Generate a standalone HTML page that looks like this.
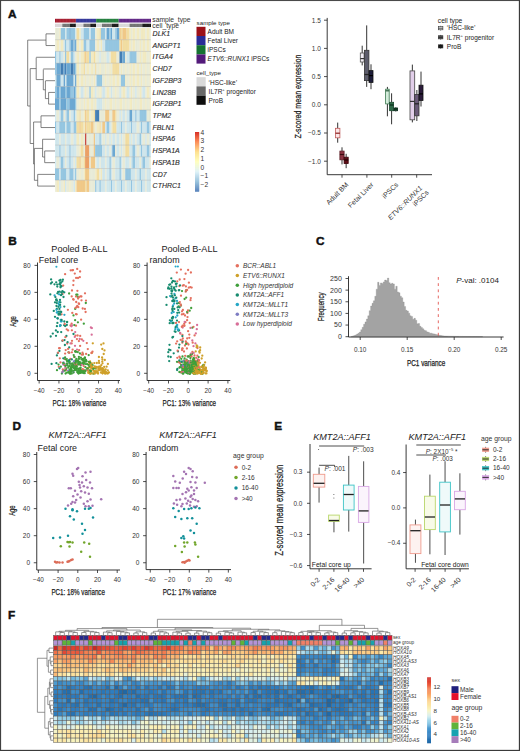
<!DOCTYPE html>
<html><head><meta charset="utf-8"><title>Figure</title>
<style>
html,body{margin:0;padding:0;background:#fff;}
body{width:520px;height:751px;overflow:hidden;}
svg{display:block;font-family:"Liberation Sans", sans-serif;}
</style></head>
<body>
<svg width="520" height="751" viewBox="0 0 520 751">
<rect x="0" y="0" width="520" height="751" fill="#fff"/>
<text x="7.90" y="17.90" font-size="11.8" fill="#111" stroke="#111" stroke-width="0.45" font-weight="bold">A</text>
<rect x="55.00" y="28.00" width="4.30" height="11.71" fill="#eef1dc"/>
<rect x="59.30" y="28.00" width="1.43" height="11.71" fill="#f8f0c4"/>
<rect x="60.73" y="28.00" width="4.30" height="11.71" fill="#94c9e6"/>
<rect x="65.03" y="28.00" width="1.43" height="11.71" fill="#d4ecf2"/>
<rect x="66.46" y="28.00" width="2.87" height="11.71" fill="#94c9e6"/>
<rect x="69.33" y="28.00" width="1.43" height="11.71" fill="#67a8d6"/>
<rect x="70.76" y="28.00" width="4.30" height="11.71" fill="#94c9e6"/>
<rect x="75.06" y="28.00" width="1.43" height="11.71" fill="#d4ecf2"/>
<rect x="76.49" y="28.00" width="2.87" height="11.71" fill="#f8e2a2"/>
<rect x="79.36" y="28.00" width="1.43" height="11.71" fill="#f8f0c4"/>
<rect x="80.79" y="28.00" width="2.87" height="11.71" fill="#d4ecf2"/>
<rect x="83.66" y="28.00" width="5.73" height="11.71" fill="#94c9e6"/>
<rect x="89.39" y="28.00" width="1.43" height="11.71" fill="#d4ecf2"/>
<rect x="90.82" y="28.00" width="4.30" height="11.71" fill="#94c9e6"/>
<rect x="95.12" y="28.00" width="1.43" height="11.71" fill="#eef1dc"/>
<rect x="96.55" y="28.00" width="2.87" height="11.71" fill="#f8f0c4"/>
<rect x="99.42" y="28.00" width="1.43" height="11.71" fill="#f8e2a2"/>
<rect x="100.85" y="28.00" width="4.30" height="11.71" fill="#94c9e6"/>
<rect x="105.15" y="28.00" width="1.43" height="11.71" fill="#d4ecf2"/>
<rect x="106.58" y="28.00" width="2.87" height="11.71" fill="#67a8d6"/>
<rect x="109.45" y="28.00" width="1.43" height="11.71" fill="#94c9e6"/>
<rect x="110.88" y="28.00" width="1.43" height="11.71" fill="#67a8d6"/>
<rect x="112.31" y="28.00" width="2.87" height="11.71" fill="#d4ecf2"/>
<rect x="115.18" y="28.00" width="1.43" height="11.71" fill="#94c9e6"/>
<rect x="116.61" y="28.00" width="2.87" height="11.71" fill="#67a8d6"/>
<rect x="119.48" y="28.00" width="1.43" height="11.71" fill="#f7cc86"/>
<rect x="120.91" y="28.00" width="1.43" height="11.71" fill="#f8e2a2"/>
<rect x="122.34" y="28.00" width="4.30" height="11.71" fill="#f7cc86"/>
<rect x="126.64" y="28.00" width="2.87" height="11.71" fill="#f8e2a2"/>
<rect x="129.51" y="28.00" width="1.43" height="11.71" fill="#f8f0c4"/>
<rect x="130.94" y="28.00" width="1.43" height="11.71" fill="#eef1dc"/>
<rect x="132.37" y="28.00" width="2.87" height="11.71" fill="#f8f0c4"/>
<rect x="135.24" y="28.00" width="1.43" height="11.71" fill="#eef1dc"/>
<rect x="136.67" y="28.00" width="2.87" height="11.71" fill="#f8f0c4"/>
<rect x="139.54" y="28.00" width="1.43" height="11.71" fill="#eef1dc"/>
<rect x="140.97" y="28.00" width="4.30" height="11.71" fill="#f8f0c4"/>
<rect x="145.27" y="28.00" width="1.43" height="11.71" fill="#eef1dc"/>
<rect x="146.70" y="28.00" width="2.87" height="11.71" fill="#f8f0c4"/>
<rect x="149.57" y="28.00" width="1.43" height="11.71" fill="#eef1dc"/>
<rect x="55.00" y="39.71" width="1.43" height="11.71" fill="#eef1dc"/>
<rect x="56.43" y="39.71" width="2.87" height="11.71" fill="#f8f0c4"/>
<rect x="59.30" y="39.71" width="1.43" height="11.71" fill="#eef1dc"/>
<rect x="60.73" y="39.71" width="2.87" height="11.71" fill="#f8f0c4"/>
<rect x="63.60" y="39.71" width="1.43" height="11.71" fill="#d4ecf2"/>
<rect x="65.03" y="39.71" width="1.43" height="11.71" fill="#94c9e6"/>
<rect x="66.46" y="39.71" width="2.87" height="11.71" fill="#d4ecf2"/>
<rect x="69.33" y="39.71" width="1.43" height="11.71" fill="#94c9e6"/>
<rect x="70.76" y="39.71" width="2.87" height="11.71" fill="#67a8d6"/>
<rect x="73.63" y="39.71" width="1.43" height="11.71" fill="#94c9e6"/>
<rect x="75.06" y="39.71" width="1.43" height="11.71" fill="#67a8d6"/>
<rect x="76.49" y="39.71" width="2.87" height="11.71" fill="#f8f0c4"/>
<rect x="79.36" y="39.71" width="1.43" height="11.71" fill="#eef1dc"/>
<rect x="80.79" y="39.71" width="2.87" height="11.71" fill="#f8f0c4"/>
<rect x="83.66" y="39.71" width="2.87" height="11.71" fill="#94c9e6"/>
<rect x="86.52" y="39.71" width="2.87" height="11.71" fill="#d4ecf2"/>
<rect x="89.39" y="39.71" width="5.73" height="11.71" fill="#94c9e6"/>
<rect x="95.12" y="39.71" width="1.43" height="11.71" fill="#eef1dc"/>
<rect x="96.55" y="39.71" width="2.87" height="11.71" fill="#f8f0c4"/>
<rect x="99.42" y="39.71" width="1.43" height="11.71" fill="#eef1dc"/>
<rect x="100.85" y="39.71" width="1.43" height="11.71" fill="#f8f0c4"/>
<rect x="102.28" y="39.71" width="2.87" height="11.71" fill="#d4ecf2"/>
<rect x="105.15" y="39.71" width="14.33" height="11.71" fill="#94c9e6"/>
<rect x="119.48" y="39.71" width="1.43" height="11.71" fill="#f8e2a2"/>
<rect x="120.91" y="39.71" width="1.43" height="11.71" fill="#f7cc86"/>
<rect x="122.34" y="39.71" width="7.16" height="11.71" fill="#f8e2a2"/>
<rect x="129.51" y="39.71" width="1.43" height="11.71" fill="#f8f0c4"/>
<rect x="130.94" y="39.71" width="1.43" height="11.71" fill="#eef1dc"/>
<rect x="132.37" y="39.71" width="2.87" height="11.71" fill="#f8f0c4"/>
<rect x="135.24" y="39.71" width="4.30" height="11.71" fill="#eef1dc"/>
<rect x="139.54" y="39.71" width="1.43" height="11.71" fill="#f8f0c4"/>
<rect x="140.97" y="39.71" width="1.43" height="11.71" fill="#eef1dc"/>
<rect x="142.40" y="39.71" width="2.87" height="11.71" fill="#f8f0c4"/>
<rect x="145.27" y="39.71" width="1.43" height="11.71" fill="#eef1dc"/>
<rect x="146.70" y="39.71" width="2.87" height="11.71" fill="#f8f0c4"/>
<rect x="149.57" y="39.71" width="1.43" height="11.71" fill="#eef1dc"/>
<rect x="55.00" y="51.42" width="1.43" height="11.71" fill="#94c9e6"/>
<rect x="56.43" y="51.42" width="2.87" height="11.71" fill="#d4ecf2"/>
<rect x="59.30" y="51.42" width="1.43" height="11.71" fill="#94c9e6"/>
<rect x="60.73" y="51.42" width="2.87" height="11.71" fill="#d4ecf2"/>
<rect x="63.60" y="51.42" width="1.43" height="11.71" fill="#eef1dc"/>
<rect x="65.03" y="51.42" width="1.43" height="11.71" fill="#94c9e6"/>
<rect x="66.46" y="51.42" width="2.87" height="11.71" fill="#f8e2a2"/>
<rect x="69.33" y="51.42" width="1.43" height="11.71" fill="#eef1dc"/>
<rect x="70.76" y="51.42" width="2.87" height="11.71" fill="#94c9e6"/>
<rect x="73.63" y="51.42" width="1.43" height="11.71" fill="#d4ecf2"/>
<rect x="75.06" y="51.42" width="1.43" height="11.71" fill="#eef1dc"/>
<rect x="76.49" y="51.42" width="2.87" height="11.71" fill="#f8f0c4"/>
<rect x="79.36" y="51.42" width="1.43" height="11.71" fill="#eef1dc"/>
<rect x="80.79" y="51.42" width="2.87" height="11.71" fill="#f8f0c4"/>
<rect x="83.66" y="51.42" width="1.43" height="11.71" fill="#f8e2a2"/>
<rect x="85.09" y="51.42" width="1.43" height="11.71" fill="#f7cc86"/>
<rect x="86.52" y="51.42" width="2.87" height="11.71" fill="#f8e2a2"/>
<rect x="89.39" y="51.42" width="1.43" height="11.71" fill="#94c9e6"/>
<rect x="90.82" y="51.42" width="2.87" height="11.71" fill="#f8f0c4"/>
<rect x="93.69" y="51.42" width="1.43" height="11.71" fill="#f8e2a2"/>
<rect x="95.12" y="51.42" width="1.43" height="11.71" fill="#f8f0c4"/>
<rect x="96.55" y="51.42" width="2.87" height="11.71" fill="#eef1dc"/>
<rect x="99.42" y="51.42" width="1.43" height="11.71" fill="#d4ecf2"/>
<rect x="100.85" y="51.42" width="5.73" height="11.71" fill="#eef1dc"/>
<rect x="106.58" y="51.42" width="2.87" height="11.71" fill="#d4ecf2"/>
<rect x="109.45" y="51.42" width="1.43" height="11.71" fill="#eef1dc"/>
<rect x="110.88" y="51.42" width="5.73" height="11.71" fill="#f8e2a2"/>
<rect x="116.61" y="51.42" width="2.87" height="11.71" fill="#eef1dc"/>
<rect x="119.48" y="51.42" width="2.87" height="11.71" fill="#3d7cb6"/>
<rect x="122.34" y="51.42" width="2.87" height="11.71" fill="#67a8d6"/>
<rect x="125.21" y="51.42" width="1.43" height="11.71" fill="#eef1dc"/>
<rect x="126.64" y="51.42" width="2.87" height="11.71" fill="#d4ecf2"/>
<rect x="129.51" y="51.42" width="7.16" height="11.71" fill="#94c9e6"/>
<rect x="136.67" y="51.42" width="2.87" height="11.71" fill="#eef1dc"/>
<rect x="139.54" y="51.42" width="1.43" height="11.71" fill="#f8f0c4"/>
<rect x="140.97" y="51.42" width="1.43" height="11.71" fill="#eef1dc"/>
<rect x="142.40" y="51.42" width="4.30" height="11.71" fill="#f8f0c4"/>
<rect x="146.70" y="51.42" width="2.87" height="11.71" fill="#eef1dc"/>
<rect x="149.57" y="51.42" width="1.43" height="11.71" fill="#f8f0c4"/>
<rect x="55.00" y="63.13" width="1.43" height="11.71" fill="#94c9e6"/>
<rect x="56.43" y="63.13" width="4.30" height="11.71" fill="#67a8d6"/>
<rect x="60.73" y="63.13" width="2.87" height="11.71" fill="#3d7cb6"/>
<rect x="63.60" y="63.13" width="1.43" height="11.71" fill="#67a8d6"/>
<rect x="65.03" y="63.13" width="1.43" height="11.71" fill="#3d7cb6"/>
<rect x="66.46" y="63.13" width="4.30" height="11.71" fill="#67a8d6"/>
<rect x="70.76" y="63.13" width="2.87" height="11.71" fill="#3d7cb6"/>
<rect x="73.63" y="63.13" width="1.43" height="11.71" fill="#67a8d6"/>
<rect x="75.06" y="63.13" width="1.43" height="11.71" fill="#94c9e6"/>
<rect x="76.49" y="63.13" width="2.87" height="11.71" fill="#f8f0c4"/>
<rect x="79.36" y="63.13" width="1.43" height="11.71" fill="#eef1dc"/>
<rect x="80.79" y="63.13" width="2.87" height="11.71" fill="#f8f0c4"/>
<rect x="83.66" y="63.13" width="1.43" height="11.71" fill="#f8e2a2"/>
<rect x="85.09" y="63.13" width="1.43" height="11.71" fill="#eef1dc"/>
<rect x="86.52" y="63.13" width="2.87" height="11.71" fill="#f8f0c4"/>
<rect x="89.39" y="63.13" width="1.43" height="11.71" fill="#eef1dc"/>
<rect x="90.82" y="63.13" width="2.87" height="11.71" fill="#f8f0c4"/>
<rect x="93.69" y="63.13" width="1.43" height="11.71" fill="#eef1dc"/>
<rect x="95.12" y="63.13" width="1.43" height="11.71" fill="#f8e2a2"/>
<rect x="96.55" y="63.13" width="2.87" height="11.71" fill="#eef1dc"/>
<rect x="99.42" y="63.13" width="1.43" height="11.71" fill="#f8f0c4"/>
<rect x="100.85" y="63.13" width="4.30" height="11.71" fill="#eef1dc"/>
<rect x="105.15" y="63.13" width="1.43" height="11.71" fill="#f8f0c4"/>
<rect x="106.58" y="63.13" width="2.87" height="11.71" fill="#eef1dc"/>
<rect x="109.45" y="63.13" width="1.43" height="11.71" fill="#f8f0c4"/>
<rect x="110.88" y="63.13" width="1.43" height="11.71" fill="#eef1dc"/>
<rect x="112.31" y="63.13" width="7.16" height="11.71" fill="#f8e2a2"/>
<rect x="119.48" y="63.13" width="1.43" height="11.71" fill="#eef1dc"/>
<rect x="120.91" y="63.13" width="1.43" height="11.71" fill="#f8f0c4"/>
<rect x="122.34" y="63.13" width="2.87" height="11.71" fill="#eef1dc"/>
<rect x="125.21" y="63.13" width="1.43" height="11.71" fill="#f8f0c4"/>
<rect x="126.64" y="63.13" width="2.87" height="11.71" fill="#eef1dc"/>
<rect x="129.51" y="63.13" width="1.43" height="11.71" fill="#f8f0c4"/>
<rect x="130.94" y="63.13" width="1.43" height="11.71" fill="#eef1dc"/>
<rect x="132.37" y="63.13" width="2.87" height="11.71" fill="#f8f0c4"/>
<rect x="135.24" y="63.13" width="1.43" height="11.71" fill="#eef1dc"/>
<rect x="136.67" y="63.13" width="2.87" height="11.71" fill="#f8f0c4"/>
<rect x="139.54" y="63.13" width="1.43" height="11.71" fill="#eef1dc"/>
<rect x="140.97" y="63.13" width="1.43" height="11.71" fill="#f8f0c4"/>
<rect x="142.40" y="63.13" width="2.87" height="11.71" fill="#eef1dc"/>
<rect x="145.27" y="63.13" width="1.43" height="11.71" fill="#f8f0c4"/>
<rect x="146.70" y="63.13" width="2.87" height="11.71" fill="#eef1dc"/>
<rect x="149.57" y="63.13" width="1.43" height="11.71" fill="#f8f0c4"/>
<rect x="55.00" y="74.84" width="1.43" height="11.71" fill="#d4ecf2"/>
<rect x="56.43" y="74.84" width="4.30" height="11.71" fill="#67a8d6"/>
<rect x="60.73" y="74.84" width="2.87" height="11.71" fill="#d4ecf2"/>
<rect x="63.60" y="74.84" width="1.43" height="11.71" fill="#67a8d6"/>
<rect x="65.03" y="74.84" width="1.43" height="11.71" fill="#d4ecf2"/>
<rect x="66.46" y="74.84" width="7.16" height="11.71" fill="#67a8d6"/>
<rect x="73.63" y="74.84" width="1.43" height="11.71" fill="#d4ecf2"/>
<rect x="75.06" y="74.84" width="1.43" height="11.71" fill="#67a8d6"/>
<rect x="76.49" y="74.84" width="2.87" height="11.71" fill="#f8f0c4"/>
<rect x="79.36" y="74.84" width="1.43" height="11.71" fill="#eef1dc"/>
<rect x="80.79" y="74.84" width="2.87" height="11.71" fill="#f8f0c4"/>
<rect x="83.66" y="74.84" width="1.43" height="11.71" fill="#eef1dc"/>
<rect x="85.09" y="74.84" width="1.43" height="11.71" fill="#f8f0c4"/>
<rect x="86.52" y="74.84" width="2.87" height="11.71" fill="#eef1dc"/>
<rect x="89.39" y="74.84" width="1.43" height="11.71" fill="#f8f0c4"/>
<rect x="90.82" y="74.84" width="2.87" height="11.71" fill="#eef1dc"/>
<rect x="93.69" y="74.84" width="1.43" height="11.71" fill="#f8f0c4"/>
<rect x="95.12" y="74.84" width="1.43" height="11.71" fill="#eef1dc"/>
<rect x="96.55" y="74.84" width="5.73" height="11.71" fill="#94c9e6"/>
<rect x="102.28" y="74.84" width="2.87" height="11.71" fill="#eef1dc"/>
<rect x="105.15" y="74.84" width="1.43" height="11.71" fill="#f8f0c4"/>
<rect x="106.58" y="74.84" width="2.87" height="11.71" fill="#eef1dc"/>
<rect x="109.45" y="74.84" width="1.43" height="11.71" fill="#f8f0c4"/>
<rect x="110.88" y="74.84" width="1.43" height="11.71" fill="#eef1dc"/>
<rect x="112.31" y="74.84" width="2.87" height="11.71" fill="#f8f0c4"/>
<rect x="115.18" y="74.84" width="1.43" height="11.71" fill="#eef1dc"/>
<rect x="116.61" y="74.84" width="2.87" height="11.71" fill="#f8f0c4"/>
<rect x="119.48" y="74.84" width="1.43" height="11.71" fill="#eef1dc"/>
<rect x="120.91" y="74.84" width="4.30" height="11.71" fill="#94c9e6"/>
<rect x="125.21" y="74.84" width="1.43" height="11.71" fill="#f8f0c4"/>
<rect x="126.64" y="74.84" width="2.87" height="11.71" fill="#eef1dc"/>
<rect x="129.51" y="74.84" width="1.43" height="11.71" fill="#f8f0c4"/>
<rect x="130.94" y="74.84" width="1.43" height="11.71" fill="#eef1dc"/>
<rect x="132.37" y="74.84" width="2.87" height="11.71" fill="#f8f0c4"/>
<rect x="135.24" y="74.84" width="1.43" height="11.71" fill="#eef1dc"/>
<rect x="136.67" y="74.84" width="2.87" height="11.71" fill="#f8f0c4"/>
<rect x="139.54" y="74.84" width="1.43" height="11.71" fill="#eef1dc"/>
<rect x="140.97" y="74.84" width="1.43" height="11.71" fill="#f8f0c4"/>
<rect x="142.40" y="74.84" width="2.87" height="11.71" fill="#eef1dc"/>
<rect x="145.27" y="74.84" width="1.43" height="11.71" fill="#f8f0c4"/>
<rect x="146.70" y="74.84" width="2.87" height="11.71" fill="#eef1dc"/>
<rect x="149.57" y="74.84" width="1.43" height="11.71" fill="#f8f0c4"/>
<rect x="55.00" y="86.55" width="1.43" height="11.71" fill="#94c9e6"/>
<rect x="56.43" y="86.55" width="2.87" height="11.71" fill="#67a8d6"/>
<rect x="59.30" y="86.55" width="1.43" height="11.71" fill="#94c9e6"/>
<rect x="60.73" y="86.55" width="4.30" height="11.71" fill="#67a8d6"/>
<rect x="65.03" y="86.55" width="1.43" height="11.71" fill="#94c9e6"/>
<rect x="66.46" y="86.55" width="4.30" height="11.71" fill="#67a8d6"/>
<rect x="70.76" y="86.55" width="2.87" height="11.71" fill="#94c9e6"/>
<rect x="73.63" y="86.55" width="1.43" height="11.71" fill="#67a8d6"/>
<rect x="75.06" y="86.55" width="1.43" height="11.71" fill="#94c9e6"/>
<rect x="76.49" y="86.55" width="2.87" height="11.71" fill="#f8f0c4"/>
<rect x="79.36" y="86.55" width="1.43" height="11.71" fill="#eef1dc"/>
<rect x="80.79" y="86.55" width="2.87" height="11.71" fill="#d4ecf2"/>
<rect x="83.66" y="86.55" width="1.43" height="11.71" fill="#eef1dc"/>
<rect x="85.09" y="86.55" width="1.43" height="11.71" fill="#f8f0c4"/>
<rect x="86.52" y="86.55" width="2.87" height="11.71" fill="#eef1dc"/>
<rect x="89.39" y="86.55" width="1.43" height="11.71" fill="#94c9e6"/>
<rect x="90.82" y="86.55" width="2.87" height="11.71" fill="#f8f0c4"/>
<rect x="93.69" y="86.55" width="1.43" height="11.71" fill="#eef1dc"/>
<rect x="95.12" y="86.55" width="1.43" height="11.71" fill="#d4ecf2"/>
<rect x="96.55" y="86.55" width="2.87" height="11.71" fill="#eef1dc"/>
<rect x="99.42" y="86.55" width="1.43" height="11.71" fill="#f8f0c4"/>
<rect x="100.85" y="86.55" width="1.43" height="11.71" fill="#eef1dc"/>
<rect x="102.28" y="86.55" width="2.87" height="11.71" fill="#d4ecf2"/>
<rect x="105.15" y="86.55" width="1.43" height="11.71" fill="#eef1dc"/>
<rect x="106.58" y="86.55" width="2.87" height="11.71" fill="#f8f0c4"/>
<rect x="109.45" y="86.55" width="1.43" height="11.71" fill="#eef1dc"/>
<rect x="110.88" y="86.55" width="1.43" height="11.71" fill="#d4ecf2"/>
<rect x="112.31" y="86.55" width="2.87" height="11.71" fill="#eef1dc"/>
<rect x="115.18" y="86.55" width="1.43" height="11.71" fill="#f8f0c4"/>
<rect x="116.61" y="86.55" width="2.87" height="11.71" fill="#eef1dc"/>
<rect x="119.48" y="86.55" width="1.43" height="11.71" fill="#d4ecf2"/>
<rect x="120.91" y="86.55" width="1.43" height="11.71" fill="#eef1dc"/>
<rect x="122.34" y="86.55" width="2.87" height="11.71" fill="#f8f0c4"/>
<rect x="125.21" y="86.55" width="1.43" height="11.71" fill="#eef1dc"/>
<rect x="126.64" y="86.55" width="2.87" height="11.71" fill="#d4ecf2"/>
<rect x="129.51" y="86.55" width="1.43" height="11.71" fill="#eef1dc"/>
<rect x="130.94" y="86.55" width="1.43" height="11.71" fill="#f8f0c4"/>
<rect x="132.37" y="86.55" width="2.87" height="11.71" fill="#eef1dc"/>
<rect x="135.24" y="86.55" width="1.43" height="11.71" fill="#d4ecf2"/>
<rect x="136.67" y="86.55" width="2.87" height="11.71" fill="#eef1dc"/>
<rect x="139.54" y="86.55" width="1.43" height="11.71" fill="#f8f0c4"/>
<rect x="140.97" y="86.55" width="1.43" height="11.71" fill="#eef1dc"/>
<rect x="142.40" y="86.55" width="2.87" height="11.71" fill="#d4ecf2"/>
<rect x="145.27" y="86.55" width="1.43" height="11.71" fill="#eef1dc"/>
<rect x="146.70" y="86.55" width="2.87" height="11.71" fill="#f8f0c4"/>
<rect x="149.57" y="86.55" width="1.43" height="11.71" fill="#eef1dc"/>
<rect x="55.00" y="98.26" width="4.30" height="11.71" fill="#67a8d6"/>
<rect x="59.30" y="98.26" width="1.43" height="11.71" fill="#94c9e6"/>
<rect x="60.73" y="98.26" width="5.73" height="11.71" fill="#67a8d6"/>
<rect x="66.46" y="98.26" width="2.87" height="11.71" fill="#94c9e6"/>
<rect x="69.33" y="98.26" width="5.73" height="11.71" fill="#67a8d6"/>
<rect x="75.06" y="98.26" width="1.43" height="11.71" fill="#94c9e6"/>
<rect x="76.49" y="98.26" width="2.87" height="11.71" fill="#eef1dc"/>
<rect x="79.36" y="98.26" width="1.43" height="11.71" fill="#f8f0c4"/>
<rect x="80.79" y="98.26" width="2.87" height="11.71" fill="#eef1dc"/>
<rect x="83.66" y="98.26" width="1.43" height="11.71" fill="#f8f0c4"/>
<rect x="85.09" y="98.26" width="1.43" height="11.71" fill="#eef1dc"/>
<rect x="86.52" y="98.26" width="2.87" height="11.71" fill="#f8f0c4"/>
<rect x="89.39" y="98.26" width="1.43" height="11.71" fill="#eef1dc"/>
<rect x="90.82" y="98.26" width="2.87" height="11.71" fill="#f8f0c4"/>
<rect x="93.69" y="98.26" width="1.43" height="11.71" fill="#eef1dc"/>
<rect x="95.12" y="98.26" width="1.43" height="11.71" fill="#f8f0c4"/>
<rect x="96.55" y="98.26" width="5.73" height="11.71" fill="#d4ecf2"/>
<rect x="102.28" y="98.26" width="2.87" height="11.71" fill="#eef1dc"/>
<rect x="105.15" y="98.26" width="1.43" height="11.71" fill="#f8f0c4"/>
<rect x="106.58" y="98.26" width="2.87" height="11.71" fill="#eef1dc"/>
<rect x="109.45" y="98.26" width="2.87" height="11.71" fill="#f8f0c4"/>
<rect x="112.31" y="98.26" width="2.87" height="11.71" fill="#eef1dc"/>
<rect x="115.18" y="98.26" width="1.43" height="11.71" fill="#f8f0c4"/>
<rect x="116.61" y="98.26" width="2.87" height="11.71" fill="#eef1dc"/>
<rect x="119.48" y="98.26" width="2.87" height="11.71" fill="#f8f0c4"/>
<rect x="122.34" y="98.26" width="2.87" height="11.71" fill="#eef1dc"/>
<rect x="125.21" y="98.26" width="1.43" height="11.71" fill="#f8f0c4"/>
<rect x="126.64" y="98.26" width="2.87" height="11.71" fill="#eef1dc"/>
<rect x="129.51" y="98.26" width="2.87" height="11.71" fill="#f8f0c4"/>
<rect x="132.37" y="98.26" width="2.87" height="11.71" fill="#eef1dc"/>
<rect x="135.24" y="98.26" width="1.43" height="11.71" fill="#f8f0c4"/>
<rect x="136.67" y="98.26" width="2.87" height="11.71" fill="#eef1dc"/>
<rect x="139.54" y="98.26" width="2.87" height="11.71" fill="#f8f0c4"/>
<rect x="142.40" y="98.26" width="2.87" height="11.71" fill="#eef1dc"/>
<rect x="145.27" y="98.26" width="1.43" height="11.71" fill="#f8f0c4"/>
<rect x="146.70" y="98.26" width="2.87" height="11.71" fill="#eef1dc"/>
<rect x="149.57" y="98.26" width="1.43" height="11.71" fill="#f8f0c4"/>
<rect x="55.00" y="109.97" width="1.43" height="11.71" fill="#d4ecf2"/>
<rect x="56.43" y="109.97" width="2.87" height="11.71" fill="#eef1dc"/>
<rect x="59.30" y="109.97" width="1.43" height="11.71" fill="#d4ecf2"/>
<rect x="60.73" y="109.97" width="2.87" height="11.71" fill="#94c9e6"/>
<rect x="63.60" y="109.97" width="1.43" height="11.71" fill="#eef1dc"/>
<rect x="65.03" y="109.97" width="1.43" height="11.71" fill="#d4ecf2"/>
<rect x="66.46" y="109.97" width="2.87" height="11.71" fill="#94c9e6"/>
<rect x="69.33" y="109.97" width="1.43" height="11.71" fill="#eef1dc"/>
<rect x="70.76" y="109.97" width="2.87" height="11.71" fill="#d4ecf2"/>
<rect x="73.63" y="109.97" width="1.43" height="11.71" fill="#94c9e6"/>
<rect x="75.06" y="109.97" width="1.43" height="11.71" fill="#d4ecf2"/>
<rect x="76.49" y="109.97" width="2.87" height="11.71" fill="#f8f0c4"/>
<rect x="79.36" y="109.97" width="1.43" height="11.71" fill="#f8e2a2"/>
<rect x="80.79" y="109.97" width="2.87" height="11.71" fill="#eef1dc"/>
<rect x="83.66" y="109.97" width="1.43" height="11.71" fill="#f8f0c4"/>
<rect x="85.09" y="109.97" width="1.43" height="11.71" fill="#f7cc86"/>
<rect x="86.52" y="109.97" width="2.87" height="11.71" fill="#f8e2a2"/>
<rect x="89.39" y="109.97" width="1.43" height="11.71" fill="#eef1dc"/>
<rect x="90.82" y="109.97" width="2.87" height="11.71" fill="#f8f0c4"/>
<rect x="93.69" y="109.97" width="1.43" height="11.71" fill="#f8e2a2"/>
<rect x="95.12" y="109.97" width="4.30" height="11.71" fill="#3d7cb6"/>
<rect x="99.42" y="109.97" width="5.73" height="11.71" fill="#eef1dc"/>
<rect x="105.15" y="109.97" width="4.30" height="11.71" fill="#f7cc86"/>
<rect x="109.45" y="109.97" width="2.87" height="11.71" fill="#eef1dc"/>
<rect x="112.31" y="109.97" width="2.87" height="11.71" fill="#f7cc86"/>
<rect x="115.18" y="109.97" width="1.43" height="11.71" fill="#f8e2a2"/>
<rect x="116.61" y="109.97" width="2.87" height="11.71" fill="#eef1dc"/>
<rect x="119.48" y="109.97" width="1.43" height="11.71" fill="#d4ecf2"/>
<rect x="120.91" y="109.97" width="1.43" height="11.71" fill="#eef1dc"/>
<rect x="122.34" y="109.97" width="2.87" height="11.71" fill="#d4ecf2"/>
<rect x="125.21" y="109.97" width="1.43" height="11.71" fill="#eef1dc"/>
<rect x="126.64" y="109.97" width="2.87" height="11.71" fill="#d4ecf2"/>
<rect x="129.51" y="109.97" width="2.87" height="11.71" fill="#67a8d6"/>
<rect x="132.37" y="109.97" width="2.87" height="11.71" fill="#d4ecf2"/>
<rect x="135.24" y="109.97" width="1.43" height="11.71" fill="#94c9e6"/>
<rect x="136.67" y="109.97" width="2.87" height="11.71" fill="#d4ecf2"/>
<rect x="139.54" y="109.97" width="7.16" height="11.71" fill="#94c9e6"/>
<rect x="146.70" y="109.97" width="4.30" height="11.71" fill="#eef1dc"/>
<rect x="55.00" y="121.68" width="1.43" height="11.71" fill="#94c9e6"/>
<rect x="56.43" y="121.68" width="2.87" height="11.71" fill="#d4ecf2"/>
<rect x="59.30" y="121.68" width="5.73" height="11.71" fill="#94c9e6"/>
<rect x="65.03" y="121.68" width="1.43" height="11.71" fill="#d4ecf2"/>
<rect x="66.46" y="121.68" width="4.30" height="11.71" fill="#94c9e6"/>
<rect x="70.76" y="121.68" width="2.87" height="11.71" fill="#d4ecf2"/>
<rect x="73.63" y="121.68" width="2.87" height="11.71" fill="#94c9e6"/>
<rect x="76.49" y="121.68" width="2.87" height="11.71" fill="#f8e2a2"/>
<rect x="79.36" y="121.68" width="1.43" height="11.71" fill="#f7cc86"/>
<rect x="80.79" y="121.68" width="2.87" height="11.71" fill="#f8e2a2"/>
<rect x="83.66" y="121.68" width="1.43" height="11.71" fill="#f8f0c4"/>
<rect x="85.09" y="121.68" width="1.43" height="11.71" fill="#f7cc86"/>
<rect x="86.52" y="121.68" width="4.30" height="11.71" fill="#f8e2a2"/>
<rect x="90.82" y="121.68" width="2.87" height="11.71" fill="#f7cc86"/>
<rect x="93.69" y="121.68" width="1.43" height="11.71" fill="#f8f0c4"/>
<rect x="95.12" y="121.68" width="1.43" height="11.71" fill="#eef1dc"/>
<rect x="96.55" y="121.68" width="2.87" height="11.71" fill="#f8f0c4"/>
<rect x="99.42" y="121.68" width="1.43" height="11.71" fill="#f8e2a2"/>
<rect x="100.85" y="121.68" width="1.43" height="11.71" fill="#eef1dc"/>
<rect x="102.28" y="121.68" width="2.87" height="11.71" fill="#f7cc86"/>
<rect x="105.15" y="121.68" width="1.43" height="11.71" fill="#d4ecf2"/>
<rect x="106.58" y="121.68" width="2.87" height="11.71" fill="#94c9e6"/>
<rect x="109.45" y="121.68" width="1.43" height="11.71" fill="#d4ecf2"/>
<rect x="110.88" y="121.68" width="1.43" height="11.71" fill="#eef1dc"/>
<rect x="112.31" y="121.68" width="4.30" height="11.71" fill="#f8e2a2"/>
<rect x="116.61" y="121.68" width="4.30" height="11.71" fill="#d4ecf2"/>
<rect x="120.91" y="121.68" width="1.43" height="11.71" fill="#94c9e6"/>
<rect x="122.34" y="121.68" width="2.87" height="11.71" fill="#d4ecf2"/>
<rect x="125.21" y="121.68" width="1.43" height="11.71" fill="#eef1dc"/>
<rect x="126.64" y="121.68" width="4.30" height="11.71" fill="#d4ecf2"/>
<rect x="130.94" y="121.68" width="1.43" height="11.71" fill="#94c9e6"/>
<rect x="132.37" y="121.68" width="4.30" height="11.71" fill="#d4ecf2"/>
<rect x="136.67" y="121.68" width="2.87" height="11.71" fill="#eef1dc"/>
<rect x="139.54" y="121.68" width="1.43" height="11.71" fill="#d4ecf2"/>
<rect x="140.97" y="121.68" width="1.43" height="11.71" fill="#94c9e6"/>
<rect x="142.40" y="121.68" width="4.30" height="11.71" fill="#d4ecf2"/>
<rect x="146.70" y="121.68" width="2.87" height="11.71" fill="#94c9e6"/>
<rect x="149.57" y="121.68" width="1.43" height="11.71" fill="#d4ecf2"/>
<rect x="55.00" y="133.39" width="4.30" height="11.71" fill="#d4ecf2"/>
<rect x="59.30" y="133.39" width="1.43" height="11.71" fill="#eef1dc"/>
<rect x="60.73" y="133.39" width="4.30" height="11.71" fill="#d4ecf2"/>
<rect x="65.03" y="133.39" width="1.43" height="11.71" fill="#eef1dc"/>
<rect x="66.46" y="133.39" width="4.30" height="11.71" fill="#d4ecf2"/>
<rect x="70.76" y="133.39" width="2.87" height="11.71" fill="#eef1dc"/>
<rect x="73.63" y="133.39" width="2.87" height="11.71" fill="#d4ecf2"/>
<rect x="76.49" y="133.39" width="2.87" height="11.71" fill="#f8f0c4"/>
<rect x="79.36" y="133.39" width="1.43" height="11.71" fill="#eef1dc"/>
<rect x="80.79" y="133.39" width="2.87" height="11.71" fill="#f8f0c4"/>
<rect x="83.66" y="133.39" width="1.43" height="11.71" fill="#eef1dc"/>
<rect x="85.09" y="133.39" width="1.43" height="11.71" fill="#c8342a"/>
<rect x="86.52" y="133.39" width="7.16" height="11.71" fill="#eef1dc"/>
<rect x="93.69" y="133.39" width="1.43" height="11.71" fill="#f7cc86"/>
<rect x="95.12" y="133.39" width="4.30" height="11.71" fill="#d4ecf2"/>
<rect x="99.42" y="133.39" width="1.43" height="11.71" fill="#94c9e6"/>
<rect x="100.85" y="133.39" width="1.43" height="11.71" fill="#d4ecf2"/>
<rect x="102.28" y="133.39" width="2.87" height="11.71" fill="#eef1dc"/>
<rect x="105.15" y="133.39" width="1.43" height="11.71" fill="#d4ecf2"/>
<rect x="106.58" y="133.39" width="2.87" height="11.71" fill="#eef1dc"/>
<rect x="109.45" y="133.39" width="1.43" height="11.71" fill="#d4ecf2"/>
<rect x="110.88" y="133.39" width="1.43" height="11.71" fill="#eef1dc"/>
<rect x="112.31" y="133.39" width="2.87" height="11.71" fill="#d4ecf2"/>
<rect x="115.18" y="133.39" width="1.43" height="11.71" fill="#eef1dc"/>
<rect x="116.61" y="133.39" width="2.87" height="11.71" fill="#d4ecf2"/>
<rect x="119.48" y="133.39" width="1.43" height="11.71" fill="#eef1dc"/>
<rect x="120.91" y="133.39" width="1.43" height="11.71" fill="#d4ecf2"/>
<rect x="122.34" y="133.39" width="2.87" height="11.71" fill="#eef1dc"/>
<rect x="125.21" y="133.39" width="4.30" height="11.71" fill="#f8e2a2"/>
<rect x="129.51" y="133.39" width="1.43" height="11.71" fill="#d4ecf2"/>
<rect x="130.94" y="133.39" width="1.43" height="11.71" fill="#eef1dc"/>
<rect x="132.37" y="133.39" width="2.87" height="11.71" fill="#d4ecf2"/>
<rect x="135.24" y="133.39" width="1.43" height="11.71" fill="#eef1dc"/>
<rect x="136.67" y="133.39" width="2.87" height="11.71" fill="#d4ecf2"/>
<rect x="139.54" y="133.39" width="1.43" height="11.71" fill="#94c9e6"/>
<rect x="140.97" y="133.39" width="1.43" height="11.71" fill="#d4ecf2"/>
<rect x="142.40" y="133.39" width="2.87" height="11.71" fill="#eef1dc"/>
<rect x="145.27" y="133.39" width="1.43" height="11.71" fill="#d4ecf2"/>
<rect x="146.70" y="133.39" width="2.87" height="11.71" fill="#eef1dc"/>
<rect x="149.57" y="133.39" width="1.43" height="11.71" fill="#d4ecf2"/>
<rect x="55.00" y="145.10" width="4.30" height="11.71" fill="#d4ecf2"/>
<rect x="59.30" y="145.10" width="1.43" height="11.71" fill="#94c9e6"/>
<rect x="60.73" y="145.10" width="4.30" height="11.71" fill="#d4ecf2"/>
<rect x="65.03" y="145.10" width="1.43" height="11.71" fill="#eef1dc"/>
<rect x="66.46" y="145.10" width="2.87" height="11.71" fill="#d4ecf2"/>
<rect x="69.33" y="145.10" width="1.43" height="11.71" fill="#94c9e6"/>
<rect x="70.76" y="145.10" width="5.73" height="11.71" fill="#d4ecf2"/>
<rect x="76.49" y="145.10" width="2.87" height="11.71" fill="#eef1dc"/>
<rect x="79.36" y="145.10" width="1.43" height="11.71" fill="#f8f0c4"/>
<rect x="80.79" y="145.10" width="2.87" height="11.71" fill="#f8e2a2"/>
<rect x="83.66" y="145.10" width="1.43" height="11.71" fill="#eef1dc"/>
<rect x="85.09" y="145.10" width="4.30" height="11.71" fill="#f2a060"/>
<rect x="89.39" y="145.10" width="4.30" height="11.71" fill="#eef1dc"/>
<rect x="93.69" y="145.10" width="1.43" height="11.71" fill="#f7cc86"/>
<rect x="95.12" y="145.10" width="7.16" height="11.71" fill="#94c9e6"/>
<rect x="102.28" y="145.10" width="2.87" height="11.71" fill="#d4ecf2"/>
<rect x="105.15" y="145.10" width="1.43" height="11.71" fill="#eef1dc"/>
<rect x="106.58" y="145.10" width="2.87" height="11.71" fill="#d4ecf2"/>
<rect x="109.45" y="145.10" width="1.43" height="11.71" fill="#eef1dc"/>
<rect x="110.88" y="145.10" width="1.43" height="11.71" fill="#d4ecf2"/>
<rect x="112.31" y="145.10" width="2.87" height="11.71" fill="#67a8d6"/>
<rect x="115.18" y="145.10" width="1.43" height="11.71" fill="#eef1dc"/>
<rect x="116.61" y="145.10" width="2.87" height="11.71" fill="#d4ecf2"/>
<rect x="119.48" y="145.10" width="1.43" height="11.71" fill="#eef1dc"/>
<rect x="120.91" y="145.10" width="1.43" height="11.71" fill="#d4ecf2"/>
<rect x="122.34" y="145.10" width="2.87" height="11.71" fill="#eef1dc"/>
<rect x="125.21" y="145.10" width="4.30" height="11.71" fill="#f8e2a2"/>
<rect x="129.51" y="145.10" width="2.87" height="11.71" fill="#d4ecf2"/>
<rect x="132.37" y="145.10" width="2.87" height="11.71" fill="#94c9e6"/>
<rect x="135.24" y="145.10" width="1.43" height="11.71" fill="#d4ecf2"/>
<rect x="136.67" y="145.10" width="2.87" height="11.71" fill="#eef1dc"/>
<rect x="139.54" y="145.10" width="1.43" height="11.71" fill="#d4ecf2"/>
<rect x="140.97" y="145.10" width="1.43" height="11.71" fill="#94c9e6"/>
<rect x="142.40" y="145.10" width="4.30" height="11.71" fill="#d4ecf2"/>
<rect x="146.70" y="145.10" width="2.87" height="11.71" fill="#94c9e6"/>
<rect x="149.57" y="145.10" width="1.43" height="11.71" fill="#d4ecf2"/>
<rect x="55.00" y="156.81" width="1.43" height="11.71" fill="#d4ecf2"/>
<rect x="56.43" y="156.81" width="2.87" height="11.71" fill="#eef1dc"/>
<rect x="59.30" y="156.81" width="1.43" height="11.71" fill="#d4ecf2"/>
<rect x="60.73" y="156.81" width="2.87" height="11.71" fill="#94c9e6"/>
<rect x="63.60" y="156.81" width="1.43" height="11.71" fill="#d4ecf2"/>
<rect x="65.03" y="156.81" width="1.43" height="11.71" fill="#eef1dc"/>
<rect x="66.46" y="156.81" width="2.87" height="11.71" fill="#d4ecf2"/>
<rect x="69.33" y="156.81" width="1.43" height="11.71" fill="#94c9e6"/>
<rect x="70.76" y="156.81" width="2.87" height="11.71" fill="#d4ecf2"/>
<rect x="73.63" y="156.81" width="1.43" height="11.71" fill="#eef1dc"/>
<rect x="75.06" y="156.81" width="1.43" height="11.71" fill="#d4ecf2"/>
<rect x="76.49" y="156.81" width="2.87" height="11.71" fill="#f8e2a2"/>
<rect x="79.36" y="156.81" width="1.43" height="11.71" fill="#f7cc86"/>
<rect x="80.79" y="156.81" width="2.87" height="11.71" fill="#f8f0c4"/>
<rect x="83.66" y="156.81" width="1.43" height="11.71" fill="#f8e2a2"/>
<rect x="85.09" y="156.81" width="4.30" height="11.71" fill="#f2a060"/>
<rect x="89.39" y="156.81" width="1.43" height="11.71" fill="#eef1dc"/>
<rect x="90.82" y="156.81" width="4.30" height="11.71" fill="#f7cc86"/>
<rect x="95.12" y="156.81" width="1.43" height="11.71" fill="#eef1dc"/>
<rect x="96.55" y="156.81" width="2.87" height="11.71" fill="#d4ecf2"/>
<rect x="99.42" y="156.81" width="1.43" height="11.71" fill="#eef1dc"/>
<rect x="100.85" y="156.81" width="4.30" height="11.71" fill="#d4ecf2"/>
<rect x="105.15" y="156.81" width="1.43" height="11.71" fill="#eef1dc"/>
<rect x="106.58" y="156.81" width="2.87" height="11.71" fill="#d4ecf2"/>
<rect x="109.45" y="156.81" width="1.43" height="11.71" fill="#94c9e6"/>
<rect x="110.88" y="156.81" width="1.43" height="11.71" fill="#d4ecf2"/>
<rect x="112.31" y="156.81" width="2.87" height="11.71" fill="#eef1dc"/>
<rect x="115.18" y="156.81" width="4.30" height="11.71" fill="#d4ecf2"/>
<rect x="119.48" y="156.81" width="1.43" height="11.71" fill="#94c9e6"/>
<rect x="120.91" y="156.81" width="1.43" height="11.71" fill="#d4ecf2"/>
<rect x="122.34" y="156.81" width="2.87" height="11.71" fill="#eef1dc"/>
<rect x="125.21" y="156.81" width="4.30" height="11.71" fill="#d4ecf2"/>
<rect x="129.51" y="156.81" width="1.43" height="11.71" fill="#eef1dc"/>
<rect x="130.94" y="156.81" width="1.43" height="11.71" fill="#d4ecf2"/>
<rect x="132.37" y="156.81" width="2.87" height="11.71" fill="#94c9e6"/>
<rect x="135.24" y="156.81" width="4.30" height="11.71" fill="#d4ecf2"/>
<rect x="139.54" y="156.81" width="1.43" height="11.71" fill="#eef1dc"/>
<rect x="140.97" y="156.81" width="1.43" height="11.71" fill="#d4ecf2"/>
<rect x="142.40" y="156.81" width="2.87" height="11.71" fill="#94c9e6"/>
<rect x="145.27" y="156.81" width="4.30" height="11.71" fill="#d4ecf2"/>
<rect x="149.57" y="156.81" width="1.43" height="11.71" fill="#eef1dc"/>
<rect x="55.00" y="168.52" width="4.30" height="11.71" fill="#94c9e6"/>
<rect x="59.30" y="168.52" width="1.43" height="11.71" fill="#d4ecf2"/>
<rect x="60.73" y="168.52" width="5.73" height="11.71" fill="#94c9e6"/>
<rect x="66.46" y="168.52" width="2.87" height="11.71" fill="#d4ecf2"/>
<rect x="69.33" y="168.52" width="4.30" height="11.71" fill="#94c9e6"/>
<rect x="73.63" y="168.52" width="1.43" height="11.71" fill="#d4ecf2"/>
<rect x="75.06" y="168.52" width="1.43" height="11.71" fill="#94c9e6"/>
<rect x="76.49" y="168.52" width="2.87" height="11.71" fill="#eef1dc"/>
<rect x="79.36" y="168.52" width="1.43" height="11.71" fill="#f8f0c4"/>
<rect x="80.79" y="168.52" width="2.87" height="11.71" fill="#eef1dc"/>
<rect x="83.66" y="168.52" width="1.43" height="11.71" fill="#f8f0c4"/>
<rect x="85.09" y="168.52" width="4.30" height="11.71" fill="#f7cc86"/>
<rect x="89.39" y="168.52" width="5.73" height="11.71" fill="#eef1dc"/>
<rect x="95.12" y="168.52" width="1.43" height="11.71" fill="#f8f0c4"/>
<rect x="96.55" y="168.52" width="2.87" height="11.71" fill="#f8e2a2"/>
<rect x="99.42" y="168.52" width="1.43" height="11.71" fill="#eef1dc"/>
<rect x="100.85" y="168.52" width="1.43" height="11.71" fill="#f8f0c4"/>
<rect x="102.28" y="168.52" width="2.87" height="11.71" fill="#d4ecf2"/>
<rect x="105.15" y="168.52" width="1.43" height="11.71" fill="#eef1dc"/>
<rect x="106.58" y="168.52" width="2.87" height="11.71" fill="#d4ecf2"/>
<rect x="109.45" y="168.52" width="1.43" height="11.71" fill="#94c9e6"/>
<rect x="110.88" y="168.52" width="1.43" height="11.71" fill="#d4ecf2"/>
<rect x="112.31" y="168.52" width="2.87" height="11.71" fill="#eef1dc"/>
<rect x="115.18" y="168.52" width="4.30" height="11.71" fill="#d4ecf2"/>
<rect x="119.48" y="168.52" width="1.43" height="11.71" fill="#94c9e6"/>
<rect x="120.91" y="168.52" width="1.43" height="11.71" fill="#d4ecf2"/>
<rect x="122.34" y="168.52" width="2.87" height="11.71" fill="#eef1dc"/>
<rect x="125.21" y="168.52" width="5.73" height="11.71" fill="#94c9e6"/>
<rect x="130.94" y="168.52" width="4.30" height="11.71" fill="#d4ecf2"/>
<rect x="135.24" y="168.52" width="1.43" height="11.71" fill="#eef1dc"/>
<rect x="136.67" y="168.52" width="2.87" height="11.71" fill="#d4ecf2"/>
<rect x="139.54" y="168.52" width="1.43" height="11.71" fill="#94c9e6"/>
<rect x="140.97" y="168.52" width="4.30" height="11.71" fill="#d4ecf2"/>
<rect x="145.27" y="168.52" width="1.43" height="11.71" fill="#eef1dc"/>
<rect x="146.70" y="168.52" width="4.30" height="11.71" fill="#d4ecf2"/>
<rect x="55.00" y="180.23" width="1.43" height="11.71" fill="#eef1dc"/>
<rect x="56.43" y="180.23" width="2.87" height="11.71" fill="#f8f0c4"/>
<rect x="59.30" y="180.23" width="1.43" height="11.71" fill="#d4ecf2"/>
<rect x="60.73" y="180.23" width="2.87" height="11.71" fill="#eef1dc"/>
<rect x="63.60" y="180.23" width="1.43" height="11.71" fill="#f8f0c4"/>
<rect x="65.03" y="180.23" width="1.43" height="11.71" fill="#d4ecf2"/>
<rect x="66.46" y="180.23" width="2.87" height="11.71" fill="#eef1dc"/>
<rect x="69.33" y="180.23" width="1.43" height="11.71" fill="#f8f0c4"/>
<rect x="70.76" y="180.23" width="2.87" height="11.71" fill="#eef1dc"/>
<rect x="73.63" y="180.23" width="1.43" height="11.71" fill="#d4ecf2"/>
<rect x="75.06" y="180.23" width="1.43" height="11.71" fill="#f8f0c4"/>
<rect x="76.49" y="180.23" width="8.60" height="11.71" fill="#f7cc86"/>
<rect x="85.09" y="180.23" width="1.43" height="11.71" fill="#f8e2a2"/>
<rect x="86.52" y="180.23" width="2.87" height="11.71" fill="#f7cc86"/>
<rect x="89.39" y="180.23" width="5.73" height="11.71" fill="#eef1dc"/>
<rect x="95.12" y="180.23" width="1.43" height="11.71" fill="#94c9e6"/>
<rect x="96.55" y="180.23" width="2.87" height="11.71" fill="#d4ecf2"/>
<rect x="99.42" y="180.23" width="1.43" height="11.71" fill="#94c9e6"/>
<rect x="100.85" y="180.23" width="4.30" height="11.71" fill="#d4ecf2"/>
<rect x="105.15" y="180.23" width="1.43" height="11.71" fill="#eef1dc"/>
<rect x="106.58" y="180.23" width="4.30" height="11.71" fill="#d4ecf2"/>
<rect x="110.88" y="180.23" width="1.43" height="11.71" fill="#94c9e6"/>
<rect x="112.31" y="180.23" width="2.87" height="11.71" fill="#d4ecf2"/>
<rect x="115.18" y="180.23" width="1.43" height="11.71" fill="#eef1dc"/>
<rect x="116.61" y="180.23" width="4.30" height="11.71" fill="#d4ecf2"/>
<rect x="120.91" y="180.23" width="1.43" height="11.71" fill="#94c9e6"/>
<rect x="122.34" y="180.23" width="2.87" height="11.71" fill="#d4ecf2"/>
<rect x="125.21" y="180.23" width="1.43" height="11.71" fill="#eef1dc"/>
<rect x="126.64" y="180.23" width="4.30" height="11.71" fill="#d4ecf2"/>
<rect x="130.94" y="180.23" width="1.43" height="11.71" fill="#94c9e6"/>
<rect x="132.37" y="180.23" width="2.87" height="11.71" fill="#d4ecf2"/>
<rect x="135.24" y="180.23" width="1.43" height="11.71" fill="#eef1dc"/>
<rect x="136.67" y="180.23" width="4.30" height="11.71" fill="#d4ecf2"/>
<rect x="140.97" y="180.23" width="1.43" height="11.71" fill="#94c9e6"/>
<rect x="142.40" y="180.23" width="2.87" height="11.71" fill="#d4ecf2"/>
<rect x="145.27" y="180.23" width="1.43" height="11.71" fill="#eef1dc"/>
<rect x="146.70" y="180.23" width="4.30" height="11.71" fill="#d4ecf2"/>
<path d="M56.43 28.0V191.9M57.87 28.0V191.9M59.30 28.0V191.9M60.73 28.0V191.9M62.16 28.0V191.9M63.60 28.0V191.9M65.03 28.0V191.9M66.46 28.0V191.9M67.90 28.0V191.9M69.33 28.0V191.9M70.76 28.0V191.9M72.19 28.0V191.9M73.63 28.0V191.9M75.06 28.0V191.9M76.49 28.0V191.9M77.93 28.0V191.9M79.36 28.0V191.9M80.79 28.0V191.9M82.22 28.0V191.9M83.66 28.0V191.9M85.09 28.0V191.9M86.52 28.0V191.9M87.96 28.0V191.9M89.39 28.0V191.9M90.82 28.0V191.9M92.25 28.0V191.9M93.69 28.0V191.9M95.12 28.0V191.9M96.55 28.0V191.9M97.99 28.0V191.9M99.42 28.0V191.9M100.85 28.0V191.9M102.28 28.0V191.9M103.72 28.0V191.9M105.15 28.0V191.9M106.58 28.0V191.9M108.01 28.0V191.9M109.45 28.0V191.9M110.88 28.0V191.9M112.31 28.0V191.9M113.75 28.0V191.9M115.18 28.0V191.9M116.61 28.0V191.9M118.04 28.0V191.9M119.48 28.0V191.9M120.91 28.0V191.9M122.34 28.0V191.9M123.78 28.0V191.9M125.21 28.0V191.9M126.64 28.0V191.9M128.07 28.0V191.9M129.51 28.0V191.9M130.94 28.0V191.9M132.37 28.0V191.9M133.81 28.0V191.9M135.24 28.0V191.9M136.67 28.0V191.9M138.10 28.0V191.9M139.54 28.0V191.9M140.97 28.0V191.9M142.40 28.0V191.9M143.84 28.0V191.9M145.27 28.0V191.9M146.70 28.0V191.9M148.13 28.0V191.9M149.57 28.0V191.9" stroke="#a8a8a8" stroke-width="0.22" stroke-opacity="0.55" fill="none"/>
<line x1="55.00" y1="39.71" x2="151.00" y2="39.71" stroke="#9a9a9a" stroke-width="0.4" stroke-opacity="0.75"/>
<line x1="55.00" y1="51.42" x2="151.00" y2="51.42" stroke="#9a9a9a" stroke-width="0.4" stroke-opacity="0.75"/>
<line x1="55.00" y1="63.13" x2="151.00" y2="63.13" stroke="#9a9a9a" stroke-width="0.4" stroke-opacity="0.75"/>
<line x1="55.00" y1="74.84" x2="151.00" y2="74.84" stroke="#9a9a9a" stroke-width="0.4" stroke-opacity="0.75"/>
<line x1="55.00" y1="86.55" x2="151.00" y2="86.55" stroke="#9a9a9a" stroke-width="0.4" stroke-opacity="0.75"/>
<line x1="55.00" y1="98.26" x2="151.00" y2="98.26" stroke="#9a9a9a" stroke-width="0.4" stroke-opacity="0.75"/>
<line x1="55.00" y1="109.97" x2="151.00" y2="109.97" stroke="#9a9a9a" stroke-width="0.4" stroke-opacity="0.75"/>
<line x1="55.00" y1="121.68" x2="151.00" y2="121.68" stroke="#9a9a9a" stroke-width="0.4" stroke-opacity="0.75"/>
<line x1="55.00" y1="133.39" x2="151.00" y2="133.39" stroke="#9a9a9a" stroke-width="0.4" stroke-opacity="0.75"/>
<line x1="55.00" y1="145.10" x2="151.00" y2="145.10" stroke="#9a9a9a" stroke-width="0.4" stroke-opacity="0.75"/>
<line x1="55.00" y1="156.81" x2="151.00" y2="156.81" stroke="#9a9a9a" stroke-width="0.4" stroke-opacity="0.75"/>
<line x1="55.00" y1="168.52" x2="151.00" y2="168.52" stroke="#9a9a9a" stroke-width="0.4" stroke-opacity="0.75"/>
<line x1="55.00" y1="180.23" x2="151.00" y2="180.23" stroke="#9a9a9a" stroke-width="0.4" stroke-opacity="0.75"/>
<rect x="55.00" y="18.80" width="20.90" height="3.70" fill="#a3162a"/>
<rect x="75.90" y="18.80" width="20.20" height="3.70" fill="#2c2f96"/>
<rect x="96.10" y="18.80" width="22.60" height="3.70" fill="#1b7a37"/>
<rect x="118.70" y="18.80" width="32.30" height="3.70" fill="#5c1f82"/>
<rect x="55.00" y="23.70" width="7.30" height="3.40" fill="#d9d4d6"/>
<rect x="62.30" y="23.70" width="7.30" height="3.40" fill="#6e6e6e"/>
<rect x="69.60" y="23.70" width="6.30" height="3.40" fill="#121212"/>
<rect x="75.90" y="23.70" width="7.50" height="3.40" fill="#d8d8d8"/>
<rect x="83.40" y="23.70" width="6.80" height="3.40" fill="#6e6e6e"/>
<rect x="90.20" y="23.70" width="5.90" height="3.40" fill="#121212"/>
<rect x="96.10" y="23.70" width="5.90" height="3.40" fill="#d8d8d8"/>
<rect x="102.00" y="23.70" width="9.80" height="3.40" fill="#6e6e6e"/>
<rect x="111.80" y="23.70" width="6.90" height="3.40" fill="#121212"/>
<rect x="118.70" y="23.70" width="10.80" height="3.40" fill="#d8d8d8"/>
<rect x="129.50" y="23.70" width="12.70" height="3.40" fill="#6e6e6e"/>
<rect x="142.20" y="23.70" width="8.80" height="3.40" fill="#121212"/>
<path d="M56.43 18.8V22.5M56.43 23.7V27.1M57.87 18.8V22.5M57.87 23.7V27.1M59.30 18.8V22.5M59.30 23.7V27.1M60.73 18.8V22.5M60.73 23.7V27.1M62.16 18.8V22.5M62.16 23.7V27.1M63.60 18.8V22.5M63.60 23.7V27.1M65.03 18.8V22.5M65.03 23.7V27.1M66.46 18.8V22.5M66.46 23.7V27.1M67.90 18.8V22.5M67.90 23.7V27.1M69.33 18.8V22.5M69.33 23.7V27.1M70.76 18.8V22.5M70.76 23.7V27.1M72.19 18.8V22.5M72.19 23.7V27.1M73.63 18.8V22.5M73.63 23.7V27.1M75.06 18.8V22.5M75.06 23.7V27.1M76.49 18.8V22.5M76.49 23.7V27.1M77.93 18.8V22.5M77.93 23.7V27.1M79.36 18.8V22.5M79.36 23.7V27.1M80.79 18.8V22.5M80.79 23.7V27.1M82.22 18.8V22.5M82.22 23.7V27.1M83.66 18.8V22.5M83.66 23.7V27.1M85.09 18.8V22.5M85.09 23.7V27.1M86.52 18.8V22.5M86.52 23.7V27.1M87.96 18.8V22.5M87.96 23.7V27.1M89.39 18.8V22.5M89.39 23.7V27.1M90.82 18.8V22.5M90.82 23.7V27.1M92.25 18.8V22.5M92.25 23.7V27.1M93.69 18.8V22.5M93.69 23.7V27.1M95.12 18.8V22.5M95.12 23.7V27.1M96.55 18.8V22.5M96.55 23.7V27.1M97.99 18.8V22.5M97.99 23.7V27.1M99.42 18.8V22.5M99.42 23.7V27.1M100.85 18.8V22.5M100.85 23.7V27.1M102.28 18.8V22.5M102.28 23.7V27.1M103.72 18.8V22.5M103.72 23.7V27.1M105.15 18.8V22.5M105.15 23.7V27.1M106.58 18.8V22.5M106.58 23.7V27.1M108.01 18.8V22.5M108.01 23.7V27.1M109.45 18.8V22.5M109.45 23.7V27.1M110.88 18.8V22.5M110.88 23.7V27.1M112.31 18.8V22.5M112.31 23.7V27.1M113.75 18.8V22.5M113.75 23.7V27.1M115.18 18.8V22.5M115.18 23.7V27.1M116.61 18.8V22.5M116.61 23.7V27.1M118.04 18.8V22.5M118.04 23.7V27.1M119.48 18.8V22.5M119.48 23.7V27.1M120.91 18.8V22.5M120.91 23.7V27.1M122.34 18.8V22.5M122.34 23.7V27.1M123.78 18.8V22.5M123.78 23.7V27.1M125.21 18.8V22.5M125.21 23.7V27.1M126.64 18.8V22.5M126.64 23.7V27.1M128.07 18.8V22.5M128.07 23.7V27.1M129.51 18.8V22.5M129.51 23.7V27.1M130.94 18.8V22.5M130.94 23.7V27.1M132.37 18.8V22.5M132.37 23.7V27.1M133.81 18.8V22.5M133.81 23.7V27.1M135.24 18.8V22.5M135.24 23.7V27.1M136.67 18.8V22.5M136.67 23.7V27.1M138.10 18.8V22.5M138.10 23.7V27.1M139.54 18.8V22.5M139.54 23.7V27.1M140.97 18.8V22.5M140.97 23.7V27.1M142.40 18.8V22.5M142.40 23.7V27.1M143.84 18.8V22.5M143.84 23.7V27.1M145.27 18.8V22.5M145.27 23.7V27.1M146.70 18.8V22.5M146.70 23.7V27.1M148.13 18.8V22.5M148.13 23.7V27.1M149.57 18.8V22.5M149.57 23.7V27.1" stroke="#ffffff" stroke-width="0.25" stroke-opacity="0.35" fill="none"/>
<text x="152.30" y="22.40" font-size="6.75" fill="#333">sample_type</text>
<text x="152.30" y="27.90" font-size="6.75" fill="#333">cell_type</text>
<text x="152.60" y="36.06" font-size="7.0" fill="#2a2a2a" stroke="#2a2a2a" stroke-width="0.12" font-style="italic">DLK1</text>
<text x="152.60" y="47.77" font-size="7.0" fill="#2a2a2a" stroke="#2a2a2a" stroke-width="0.12" font-style="italic">ANGPT1</text>
<text x="152.60" y="59.48" font-size="7.0" fill="#2a2a2a" stroke="#2a2a2a" stroke-width="0.12" font-style="italic">ITGA4</text>
<text x="152.60" y="71.19" font-size="7.0" fill="#2a2a2a" stroke="#2a2a2a" stroke-width="0.12" font-style="italic">CHD7</text>
<text x="152.60" y="82.90" font-size="7.0" fill="#2a2a2a" stroke="#2a2a2a" stroke-width="0.12" font-style="italic">IGF2BP3</text>
<text x="152.60" y="94.61" font-size="7.0" fill="#2a2a2a" stroke="#2a2a2a" stroke-width="0.12" font-style="italic">LIN28B</text>
<text x="152.60" y="106.32" font-size="7.0" fill="#2a2a2a" stroke="#2a2a2a" stroke-width="0.12" font-style="italic">IGF2BP1</text>
<text x="152.60" y="118.03" font-size="7.0" fill="#2a2a2a" stroke="#2a2a2a" stroke-width="0.12" font-style="italic">TPM2</text>
<text x="152.60" y="129.74" font-size="7.0" fill="#2a2a2a" stroke="#2a2a2a" stroke-width="0.12" font-style="italic">FBLN1</text>
<text x="152.60" y="141.44" font-size="7.0" fill="#2a2a2a" stroke="#2a2a2a" stroke-width="0.12" font-style="italic">HSPA6</text>
<text x="152.60" y="153.16" font-size="7.0" fill="#2a2a2a" stroke="#2a2a2a" stroke-width="0.12" font-style="italic">HSPA1A</text>
<text x="152.60" y="164.87" font-size="7.0" fill="#2a2a2a" stroke="#2a2a2a" stroke-width="0.12" font-style="italic">HSPA1B</text>
<text x="152.60" y="176.57" font-size="7.0" fill="#2a2a2a" stroke="#2a2a2a" stroke-width="0.12" font-style="italic">CD7</text>
<text x="152.60" y="188.28" font-size="7.0" fill="#2a2a2a" stroke="#2a2a2a" stroke-width="0.12" font-style="italic">CTHRC1</text>
<line x1="46.00" y1="33.86" x2="55.00" y2="33.86" stroke="#5a5a5a" stroke-width="0.75"/>
<line x1="46.00" y1="45.56" x2="55.00" y2="45.56" stroke="#5a5a5a" stroke-width="0.75"/>
<line x1="46.00" y1="33.86" x2="46.00" y2="45.56" stroke="#5a5a5a" stroke-width="0.75"/>
<line x1="27.70" y1="40.10" x2="46.00" y2="40.10" stroke="#5a5a5a" stroke-width="0.75"/>
<line x1="27.70" y1="40.10" x2="27.70" y2="106.00" stroke="#5a5a5a" stroke-width="0.75"/>
<line x1="27.70" y1="106.00" x2="30.20" y2="106.00" stroke="#5a5a5a" stroke-width="0.75"/>
<line x1="30.20" y1="68.60" x2="30.20" y2="143.50" stroke="#5a5a5a" stroke-width="0.75"/>
<line x1="30.20" y1="68.60" x2="36.20" y2="68.60" stroke="#5a5a5a" stroke-width="0.75"/>
<line x1="36.20" y1="57.60" x2="36.20" y2="79.60" stroke="#5a5a5a" stroke-width="0.75"/>
<line x1="36.20" y1="57.28" x2="55.00" y2="57.28" stroke="#5a5a5a" stroke-width="0.75"/>
<line x1="36.20" y1="79.60" x2="43.30" y2="79.60" stroke="#5a5a5a" stroke-width="0.75"/>
<line x1="43.30" y1="69.40" x2="43.30" y2="89.80" stroke="#5a5a5a" stroke-width="0.75"/>
<line x1="43.30" y1="68.98" x2="55.00" y2="68.98" stroke="#5a5a5a" stroke-width="0.75"/>
<line x1="43.30" y1="89.80" x2="45.40" y2="89.80" stroke="#5a5a5a" stroke-width="0.75"/>
<line x1="45.40" y1="81.00" x2="45.40" y2="98.60" stroke="#5a5a5a" stroke-width="0.75"/>
<line x1="45.40" y1="80.70" x2="55.00" y2="80.70" stroke="#5a5a5a" stroke-width="0.75"/>
<line x1="45.40" y1="98.60" x2="48.60" y2="98.60" stroke="#5a5a5a" stroke-width="0.75"/>
<line x1="48.60" y1="92.41" x2="48.60" y2="104.12" stroke="#5a5a5a" stroke-width="0.75"/>
<line x1="48.60" y1="92.41" x2="55.00" y2="92.41" stroke="#5a5a5a" stroke-width="0.75"/>
<line x1="48.60" y1="104.12" x2="55.00" y2="104.12" stroke="#5a5a5a" stroke-width="0.75"/>
<line x1="30.20" y1="143.50" x2="33.60" y2="143.50" stroke="#5a5a5a" stroke-width="0.75"/>
<line x1="33.60" y1="122.00" x2="33.60" y2="164.00" stroke="#5a5a5a" stroke-width="0.75"/>
<line x1="33.60" y1="122.00" x2="41.00" y2="122.00" stroke="#5a5a5a" stroke-width="0.75"/>
<line x1="41.00" y1="115.83" x2="41.00" y2="127.54" stroke="#5a5a5a" stroke-width="0.75"/>
<line x1="41.00" y1="115.83" x2="55.00" y2="115.83" stroke="#5a5a5a" stroke-width="0.75"/>
<line x1="41.00" y1="127.54" x2="55.00" y2="127.54" stroke="#5a5a5a" stroke-width="0.75"/>
<line x1="33.60" y1="164.00" x2="34.40" y2="164.00" stroke="#5a5a5a" stroke-width="0.75"/>
<line x1="34.40" y1="148.40" x2="34.40" y2="180.30" stroke="#5a5a5a" stroke-width="0.75"/>
<line x1="34.40" y1="148.40" x2="42.60" y2="148.40" stroke="#5a5a5a" stroke-width="0.75"/>
<line x1="42.60" y1="139.25" x2="42.60" y2="157.00" stroke="#5a5a5a" stroke-width="0.75"/>
<line x1="42.60" y1="139.25" x2="55.00" y2="139.25" stroke="#5a5a5a" stroke-width="0.75"/>
<line x1="42.60" y1="157.00" x2="44.70" y2="157.00" stroke="#5a5a5a" stroke-width="0.75"/>
<line x1="44.70" y1="150.96" x2="44.70" y2="162.67" stroke="#5a5a5a" stroke-width="0.75"/>
<line x1="44.70" y1="150.96" x2="55.00" y2="150.96" stroke="#5a5a5a" stroke-width="0.75"/>
<line x1="44.70" y1="162.67" x2="55.00" y2="162.67" stroke="#5a5a5a" stroke-width="0.75"/>
<line x1="34.40" y1="180.30" x2="37.70" y2="180.30" stroke="#5a5a5a" stroke-width="0.75"/>
<line x1="37.70" y1="174.38" x2="37.70" y2="186.09" stroke="#5a5a5a" stroke-width="0.75"/>
<line x1="37.70" y1="174.38" x2="55.00" y2="174.38" stroke="#5a5a5a" stroke-width="0.75"/>
<line x1="37.70" y1="186.09" x2="55.00" y2="186.09" stroke="#5a5a5a" stroke-width="0.75"/>
<text x="196.60" y="25.00" font-size="6.2" fill="#222">sample type</text>
<rect x="196.50" y="26.80" width="9.00" height="9.20" fill="#9c1118"/>
<text x="207.60" y="33.70" font-size="6.5" fill="#222">Adult BM</text>
<rect x="196.50" y="36.00" width="9.00" height="9.20" fill="#2a2c96"/>
<text x="207.60" y="42.90" font-size="6.5" fill="#222">Fetal Liver</text>
<rect x="196.50" y="45.20" width="9.00" height="9.20" fill="#167231"/>
<text x="207.60" y="52.10" font-size="6.5" fill="#222">iPSCs</text>
<rect x="196.50" y="54.40" width="9.00" height="9.20" fill="#531a7a"/>
<text x="207.6" y="61.30" font-size="6.5" fill="#222"><tspan font-style="italic">ETV6::RUNX1</tspan> iPSCs</text>
<text x="196.50" y="75.30" font-size="6.2" fill="#222">cell_type</text>
<rect x="196.50" y="77.20" width="9.20" height="9.20" fill="#d9d9d9"/>
<text x="208.6" y="84.60" font-size="6.5" fill="#222">‘HSC-like’</text>
<rect x="196.50" y="86.40" width="9.20" height="9.20" fill="#686868"/>
<text x="208.6" y="93.80" font-size="6.5" fill="#222">IL7R<tspan font-size="4.2" dy="-2.6">+</tspan><tspan dy="2.6"> progenitor</tspan></text>
<rect x="196.50" y="95.60" width="9.20" height="9.20" fill="#0e0e0e"/>
<text x="208.6" y="103.00" font-size="6.5" fill="#222">ProB</text>
<rect x="195.00" y="132.00" width="4.20" height="1.29" fill="#d93529"/>
<rect x="195.00" y="132.99" width="4.20" height="1.29" fill="#dd3e2f"/>
<rect x="195.00" y="133.98" width="4.20" height="1.29" fill="#e04734"/>
<rect x="195.00" y="134.97" width="4.20" height="1.29" fill="#e45138"/>
<rect x="195.00" y="135.96" width="4.20" height="1.29" fill="#e85a3d"/>
<rect x="195.00" y="136.95" width="4.20" height="1.29" fill="#eb6342"/>
<rect x="195.00" y="137.94" width="4.20" height="1.29" fill="#ef6c48"/>
<rect x="195.00" y="138.93" width="4.20" height="1.29" fill="#f3764c"/>
<rect x="195.00" y="139.92" width="4.20" height="1.29" fill="#f67f51"/>
<rect x="195.00" y="140.91" width="4.20" height="1.29" fill="#fa8857"/>
<rect x="195.00" y="141.90" width="4.20" height="1.29" fill="#fc915c"/>
<rect x="195.00" y="142.89" width="4.20" height="1.29" fill="#fc9961"/>
<rect x="195.00" y="143.88" width="4.20" height="1.29" fill="#fca267"/>
<rect x="195.00" y="144.87" width="4.20" height="1.29" fill="#fdaa6c"/>
<rect x="195.00" y="145.86" width="4.20" height="1.29" fill="#fdb272"/>
<rect x="195.00" y="146.85" width="4.20" height="1.29" fill="#fdbb77"/>
<rect x="195.00" y="147.84" width="4.20" height="1.29" fill="#fdc37d"/>
<rect x="195.00" y="148.83" width="4.20" height="1.29" fill="#fecb82"/>
<rect x="195.00" y="149.82" width="4.20" height="1.29" fill="#fed488"/>
<rect x="195.00" y="150.81" width="4.20" height="1.29" fill="#fedc8d"/>
<rect x="195.00" y="151.80" width="4.20" height="1.29" fill="#fee292"/>
<rect x="195.00" y="152.79" width="4.20" height="1.29" fill="#fee597"/>
<rect x="195.00" y="153.78" width="4.20" height="1.29" fill="#fee89c"/>
<rect x="195.00" y="154.77" width="4.20" height="1.29" fill="#feeba0"/>
<rect x="195.00" y="155.76" width="4.20" height="1.29" fill="#feeea5"/>
<rect x="195.00" y="156.75" width="4.20" height="1.29" fill="#fff1aa"/>
<rect x="195.00" y="157.74" width="4.20" height="1.29" fill="#fff4af"/>
<rect x="195.00" y="158.73" width="4.20" height="1.29" fill="#fff7b3"/>
<rect x="195.00" y="159.72" width="4.20" height="1.29" fill="#fffab8"/>
<rect x="195.00" y="160.71" width="4.20" height="1.29" fill="#fffdbd"/>
<rect x="195.00" y="161.70" width="4.20" height="1.29" fill="#fdfec2"/>
<rect x="195.00" y="162.69" width="4.20" height="1.29" fill="#fafdc8"/>
<rect x="195.00" y="163.68" width="4.20" height="1.29" fill="#f7fccd"/>
<rect x="195.00" y="164.67" width="4.20" height="1.29" fill="#f4fbd3"/>
<rect x="195.00" y="165.66" width="4.20" height="1.29" fill="#f1fad9"/>
<rect x="195.00" y="166.65" width="4.20" height="1.29" fill="#eef8de"/>
<rect x="195.00" y="167.64" width="4.20" height="1.29" fill="#ebf7e4"/>
<rect x="195.00" y="168.63" width="4.20" height="1.29" fill="#e8f6ea"/>
<rect x="195.00" y="169.62" width="4.20" height="1.29" fill="#e5f5ef"/>
<rect x="195.00" y="170.61" width="4.20" height="1.29" fill="#e2f4f5"/>
<rect x="195.00" y="171.60" width="4.20" height="1.29" fill="#dcf0f7"/>
<rect x="195.00" y="172.59" width="4.20" height="1.29" fill="#d4ebf4"/>
<rect x="195.00" y="173.58" width="4.20" height="1.29" fill="#cce6f1"/>
<rect x="195.00" y="174.57" width="4.20" height="1.29" fill="#c4e1ee"/>
<rect x="195.00" y="175.56" width="4.20" height="1.29" fill="#bcdceb"/>
<rect x="195.00" y="176.55" width="4.20" height="1.29" fill="#b5d6e8"/>
<rect x="195.00" y="177.54" width="4.20" height="1.29" fill="#add1e5"/>
<rect x="195.00" y="178.53" width="4.20" height="1.29" fill="#a5cce2"/>
<rect x="195.00" y="179.52" width="4.20" height="1.29" fill="#9dc7df"/>
<rect x="195.00" y="180.51" width="4.20" height="1.29" fill="#95c2dc"/>
<rect x="195.00" y="181.50" width="4.20" height="1.29" fill="#8dbbd9"/>
<rect x="195.00" y="182.49" width="4.20" height="1.29" fill="#86b4d5"/>
<rect x="195.00" y="183.48" width="4.20" height="1.29" fill="#7eacd1"/>
<rect x="195.00" y="184.47" width="4.20" height="1.29" fill="#76a5cd"/>
<rect x="195.00" y="185.46" width="4.20" height="1.29" fill="#6f9ec9"/>
<rect x="195.00" y="186.45" width="4.20" height="1.29" fill="#6796c6"/>
<rect x="195.00" y="187.44" width="4.20" height="1.29" fill="#608fc2"/>
<rect x="195.00" y="188.43" width="4.20" height="1.29" fill="#5887be"/>
<rect x="195.00" y="189.42" width="4.20" height="1.29" fill="#5080ba"/>
<rect x="195.00" y="190.41" width="4.20" height="1.29" fill="#4979b6"/>
<text x="200.60" y="134.50" font-size="6.6" fill="#333">4</text>
<text x="200.60" y="143.25" font-size="6.6" fill="#333">3</text>
<text x="200.60" y="152.00" font-size="6.6" fill="#333">2</text>
<text x="200.60" y="160.75" font-size="6.6" fill="#333">1</text>
<text x="200.60" y="169.50" font-size="6.6" fill="#333">0</text>
<text x="200.60" y="178.25" font-size="6.6" fill="#333">−1</text>
<text x="200.60" y="187.00" font-size="6.6" fill="#333">−2</text>
<line x1="327.20" y1="17.90" x2="327.20" y2="174.70" stroke="#222" stroke-width="0.9"/>
<line x1="327.20" y1="174.70" x2="432.00" y2="174.70" stroke="#222" stroke-width="0.9"/>
<line x1="324.00" y1="20.20" x2="327.20" y2="20.20" stroke="#222" stroke-width="0.8"/>
<text x="320.90" y="22.50" font-size="6.5" fill="#333" text-anchor="end">1.5</text>
<line x1="324.00" y1="48.40" x2="327.20" y2="48.40" stroke="#222" stroke-width="0.8"/>
<text x="320.90" y="50.70" font-size="6.5" fill="#333" text-anchor="end">1.0</text>
<line x1="324.00" y1="76.60" x2="327.20" y2="76.60" stroke="#222" stroke-width="0.8"/>
<text x="320.90" y="78.90" font-size="6.5" fill="#333" text-anchor="end">0.5</text>
<line x1="324.00" y1="104.80" x2="327.20" y2="104.80" stroke="#222" stroke-width="0.8"/>
<text x="320.90" y="107.10" font-size="6.5" fill="#333" text-anchor="end">0.0</text>
<line x1="324.00" y1="133.00" x2="327.20" y2="133.00" stroke="#222" stroke-width="0.8"/>
<text x="320.90" y="135.30" font-size="6.5" fill="#333" text-anchor="end">−0.5</text>
<line x1="324.00" y1="161.20" x2="327.20" y2="161.20" stroke="#222" stroke-width="0.8"/>
<text x="320.90" y="163.50" font-size="6.5" fill="#333" text-anchor="end">−1.0</text>
<text x="300.70" y="96.60" font-size="9.8" fill="#222" stroke="#222" stroke-width="0.25" text-anchor="middle" textLength="84.00" lengthAdjust="spacingAndGlyphs" transform="rotate(-90 300.70 96.60)">Z-scored mean expression</text>
<line x1="342.00" y1="174.70" x2="342.00" y2="177.70" stroke="#222" stroke-width="0.8"/>
<line x1="366.90" y1="174.70" x2="366.90" y2="177.70" stroke="#222" stroke-width="0.8"/>
<line x1="391.70" y1="174.70" x2="391.70" y2="177.70" stroke="#222" stroke-width="0.8"/>
<line x1="416.70" y1="174.70" x2="416.70" y2="177.70" stroke="#222" stroke-width="0.8"/>
<text x="349.00" y="185.20" font-size="7.0" fill="#333" text-anchor="end" transform="rotate(-45 349.00 185.20)">Adult BM</text>
<text x="373.90" y="185.20" font-size="7.0" fill="#333" text-anchor="end" transform="rotate(-45 373.90 185.20)">Fetal Liver</text>
<text x="398.70" y="185.20" font-size="7.0" fill="#333" text-anchor="end" transform="rotate(-45 398.70 185.20)">iPSCs</text>
<text x="422.70" y="188.6" font-size="7.0" fill="#333" text-anchor="end" transform="rotate(-45 422.70 188.6)"><tspan font-style="italic">ETV6::RUNX1</tspan></text>
<text x="429.30" y="193.00" font-size="7.0" fill="#333" text-anchor="end" transform="rotate(-45 429.30 193.00)">iPSCs</text>
<line x1="337.70" y1="122.60" x2="337.70" y2="128.30" stroke="#333" stroke-width="1.0"/>
<line x1="337.70" y1="137.80" x2="337.70" y2="142.70" stroke="#333" stroke-width="1.0"/>
<rect x="335.50" y="128.30" width="4.40" height="9.50" fill="#fbe6e6" stroke="#c05a5a" stroke-width="0.8"/>
<line x1="335.50" y1="133.20" x2="339.90" y2="133.20" stroke="#8a1d1d" stroke-width="1.2"/>
<line x1="342.00" y1="147.30" x2="342.00" y2="151.10" stroke="#333" stroke-width="1.0"/>
<line x1="342.00" y1="159.80" x2="342.00" y2="164.40" stroke="#333" stroke-width="1.0"/>
<rect x="339.90" y="151.10" width="4.20" height="8.70" fill="#8c3342" stroke="#5a1a22" stroke-width="0.8"/>
<line x1="339.90" y1="154.50" x2="344.10" y2="154.50" stroke="#3a0a10" stroke-width="1.2"/>
<line x1="346.15" y1="153.80" x2="346.15" y2="157.20" stroke="#333" stroke-width="1.0"/>
<line x1="346.15" y1="163.60" x2="346.15" y2="168.20" stroke="#333" stroke-width="1.0"/>
<rect x="344.10" y="157.20" width="4.10" height="6.40" fill="#5c0c16" stroke="#3a0008" stroke-width="0.8"/>
<line x1="344.10" y1="160.00" x2="348.20" y2="160.00" stroke="#200004" stroke-width="1.2"/>
<line x1="362.20" y1="45.70" x2="362.20" y2="53.00" stroke="#333" stroke-width="1.0"/>
<line x1="362.20" y1="62.00" x2="362.20" y2="65.40" stroke="#333" stroke-width="1.0"/>
<rect x="360.30" y="53.00" width="3.80" height="9.00" fill="#f2eef6" stroke="#555" stroke-width="0.8"/>
<line x1="360.30" y1="58.60" x2="364.10" y2="58.60" stroke="#333" stroke-width="1.2"/>
<line x1="366.70" y1="25.40" x2="366.70" y2="50.30" stroke="#333" stroke-width="1.0"/>
<line x1="366.70" y1="80.60" x2="366.70" y2="86.90" stroke="#333" stroke-width="1.0"/>
<rect x="364.50" y="50.30" width="4.40" height="30.30" fill="#5d5d6c" stroke="#333" stroke-width="0.8"/>
<line x1="364.50" y1="74.50" x2="368.90" y2="74.50" stroke="#222" stroke-width="1.2"/>
<line x1="371.00" y1="64.30" x2="371.00" y2="70.60" stroke="#333" stroke-width="1.0"/>
<line x1="371.00" y1="82.40" x2="371.00" y2="89.20" stroke="#333" stroke-width="1.0"/>
<rect x="369.00" y="70.60" width="4.00" height="11.80" fill="#1d1d3a" stroke="#111" stroke-width="0.8"/>
<line x1="369.00" y1="75.60" x2="373.00" y2="75.60" stroke="#000" stroke-width="1.2"/>
<line x1="387.40" y1="86.90" x2="387.40" y2="89.20" stroke="#333" stroke-width="1.0"/>
<line x1="387.40" y1="103.90" x2="387.40" y2="116.30" stroke="#333" stroke-width="1.0"/>
<rect x="385.60" y="89.20" width="3.60" height="14.70" fill="#d4ecdb" stroke="#3d7a52" stroke-width="0.8"/>
<line x1="385.60" y1="90.80" x2="389.20" y2="90.80" stroke="#2a5a3a" stroke-width="1.2"/>
<line x1="391.60" y1="93.30" x2="391.60" y2="102.30" stroke="#333" stroke-width="1.0"/>
<line x1="391.60" y1="110.70" x2="391.60" y2="124.30" stroke="#333" stroke-width="1.0"/>
<rect x="389.60" y="102.30" width="4.00" height="8.40" fill="#2f6b49" stroke="#1a4a30" stroke-width="0.8"/>
<line x1="389.60" y1="105.00" x2="393.60" y2="105.00" stroke="#0a2a1a" stroke-width="1.2"/>
<line x1="395.80" y1="107.30" x2="395.80" y2="108.00" stroke="#333" stroke-width="1.0"/>
<line x1="395.80" y1="110.70" x2="395.80" y2="111.50" stroke="#333" stroke-width="1.0"/>
<rect x="394.00" y="108.00" width="3.60" height="2.70" fill="#1c4d33" stroke="#103020" stroke-width="0.8"/>
<line x1="394.00" y1="109.00" x2="397.60" y2="109.00" stroke="#0a2a1a" stroke-width="1.2"/>
<line x1="412.35" y1="64.60" x2="412.35" y2="70.90" stroke="#333" stroke-width="1.0"/>
<line x1="412.35" y1="119.80" x2="412.35" y2="122.40" stroke="#333" stroke-width="1.0"/>
<rect x="410.00" y="70.90" width="4.70" height="48.90" fill="#e1cee9" stroke="#444" stroke-width="0.8"/>
<line x1="410.00" y1="101.40" x2="414.70" y2="101.40" stroke="#333" stroke-width="1.2"/>
<line x1="416.85" y1="90.00" x2="416.85" y2="94.50" stroke="#333" stroke-width="1.0"/>
<line x1="416.85" y1="115.80" x2="416.85" y2="121.00" stroke="#333" stroke-width="1.0"/>
<rect x="414.70" y="94.50" width="4.30" height="21.30" fill="#6b5b79" stroke="#333" stroke-width="0.8"/>
<line x1="414.70" y1="103.80" x2="419.00" y2="103.80" stroke="#222" stroke-width="1.2"/>
<line x1="421.00" y1="71.60" x2="421.00" y2="85.20" stroke="#333" stroke-width="1.0"/>
<line x1="421.00" y1="100.50" x2="421.00" y2="106.50" stroke="#333" stroke-width="1.0"/>
<rect x="419.00" y="85.20" width="4.00" height="15.30" fill="#2b1b3b" stroke="#111" stroke-width="0.8"/>
<line x1="419.00" y1="93.90" x2="423.00" y2="93.90" stroke="#000" stroke-width="1.2"/>
<text x="437.80" y="22.50" font-size="6.7" fill="#222">cell type</text>
<line x1="440.60" y1="25.80" x2="440.60" y2="30.60" stroke="#333" stroke-width="0.6"/>
<rect x="438.30" y="26.60" width="4.60" height="3.20" fill="#f0f0f0" stroke="#333" stroke-width="0.6"/>
<line x1="438.30" y1="28.20" x2="442.90" y2="28.20" stroke="#222" stroke-width="0.8"/>
<text x="446.8" y="30.40" font-size="6.5" fill="#222">‘HSC-like’</text>
<line x1="440.60" y1="34.90" x2="440.60" y2="39.70" stroke="#333" stroke-width="0.6"/>
<rect x="438.30" y="35.70" width="4.60" height="3.20" fill="#555" stroke="#333" stroke-width="0.6"/>
<line x1="438.30" y1="37.30" x2="442.90" y2="37.30" stroke="#222" stroke-width="0.8"/>
<text x="446.8" y="39.50" font-size="6.5" fill="#222">IL7R<tspan font-size="4.2" dy="-2.6">+</tspan><tspan dy="2.6"> progenitor</tspan></text>
<line x1="440.60" y1="44.00" x2="440.60" y2="48.80" stroke="#333" stroke-width="0.6"/>
<rect x="438.30" y="44.80" width="4.60" height="3.20" fill="#111" stroke="#333" stroke-width="0.6"/>
<line x1="438.30" y1="46.40" x2="442.90" y2="46.40" stroke="#222" stroke-width="0.8"/>
<text x="446.8" y="48.60" font-size="6.5" fill="#222">ProB</text>
<text x="8.20" y="245.00" font-size="11.8" fill="#111" stroke="#111" stroke-width="0.45" font-weight="bold">B</text>
<circle cx="96.3" cy="368.6" r="1.15" fill="#cfa02a"/>
<circle cx="78.2" cy="361.7" r="1.15" fill="#3f9f3a"/>
<circle cx="74.8" cy="365.3" r="1.15" fill="#3f9f3a"/>
<circle cx="85.6" cy="370.4" r="1.15" fill="#3f9f3a"/>
<circle cx="56.2" cy="282.3" r="1.15" fill="#178b6f"/>
<circle cx="56.8" cy="312.6" r="1.15" fill="#25a7c6"/>
<circle cx="98.9" cy="357.0" r="1.15" fill="#cfa02a"/>
<circle cx="77.9" cy="360.5" r="1.15" fill="#3f9f3a"/>
<circle cx="69.2" cy="347.4" r="1.15" fill="#178b6f"/>
<circle cx="75.8" cy="361.0" r="1.15" fill="#3f9f3a"/>
<circle cx="80.5" cy="364.7" r="1.15" fill="#e4705f"/>
<circle cx="52.8" cy="333.6" r="1.15" fill="#178b6f"/>
<circle cx="76.1" cy="296.5" r="1.15" fill="#e4705f"/>
<circle cx="57.8" cy="353.1" r="1.15" fill="#178b6f"/>
<circle cx="59.1" cy="294.3" r="1.15" fill="#25a7c6"/>
<circle cx="102.4" cy="373.3" r="1.15" fill="#cfa02a"/>
<circle cx="86.6" cy="361.3" r="1.15" fill="#3f9f3a"/>
<circle cx="93.5" cy="370.7" r="1.15" fill="#cfa02a"/>
<circle cx="84.5" cy="361.6" r="1.15" fill="#3f9f3a"/>
<circle cx="88.7" cy="355.1" r="1.15" fill="#3f9f3a"/>
<circle cx="80.2" cy="335.9" r="1.15" fill="#e4705f"/>
<circle cx="83.0" cy="359.0" r="1.15" fill="#e4705f"/>
<circle cx="97.5" cy="372.3" r="1.15" fill="#cfa02a"/>
<circle cx="64.3" cy="292.3" r="1.15" fill="#178b6f"/>
<circle cx="75.5" cy="368.7" r="1.15" fill="#3f9f3a"/>
<circle cx="100.9" cy="372.5" r="1.15" fill="#cfa02a"/>
<circle cx="64.2" cy="325.2" r="1.15" fill="#178b6f"/>
<circle cx="100.0" cy="369.3" r="1.15" fill="#cfa02a"/>
<circle cx="68.2" cy="367.7" r="1.15" fill="#3f9f3a"/>
<circle cx="81.6" cy="364.1" r="1.15" fill="#3f9f3a"/>
<circle cx="59.4" cy="350.9" r="1.15" fill="#178b6f"/>
<circle cx="70.5" cy="325.5" r="1.15" fill="#e4705f"/>
<circle cx="79.1" cy="303.9" r="1.15" fill="#e4705f"/>
<circle cx="75.2" cy="332.1" r="1.15" fill="#d86e98"/>
<circle cx="63.3" cy="364.6" r="1.15" fill="#7d7cc2"/>
<circle cx="93.4" cy="373.7" r="1.15" fill="#3f9f3a"/>
<circle cx="78.8" cy="373.2" r="1.15" fill="#3f9f3a"/>
<circle cx="63.5" cy="370.5" r="1.15" fill="#178b6f"/>
<circle cx="84.0" cy="362.5" r="1.15" fill="#e4705f"/>
<circle cx="74.4" cy="368.3" r="1.15" fill="#3f9f3a"/>
<circle cx="66.0" cy="368.4" r="1.15" fill="#3f9f3a"/>
<circle cx="90.3" cy="373.1" r="1.15" fill="#cfa02a"/>
<circle cx="57.3" cy="286.6" r="1.15" fill="#178b6f"/>
<circle cx="69.1" cy="293.5" r="1.15" fill="#3f9f3a"/>
<circle cx="79.6" cy="363.3" r="1.15" fill="#3f9f3a"/>
<circle cx="65.1" cy="274.2" r="1.15" fill="#e4705f"/>
<circle cx="78.7" cy="303.3" r="1.15" fill="#e4705f"/>
<circle cx="71.5" cy="369.4" r="1.15" fill="#3f9f3a"/>
<circle cx="76.9" cy="339.1" r="1.15" fill="#e4705f"/>
<circle cx="69.7" cy="365.9" r="1.15" fill="#3f9f3a"/>
<circle cx="104.2" cy="371.7" r="1.15" fill="#cfa02a"/>
<circle cx="81.5" cy="359.4" r="1.15" fill="#3f9f3a"/>
<circle cx="75.6" cy="360.8" r="1.15" fill="#3f9f3a"/>
<circle cx="90.1" cy="361.3" r="1.15" fill="#cfa02a"/>
<circle cx="70.4" cy="359.0" r="1.15" fill="#e4705f"/>
<circle cx="60.6" cy="325.5" r="1.15" fill="#178b6f"/>
<circle cx="69.9" cy="373.7" r="1.15" fill="#3f9f3a"/>
<circle cx="60.4" cy="307.1" r="1.15" fill="#25a7c6"/>
<circle cx="91.7" cy="368.0" r="1.15" fill="#e4705f"/>
<circle cx="64.3" cy="321.5" r="1.15" fill="#178b6f"/>
<circle cx="68.6" cy="360.9" r="1.15" fill="#3f9f3a"/>
<circle cx="70.9" cy="363.8" r="1.15" fill="#3f9f3a"/>
<circle cx="91.1" cy="365.2" r="1.15" fill="#cfa02a"/>
<circle cx="79.3" cy="363.7" r="1.15" fill="#3f9f3a"/>
<circle cx="83.3" cy="372.2" r="1.15" fill="#3f9f3a"/>
<circle cx="94.4" cy="371.3" r="1.15" fill="#cfa02a"/>
<circle cx="75.3" cy="351.4" r="1.15" fill="#d86e98"/>
<circle cx="78.9" cy="358.5" r="1.15" fill="#3f9f3a"/>
<circle cx="75.7" cy="360.3" r="1.15" fill="#3f9f3a"/>
<circle cx="90.6" cy="370.4" r="1.15" fill="#cfa02a"/>
<circle cx="104.9" cy="371.1" r="1.15" fill="#cfa02a"/>
<circle cx="64.5" cy="340.1" r="1.15" fill="#178b6f"/>
<circle cx="91.4" cy="367.1" r="1.15" fill="#cfa02a"/>
<circle cx="89.7" cy="367.2" r="1.15" fill="#cfa02a"/>
<circle cx="70.5" cy="373.5" r="1.15" fill="#3f9f3a"/>
<circle cx="84.9" cy="371.1" r="1.15" fill="#e4705f"/>
<circle cx="80.9" cy="372.4" r="1.15" fill="#3f9f3a"/>
<circle cx="93.6" cy="367.9" r="1.15" fill="#cfa02a"/>
<circle cx="107.9" cy="363.9" r="1.15" fill="#cfa02a"/>
<circle cx="75.6" cy="364.6" r="1.15" fill="#3f9f3a"/>
<circle cx="84.9" cy="357.6" r="1.15" fill="#3f9f3a"/>
<circle cx="68.1" cy="330.4" r="1.15" fill="#e4705f"/>
<circle cx="60.7" cy="319.8" r="1.15" fill="#25a7c6"/>
<circle cx="57.3" cy="318.2" r="1.15" fill="#25a7c6"/>
<circle cx="71.4" cy="326.3" r="1.15" fill="#d86e98"/>
<circle cx="79.1" cy="350.2" r="1.15" fill="#e4705f"/>
<circle cx="79.6" cy="372.7" r="1.15" fill="#3f9f3a"/>
<circle cx="76.1" cy="351.8" r="1.15" fill="#3f9f3a"/>
<circle cx="70.7" cy="270.3" r="1.15" fill="#e4705f"/>
<circle cx="67.9" cy="361.3" r="1.15" fill="#3f9f3a"/>
<circle cx="91.9" cy="328.1" r="1.15" fill="#d86e98"/>
<circle cx="68.9" cy="366.4" r="1.15" fill="#3f9f3a"/>
<circle cx="75.0" cy="345.8" r="1.15" fill="#d86e98"/>
<circle cx="62.6" cy="293.9" r="1.15" fill="#e4705f"/>
<circle cx="50.7" cy="336.5" r="1.15" fill="#178b6f"/>
<circle cx="69.5" cy="363.1" r="1.15" fill="#7d7cc2"/>
<circle cx="94.7" cy="368.0" r="1.15" fill="#cfa02a"/>
<circle cx="61.2" cy="312.0" r="1.15" fill="#178b6f"/>
<circle cx="76.7" cy="307.0" r="1.15" fill="#e4705f"/>
<circle cx="80.1" cy="362.9" r="1.15" fill="#3f9f3a"/>
<circle cx="66.8" cy="325.0" r="1.15" fill="#178b6f"/>
<circle cx="84.5" cy="358.4" r="1.15" fill="#3f9f3a"/>
<circle cx="98.7" cy="367.0" r="1.15" fill="#cfa02a"/>
<circle cx="66.1" cy="370.0" r="1.15" fill="#e4705f"/>
<circle cx="74.8" cy="273.6" r="1.15" fill="#e4705f"/>
<circle cx="77.7" cy="364.3" r="1.15" fill="#3f9f3a"/>
<circle cx="76.2" cy="365.1" r="1.15" fill="#3f9f3a"/>
<circle cx="106.6" cy="366.7" r="1.15" fill="#cfa02a"/>
<circle cx="96.1" cy="371.5" r="1.15" fill="#cfa02a"/>
<circle cx="50.9" cy="283.5" r="1.15" fill="#178b6f"/>
<circle cx="78.8" cy="370.9" r="1.15" fill="#3f9f3a"/>
<circle cx="71.6" cy="365.3" r="1.15" fill="#3f9f3a"/>
<circle cx="96.7" cy="366.9" r="1.15" fill="#cfa02a"/>
<circle cx="61.6" cy="286.2" r="1.15" fill="#178b6f"/>
<circle cx="60.7" cy="286.2" r="1.15" fill="#178b6f"/>
<circle cx="103.4" cy="369.5" r="1.15" fill="#cfa02a"/>
<circle cx="76.7" cy="314.3" r="1.15" fill="#e4705f"/>
<circle cx="89.5" cy="370.3" r="1.15" fill="#3f9f3a"/>
<circle cx="78.1" cy="297.0" r="1.15" fill="#3f9f3a"/>
<circle cx="91.4" cy="370.7" r="1.15" fill="#cfa02a"/>
<circle cx="101.3" cy="365.2" r="1.15" fill="#cfa02a"/>
<circle cx="105.7" cy="369.5" r="1.15" fill="#cfa02a"/>
<circle cx="58.1" cy="352.7" r="1.15" fill="#e4705f"/>
<circle cx="72.2" cy="367.2" r="1.15" fill="#3f9f3a"/>
<circle cx="80.4" cy="296.3" r="1.15" fill="#e4705f"/>
<circle cx="69.6" cy="372.5" r="1.15" fill="#3f9f3a"/>
<circle cx="81.1" cy="319.7" r="1.15" fill="#e4705f"/>
<circle cx="60.2" cy="325.1" r="1.15" fill="#25a7c6"/>
<circle cx="65.7" cy="350.1" r="1.15" fill="#e4705f"/>
<circle cx="95.3" cy="368.4" r="1.15" fill="#3f9f3a"/>
<circle cx="63.2" cy="370.9" r="1.15" fill="#7d7cc2"/>
<circle cx="64.4" cy="314.8" r="1.15" fill="#25a7c6"/>
<circle cx="64.4" cy="363.7" r="1.15" fill="#3f9f3a"/>
<circle cx="84.9" cy="357.7" r="1.15" fill="#3f9f3a"/>
<circle cx="66.7" cy="329.3" r="1.15" fill="#e4705f"/>
<circle cx="60.0" cy="299.9" r="1.15" fill="#178b6f"/>
<circle cx="84.9" cy="308.9" r="1.15" fill="#e4705f"/>
<circle cx="82.9" cy="370.3" r="1.15" fill="#3f9f3a"/>
<circle cx="105.5" cy="373.4" r="1.15" fill="#cfa02a"/>
<circle cx="82.7" cy="359.1" r="1.15" fill="#3f9f3a"/>
<circle cx="62.4" cy="340.8" r="1.15" fill="#178b6f"/>
<circle cx="79.9" cy="368.5" r="1.15" fill="#3f9f3a"/>
<circle cx="77.7" cy="372.5" r="1.15" fill="#3f9f3a"/>
<circle cx="78.9" cy="356.8" r="1.15" fill="#3f9f3a"/>
<circle cx="58.5" cy="303.6" r="1.15" fill="#25a7c6"/>
<circle cx="87.2" cy="368.3" r="1.15" fill="#3f9f3a"/>
<circle cx="72.7" cy="364.7" r="1.15" fill="#3f9f3a"/>
<circle cx="64.6" cy="359.1" r="1.15" fill="#e4705f"/>
<circle cx="84.7" cy="373.2" r="1.15" fill="#3f9f3a"/>
<circle cx="69.5" cy="363.7" r="1.15" fill="#3f9f3a"/>
<circle cx="89.1" cy="362.2" r="1.15" fill="#3f9f3a"/>
<circle cx="59.4" cy="308.9" r="1.15" fill="#178b6f"/>
<circle cx="76.7" cy="366.7" r="1.15" fill="#3f9f3a"/>
<circle cx="89.9" cy="373.7" r="1.15" fill="#cfa02a"/>
<circle cx="65.1" cy="357.4" r="1.15" fill="#3f9f3a"/>
<circle cx="88.1" cy="367.9" r="1.15" fill="#cfa02a"/>
<circle cx="87.8" cy="349.1" r="1.15" fill="#e4705f"/>
<circle cx="88.2" cy="372.8" r="1.15" fill="#cfa02a"/>
<circle cx="58.5" cy="313.8" r="1.15" fill="#178b6f"/>
<circle cx="75.2" cy="351.6" r="1.15" fill="#3f9f3a"/>
<circle cx="65.7" cy="369.3" r="1.15" fill="#e4705f"/>
<circle cx="69.3" cy="361.9" r="1.15" fill="#178b6f"/>
<circle cx="92.6" cy="368.4" r="1.15" fill="#cfa02a"/>
<circle cx="69.8" cy="369.3" r="1.15" fill="#3f9f3a"/>
<circle cx="83.8" cy="363.9" r="1.15" fill="#3f9f3a"/>
<circle cx="90.1" cy="364.7" r="1.15" fill="#cfa02a"/>
<circle cx="88.9" cy="362.0" r="1.15" fill="#3f9f3a"/>
<circle cx="102.4" cy="359.5" r="1.15" fill="#cfa02a"/>
<circle cx="75.8" cy="362.3" r="1.15" fill="#3f9f3a"/>
<circle cx="73.2" cy="299.2" r="1.15" fill="#e4705f"/>
<circle cx="59.0" cy="304.9" r="1.15" fill="#25a7c6"/>
<circle cx="71.2" cy="368.7" r="1.15" fill="#3f9f3a"/>
<circle cx="80.1" cy="271.5" r="1.15" fill="#e4705f"/>
<circle cx="57.2" cy="284.6" r="1.15" fill="#178b6f"/>
<circle cx="102.7" cy="373.3" r="1.15" fill="#cfa02a"/>
<circle cx="100.3" cy="368.8" r="1.15" fill="#cfa02a"/>
<circle cx="70.9" cy="368.8" r="1.15" fill="#3f9f3a"/>
<circle cx="76.0" cy="325.7" r="1.15" fill="#e4705f"/>
<circle cx="71.7" cy="296.4" r="1.15" fill="#e4705f"/>
<circle cx="59.9" cy="326.1" r="1.15" fill="#25a7c6"/>
<circle cx="61.7" cy="321.3" r="1.15" fill="#25a7c6"/>
<circle cx="60.5" cy="287.3" r="1.15" fill="#178b6f"/>
<circle cx="83.7" cy="366.1" r="1.15" fill="#e4705f"/>
<circle cx="86.8" cy="343.1" r="1.15" fill="#e4705f"/>
<circle cx="73.5" cy="280.7" r="1.15" fill="#e4705f"/>
<circle cx="74.5" cy="364.1" r="1.15" fill="#3f9f3a"/>
<circle cx="64.5" cy="365.0" r="1.15" fill="#e4705f"/>
<circle cx="68.1" cy="348.9" r="1.15" fill="#e4705f"/>
<circle cx="67.2" cy="343.5" r="1.15" fill="#e4705f"/>
<circle cx="102.1" cy="357.4" r="1.15" fill="#cfa02a"/>
<circle cx="75.2" cy="308.9" r="1.15" fill="#3f9f3a"/>
<circle cx="80.8" cy="369.6" r="1.15" fill="#3f9f3a"/>
<circle cx="83.7" cy="359.8" r="1.15" fill="#3f9f3a"/>
<circle cx="61.2" cy="332.1" r="1.15" fill="#178b6f"/>
<circle cx="71.8" cy="373.6" r="1.15" fill="#3f9f3a"/>
<circle cx="57.3" cy="312.2" r="1.15" fill="#25a7c6"/>
<circle cx="77.9" cy="322.3" r="1.15" fill="#3f9f3a"/>
<circle cx="74.8" cy="370.2" r="1.15" fill="#3f9f3a"/>
<circle cx="71.9" cy="330.3" r="1.15" fill="#e4705f"/>
<circle cx="62.9" cy="279.7" r="1.15" fill="#178b6f"/>
<circle cx="78.5" cy="373.6" r="1.15" fill="#3f9f3a"/>
<circle cx="91.9" cy="352.9" r="1.15" fill="#cfa02a"/>
<circle cx="67.1" cy="364.9" r="1.15" fill="#3f9f3a"/>
<circle cx="61.8" cy="294.3" r="1.15" fill="#178b6f"/>
<circle cx="69.5" cy="370.5" r="1.15" fill="#3f9f3a"/>
<circle cx="78.0" cy="278.0" r="1.15" fill="#e4705f"/>
<circle cx="85.6" cy="312.0" r="1.15" fill="#e4705f"/>
<circle cx="91.4" cy="353.0" r="1.15" fill="#e4705f"/>
<circle cx="92.8" cy="368.4" r="1.15" fill="#cfa02a"/>
<circle cx="67.0" cy="361.0" r="1.15" fill="#3f9f3a"/>
<circle cx="60.8" cy="366.7" r="1.15" fill="#3f9f3a"/>
<circle cx="74.1" cy="368.3" r="1.15" fill="#3f9f3a"/>
<circle cx="75.3" cy="369.0" r="1.15" fill="#3f9f3a"/>
<circle cx="78.5" cy="362.1" r="1.15" fill="#3f9f3a"/>
<circle cx="71.6" cy="323.7" r="1.15" fill="#e4705f"/>
<circle cx="98.2" cy="370.1" r="1.15" fill="#cfa02a"/>
<circle cx="74.2" cy="357.0" r="1.15" fill="#e4705f"/>
<circle cx="78.9" cy="364.5" r="1.15" fill="#3f9f3a"/>
<circle cx="100.2" cy="366.6" r="1.15" fill="#cfa02a"/>
<circle cx="75.1" cy="320.2" r="1.15" fill="#3f9f3a"/>
<circle cx="88.9" cy="372.8" r="1.15" fill="#cfa02a"/>
<circle cx="90.5" cy="371.4" r="1.15" fill="#3f9f3a"/>
<circle cx="65.1" cy="353.6" r="1.15" fill="#e4705f"/>
<circle cx="90.7" cy="371.0" r="1.15" fill="#3f9f3a"/>
<circle cx="97.6" cy="371.9" r="1.15" fill="#cfa02a"/>
<circle cx="51.1" cy="279.4" r="1.15" fill="#178b6f"/>
<circle cx="77.0" cy="349.6" r="1.15" fill="#d86e98"/>
<circle cx="65.6" cy="359.3" r="1.15" fill="#3f9f3a"/>
<circle cx="80.9" cy="357.7" r="1.15" fill="#3f9f3a"/>
<circle cx="85.0" cy="293.3" r="1.15" fill="#e4705f"/>
<circle cx="98.9" cy="368.6" r="1.15" fill="#cfa02a"/>
<circle cx="59.1" cy="348.2" r="1.15" fill="#e4705f"/>
<circle cx="76.4" cy="358.8" r="1.15" fill="#3f9f3a"/>
<circle cx="106.9" cy="373.3" r="1.15" fill="#cfa02a"/>
<circle cx="73.9" cy="361.5" r="1.15" fill="#7d7cc2"/>
<circle cx="59.8" cy="348.2" r="1.15" fill="#e4705f"/>
<circle cx="69.4" cy="352.8" r="1.15" fill="#e4705f"/>
<circle cx="59.3" cy="302.0" r="1.15" fill="#25a7c6"/>
<circle cx="94.9" cy="372.5" r="1.15" fill="#cfa02a"/>
<circle cx="61.6" cy="314.3" r="1.15" fill="#e4705f"/>
<circle cx="92.5" cy="351.7" r="1.15" fill="#e4705f"/>
<circle cx="91.8" cy="363.4" r="1.15" fill="#cfa02a"/>
<circle cx="60.3" cy="282.4" r="1.15" fill="#178b6f"/>
<circle cx="77.4" cy="290.8" r="1.15" fill="#e4705f"/>
<circle cx="74.8" cy="336.9" r="1.15" fill="#d86e98"/>
<circle cx="78.9" cy="341.1" r="1.15" fill="#e4705f"/>
<circle cx="86.1" cy="360.7" r="1.15" fill="#3f9f3a"/>
<circle cx="55.0" cy="302.3" r="1.15" fill="#178b6f"/>
<circle cx="81.8" cy="339.4" r="1.15" fill="#e4705f"/>
<circle cx="80.6" cy="367.7" r="1.15" fill="#3f9f3a"/>
<circle cx="71.2" cy="367.6" r="1.15" fill="#3f9f3a"/>
<circle cx="57.7" cy="332.0" r="1.15" fill="#178b6f"/>
<circle cx="66.6" cy="364.7" r="1.15" fill="#7d7cc2"/>
<circle cx="60.5" cy="279.9" r="1.15" fill="#178b6f"/>
<circle cx="94.8" cy="366.5" r="1.15" fill="#cfa02a"/>
<circle cx="60.9" cy="321.4" r="1.15" fill="#25a7c6"/>
<circle cx="75.6" cy="335.6" r="1.15" fill="#e4705f"/>
<circle cx="103.7" cy="354.0" r="1.15" fill="#cfa02a"/>
<circle cx="102.3" cy="368.2" r="1.15" fill="#cfa02a"/>
<circle cx="67.9" cy="309.8" r="1.15" fill="#e4705f"/>
<circle cx="67.0" cy="363.4" r="1.15" fill="#3f9f3a"/>
<circle cx="78.3" cy="363.0" r="1.15" fill="#3f9f3a"/>
<circle cx="58.8" cy="366.8" r="1.15" fill="#e4705f"/>
<circle cx="58.7" cy="314.7" r="1.15" fill="#178b6f"/>
<circle cx="63.0" cy="291.8" r="1.15" fill="#178b6f"/>
<circle cx="75.2" cy="367.0" r="1.15" fill="#3f9f3a"/>
<circle cx="71.7" cy="343.4" r="1.15" fill="#e4705f"/>
<circle cx="59.6" cy="313.5" r="1.15" fill="#178b6f"/>
<circle cx="86.1" cy="353.9" r="1.15" fill="#e4705f"/>
<circle cx="82.8" cy="359.9" r="1.15" fill="#3f9f3a"/>
<circle cx="91.7" cy="334.7" r="1.15" fill="#d86e98"/>
<circle cx="76.9" cy="368.4" r="1.15" fill="#3f9f3a"/>
<circle cx="88.6" cy="364.9" r="1.15" fill="#3f9f3a"/>
<circle cx="60.2" cy="314.5" r="1.15" fill="#178b6f"/>
<circle cx="60.9" cy="282.8" r="1.15" fill="#178b6f"/>
<circle cx="62.3" cy="281.4" r="1.15" fill="#178b6f"/>
<circle cx="78.9" cy="370.4" r="1.15" fill="#3f9f3a"/>
<circle cx="59.5" cy="368.3" r="1.15" fill="#178b6f"/>
<circle cx="83.0" cy="354.3" r="1.15" fill="#3f9f3a"/>
<circle cx="108.9" cy="372.5" r="1.15" fill="#cfa02a"/>
<circle cx="85.8" cy="364.1" r="1.15" fill="#3f9f3a"/>
<circle cx="94.7" cy="373.7" r="1.15" fill="#cfa02a"/>
<circle cx="81.0" cy="370.7" r="1.15" fill="#3f9f3a"/>
<circle cx="80.6" cy="370.5" r="1.15" fill="#3f9f3a"/>
<circle cx="71.9" cy="352.3" r="1.15" fill="#e4705f"/>
<circle cx="73.7" cy="355.1" r="1.15" fill="#3f9f3a"/>
<circle cx="85.8" cy="303.0" r="1.15" fill="#3f9f3a"/>
<circle cx="83.8" cy="323.7" r="1.15" fill="#3f9f3a"/>
<circle cx="71.0" cy="371.3" r="1.15" fill="#3f9f3a"/>
<circle cx="84.1" cy="361.2" r="1.15" fill="#3f9f3a"/>
<circle cx="104.0" cy="372.5" r="1.15" fill="#cfa02a"/>
<circle cx="60.2" cy="284.3" r="1.15" fill="#178b6f"/>
<circle cx="75.6" cy="369.2" r="1.15" fill="#3f9f3a"/>
<circle cx="69.6" cy="361.7" r="1.15" fill="#3f9f3a"/>
<circle cx="74.4" cy="363.1" r="1.15" fill="#3f9f3a"/>
<circle cx="66.1" cy="368.8" r="1.15" fill="#3f9f3a"/>
<circle cx="56.4" cy="363.2" r="1.15" fill="#178b6f"/>
<circle cx="79.0" cy="297.1" r="1.15" fill="#e4705f"/>
<circle cx="70.5" cy="343.4" r="1.15" fill="#d86e98"/>
<circle cx="82.5" cy="352.7" r="1.15" fill="#e4705f"/>
<circle cx="87.2" cy="364.2" r="1.15" fill="#3f9f3a"/>
<circle cx="98.3" cy="367.1" r="1.15" fill="#cfa02a"/>
<circle cx="103.3" cy="371.9" r="1.15" fill="#cfa02a"/>
<circle cx="52.0" cy="282.3" r="1.15" fill="#178b6f"/>
<circle cx="90.9" cy="373.3" r="1.15" fill="#3f9f3a"/>
<circle cx="58.1" cy="292.0" r="1.15" fill="#178b6f"/>
<circle cx="81.5" cy="300.3" r="1.15" fill="#e4705f"/>
<circle cx="67.1" cy="321.8" r="1.15" fill="#3f9f3a"/>
<circle cx="57.0" cy="370.2" r="1.15" fill="#3f9f3a"/>
<circle cx="82.8" cy="354.5" r="1.15" fill="#e4705f"/>
<circle cx="103.6" cy="370.9" r="1.15" fill="#cfa02a"/>
<circle cx="72.0" cy="340.8" r="1.15" fill="#e4705f"/>
<circle cx="76.7" cy="369.0" r="1.15" fill="#3f9f3a"/>
<circle cx="94.8" cy="372.9" r="1.15" fill="#cfa02a"/>
<circle cx="63.5" cy="362.4" r="1.15" fill="#7d7cc2"/>
<circle cx="81.6" cy="354.6" r="1.15" fill="#e4705f"/>
<circle cx="72.3" cy="363.3" r="1.15" fill="#3f9f3a"/>
<circle cx="99.1" cy="363.0" r="1.15" fill="#cfa02a"/>
<circle cx="63.5" cy="297.0" r="1.15" fill="#178b6f"/>
<circle cx="102.5" cy="370.1" r="1.15" fill="#cfa02a"/>
<circle cx="83.1" cy="363.4" r="1.15" fill="#3f9f3a"/>
<circle cx="63.3" cy="358.3" r="1.15" fill="#178b6f"/>
<circle cx="82.7" cy="308.5" r="1.15" fill="#e4705f"/>
<circle cx="54.6" cy="295.5" r="1.15" fill="#25a7c6"/>
<circle cx="92.6" cy="365.2" r="1.15" fill="#3f9f3a"/>
<circle cx="99.5" cy="370.0" r="1.15" fill="#cfa02a"/>
<circle cx="86.0" cy="300.6" r="1.15" fill="#e4705f"/>
<circle cx="65.6" cy="373.5" r="1.15" fill="#3f9f3a"/>
<circle cx="85.4" cy="367.2" r="1.15" fill="#3f9f3a"/>
<circle cx="56.8" cy="309.0" r="1.15" fill="#178b6f"/>
<circle cx="76.1" cy="277.9" r="1.15" fill="#e4705f"/>
<circle cx="94.9" cy="371.1" r="1.15" fill="#cfa02a"/>
<circle cx="73.1" cy="371.0" r="1.15" fill="#3f9f3a"/>
<circle cx="79.7" cy="339.0" r="1.15" fill="#d86e98"/>
<circle cx="56.5" cy="299.5" r="1.15" fill="#178b6f"/>
<circle cx="60.4" cy="311.6" r="1.15" fill="#178b6f"/>
<circle cx="72.3" cy="312.9" r="1.15" fill="#e4705f"/>
<circle cx="76.7" cy="361.1" r="1.15" fill="#3f9f3a"/>
<circle cx="84.0" cy="370.5" r="1.15" fill="#3f9f3a"/>
<circle cx="103.3" cy="371.2" r="1.15" fill="#cfa02a"/>
<circle cx="91.6" cy="366.3" r="1.15" fill="#cfa02a"/>
<circle cx="62.8" cy="369.4" r="1.15" fill="#e4705f"/>
<circle cx="61.9" cy="373.6" r="1.15" fill="#3f9f3a"/>
<circle cx="67.6" cy="342.2" r="1.15" fill="#178b6f"/>
<circle cx="58.8" cy="311.6" r="1.15" fill="#178b6f"/>
<circle cx="81.4" cy="296.5" r="1.15" fill="#e4705f"/>
<circle cx="85.3" cy="371.2" r="1.15" fill="#3f9f3a"/>
<circle cx="72.1" cy="325.3" r="1.15" fill="#d86e98"/>
<circle cx="83.3" cy="340.8" r="1.15" fill="#d86e98"/>
<circle cx="82.8" cy="372.5" r="1.15" fill="#3f9f3a"/>
<circle cx="70.7" cy="369.6" r="1.15" fill="#3f9f3a"/>
<circle cx="75.4" cy="351.2" r="1.15" fill="#3f9f3a"/>
<circle cx="53.8" cy="310.9" r="1.15" fill="#178b6f"/>
<circle cx="74.3" cy="325.1" r="1.15" fill="#3f9f3a"/>
<circle cx="83.6" cy="372.8" r="1.15" fill="#3f9f3a"/>
<circle cx="61.6" cy="320.0" r="1.15" fill="#178b6f"/>
<circle cx="102.5" cy="363.3" r="1.15" fill="#cfa02a"/>
<circle cx="90.3" cy="372.1" r="1.15" fill="#3f9f3a"/>
<circle cx="75.4" cy="363.4" r="1.15" fill="#e4705f"/>
<circle cx="71.0" cy="367.2" r="1.15" fill="#3f9f3a"/>
<circle cx="78.4" cy="368.7" r="1.15" fill="#3f9f3a"/>
<circle cx="61.0" cy="295.2" r="1.15" fill="#178b6f"/>
<circle cx="108.3" cy="372.6" r="1.15" fill="#cfa02a"/>
<circle cx="76.1" cy="370.0" r="1.15" fill="#3f9f3a"/>
<circle cx="92.8" cy="343.3" r="1.15" fill="#cfa02a"/>
<circle cx="62.4" cy="372.1" r="1.15" fill="#e4705f"/>
<circle cx="80.7" cy="372.9" r="1.15" fill="#3f9f3a"/>
<circle cx="51.6" cy="363.9" r="1.15" fill="#178b6f"/>
<circle cx="102.3" cy="349.0" r="1.15" fill="#cfa02a"/>
<circle cx="56.9" cy="355.4" r="1.15" fill="#178b6f"/>
<circle cx="65.2" cy="326.1" r="1.15" fill="#178b6f"/>
<circle cx="89.4" cy="366.7" r="1.15" fill="#3f9f3a"/>
<circle cx="73.5" cy="372.2" r="1.15" fill="#7d7cc2"/>
<circle cx="72.6" cy="349.7" r="1.15" fill="#e4705f"/>
<circle cx="103.5" cy="343.4" r="1.15" fill="#cfa02a"/>
<circle cx="67.3" cy="365.5" r="1.15" fill="#3f9f3a"/>
<circle cx="103.1" cy="370.0" r="1.15" fill="#cfa02a"/>
<circle cx="80.9" cy="365.2" r="1.15" fill="#3f9f3a"/>
<circle cx="102.5" cy="372.2" r="1.15" fill="#cfa02a"/>
<circle cx="85.4" cy="361.7" r="1.15" fill="#3f9f3a"/>
<circle cx="74.9" cy="365.0" r="1.15" fill="#3f9f3a"/>
<circle cx="60.5" cy="362.4" r="1.15" fill="#e4705f"/>
<circle cx="104.2" cy="366.9" r="1.15" fill="#cfa02a"/>
<circle cx="56.1" cy="299.9" r="1.15" fill="#178b6f"/>
<circle cx="96.5" cy="371.3" r="1.15" fill="#cfa02a"/>
<circle cx="87.6" cy="368.6" r="1.15" fill="#3f9f3a"/>
<circle cx="81.5" cy="370.7" r="1.15" fill="#3f9f3a"/>
<circle cx="59.4" cy="284.2" r="1.15" fill="#178b6f"/>
<circle cx="79.8" cy="277.2" r="1.15" fill="#e4705f"/>
<circle cx="83.4" cy="369.6" r="1.15" fill="#e4705f"/>
<circle cx="56.5" cy="306.0" r="1.15" fill="#178b6f"/>
<circle cx="102.3" cy="370.9" r="1.15" fill="#cfa02a"/>
<circle cx="79.9" cy="353.4" r="1.15" fill="#3f9f3a"/>
<circle cx="71.8" cy="359.4" r="1.15" fill="#178b6f"/>
<circle cx="77.2" cy="268.9" r="1.15" fill="#e4705f"/>
<circle cx="62.3" cy="372.3" r="1.15" fill="#7d7cc2"/>
<circle cx="80.4" cy="372.1" r="1.15" fill="#3f9f3a"/>
<circle cx="79.7" cy="361.9" r="1.15" fill="#3f9f3a"/>
<circle cx="87.4" cy="369.4" r="1.15" fill="#3f9f3a"/>
<circle cx="73.9" cy="364.8" r="1.15" fill="#d86e98"/>
<circle cx="96.5" cy="368.2" r="1.15" fill="#cfa02a"/>
<circle cx="57.4" cy="293.3" r="1.15" fill="#178b6f"/>
<circle cx="76.2" cy="302.0" r="1.15" fill="#e4705f"/>
<circle cx="56.8" cy="303.1" r="1.15" fill="#178b6f"/>
<circle cx="89.4" cy="363.0" r="1.15" fill="#cfa02a"/>
<circle cx="73.6" cy="299.7" r="1.15" fill="#e4705f"/>
<circle cx="104.5" cy="350.4" r="1.15" fill="#cfa02a"/>
<circle cx="93.2" cy="368.6" r="1.15" fill="#cfa02a"/>
<circle cx="63.1" cy="363.1" r="1.15" fill="#3f9f3a"/>
<circle cx="67.1" cy="322.2" r="1.15" fill="#178b6f"/>
<circle cx="65.3" cy="368.0" r="1.15" fill="#d86e98"/>
<circle cx="73.3" cy="367.1" r="1.15" fill="#3f9f3a"/>
<circle cx="66.4" cy="336.0" r="1.15" fill="#178b6f"/>
<circle cx="64.9" cy="345.0" r="1.15" fill="#178b6f"/>
<circle cx="106.2" cy="372.2" r="1.15" fill="#cfa02a"/>
<circle cx="56.5" cy="309.8" r="1.15" fill="#25a7c6"/>
<circle cx="101.3" cy="369.0" r="1.15" fill="#cfa02a"/>
<circle cx="77.3" cy="371.9" r="1.15" fill="#3f9f3a"/>
<circle cx="105.1" cy="371.9" r="1.15" fill="#cfa02a"/>
<circle cx="57.4" cy="322.9" r="1.15" fill="#178b6f"/>
<circle cx="57.8" cy="318.5" r="1.15" fill="#178b6f"/>
<circle cx="76.1" cy="369.5" r="1.15" fill="#3f9f3a"/>
<circle cx="77.8" cy="352.1" r="1.15" fill="#3f9f3a"/>
<circle cx="77.3" cy="306.0" r="1.15" fill="#e4705f"/>
<circle cx="78.7" cy="370.2" r="1.15" fill="#3f9f3a"/>
<circle cx="76.5" cy="365.1" r="1.15" fill="#e4705f"/>
<circle cx="59.4" cy="280.6" r="1.15" fill="#178b6f"/>
<circle cx="87.6" cy="370.3" r="1.15" fill="#e4705f"/>
<circle cx="73.5" cy="315.4" r="1.15" fill="#3f9f3a"/>
<circle cx="68.5" cy="352.3" r="1.15" fill="#3f9f3a"/>
<circle cx="105.0" cy="373.6" r="1.15" fill="#cfa02a"/>
<circle cx="81.8" cy="364.8" r="1.15" fill="#d86e98"/>
<circle cx="50.3" cy="294.4" r="1.15" fill="#178b6f"/>
<circle cx="55.9" cy="330.4" r="1.15" fill="#178b6f"/>
<circle cx="83.9" cy="363.0" r="1.15" fill="#3f9f3a"/>
<circle cx="93.3" cy="368.8" r="1.15" fill="#3f9f3a"/>
<circle cx="107.8" cy="370.3" r="1.15" fill="#cfa02a"/>
<circle cx="63.2" cy="285.6" r="1.15" fill="#e4705f"/>
<circle cx="59.8" cy="358.3" r="1.15" fill="#e4705f"/>
<circle cx="83.5" cy="373.0" r="1.15" fill="#3f9f3a"/>
<circle cx="96.6" cy="372.5" r="1.15" fill="#cfa02a"/>
<circle cx="90.7" cy="367.7" r="1.15" fill="#cfa02a"/>
<circle cx="65.3" cy="366.0" r="1.15" fill="#3f9f3a"/>
<circle cx="64.7" cy="324.0" r="1.15" fill="#e4705f"/>
<circle cx="85.9" cy="359.9" r="1.15" fill="#3f9f3a"/>
<circle cx="73.5" cy="365.7" r="1.15" fill="#3f9f3a"/>
<circle cx="56.9" cy="326.2" r="1.15" fill="#178b6f"/>
<circle cx="62.4" cy="291.2" r="1.15" fill="#178b6f"/>
<circle cx="75.5" cy="362.9" r="1.15" fill="#3f9f3a"/>
<circle cx="99.4" cy="366.7" r="1.15" fill="#cfa02a"/>
<circle cx="82.9" cy="370.9" r="1.15" fill="#3f9f3a"/>
<circle cx="102.3" cy="361.6" r="1.15" fill="#cfa02a"/>
<circle cx="60.4" cy="302.3" r="1.15" fill="#178b6f"/>
<circle cx="100.8" cy="369.6" r="1.15" fill="#cfa02a"/>
<circle cx="76.0" cy="314.2" r="1.15" fill="#e4705f"/>
<circle cx="70.1" cy="372.3" r="1.15" fill="#3f9f3a"/>
<circle cx="69.2" cy="360.2" r="1.15" fill="#178b6f"/>
<circle cx="74.5" cy="356.9" r="1.15" fill="#3f9f3a"/>
<circle cx="64.9" cy="370.7" r="1.15" fill="#3f9f3a"/>
<circle cx="58.5" cy="364.6" r="1.15" fill="#3f9f3a"/>
<circle cx="99.8" cy="369.4" r="1.15" fill="#cfa02a"/>
<circle cx="78.1" cy="298.5" r="1.15" fill="#e4705f"/>
<circle cx="55.4" cy="297.1" r="1.15" fill="#178b6f"/>
<circle cx="72.0" cy="290.5" r="1.15" fill="#e4705f"/>
<circle cx="94.9" cy="366.9" r="1.15" fill="#cfa02a"/>
<circle cx="92.5" cy="373.3" r="1.15" fill="#cfa02a"/>
<circle cx="98.0" cy="373.5" r="1.15" fill="#cfa02a"/>
<circle cx="73.0" cy="270.1" r="1.15" fill="#e4705f"/>
<circle cx="68.7" cy="352.4" r="1.15" fill="#e4705f"/>
<circle cx="66.8" cy="359.1" r="1.15" fill="#3f9f3a"/>
<circle cx="96.8" cy="363.0" r="1.15" fill="#cfa02a"/>
<circle cx="73.3" cy="285.1" r="1.15" fill="#e4705f"/>
<circle cx="68.2" cy="370.6" r="1.15" fill="#7d7cc2"/>
<circle cx="98.9" cy="360.9" r="1.15" fill="#cfa02a"/>
<circle cx="75.5" cy="307.9" r="1.15" fill="#e4705f"/>
<circle cx="73.5" cy="372.5" r="1.15" fill="#3f9f3a"/>
<circle cx="76.5" cy="366.2" r="1.15" fill="#3f9f3a"/>
<circle cx="107.8" cy="373.5" r="1.15" fill="#cfa02a"/>
<circle cx="68.8" cy="372.7" r="1.15" fill="#3f9f3a"/>
<circle cx="54.5" cy="284.3" r="1.15" fill="#178b6f"/>
<circle cx="62.6" cy="340.5" r="1.15" fill="#e4705f"/>
<circle cx="90.8" cy="373.5" r="1.15" fill="#cfa02a"/>
<circle cx="70.7" cy="372.3" r="1.15" fill="#3f9f3a"/>
<circle cx="90.9" cy="327.5" r="1.15" fill="#d86e98"/>
<circle cx="55.0" cy="316.8" r="1.15" fill="#178b6f"/>
<circle cx="73.5" cy="334.0" r="1.15" fill="#178b6f"/>
<circle cx="91.8" cy="366.5" r="1.15" fill="#cfa02a"/>
<circle cx="77.6" cy="335.5" r="1.15" fill="#e4705f"/>
<circle cx="77.4" cy="294.7" r="1.15" fill="#3f9f3a"/>
<circle cx="79.8" cy="371.1" r="1.15" fill="#3f9f3a"/>
<circle cx="57.0" cy="300.8" r="1.15" fill="#178b6f"/>
<circle cx="72.2" cy="270.3" r="1.15" fill="#e4705f"/>
<circle cx="73.2" cy="365.1" r="1.15" fill="#3f9f3a"/>
<circle cx="88.5" cy="371.6" r="1.15" fill="#cfa02a"/>
<circle cx="66.9" cy="372.7" r="1.15" fill="#3f9f3a"/>
<circle cx="90.1" cy="362.7" r="1.15" fill="#3f9f3a"/>
<circle cx="59.6" cy="291.6" r="1.15" fill="#178b6f"/>
<circle cx="94.3" cy="363.1" r="1.15" fill="#cfa02a"/>
<circle cx="56.0" cy="335.8" r="1.15" fill="#178b6f"/>
<circle cx="78.3" cy="307.2" r="1.15" fill="#e4705f"/>
<circle cx="82.4" cy="362.5" r="1.15" fill="#3f9f3a"/>
<circle cx="58.4" cy="306.8" r="1.15" fill="#178b6f"/>
<circle cx="101.2" cy="344.6" r="1.15" fill="#cfa02a"/>
<circle cx="68.4" cy="372.1" r="1.15" fill="#3f9f3a"/>
<circle cx="65.4" cy="337.2" r="1.15" fill="#e4705f"/>
<circle cx="104.8" cy="360.0" r="1.15" fill="#cfa02a"/>
<circle cx="61.3" cy="292.3" r="1.15" fill="#178b6f"/>
<circle cx="76.3" cy="294.6" r="1.15" fill="#3f9f3a"/>
<circle cx="60.1" cy="304.9" r="1.15" fill="#178b6f"/>
<circle cx="80.1" cy="345.9" r="1.15" fill="#e4705f"/>
<circle cx="100.5" cy="367.6" r="1.15" fill="#cfa02a"/>
<circle cx="71.5" cy="371.0" r="1.15" fill="#3f9f3a"/>
<circle cx="82.5" cy="369.1" r="1.15" fill="#e4705f"/>
<circle cx="78.0" cy="371.7" r="1.15" fill="#3f9f3a"/>
<circle cx="64.3" cy="306.6" r="1.15" fill="#178b6f"/>
<circle cx="78.2" cy="370.7" r="1.15" fill="#3f9f3a"/>
<circle cx="103.5" cy="369.5" r="1.15" fill="#cfa02a"/>
<circle cx="79.0" cy="358.8" r="1.15" fill="#3f9f3a"/>
<circle cx="83.3" cy="359.9" r="1.15" fill="#3f9f3a"/>
<circle cx="188.1" cy="270.0" r="1.15" fill="#e4705f"/>
<circle cx="192.0" cy="371.2" r="1.15" fill="#3f9f3a"/>
<circle cx="203.1" cy="372.5" r="1.15" fill="#cfa02a"/>
<circle cx="182.3" cy="342.7" r="1.15" fill="#e4705f"/>
<circle cx="171.9" cy="320.6" r="1.15" fill="#178b6f"/>
<circle cx="191.7" cy="287.6" r="1.15" fill="#e4705f"/>
<circle cx="192.6" cy="367.2" r="1.15" fill="#3f9f3a"/>
<circle cx="183.0" cy="367.0" r="1.15" fill="#3f9f3a"/>
<circle cx="172.6" cy="310.9" r="1.15" fill="#178b6f"/>
<circle cx="205.5" cy="369.7" r="1.15" fill="#cfa02a"/>
<circle cx="190.7" cy="360.6" r="1.15" fill="#3f9f3a"/>
<circle cx="199.5" cy="370.4" r="1.15" fill="#cfa02a"/>
<circle cx="189.7" cy="310.7" r="1.15" fill="#3f9f3a"/>
<circle cx="193.0" cy="371.7" r="1.15" fill="#3f9f3a"/>
<circle cx="186.1" cy="365.8" r="1.15" fill="#3f9f3a"/>
<circle cx="198.7" cy="370.4" r="1.15" fill="#cfa02a"/>
<circle cx="172.8" cy="306.5" r="1.15" fill="#178b6f"/>
<circle cx="184.4" cy="279.1" r="1.15" fill="#e4705f"/>
<circle cx="191.6" cy="371.1" r="1.15" fill="#3f9f3a"/>
<circle cx="179.3" cy="290.1" r="1.15" fill="#178b6f"/>
<circle cx="186.9" cy="372.8" r="1.15" fill="#3f9f3a"/>
<circle cx="184.2" cy="323.8" r="1.15" fill="#e4705f"/>
<circle cx="170.4" cy="350.2" r="1.15" fill="#178b6f"/>
<circle cx="183.2" cy="364.3" r="1.15" fill="#3f9f3a"/>
<circle cx="194.6" cy="370.2" r="1.15" fill="#3f9f3a"/>
<circle cx="189.4" cy="370.2" r="1.15" fill="#3f9f3a"/>
<circle cx="194.9" cy="370.7" r="1.15" fill="#3f9f3a"/>
<circle cx="179.1" cy="362.0" r="1.15" fill="#3f9f3a"/>
<circle cx="198.3" cy="360.0" r="1.15" fill="#e4705f"/>
<circle cx="186.2" cy="365.8" r="1.15" fill="#7d7cc2"/>
<circle cx="196.8" cy="372.8" r="1.15" fill="#cfa02a"/>
<circle cx="195.6" cy="369.0" r="1.15" fill="#3f9f3a"/>
<circle cx="182.7" cy="373.5" r="1.15" fill="#3f9f3a"/>
<circle cx="200.0" cy="370.0" r="1.15" fill="#cfa02a"/>
<circle cx="193.7" cy="368.2" r="1.15" fill="#3f9f3a"/>
<circle cx="194.7" cy="363.4" r="1.15" fill="#3f9f3a"/>
<circle cx="196.8" cy="363.3" r="1.15" fill="#e4705f"/>
<circle cx="182.6" cy="341.5" r="1.15" fill="#178b6f"/>
<circle cx="187.1" cy="320.2" r="1.15" fill="#e4705f"/>
<circle cx="195.8" cy="333.4" r="1.15" fill="#d86e98"/>
<circle cx="185.8" cy="369.6" r="1.15" fill="#3f9f3a"/>
<circle cx="194.9" cy="371.1" r="1.15" fill="#cfa02a"/>
<circle cx="173.5" cy="299.7" r="1.15" fill="#178b6f"/>
<circle cx="185.4" cy="322.2" r="1.15" fill="#e4705f"/>
<circle cx="187.5" cy="367.2" r="1.15" fill="#3f9f3a"/>
<circle cx="205.8" cy="368.0" r="1.15" fill="#cfa02a"/>
<circle cx="179.1" cy="330.3" r="1.15" fill="#178b6f"/>
<circle cx="175.3" cy="329.2" r="1.15" fill="#25a7c6"/>
<circle cx="186.3" cy="362.6" r="1.15" fill="#3f9f3a"/>
<circle cx="195.4" cy="373.0" r="1.15" fill="#cfa02a"/>
<circle cx="191.5" cy="362.6" r="1.15" fill="#3f9f3a"/>
<circle cx="197.5" cy="348.0" r="1.15" fill="#e4705f"/>
<circle cx="192.6" cy="363.4" r="1.15" fill="#3f9f3a"/>
<circle cx="183.5" cy="368.5" r="1.15" fill="#3f9f3a"/>
<circle cx="193.1" cy="365.5" r="1.15" fill="#3f9f3a"/>
<circle cx="184.0" cy="361.5" r="1.15" fill="#3f9f3a"/>
<circle cx="197.2" cy="368.0" r="1.15" fill="#3f9f3a"/>
<circle cx="196.5" cy="365.1" r="1.15" fill="#3f9f3a"/>
<circle cx="194.7" cy="371.9" r="1.15" fill="#e4705f"/>
<circle cx="196.9" cy="372.8" r="1.15" fill="#cfa02a"/>
<circle cx="201.2" cy="373.7" r="1.15" fill="#cfa02a"/>
<circle cx="194.1" cy="358.7" r="1.15" fill="#3f9f3a"/>
<circle cx="184.8" cy="366.6" r="1.15" fill="#3f9f3a"/>
<circle cx="198.4" cy="371.8" r="1.15" fill="#cfa02a"/>
<circle cx="197.4" cy="355.7" r="1.15" fill="#e4705f"/>
<circle cx="205.6" cy="367.6" r="1.15" fill="#cfa02a"/>
<circle cx="189.3" cy="334.6" r="1.15" fill="#e4705f"/>
<circle cx="194.3" cy="360.2" r="1.15" fill="#cfa02a"/>
<circle cx="184.3" cy="325.4" r="1.15" fill="#e4705f"/>
<circle cx="174.1" cy="288.3" r="1.15" fill="#178b6f"/>
<circle cx="178.4" cy="362.2" r="1.15" fill="#e4705f"/>
<circle cx="195.9" cy="361.4" r="1.15" fill="#e4705f"/>
<circle cx="179.5" cy="367.6" r="1.15" fill="#3f9f3a"/>
<circle cx="193.2" cy="365.9" r="1.15" fill="#3f9f3a"/>
<circle cx="173.0" cy="317.2" r="1.15" fill="#178b6f"/>
<circle cx="198.7" cy="357.1" r="1.15" fill="#3f9f3a"/>
<circle cx="181.0" cy="295.7" r="1.15" fill="#e4705f"/>
<circle cx="184.6" cy="358.5" r="1.15" fill="#3f9f3a"/>
<circle cx="193.7" cy="373.6" r="1.15" fill="#3f9f3a"/>
<circle cx="173.1" cy="336.8" r="1.15" fill="#178b6f"/>
<circle cx="182.1" cy="365.1" r="1.15" fill="#7d7cc2"/>
<circle cx="200.0" cy="362.8" r="1.15" fill="#cfa02a"/>
<circle cx="182.7" cy="327.5" r="1.15" fill="#d86e98"/>
<circle cx="168.3" cy="356.5" r="1.15" fill="#178b6f"/>
<circle cx="169.0" cy="349.7" r="1.15" fill="#178b6f"/>
<circle cx="179.4" cy="356.6" r="1.15" fill="#e4705f"/>
<circle cx="171.1" cy="321.4" r="1.15" fill="#25a7c6"/>
<circle cx="189.4" cy="373.8" r="1.15" fill="#3f9f3a"/>
<circle cx="190.8" cy="356.7" r="1.15" fill="#e4705f"/>
<circle cx="190.5" cy="367.8" r="1.15" fill="#3f9f3a"/>
<circle cx="189.5" cy="366.2" r="1.15" fill="#3f9f3a"/>
<circle cx="180.2" cy="363.2" r="1.15" fill="#e4705f"/>
<circle cx="202.6" cy="366.0" r="1.15" fill="#cfa02a"/>
<circle cx="172.6" cy="318.6" r="1.15" fill="#178b6f"/>
<circle cx="190.2" cy="370.3" r="1.15" fill="#3f9f3a"/>
<circle cx="194.0" cy="370.6" r="1.15" fill="#cfa02a"/>
<circle cx="198.3" cy="364.3" r="1.15" fill="#cfa02a"/>
<circle cx="191.2" cy="364.8" r="1.15" fill="#3f9f3a"/>
<circle cx="188.4" cy="371.3" r="1.15" fill="#3f9f3a"/>
<circle cx="194.0" cy="363.0" r="1.15" fill="#3f9f3a"/>
<circle cx="198.2" cy="360.8" r="1.15" fill="#3f9f3a"/>
<circle cx="202.1" cy="370.1" r="1.15" fill="#cfa02a"/>
<circle cx="180.6" cy="339.8" r="1.15" fill="#e4705f"/>
<circle cx="203.5" cy="364.9" r="1.15" fill="#3f9f3a"/>
<circle cx="184.6" cy="299.0" r="1.15" fill="#3f9f3a"/>
<circle cx="171.9" cy="318.1" r="1.15" fill="#178b6f"/>
<circle cx="191.4" cy="366.9" r="1.15" fill="#e4705f"/>
<circle cx="187.1" cy="290.0" r="1.15" fill="#e4705f"/>
<circle cx="194.8" cy="367.2" r="1.15" fill="#3f9f3a"/>
<circle cx="174.1" cy="287.4" r="1.15" fill="#178b6f"/>
<circle cx="169.2" cy="284.8" r="1.15" fill="#178b6f"/>
<circle cx="192.3" cy="340.5" r="1.15" fill="#d86e98"/>
<circle cx="194.4" cy="373.4" r="1.15" fill="#3f9f3a"/>
<circle cx="188.9" cy="363.7" r="1.15" fill="#3f9f3a"/>
<circle cx="187.5" cy="343.4" r="1.15" fill="#e4705f"/>
<circle cx="176.1" cy="343.6" r="1.15" fill="#e4705f"/>
<circle cx="182.4" cy="334.8" r="1.15" fill="#e4705f"/>
<circle cx="193.4" cy="363.5" r="1.15" fill="#cfa02a"/>
<circle cx="192.0" cy="370.6" r="1.15" fill="#3f9f3a"/>
<circle cx="194.2" cy="366.6" r="1.15" fill="#cfa02a"/>
<circle cx="198.4" cy="365.2" r="1.15" fill="#cfa02a"/>
<circle cx="185.7" cy="291.7" r="1.15" fill="#e4705f"/>
<circle cx="185.7" cy="363.3" r="1.15" fill="#7d7cc2"/>
<circle cx="195.5" cy="367.3" r="1.15" fill="#3f9f3a"/>
<circle cx="192.9" cy="366.8" r="1.15" fill="#3f9f3a"/>
<circle cx="176.3" cy="286.3" r="1.15" fill="#178b6f"/>
<circle cx="182.5" cy="348.7" r="1.15" fill="#e4705f"/>
<circle cx="177.3" cy="357.8" r="1.15" fill="#e4705f"/>
<circle cx="174.2" cy="303.5" r="1.15" fill="#25a7c6"/>
<circle cx="192.9" cy="373.0" r="1.15" fill="#cfa02a"/>
<circle cx="192.4" cy="372.2" r="1.15" fill="#cfa02a"/>
<circle cx="177.2" cy="341.3" r="1.15" fill="#e4705f"/>
<circle cx="194.2" cy="366.6" r="1.15" fill="#3f9f3a"/>
<circle cx="169.9" cy="320.3" r="1.15" fill="#178b6f"/>
<circle cx="187.9" cy="371.9" r="1.15" fill="#3f9f3a"/>
<circle cx="175.6" cy="331.8" r="1.15" fill="#178b6f"/>
<circle cx="192.7" cy="342.7" r="1.15" fill="#e4705f"/>
<circle cx="179.0" cy="303.0" r="1.15" fill="#3f9f3a"/>
<circle cx="194.0" cy="372.2" r="1.15" fill="#cfa02a"/>
<circle cx="196.0" cy="372.0" r="1.15" fill="#3f9f3a"/>
<circle cx="195.0" cy="366.4" r="1.15" fill="#cfa02a"/>
<circle cx="186.2" cy="342.3" r="1.15" fill="#e4705f"/>
<circle cx="188.3" cy="361.5" r="1.15" fill="#3f9f3a"/>
<circle cx="173.7" cy="312.1" r="1.15" fill="#25a7c6"/>
<circle cx="198.2" cy="365.4" r="1.15" fill="#cfa02a"/>
<circle cx="182.5" cy="356.5" r="1.15" fill="#3f9f3a"/>
<circle cx="188.5" cy="344.5" r="1.15" fill="#e4705f"/>
<circle cx="184.3" cy="364.9" r="1.15" fill="#3f9f3a"/>
<circle cx="203.3" cy="366.3" r="1.15" fill="#cfa02a"/>
<circle cx="174.9" cy="281.4" r="1.15" fill="#178b6f"/>
<circle cx="194.9" cy="370.6" r="1.15" fill="#cfa02a"/>
<circle cx="188.9" cy="356.3" r="1.15" fill="#e4705f"/>
<circle cx="179.3" cy="360.4" r="1.15" fill="#178b6f"/>
<circle cx="192.6" cy="369.1" r="1.15" fill="#3f9f3a"/>
<circle cx="192.3" cy="369.9" r="1.15" fill="#cfa02a"/>
<circle cx="174.7" cy="331.3" r="1.15" fill="#178b6f"/>
<circle cx="182.0" cy="311.3" r="1.15" fill="#e4705f"/>
<circle cx="193.8" cy="360.7" r="1.15" fill="#3f9f3a"/>
<circle cx="205.3" cy="369.9" r="1.15" fill="#cfa02a"/>
<circle cx="200.2" cy="347.5" r="1.15" fill="#cfa02a"/>
<circle cx="197.8" cy="359.3" r="1.15" fill="#d86e98"/>
<circle cx="188.1" cy="331.2" r="1.15" fill="#e4705f"/>
<circle cx="197.6" cy="373.5" r="1.15" fill="#cfa02a"/>
<circle cx="197.5" cy="361.0" r="1.15" fill="#3f9f3a"/>
<circle cx="186.9" cy="369.6" r="1.15" fill="#3f9f3a"/>
<circle cx="202.2" cy="366.9" r="1.15" fill="#cfa02a"/>
<circle cx="190.1" cy="368.3" r="1.15" fill="#3f9f3a"/>
<circle cx="195.2" cy="360.9" r="1.15" fill="#e4705f"/>
<circle cx="206.4" cy="373.4" r="1.15" fill="#cfa02a"/>
<circle cx="202.6" cy="373.8" r="1.15" fill="#3f9f3a"/>
<circle cx="186.9" cy="367.0" r="1.15" fill="#3f9f3a"/>
<circle cx="186.0" cy="290.5" r="1.15" fill="#3f9f3a"/>
<circle cx="201.6" cy="373.7" r="1.15" fill="#cfa02a"/>
<circle cx="166.5" cy="304.9" r="1.15" fill="#178b6f"/>
<circle cx="176.0" cy="323.0" r="1.15" fill="#e4705f"/>
<circle cx="188.1" cy="364.5" r="1.15" fill="#3f9f3a"/>
<circle cx="176.7" cy="283.6" r="1.15" fill="#178b6f"/>
<circle cx="179.1" cy="312.6" r="1.15" fill="#178b6f"/>
<circle cx="186.5" cy="367.0" r="1.15" fill="#3f9f3a"/>
<circle cx="202.6" cy="367.4" r="1.15" fill="#cfa02a"/>
<circle cx="204.0" cy="369.3" r="1.15" fill="#3f9f3a"/>
<circle cx="196.9" cy="370.0" r="1.15" fill="#cfa02a"/>
<circle cx="184.4" cy="368.2" r="1.15" fill="#3f9f3a"/>
<circle cx="192.4" cy="367.1" r="1.15" fill="#3f9f3a"/>
<circle cx="192.4" cy="351.9" r="1.15" fill="#e4705f"/>
<circle cx="195.0" cy="369.4" r="1.15" fill="#3f9f3a"/>
<circle cx="194.3" cy="371.0" r="1.15" fill="#3f9f3a"/>
<circle cx="183.6" cy="367.9" r="1.15" fill="#3f9f3a"/>
<circle cx="195.9" cy="366.7" r="1.15" fill="#cfa02a"/>
<circle cx="190.5" cy="361.9" r="1.15" fill="#e4705f"/>
<circle cx="185.0" cy="315.5" r="1.15" fill="#e4705f"/>
<circle cx="186.2" cy="371.2" r="1.15" fill="#3f9f3a"/>
<circle cx="177.4" cy="368.8" r="1.15" fill="#178b6f"/>
<circle cx="205.1" cy="368.6" r="1.15" fill="#cfa02a"/>
<circle cx="189.5" cy="362.9" r="1.15" fill="#7d7cc2"/>
<circle cx="182.2" cy="368.9" r="1.15" fill="#3f9f3a"/>
<circle cx="178.4" cy="330.7" r="1.15" fill="#178b6f"/>
<circle cx="178.0" cy="351.4" r="1.15" fill="#178b6f"/>
<circle cx="204.2" cy="364.8" r="1.15" fill="#cfa02a"/>
<circle cx="174.7" cy="289.7" r="1.15" fill="#178b6f"/>
<circle cx="171.5" cy="286.6" r="1.15" fill="#178b6f"/>
<circle cx="172.5" cy="308.4" r="1.15" fill="#178b6f"/>
<circle cx="188.4" cy="361.3" r="1.15" fill="#3f9f3a"/>
<circle cx="173.1" cy="305.3" r="1.15" fill="#25a7c6"/>
<circle cx="190.8" cy="372.7" r="1.15" fill="#3f9f3a"/>
<circle cx="195.9" cy="364.8" r="1.15" fill="#3f9f3a"/>
<circle cx="202.8" cy="369.5" r="1.15" fill="#cfa02a"/>
<circle cx="176.6" cy="326.0" r="1.15" fill="#178b6f"/>
<circle cx="188.8" cy="287.7" r="1.15" fill="#e4705f"/>
<circle cx="169.7" cy="323.2" r="1.15" fill="#178b6f"/>
<circle cx="183.8" cy="372.2" r="1.15" fill="#3f9f3a"/>
<circle cx="191.5" cy="365.9" r="1.15" fill="#3f9f3a"/>
<circle cx="194.6" cy="335.4" r="1.15" fill="#e4705f"/>
<circle cx="182.0" cy="350.1" r="1.15" fill="#e4705f"/>
<circle cx="184.3" cy="325.9" r="1.15" fill="#e4705f"/>
<circle cx="178.6" cy="306.5" r="1.15" fill="#3f9f3a"/>
<circle cx="196.6" cy="347.2" r="1.15" fill="#cfa02a"/>
<circle cx="198.7" cy="362.5" r="1.15" fill="#e4705f"/>
<circle cx="182.4" cy="336.1" r="1.15" fill="#178b6f"/>
<circle cx="179.7" cy="279.5" r="1.15" fill="#e4705f"/>
<circle cx="190.5" cy="300.2" r="1.15" fill="#e4705f"/>
<circle cx="189.9" cy="368.4" r="1.15" fill="#3f9f3a"/>
<circle cx="172.3" cy="309.3" r="1.15" fill="#178b6f"/>
<circle cx="185.1" cy="364.6" r="1.15" fill="#3f9f3a"/>
<circle cx="185.0" cy="345.5" r="1.15" fill="#e4705f"/>
<circle cx="186.6" cy="359.7" r="1.15" fill="#3f9f3a"/>
<circle cx="171.3" cy="278.3" r="1.15" fill="#178b6f"/>
<circle cx="195.4" cy="343.4" r="1.15" fill="#d86e98"/>
<circle cx="183.8" cy="285.2" r="1.15" fill="#e4705f"/>
<circle cx="182.3" cy="370.8" r="1.15" fill="#3f9f3a"/>
<circle cx="192.0" cy="354.0" r="1.15" fill="#3f9f3a"/>
<circle cx="182.1" cy="367.0" r="1.15" fill="#3f9f3a"/>
<circle cx="180.7" cy="367.0" r="1.15" fill="#3f9f3a"/>
<circle cx="193.6" cy="364.2" r="1.15" fill="#3f9f3a"/>
<circle cx="196.5" cy="372.9" r="1.15" fill="#cfa02a"/>
<circle cx="174.3" cy="308.9" r="1.15" fill="#178b6f"/>
<circle cx="180.3" cy="333.5" r="1.15" fill="#e4705f"/>
<circle cx="185.4" cy="368.7" r="1.15" fill="#3f9f3a"/>
<circle cx="172.9" cy="297.4" r="1.15" fill="#178b6f"/>
<circle cx="179.4" cy="286.1" r="1.15" fill="#e4705f"/>
<circle cx="181.0" cy="305.4" r="1.15" fill="#3f9f3a"/>
<circle cx="174.4" cy="293.9" r="1.15" fill="#25a7c6"/>
<circle cx="194.6" cy="373.7" r="1.15" fill="#cfa02a"/>
<circle cx="182.7" cy="285.7" r="1.15" fill="#e4705f"/>
<circle cx="196.8" cy="329.2" r="1.15" fill="#d86e98"/>
<circle cx="189.5" cy="369.4" r="1.15" fill="#e4705f"/>
<circle cx="187.6" cy="362.5" r="1.15" fill="#3f9f3a"/>
<circle cx="189.5" cy="372.0" r="1.15" fill="#3f9f3a"/>
<circle cx="194.5" cy="355.5" r="1.15" fill="#e4705f"/>
<circle cx="195.7" cy="373.6" r="1.15" fill="#3f9f3a"/>
<circle cx="195.7" cy="351.4" r="1.15" fill="#cfa02a"/>
<circle cx="196.9" cy="368.0" r="1.15" fill="#e4705f"/>
<circle cx="182.0" cy="361.9" r="1.15" fill="#3f9f3a"/>
<circle cx="175.4" cy="298.4" r="1.15" fill="#25a7c6"/>
<circle cx="200.3" cy="369.9" r="1.15" fill="#cfa02a"/>
<circle cx="203.2" cy="372.8" r="1.15" fill="#cfa02a"/>
<circle cx="204.2" cy="369.5" r="1.15" fill="#cfa02a"/>
<circle cx="169.5" cy="344.8" r="1.15" fill="#178b6f"/>
<circle cx="184.8" cy="362.0" r="1.15" fill="#3f9f3a"/>
<circle cx="200.8" cy="371.4" r="1.15" fill="#cfa02a"/>
<circle cx="196.7" cy="370.3" r="1.15" fill="#cfa02a"/>
<circle cx="177.1" cy="303.4" r="1.15" fill="#178b6f"/>
<circle cx="205.9" cy="367.9" r="1.15" fill="#cfa02a"/>
<circle cx="181.2" cy="372.4" r="1.15" fill="#3f9f3a"/>
<circle cx="190.6" cy="371.3" r="1.15" fill="#3f9f3a"/>
<circle cx="199.3" cy="371.3" r="1.15" fill="#cfa02a"/>
<circle cx="190.8" cy="370.3" r="1.15" fill="#3f9f3a"/>
<circle cx="193.2" cy="360.0" r="1.15" fill="#3f9f3a"/>
<circle cx="177.9" cy="329.9" r="1.15" fill="#25a7c6"/>
<circle cx="186.0" cy="372.6" r="1.15" fill="#3f9f3a"/>
<circle cx="173.1" cy="301.2" r="1.15" fill="#178b6f"/>
<circle cx="187.5" cy="368.5" r="1.15" fill="#3f9f3a"/>
<circle cx="197.4" cy="371.6" r="1.15" fill="#3f9f3a"/>
<circle cx="173.5" cy="323.0" r="1.15" fill="#178b6f"/>
<circle cx="187.5" cy="371.3" r="1.15" fill="#3f9f3a"/>
<circle cx="194.9" cy="369.4" r="1.15" fill="#cfa02a"/>
<circle cx="172.3" cy="290.3" r="1.15" fill="#178b6f"/>
<circle cx="192.4" cy="367.4" r="1.15" fill="#3f9f3a"/>
<circle cx="175.6" cy="327.2" r="1.15" fill="#178b6f"/>
<circle cx="197.1" cy="325.0" r="1.15" fill="#d86e98"/>
<circle cx="183.8" cy="370.5" r="1.15" fill="#3f9f3a"/>
<circle cx="194.2" cy="371.5" r="1.15" fill="#3f9f3a"/>
<circle cx="182.0" cy="291.1" r="1.15" fill="#3f9f3a"/>
<circle cx="189.6" cy="368.7" r="1.15" fill="#3f9f3a"/>
<circle cx="186.9" cy="366.6" r="1.15" fill="#7d7cc2"/>
<circle cx="189.7" cy="323.0" r="1.15" fill="#e4705f"/>
<circle cx="173.0" cy="281.1" r="1.15" fill="#178b6f"/>
<circle cx="194.4" cy="372.5" r="1.15" fill="#cfa02a"/>
<circle cx="193.2" cy="371.5" r="1.15" fill="#cfa02a"/>
<circle cx="188.2" cy="366.7" r="1.15" fill="#3f9f3a"/>
<circle cx="174.9" cy="295.3" r="1.15" fill="#178b6f"/>
<circle cx="178.2" cy="310.1" r="1.15" fill="#178b6f"/>
<circle cx="180.7" cy="305.7" r="1.15" fill="#e4705f"/>
<circle cx="203.0" cy="371.7" r="1.15" fill="#cfa02a"/>
<circle cx="191.3" cy="369.1" r="1.15" fill="#3f9f3a"/>
<circle cx="190.9" cy="272.5" r="1.15" fill="#e4705f"/>
<circle cx="182.3" cy="371.6" r="1.15" fill="#3f9f3a"/>
<circle cx="197.6" cy="366.6" r="1.15" fill="#3f9f3a"/>
<circle cx="190.0" cy="373.8" r="1.15" fill="#3f9f3a"/>
<circle cx="168.3" cy="352.2" r="1.15" fill="#178b6f"/>
<circle cx="193.1" cy="365.2" r="1.15" fill="#cfa02a"/>
<circle cx="203.5" cy="367.9" r="1.15" fill="#cfa02a"/>
<circle cx="194.2" cy="366.6" r="1.15" fill="#3f9f3a"/>
<circle cx="175.7" cy="317.3" r="1.15" fill="#25a7c6"/>
<circle cx="182.6" cy="325.7" r="1.15" fill="#e4705f"/>
<circle cx="179.0" cy="347.6" r="1.15" fill="#178b6f"/>
<circle cx="173.7" cy="353.3" r="1.15" fill="#178b6f"/>
<circle cx="197.4" cy="346.3" r="1.15" fill="#cfa02a"/>
<circle cx="177.6" cy="350.7" r="1.15" fill="#e4705f"/>
<circle cx="181.9" cy="314.4" r="1.15" fill="#e4705f"/>
<circle cx="202.3" cy="370.1" r="1.15" fill="#cfa02a"/>
<circle cx="186.1" cy="343.9" r="1.15" fill="#3f9f3a"/>
<circle cx="185.8" cy="362.5" r="1.15" fill="#3f9f3a"/>
<circle cx="175.9" cy="283.9" r="1.15" fill="#178b6f"/>
<circle cx="201.1" cy="372.8" r="1.15" fill="#cfa02a"/>
<circle cx="183.3" cy="367.4" r="1.15" fill="#3f9f3a"/>
<circle cx="181.4" cy="371.8" r="1.15" fill="#3f9f3a"/>
<circle cx="191.7" cy="366.7" r="1.15" fill="#3f9f3a"/>
<circle cx="189.1" cy="365.5" r="1.15" fill="#3f9f3a"/>
<circle cx="185.0" cy="364.2" r="1.15" fill="#3f9f3a"/>
<circle cx="172.9" cy="281.0" r="1.15" fill="#178b6f"/>
<circle cx="193.2" cy="359.5" r="1.15" fill="#3f9f3a"/>
<circle cx="186.8" cy="360.7" r="1.15" fill="#e4705f"/>
<circle cx="193.9" cy="373.3" r="1.15" fill="#3f9f3a"/>
<circle cx="197.9" cy="367.5" r="1.15" fill="#cfa02a"/>
<circle cx="193.2" cy="371.3" r="1.15" fill="#3f9f3a"/>
<circle cx="195.2" cy="362.2" r="1.15" fill="#cfa02a"/>
<circle cx="168.4" cy="287.4" r="1.15" fill="#178b6f"/>
<circle cx="188.7" cy="363.4" r="1.15" fill="#7d7cc2"/>
<circle cx="180.0" cy="285.3" r="1.15" fill="#178b6f"/>
<circle cx="181.1" cy="365.6" r="1.15" fill="#7d7cc2"/>
<circle cx="190.9" cy="353.7" r="1.15" fill="#d86e98"/>
<circle cx="185.8" cy="341.3" r="1.15" fill="#e4705f"/>
<circle cx="202.3" cy="355.7" r="1.15" fill="#cfa02a"/>
<circle cx="187.2" cy="338.4" r="1.15" fill="#e4705f"/>
<circle cx="181.1" cy="364.8" r="1.15" fill="#3f9f3a"/>
<circle cx="183.1" cy="371.8" r="1.15" fill="#d86e98"/>
<circle cx="181.1" cy="372.2" r="1.15" fill="#3f9f3a"/>
<circle cx="194.4" cy="361.5" r="1.15" fill="#3f9f3a"/>
<circle cx="191.6" cy="356.2" r="1.15" fill="#e4705f"/>
<circle cx="197.8" cy="362.7" r="1.15" fill="#cfa02a"/>
<circle cx="170.2" cy="284.3" r="1.15" fill="#178b6f"/>
<circle cx="199.3" cy="351.4" r="1.15" fill="#cfa02a"/>
<circle cx="186.2" cy="297.6" r="1.15" fill="#3f9f3a"/>
<circle cx="194.2" cy="372.5" r="1.15" fill="#3f9f3a"/>
<circle cx="171.0" cy="296.5" r="1.15" fill="#178b6f"/>
<circle cx="185.3" cy="362.3" r="1.15" fill="#e4705f"/>
<circle cx="194.2" cy="373.4" r="1.15" fill="#cfa02a"/>
<circle cx="190.4" cy="358.1" r="1.15" fill="#3f9f3a"/>
<circle cx="190.5" cy="355.0" r="1.15" fill="#3f9f3a"/>
<circle cx="200.1" cy="350.2" r="1.15" fill="#cfa02a"/>
<circle cx="190.1" cy="363.2" r="1.15" fill="#e4705f"/>
<circle cx="178.5" cy="329.3" r="1.15" fill="#25a7c6"/>
<circle cx="177.3" cy="281.3" r="1.15" fill="#e4705f"/>
<circle cx="172.8" cy="317.0" r="1.15" fill="#178b6f"/>
<circle cx="186.1" cy="290.5" r="1.15" fill="#e4705f"/>
<circle cx="192.0" cy="370.9" r="1.15" fill="#3f9f3a"/>
<circle cx="181.8" cy="326.8" r="1.15" fill="#e4705f"/>
<circle cx="200.5" cy="372.8" r="1.15" fill="#cfa02a"/>
<circle cx="188.9" cy="282.7" r="1.15" fill="#e4705f"/>
<circle cx="192.4" cy="327.7" r="1.15" fill="#3f9f3a"/>
<circle cx="183.0" cy="365.8" r="1.15" fill="#7d7cc2"/>
<circle cx="182.4" cy="348.5" r="1.15" fill="#e4705f"/>
<circle cx="188.3" cy="366.6" r="1.15" fill="#3f9f3a"/>
<circle cx="176.3" cy="297.7" r="1.15" fill="#178b6f"/>
<circle cx="193.3" cy="359.7" r="1.15" fill="#3f9f3a"/>
<circle cx="174.5" cy="301.0" r="1.15" fill="#178b6f"/>
<circle cx="184.8" cy="362.2" r="1.15" fill="#3f9f3a"/>
<circle cx="199.6" cy="368.5" r="1.15" fill="#cfa02a"/>
<circle cx="193.3" cy="369.5" r="1.15" fill="#cfa02a"/>
<circle cx="171.5" cy="293.6" r="1.15" fill="#178b6f"/>
<circle cx="193.7" cy="352.9" r="1.15" fill="#d86e98"/>
<circle cx="204.1" cy="370.2" r="1.15" fill="#cfa02a"/>
<circle cx="185.6" cy="273.7" r="1.15" fill="#e4705f"/>
<circle cx="185.9" cy="286.4" r="1.15" fill="#e4705f"/>
<circle cx="169.7" cy="288.8" r="1.15" fill="#178b6f"/>
<circle cx="190.4" cy="369.4" r="1.15" fill="#3f9f3a"/>
<circle cx="177.0" cy="320.6" r="1.15" fill="#178b6f"/>
<circle cx="193.8" cy="368.0" r="1.15" fill="#cfa02a"/>
<circle cx="191.2" cy="308.0" r="1.15" fill="#3f9f3a"/>
<circle cx="199.3" cy="371.6" r="1.15" fill="#cfa02a"/>
<circle cx="180.9" cy="269.6" r="1.15" fill="#e4705f"/>
<circle cx="171.4" cy="290.8" r="1.15" fill="#178b6f"/>
<circle cx="192.4" cy="367.9" r="1.15" fill="#3f9f3a"/>
<circle cx="180.7" cy="304.4" r="1.15" fill="#e4705f"/>
<circle cx="187.4" cy="313.0" r="1.15" fill="#e4705f"/>
<circle cx="201.0" cy="373.3" r="1.15" fill="#cfa02a"/>
<circle cx="171.7" cy="313.0" r="1.15" fill="#25a7c6"/>
<circle cx="192.4" cy="364.6" r="1.15" fill="#3f9f3a"/>
<circle cx="198.6" cy="370.0" r="1.15" fill="#3f9f3a"/>
<circle cx="190.5" cy="327.9" r="1.15" fill="#d86e98"/>
<circle cx="177.3" cy="315.5" r="1.15" fill="#25a7c6"/>
<circle cx="176.8" cy="272.6" r="1.15" fill="#e4705f"/>
<circle cx="197.2" cy="371.7" r="1.15" fill="#cfa02a"/>
<circle cx="177.0" cy="300.9" r="1.15" fill="#25a7c6"/>
<circle cx="175.7" cy="290.7" r="1.15" fill="#178b6f"/>
<circle cx="202.7" cy="366.5" r="1.15" fill="#cfa02a"/>
<circle cx="178.8" cy="290.3" r="1.15" fill="#178b6f"/>
<circle cx="184.7" cy="321.9" r="1.15" fill="#d86e98"/>
<circle cx="206.4" cy="370.6" r="1.15" fill="#cfa02a"/>
<circle cx="186.5" cy="368.4" r="1.15" fill="#3f9f3a"/>
<circle cx="181.1" cy="372.1" r="1.15" fill="#e4705f"/>
<circle cx="186.9" cy="348.5" r="1.15" fill="#e4705f"/>
<circle cx="194.6" cy="371.8" r="1.15" fill="#3f9f3a"/>
<circle cx="192.2" cy="369.4" r="1.15" fill="#cfa02a"/>
<circle cx="191.4" cy="370.3" r="1.15" fill="#3f9f3a"/>
<circle cx="201.9" cy="372.4" r="1.15" fill="#3f9f3a"/>
<circle cx="179.4" cy="372.0" r="1.15" fill="#3f9f3a"/>
<circle cx="179.8" cy="302.1" r="1.15" fill="#e4705f"/>
<circle cx="199.1" cy="360.3" r="1.15" fill="#e4705f"/>
<circle cx="177.3" cy="312.8" r="1.15" fill="#178b6f"/>
<circle cx="189.3" cy="337.8" r="1.15" fill="#e4705f"/>
<circle cx="179.9" cy="367.3" r="1.15" fill="#3f9f3a"/>
<circle cx="193.5" cy="326.8" r="1.15" fill="#e4705f"/>
<circle cx="183.7" cy="360.7" r="1.15" fill="#3f9f3a"/>
<circle cx="177.1" cy="370.0" r="1.15" fill="#178b6f"/>
<circle cx="187.2" cy="312.0" r="1.15" fill="#3f9f3a"/>
<circle cx="188.1" cy="364.8" r="1.15" fill="#3f9f3a"/>
<circle cx="195.3" cy="371.6" r="1.15" fill="#cfa02a"/>
<circle cx="188.6" cy="367.8" r="1.15" fill="#3f9f3a"/>
<circle cx="198.7" cy="360.5" r="1.15" fill="#e4705f"/>
<circle cx="183.3" cy="367.3" r="1.15" fill="#e4705f"/>
<circle cx="187.4" cy="373.2" r="1.15" fill="#3f9f3a"/>
<circle cx="196.7" cy="345.3" r="1.15" fill="#cfa02a"/>
<circle cx="190.8" cy="298.1" r="1.15" fill="#e4705f"/>
<circle cx="172.0" cy="282.5" r="1.15" fill="#178b6f"/>
<circle cx="198.8" cy="373.1" r="1.15" fill="#cfa02a"/>
<circle cx="196.7" cy="373.4" r="1.15" fill="#cfa02a"/>
<circle cx="199.0" cy="367.2" r="1.15" fill="#e4705f"/>
<circle cx="179.6" cy="307.3" r="1.15" fill="#178b6f"/>
<circle cx="203.1" cy="372.6" r="1.15" fill="#cfa02a"/>
<circle cx="188.0" cy="366.6" r="1.15" fill="#e4705f"/>
<circle cx="201.2" cy="367.0" r="1.15" fill="#cfa02a"/>
<circle cx="190.8" cy="362.3" r="1.15" fill="#3f9f3a"/>
<circle cx="201.7" cy="358.5" r="1.15" fill="#cfa02a"/>
<circle cx="193.0" cy="372.3" r="1.15" fill="#3f9f3a"/>
<circle cx="185.2" cy="355.8" r="1.15" fill="#e4705f"/>
<circle cx="172.3" cy="301.0" r="1.15" fill="#178b6f"/>
<circle cx="179.0" cy="322.1" r="1.15" fill="#e4705f"/>
<circle cx="203.5" cy="372.2" r="1.15" fill="#cfa02a"/>
<circle cx="185.3" cy="371.4" r="1.15" fill="#3f9f3a"/>
<circle cx="181.3" cy="361.7" r="1.15" fill="#178b6f"/>
<circle cx="183.6" cy="361.1" r="1.15" fill="#7d7cc2"/>
<circle cx="192.8" cy="361.9" r="1.15" fill="#3f9f3a"/>
<circle cx="170.1" cy="296.1" r="1.15" fill="#25a7c6"/>
<circle cx="184.6" cy="370.0" r="1.15" fill="#3f9f3a"/>
<circle cx="195.6" cy="362.4" r="1.15" fill="#3f9f3a"/>
<circle cx="190.3" cy="287.2" r="1.15" fill="#e4705f"/>
<circle cx="183.5" cy="314.0" r="1.15" fill="#e4705f"/>
<circle cx="177.6" cy="307.4" r="1.15" fill="#178b6f"/>
<circle cx="180.1" cy="333.0" r="1.15" fill="#d86e98"/>
<circle cx="188.8" cy="356.5" r="1.15" fill="#3f9f3a"/>
<circle cx="205.4" cy="373.3" r="1.15" fill="#cfa02a"/>
<circle cx="185.0" cy="361.8" r="1.15" fill="#3f9f3a"/>
<circle cx="187.6" cy="366.2" r="1.15" fill="#3f9f3a"/>
<circle cx="184.8" cy="368.4" r="1.15" fill="#3f9f3a"/>
<circle cx="184.9" cy="368.9" r="1.15" fill="#3f9f3a"/>
<circle cx="182.3" cy="340.3" r="1.15" fill="#e4705f"/>
<circle cx="172.4" cy="337.5" r="1.15" fill="#178b6f"/>
<circle cx="185.3" cy="366.6" r="1.15" fill="#3f9f3a"/>
<circle cx="189.7" cy="368.0" r="1.15" fill="#3f9f3a"/>
<circle cx="186.4" cy="371.2" r="1.15" fill="#3f9f3a"/>
<circle cx="206.5" cy="371.4" r="1.15" fill="#cfa02a"/>
<circle cx="196.2" cy="373.0" r="1.15" fill="#cfa02a"/>
<circle cx="196.2" cy="357.8" r="1.15" fill="#e4705f"/>
<circle cx="168.1" cy="288.6" r="1.15" fill="#178b6f"/>
<circle cx="171.9" cy="291.4" r="1.15" fill="#178b6f"/>
<circle cx="193.5" cy="346.2" r="1.15" fill="#d86e98"/>
<circle cx="193.6" cy="358.0" r="1.15" fill="#3f9f3a"/>
<circle cx="192.6" cy="369.4" r="1.15" fill="#3f9f3a"/>
<circle cx="186.9" cy="371.8" r="1.15" fill="#3f9f3a"/>
<circle cx="170.7" cy="357.0" r="1.15" fill="#178b6f"/>
<circle cx="186.8" cy="372.2" r="1.15" fill="#3f9f3a"/>
<circle cx="182.8" cy="338.4" r="1.15" fill="#e4705f"/>
<circle cx="169.2" cy="361.1" r="1.15" fill="#178b6f"/>
<circle cx="185.5" cy="371.8" r="1.15" fill="#3f9f3a"/>
<circle cx="184.0" cy="351.5" r="1.15" fill="#e4705f"/>
<circle cx="172.3" cy="295.7" r="1.15" fill="#178b6f"/>
<circle cx="187.5" cy="317.1" r="1.15" fill="#e4705f"/>
<circle cx="177.2" cy="324.9" r="1.15" fill="#25a7c6"/>
<circle cx="193.7" cy="363.9" r="1.15" fill="#3f9f3a"/>
<circle cx="189.9" cy="368.3" r="1.15" fill="#3f9f3a"/>
<circle cx="186.5" cy="363.8" r="1.15" fill="#3f9f3a"/>
<circle cx="202.9" cy="365.8" r="1.15" fill="#cfa02a"/>
<circle cx="188.3" cy="373.0" r="1.15" fill="#d86e98"/>
<circle cx="202.3" cy="373.4" r="1.15" fill="#cfa02a"/>
<circle cx="203.4" cy="365.6" r="1.15" fill="#3f9f3a"/>
<circle cx="182.9" cy="309.9" r="1.15" fill="#e4705f"/>
<circle cx="186.0" cy="360.6" r="1.15" fill="#e4705f"/>
<circle cx="179.4" cy="344.6" r="1.15" fill="#178b6f"/>
<circle cx="189.4" cy="361.3" r="1.15" fill="#d86e98"/>
<circle cx="200.5" cy="373.5" r="1.15" fill="#cfa02a"/>
<circle cx="172.4" cy="323.2" r="1.15" fill="#178b6f"/>
<circle cx="194.9" cy="361.9" r="1.15" fill="#3f9f3a"/>
<circle cx="205.1" cy="362.4" r="1.15" fill="#cfa02a"/>
<circle cx="166.5" cy="297.2" r="1.15" fill="#178b6f"/>
<circle cx="196.1" cy="371.0" r="1.15" fill="#cfa02a"/>
<circle cx="188.7" cy="364.6" r="1.15" fill="#3f9f3a"/>
<circle cx="171.5" cy="288.5" r="1.15" fill="#178b6f"/>
<circle cx="177.0" cy="361.8" r="1.15" fill="#3f9f3a"/>
<circle cx="187.7" cy="356.5" r="1.15" fill="#3f9f3a"/>
<circle cx="197.9" cy="370.9" r="1.15" fill="#cfa02a"/>
<circle cx="200.2" cy="373.0" r="1.15" fill="#cfa02a"/>
<circle cx="203.9" cy="365.9" r="1.15" fill="#cfa02a"/>
<circle cx="199.6" cy="352.7" r="1.15" fill="#cfa02a"/>
<circle cx="195.7" cy="363.9" r="1.15" fill="#3f9f3a"/>
<circle cx="183.4" cy="373.6" r="1.15" fill="#3f9f3a"/>
<circle cx="177.2" cy="327.5" r="1.15" fill="#25a7c6"/>
<circle cx="172.9" cy="323.0" r="1.15" fill="#178b6f"/>
<circle cx="187.8" cy="373.4" r="1.15" fill="#3f9f3a"/>
<circle cx="206.5" cy="370.8" r="1.15" fill="#cfa02a"/>
<circle cx="189.5" cy="370.3" r="1.15" fill="#3f9f3a"/>
<circle cx="193.4" cy="372.9" r="1.15" fill="#cfa02a"/>
<circle cx="188.0" cy="310.5" r="1.15" fill="#e4705f"/>
<circle cx="179.9" cy="357.7" r="1.15" fill="#e4705f"/>
<circle cx="181.3" cy="358.8" r="1.15" fill="#3f9f3a"/>
<circle cx="192.4" cy="368.5" r="1.15" fill="#3f9f3a"/>
<circle cx="56.4" cy="266.8" r="1.05" fill="#25a7c6"/>
<circle cx="175.6" cy="266.5" r="1.05" fill="#25a7c6"/>
<circle cx="177.9" cy="266.5" r="1.05" fill="#25a7c6"/>
<line x1="37.50" y1="262.50" x2="37.50" y2="380.50" stroke="#222" stroke-width="0.9"/>
<line x1="37.50" y1="380.50" x2="120.00" y2="380.50" stroke="#222" stroke-width="0.9"/>
<line x1="34.50" y1="373.30" x2="37.50" y2="373.30" stroke="#222" stroke-width="0.8"/>
<text x="30.60" y="375.60" font-size="6.5" fill="#333" text-anchor="end">0</text>
<line x1="34.50" y1="346.32" x2="37.50" y2="346.32" stroke="#222" stroke-width="0.8"/>
<text x="30.60" y="348.62" font-size="6.5" fill="#333" text-anchor="end">20</text>
<line x1="34.50" y1="319.34" x2="37.50" y2="319.34" stroke="#222" stroke-width="0.8"/>
<text x="30.60" y="321.64" font-size="6.5" fill="#333" text-anchor="end">40</text>
<line x1="34.50" y1="292.36" x2="37.50" y2="292.36" stroke="#222" stroke-width="0.8"/>
<text x="30.60" y="294.66" font-size="6.5" fill="#333" text-anchor="end">60</text>
<line x1="34.50" y1="265.38" x2="37.50" y2="265.38" stroke="#222" stroke-width="0.8"/>
<text x="30.60" y="267.68" font-size="6.5" fill="#333" text-anchor="end">80</text>
<line x1="39.15" y1="380.50" x2="39.15" y2="383.50" stroke="#222" stroke-width="0.8"/>
<text x="39.15" y="392.50" font-size="6.4" fill="#333" text-anchor="middle">−40</text>
<line x1="58.95" y1="380.50" x2="58.95" y2="383.50" stroke="#222" stroke-width="0.8"/>
<text x="58.95" y="392.50" font-size="6.4" fill="#333" text-anchor="middle">−20</text>
<line x1="78.75" y1="380.50" x2="78.75" y2="383.50" stroke="#222" stroke-width="0.8"/>
<text x="78.75" y="392.50" font-size="6.4" fill="#333" text-anchor="middle">0</text>
<line x1="98.55" y1="380.50" x2="98.55" y2="383.50" stroke="#222" stroke-width="0.8"/>
<text x="98.55" y="392.50" font-size="6.4" fill="#333" text-anchor="middle">20</text>
<line x1="118.35" y1="380.50" x2="118.35" y2="383.50" stroke="#222" stroke-width="0.8"/>
<text x="118.35" y="392.50" font-size="6.4" fill="#333" text-anchor="middle">40</text>
<line x1="147.10" y1="262.50" x2="147.10" y2="380.50" stroke="#222" stroke-width="0.9"/>
<line x1="147.10" y1="380.50" x2="230.30" y2="380.50" stroke="#222" stroke-width="0.9"/>
<line x1="144.10" y1="373.30" x2="147.10" y2="373.30" stroke="#222" stroke-width="0.8"/>
<text x="140.20" y="375.60" font-size="6.5" fill="#333" text-anchor="end">0</text>
<line x1="144.10" y1="346.32" x2="147.10" y2="346.32" stroke="#222" stroke-width="0.8"/>
<text x="140.20" y="348.62" font-size="6.5" fill="#333" text-anchor="end">20</text>
<line x1="144.10" y1="319.34" x2="147.10" y2="319.34" stroke="#222" stroke-width="0.8"/>
<text x="140.20" y="321.64" font-size="6.5" fill="#333" text-anchor="end">40</text>
<line x1="144.10" y1="292.36" x2="147.10" y2="292.36" stroke="#222" stroke-width="0.8"/>
<text x="140.20" y="294.66" font-size="6.5" fill="#333" text-anchor="end">60</text>
<line x1="144.10" y1="265.38" x2="147.10" y2="265.38" stroke="#222" stroke-width="0.8"/>
<text x="140.20" y="267.68" font-size="6.5" fill="#333" text-anchor="end">80</text>
<line x1="148.70" y1="380.50" x2="148.70" y2="383.50" stroke="#222" stroke-width="0.8"/>
<text x="148.70" y="392.50" font-size="6.4" fill="#333" text-anchor="middle">−40</text>
<line x1="168.50" y1="380.50" x2="168.50" y2="383.50" stroke="#222" stroke-width="0.8"/>
<text x="168.50" y="392.50" font-size="6.4" fill="#333" text-anchor="middle">−20</text>
<line x1="188.30" y1="380.50" x2="188.30" y2="383.50" stroke="#222" stroke-width="0.8"/>
<text x="188.30" y="392.50" font-size="6.4" fill="#333" text-anchor="middle">0</text>
<line x1="208.10" y1="380.50" x2="208.10" y2="383.50" stroke="#222" stroke-width="0.8"/>
<text x="208.10" y="392.50" font-size="6.4" fill="#333" text-anchor="middle">20</text>
<line x1="227.90" y1="380.50" x2="227.90" y2="383.50" stroke="#222" stroke-width="0.8"/>
<text x="227.90" y="392.50" font-size="6.4" fill="#333" text-anchor="middle">40</text>
<text x="79.40" y="252.00" font-size="9.1" fill="#222" text-anchor="middle">Pooled B-ALL</text>
<text x="189.50" y="252.00" font-size="9.1" fill="#222" text-anchor="middle">Pooled B-ALL</text>
<text x="38.80" y="262.70" font-size="8.9" fill="#222">Fetal core</text>
<text x="149.50" y="262.70" font-size="8.9" fill="#222">random</text>
<text x="79.40" y="406.30" font-size="9.4" fill="#222" stroke="#222" stroke-width="0.25" text-anchor="middle" textLength="53.60" lengthAdjust="spacingAndGlyphs">PC1: 18% variance</text>
<text x="189.30" y="406.30" font-size="9.4" fill="#222" stroke="#222" stroke-width="0.25" text-anchor="middle" textLength="53.60" lengthAdjust="spacingAndGlyphs">PC1: 13% variance</text>
<text x="15.90" y="321.40" font-size="9.2" fill="#222" stroke="#222" stroke-width="0.25" text-anchor="middle" textLength="10.50" lengthAdjust="spacingAndGlyphs" transform="rotate(-90 15.90 321.40)">Age</text>
<circle cx="237.3" cy="265.8" r="1.75" fill="#e4705f"/>
<text x="243.00" y="268.10" font-size="6.5" fill="#333" font-style="italic">BCR::ABL1</text>
<circle cx="237.3" cy="275.5" r="1.75" fill="#cfa02a"/>
<text x="243.00" y="277.80" font-size="6.5" fill="#333" font-style="italic">ETV6::RUNX1</text>
<circle cx="237.3" cy="285.2" r="1.75" fill="#3f9f3a"/>
<text x="243.00" y="287.50" font-size="6.5" fill="#333" font-style="italic">High hyperdiploid</text>
<circle cx="237.3" cy="294.9" r="1.75" fill="#178b6f"/>
<text x="243.00" y="297.20" font-size="6.5" fill="#333" font-style="italic">KMT2A::AFF1</text>
<circle cx="237.3" cy="304.6" r="1.75" fill="#25a7c6"/>
<text x="243.00" y="306.90" font-size="6.5" fill="#333" font-style="italic">KMT2A::MLLT1</text>
<circle cx="237.3" cy="314.3" r="1.75" fill="#7d7cc2"/>
<text x="243.00" y="316.60" font-size="6.5" fill="#333" font-style="italic">KMT2A::MLLT3</text>
<circle cx="237.3" cy="324.0" r="1.75" fill="#d86e98"/>
<text x="243.00" y="326.30" font-size="6.5" fill="#333" font-style="italic">Low hyperdiploid</text>
<text x="315.90" y="245.10" font-size="11.8" fill="#111" stroke="#111" stroke-width="0.45" font-weight="bold">C</text>
<path d="M 351.00 336.80 L 351.00 336.43 L 352.40 336.43 L 352.40 335.98 L 353.80 335.98 L 353.80 335.49 L 355.20 335.49 L 355.20 334.94 L 356.60 334.94 L 356.60 334.03 L 358.00 334.03 L 358.00 333.28 L 359.40 333.28 L 359.40 332.10 L 360.80 332.10 L 360.80 329.73 L 362.20 329.73 L 362.20 327.32 L 363.60 327.32 L 363.60 324.24 L 365.00 324.24 L 365.00 321.89 L 366.40 321.89 L 366.40 319.04 L 367.80 319.04 L 367.80 315.84 L 369.20 315.84 L 369.20 310.66 L 370.60 310.66 L 370.60 306.07 L 372.00 306.07 L 372.00 303.37 L 373.40 303.37 L 373.40 300.83 L 374.80 300.83 L 374.80 296.32 L 376.20 296.32 L 376.20 289.15 L 377.60 289.15 L 377.60 282.28 L 379.00 282.28 L 379.00 285.41 L 380.40 285.41 L 380.40 282.95 L 381.80 282.95 L 381.80 283.43 L 383.20 283.43 L 383.20 281.92 L 384.60 281.92 L 384.60 280.08 L 386.00 280.08 L 386.00 280.57 L 387.40 280.57 L 387.40 278.11 L 388.80 278.11 L 388.80 282.72 L 390.20 282.72 L 390.20 284.00 L 391.60 284.00 L 391.60 283.29 L 393.00 283.29 L 393.00 283.92 L 394.40 283.92 L 394.40 289.16 L 395.80 289.16 L 395.80 286.26 L 397.20 286.26 L 397.20 291.96 L 398.60 291.96 L 398.60 292.72 L 400.00 292.72 L 400.00 296.13 L 401.40 296.13 L 401.40 297.74 L 402.80 297.74 L 402.80 302.00 L 404.20 302.00 L 404.20 306.50 L 405.60 306.50 L 405.60 310.30 L 407.00 310.30 L 407.00 310.98 L 408.40 310.98 L 408.40 313.15 L 409.80 313.15 L 409.80 315.80 L 411.20 315.80 L 411.20 316.42 L 412.60 316.42 L 412.60 319.21 L 414.00 319.21 L 414.00 318.35 L 415.40 318.35 L 415.40 320.24 L 416.80 320.24 L 416.80 323.87 L 418.20 323.87 L 418.20 323.47 L 419.60 323.47 L 419.60 326.32 L 421.00 326.32 L 421.00 327.41 L 422.40 327.41 L 422.40 328.76 L 423.80 328.76 L 423.80 330.28 L 425.20 330.28 L 425.20 330.75 L 426.60 330.75 L 426.60 331.91 L 428.00 331.91 L 428.00 332.32 L 429.40 332.32 L 429.40 333.22 L 430.80 333.22 L 430.80 333.17 L 432.20 333.17 L 432.20 333.80 L 433.60 333.80 L 433.60 333.96 L 435.00 333.96 L 435.00 334.31 L 436.40 334.31 L 436.40 334.66 L 437.80 334.66 L 437.80 335.01 L 439.20 335.01 L 439.20 335.36 L 440.60 335.36 L 440.60 335.61 L 442.00 335.61 L 442.00 335.82 L 443.40 335.82 L 443.40 336.03 L 444.80 336.03 L 444.80 336.07 L 446.20 336.07 L 446.20 336.11 L 447.60 336.11 L 447.60 336.14 L 449.00 336.14 L 449.00 336.18 L 450.40 336.18 L 450.40 336.21 L 451.80 336.21 L 451.80 336.25 L 453.20 336.25 L 453.20 336.28 L 454.60 336.28 L 454.60 336.32 L 456.00 336.32 L 456.00 336.34 L 457.40 336.34 L 457.40 336.36 L 458.80 336.36 L 458.80 336.38 L 460.20 336.38 L 460.20 336.40 L 461.60 336.40 L 461.60 336.42 L 463.00 336.42 L 463.00 336.43 L 464.40 336.43 L 464.40 336.45 L 465.80 336.45 L 465.80 336.47 L 467.20 336.47 L 467.20 336.48 L 468.60 336.48 L 468.60 336.49 L 470.00 336.49 L 470.00 336.50 L 471.40 336.50 L 471.40 336.51 L 472.80 336.51 L 472.80 336.52 L 474.20 336.52 L 474.20 336.53 L 475.60 336.53 L 475.60 336.54 L 477.00 336.54 L 477.00 336.55 L 478.40 336.55 L 478.40 336.55 L 479.80 336.55 L 479.80 336.56 L 481.20 336.56 L 481.20 336.57 L 482.60 336.57 L 482.60 336.80 Z" fill="#a3a3a3" stroke="#8c8c8c" stroke-width="0.3"/>
<line x1="348.50" y1="276.20" x2="348.50" y2="337.00" stroke="#222" stroke-width="0.9"/>
<line x1="348.50" y1="337.00" x2="503.60" y2="337.00" stroke="#222" stroke-width="0.9"/>
<line x1="345.50" y1="336.70" x2="348.50" y2="336.70" stroke="#222" stroke-width="0.8"/>
<text x="341.80" y="339.10" font-size="7.0" fill="#333" text-anchor="end">0</text>
<line x1="345.50" y1="325.06" x2="348.50" y2="325.06" stroke="#222" stroke-width="0.8"/>
<text x="341.80" y="327.46" font-size="7.0" fill="#333" text-anchor="end">50</text>
<line x1="345.50" y1="313.42" x2="348.50" y2="313.42" stroke="#222" stroke-width="0.8"/>
<text x="341.80" y="315.82" font-size="7.0" fill="#333" text-anchor="end">100</text>
<line x1="345.50" y1="301.78" x2="348.50" y2="301.78" stroke="#222" stroke-width="0.8"/>
<text x="341.80" y="304.18" font-size="7.0" fill="#333" text-anchor="end">150</text>
<line x1="345.50" y1="290.14" x2="348.50" y2="290.14" stroke="#222" stroke-width="0.8"/>
<text x="341.80" y="292.54" font-size="7.0" fill="#333" text-anchor="end">200</text>
<line x1="345.50" y1="278.50" x2="348.50" y2="278.50" stroke="#222" stroke-width="0.8"/>
<text x="341.80" y="280.90" font-size="7.0" fill="#333" text-anchor="end">250</text>
<line x1="360.20" y1="337.00" x2="360.20" y2="340.00" stroke="#222" stroke-width="0.8"/>
<text x="360.20" y="352.00" font-size="6.4" fill="#333" text-anchor="middle">0.10</text>
<line x1="407.20" y1="337.00" x2="407.20" y2="340.00" stroke="#222" stroke-width="0.8"/>
<text x="407.20" y="352.00" font-size="6.4" fill="#333" text-anchor="middle">0.15</text>
<line x1="454.20" y1="337.00" x2="454.20" y2="340.00" stroke="#222" stroke-width="0.8"/>
<text x="454.20" y="352.00" font-size="6.4" fill="#333" text-anchor="middle">0.20</text>
<line x1="501.20" y1="337.00" x2="501.20" y2="340.00" stroke="#222" stroke-width="0.8"/>
<text x="501.20" y="352.00" font-size="6.4" fill="#333" text-anchor="middle">0.25</text>
<line x1="438.30" y1="277.00" x2="438.30" y2="336.50" stroke="#e0403a" stroke-width="0.8" stroke-dasharray="2.8,3.4"/>
<text x="456.2" y="283.1" font-size="8.0" fill="#222"><tspan font-style="italic">P</tspan>-val: .0104</text>
<text x="323.60" y="306.80" font-size="8.8" fill="#222" stroke="#222" stroke-width="0.25" text-anchor="middle" textLength="28.80" lengthAdjust="spacingAndGlyphs" transform="rotate(-90 323.60 306.80)">Frequency</text>
<text x="426.10" y="366.20" font-size="8.6" fill="#222" stroke="#222" stroke-width="0.25" text-anchor="middle" textLength="38.20" lengthAdjust="spacingAndGlyphs">PC1 variance</text>
<text x="12.50" y="429.60" font-size="11.8" fill="#111" stroke="#111" stroke-width="0.45" font-weight="bold">D</text>
<line x1="36.75" y1="452.00" x2="36.75" y2="570.00" stroke="#222" stroke-width="0.9"/>
<line x1="36.75" y1="570.00" x2="120.00" y2="570.00" stroke="#222" stroke-width="0.9"/>
<line x1="33.75" y1="562.75" x2="36.75" y2="562.75" stroke="#222" stroke-width="0.8"/>
<text x="30.05" y="565.05" font-size="6.5" fill="#333" text-anchor="end">0</text>
<line x1="33.75" y1="535.69" x2="36.75" y2="535.69" stroke="#222" stroke-width="0.8"/>
<text x="30.05" y="537.99" font-size="6.5" fill="#333" text-anchor="end">20</text>
<line x1="33.75" y1="508.63" x2="36.75" y2="508.63" stroke="#222" stroke-width="0.8"/>
<text x="30.05" y="510.93" font-size="6.5" fill="#333" text-anchor="end">40</text>
<line x1="33.75" y1="481.57" x2="36.75" y2="481.57" stroke="#222" stroke-width="0.8"/>
<text x="30.05" y="483.87" font-size="6.5" fill="#333" text-anchor="end">60</text>
<line x1="33.75" y1="454.51" x2="36.75" y2="454.51" stroke="#222" stroke-width="0.8"/>
<text x="30.05" y="456.81" font-size="6.5" fill="#333" text-anchor="end">80</text>
<line x1="38.40" y1="570.00" x2="38.40" y2="573.00" stroke="#222" stroke-width="0.8"/>
<text x="38.40" y="582.00" font-size="6.4" fill="#333" text-anchor="middle">−40</text>
<line x1="58.10" y1="570.00" x2="58.10" y2="573.00" stroke="#222" stroke-width="0.8"/>
<text x="58.10" y="582.00" font-size="6.4" fill="#333" text-anchor="middle">−20</text>
<line x1="77.80" y1="570.00" x2="77.80" y2="573.00" stroke="#222" stroke-width="0.8"/>
<text x="77.80" y="582.00" font-size="6.4" fill="#333" text-anchor="middle">0</text>
<line x1="97.50" y1="570.00" x2="97.50" y2="573.00" stroke="#222" stroke-width="0.8"/>
<text x="97.50" y="582.00" font-size="6.4" fill="#333" text-anchor="middle">20</text>
<line x1="117.20" y1="570.00" x2="117.20" y2="573.00" stroke="#222" stroke-width="0.8"/>
<text x="117.20" y="582.00" font-size="6.4" fill="#333" text-anchor="middle">40</text>
<line x1="146.10" y1="452.00" x2="146.10" y2="569.60" stroke="#222" stroke-width="0.9"/>
<line x1="146.10" y1="569.60" x2="231.00" y2="569.60" stroke="#222" stroke-width="0.9"/>
<line x1="143.10" y1="562.75" x2="146.10" y2="562.75" stroke="#222" stroke-width="0.8"/>
<text x="139.40" y="565.05" font-size="6.5" fill="#333" text-anchor="end">0</text>
<line x1="143.10" y1="535.69" x2="146.10" y2="535.69" stroke="#222" stroke-width="0.8"/>
<text x="139.40" y="537.99" font-size="6.5" fill="#333" text-anchor="end">20</text>
<line x1="143.10" y1="508.63" x2="146.10" y2="508.63" stroke="#222" stroke-width="0.8"/>
<text x="139.40" y="510.93" font-size="6.5" fill="#333" text-anchor="end">40</text>
<line x1="143.10" y1="481.57" x2="146.10" y2="481.57" stroke="#222" stroke-width="0.8"/>
<text x="139.40" y="483.87" font-size="6.5" fill="#333" text-anchor="end">60</text>
<line x1="143.10" y1="454.51" x2="146.10" y2="454.51" stroke="#222" stroke-width="0.8"/>
<text x="139.40" y="456.81" font-size="6.5" fill="#333" text-anchor="end">80</text>
<line x1="150.26" y1="569.60" x2="150.26" y2="572.60" stroke="#222" stroke-width="0.8"/>
<text x="150.26" y="581.60" font-size="6.4" fill="#333" text-anchor="middle">−40</text>
<line x1="169.78" y1="569.60" x2="169.78" y2="572.60" stroke="#222" stroke-width="0.8"/>
<text x="169.78" y="581.60" font-size="6.4" fill="#333" text-anchor="middle">−20</text>
<line x1="189.30" y1="569.60" x2="189.30" y2="572.60" stroke="#222" stroke-width="0.8"/>
<text x="189.30" y="581.60" font-size="6.4" fill="#333" text-anchor="middle">0</text>
<line x1="208.82" y1="569.60" x2="208.82" y2="572.60" stroke="#222" stroke-width="0.8"/>
<text x="208.82" y="581.60" font-size="6.4" fill="#333" text-anchor="middle">20</text>
<line x1="228.34" y1="569.60" x2="228.34" y2="572.60" stroke="#222" stroke-width="0.8"/>
<text x="228.34" y="581.60" font-size="6.4" fill="#333" text-anchor="middle">40</text>
<circle cx="78.2" cy="468.0" r="1.25" fill="#a474b2"/>
<circle cx="77.0" cy="469.0" r="1.25" fill="#a474b2"/>
<circle cx="72.5" cy="473.8" r="1.25" fill="#a474b2"/>
<circle cx="73.2" cy="475.8" r="1.25" fill="#a474b2"/>
<circle cx="85.5" cy="472.5" r="1.25" fill="#a474b2"/>
<circle cx="90.5" cy="471.8" r="1.25" fill="#a474b2"/>
<circle cx="82.5" cy="476.2" r="1.25" fill="#a474b2"/>
<circle cx="78.8" cy="481.8" r="1.25" fill="#a474b2"/>
<circle cx="86.2" cy="480.0" r="1.25" fill="#a474b2"/>
<circle cx="90.0" cy="482.5" r="1.25" fill="#a474b2"/>
<circle cx="68.8" cy="488.2" r="1.25" fill="#a474b2"/>
<circle cx="70.8" cy="488.2" r="1.25" fill="#a474b2"/>
<circle cx="80.0" cy="487.5" r="1.25" fill="#a474b2"/>
<circle cx="83.8" cy="486.2" r="1.25" fill="#a474b2"/>
<circle cx="87.5" cy="487.5" r="1.25" fill="#a474b2"/>
<circle cx="92.0" cy="488.2" r="1.25" fill="#a474b2"/>
<circle cx="75.0" cy="490.8" r="1.25" fill="#a474b2"/>
<circle cx="81.2" cy="491.2" r="1.25" fill="#a474b2"/>
<circle cx="85.0" cy="492.5" r="1.25" fill="#a474b2"/>
<circle cx="88.8" cy="493.8" r="1.25" fill="#a474b2"/>
<circle cx="77.5" cy="494.5" r="1.25" fill="#a474b2"/>
<circle cx="73.2" cy="496.2" r="1.25" fill="#a474b2"/>
<circle cx="80.5" cy="497.5" r="1.25" fill="#a474b2"/>
<circle cx="76.2" cy="500.0" r="1.25" fill="#a474b2"/>
<circle cx="72.5" cy="502.0" r="1.25" fill="#a474b2"/>
<circle cx="87.5" cy="501.2" r="1.25" fill="#a474b2"/>
<circle cx="90.5" cy="499.5" r="1.25" fill="#a474b2"/>
<circle cx="71.2" cy="503.8" r="1.25" fill="#a474b2"/>
<circle cx="75.0" cy="502.5" r="1.25" fill="#a474b2"/>
<circle cx="83.8" cy="503.8" r="1.25" fill="#a474b2"/>
<circle cx="85.5" cy="506.2" r="1.25" fill="#a474b2"/>
<circle cx="88.8" cy="506.2" r="1.25" fill="#a474b2"/>
<circle cx="92.5" cy="505.8" r="1.25" fill="#a474b2"/>
<circle cx="68.0" cy="505.5" r="1.25" fill="#a474b2"/>
<circle cx="101.2" cy="499.2" r="1.25" fill="#a474b2"/>
<circle cx="79.5" cy="485.0" r="1.25" fill="#a474b2"/>
<circle cx="82.0" cy="482.5" r="1.25" fill="#a474b2"/>
<circle cx="65.5" cy="508.8" r="1.25" fill="#12909a"/>
<circle cx="72.5" cy="509.2" r="1.25" fill="#12909a"/>
<circle cx="72.5" cy="510.2" r="1.25" fill="#12909a"/>
<circle cx="77.0" cy="511.2" r="1.25" fill="#12909a"/>
<circle cx="85.0" cy="508.8" r="1.25" fill="#12909a"/>
<circle cx="88.8" cy="508.8" r="1.25" fill="#12909a"/>
<circle cx="90.5" cy="508.0" r="1.25" fill="#12909a"/>
<circle cx="70.0" cy="516.2" r="1.25" fill="#12909a"/>
<circle cx="73.8" cy="519.5" r="1.25" fill="#12909a"/>
<circle cx="82.0" cy="523.8" r="1.25" fill="#12909a"/>
<circle cx="93.0" cy="517.5" r="1.25" fill="#12909a"/>
<circle cx="85.0" cy="530.0" r="1.25" fill="#12909a"/>
<circle cx="82.5" cy="533.8" r="1.25" fill="#12909a"/>
<circle cx="68.0" cy="535.8" r="1.25" fill="#12909a"/>
<circle cx="60.0" cy="537.5" r="1.25" fill="#12909a"/>
<circle cx="53.2" cy="538.0" r="1.25" fill="#12909a"/>
<circle cx="67.5" cy="542.0" r="1.25" fill="#72a62c"/>
<circle cx="70.0" cy="542.0" r="1.25" fill="#72a62c"/>
<circle cx="72.5" cy="542.5" r="1.25" fill="#72a62c"/>
<circle cx="60.8" cy="546.2" r="1.25" fill="#72a62c"/>
<circle cx="69.5" cy="546.5" r="1.25" fill="#72a62c"/>
<circle cx="84.2" cy="542.5" r="1.25" fill="#72a62c"/>
<circle cx="89.2" cy="543.8" r="1.25" fill="#72a62c"/>
<circle cx="81.2" cy="551.8" r="1.25" fill="#72a62c"/>
<circle cx="90.0" cy="556.8" r="1.25" fill="#72a62c"/>
<circle cx="68.8" cy="542.2" r="1.25" fill="#72a62c"/>
<circle cx="55.0" cy="561.8" r="1.25" fill="#dc6c58"/>
<circle cx="57.5" cy="562.2" r="1.25" fill="#dc6c58"/>
<circle cx="59.5" cy="562.5" r="1.25" fill="#dc6c58"/>
<circle cx="62.5" cy="562.5" r="1.25" fill="#dc6c58"/>
<circle cx="67.5" cy="561.8" r="1.25" fill="#dc6c58"/>
<circle cx="69.5" cy="561.0" r="1.25" fill="#dc6c58"/>
<circle cx="71.2" cy="560.0" r="1.25" fill="#dc6c58"/>
<circle cx="72.5" cy="559.5" r="1.25" fill="#dc6c58"/>
<circle cx="56.2" cy="562.5" r="1.25" fill="#dc6c58"/>
<circle cx="68.5" cy="561.5" r="1.25" fill="#dc6c58"/>
<circle cx="188.7" cy="467.9" r="1.25" fill="#a474b2"/>
<circle cx="190.5" cy="469.0" r="1.25" fill="#a474b2"/>
<circle cx="184.1" cy="471.7" r="1.25" fill="#a474b2"/>
<circle cx="192.7" cy="471.2" r="1.25" fill="#a474b2"/>
<circle cx="173.3" cy="476.0" r="1.25" fill="#a474b2"/>
<circle cx="186.0" cy="473.9" r="1.25" fill="#a474b2"/>
<circle cx="196.7" cy="477.4" r="1.25" fill="#a474b2"/>
<circle cx="182.7" cy="478.4" r="1.25" fill="#a474b2"/>
<circle cx="192.2" cy="477.1" r="1.25" fill="#a474b2"/>
<circle cx="175.2" cy="481.4" r="1.25" fill="#a474b2"/>
<circle cx="179.8" cy="482.7" r="1.25" fill="#a474b2"/>
<circle cx="190.5" cy="481.9" r="1.25" fill="#a474b2"/>
<circle cx="195.4" cy="482.5" r="1.25" fill="#a474b2"/>
<circle cx="173.3" cy="488.1" r="1.25" fill="#a474b2"/>
<circle cx="176.5" cy="488.1" r="1.25" fill="#a474b2"/>
<circle cx="178.7" cy="488.1" r="1.25" fill="#a474b2"/>
<circle cx="187.3" cy="488.7" r="1.25" fill="#a474b2"/>
<circle cx="191.4" cy="487.3" r="1.25" fill="#a474b2"/>
<circle cx="196.7" cy="488.1" r="1.25" fill="#a474b2"/>
<circle cx="186.0" cy="492.2" r="1.25" fill="#a474b2"/>
<circle cx="188.7" cy="490.5" r="1.25" fill="#a474b2"/>
<circle cx="194.0" cy="490.5" r="1.25" fill="#a474b2"/>
<circle cx="204.8" cy="482.7" r="1.25" fill="#a474b2"/>
<circle cx="182.5" cy="494.0" r="1.25" fill="#a474b2"/>
<circle cx="191.4" cy="495.4" r="1.25" fill="#a474b2"/>
<circle cx="194.0" cy="494.0" r="1.25" fill="#a474b2"/>
<circle cx="176.5" cy="500.0" r="1.25" fill="#a474b2"/>
<circle cx="180.0" cy="499.4" r="1.25" fill="#a474b2"/>
<circle cx="185.4" cy="498.6" r="1.25" fill="#a474b2"/>
<circle cx="188.1" cy="500.8" r="1.25" fill="#a474b2"/>
<circle cx="190.5" cy="502.1" r="1.25" fill="#a474b2"/>
<circle cx="192.7" cy="498.9" r="1.25" fill="#a474b2"/>
<circle cx="195.4" cy="500.0" r="1.25" fill="#a474b2"/>
<circle cx="198.1" cy="501.3" r="1.25" fill="#a474b2"/>
<circle cx="173.9" cy="503.5" r="1.25" fill="#a474b2"/>
<circle cx="177.1" cy="504.8" r="1.25" fill="#a474b2"/>
<circle cx="182.5" cy="504.0" r="1.25" fill="#a474b2"/>
<circle cx="186.8" cy="503.5" r="1.25" fill="#a474b2"/>
<circle cx="190.0" cy="505.6" r="1.25" fill="#a474b2"/>
<circle cx="194.0" cy="506.7" r="1.25" fill="#a474b2"/>
<circle cx="196.7" cy="506.2" r="1.25" fill="#a474b2"/>
<circle cx="181.4" cy="506.2" r="1.25" fill="#a474b2"/>
<circle cx="190.5" cy="496.7" r="1.25" fill="#a474b2"/>
<circle cx="173.3" cy="508.3" r="1.25" fill="#12909a"/>
<circle cx="178.7" cy="511.0" r="1.25" fill="#12909a"/>
<circle cx="175.2" cy="516.9" r="1.25" fill="#12909a"/>
<circle cx="181.4" cy="519.1" r="1.25" fill="#12909a"/>
<circle cx="184.1" cy="508.9" r="1.25" fill="#12909a"/>
<circle cx="188.7" cy="508.9" r="1.25" fill="#12909a"/>
<circle cx="191.4" cy="508.3" r="1.25" fill="#12909a"/>
<circle cx="195.4" cy="507.5" r="1.25" fill="#12909a"/>
<circle cx="199.4" cy="508.3" r="1.25" fill="#12909a"/>
<circle cx="187.3" cy="518.3" r="1.25" fill="#12909a"/>
<circle cx="192.2" cy="518.3" r="1.25" fill="#12909a"/>
<circle cx="196.7" cy="523.7" r="1.25" fill="#12909a"/>
<circle cx="190.5" cy="530.4" r="1.25" fill="#12909a"/>
<circle cx="194.0" cy="533.1" r="1.25" fill="#12909a"/>
<circle cx="183.3" cy="536.3" r="1.25" fill="#12909a"/>
<circle cx="184.1" cy="538.5" r="1.25" fill="#12909a"/>
<circle cx="181.4" cy="537.9" r="1.25" fill="#12909a"/>
<circle cx="175.2" cy="546.0" r="1.25" fill="#72a62c"/>
<circle cx="184.6" cy="546.5" r="1.25" fill="#72a62c"/>
<circle cx="184.1" cy="542.5" r="1.25" fill="#72a62c"/>
<circle cx="187.3" cy="542.5" r="1.25" fill="#72a62c"/>
<circle cx="194.9" cy="542.5" r="1.25" fill="#72a62c"/>
<circle cx="195.4" cy="544.4" r="1.25" fill="#72a62c"/>
<circle cx="181.9" cy="551.9" r="1.25" fill="#72a62c"/>
<circle cx="198.1" cy="556.8" r="1.25" fill="#72a62c"/>
<circle cx="182.5" cy="562.2" r="1.25" fill="#dc6c58"/>
<circle cx="184.6" cy="562.7" r="1.25" fill="#dc6c58"/>
<circle cx="186.0" cy="561.4" r="1.25" fill="#dc6c58"/>
<circle cx="187.3" cy="560.8" r="1.25" fill="#dc6c58"/>
<circle cx="188.7" cy="560.0" r="1.25" fill="#dc6c58"/>
<circle cx="189.5" cy="560.5" r="1.25" fill="#dc6c58"/>
<circle cx="184.1" cy="561.9" r="1.25" fill="#dc6c58"/>
<text x="77.6" y="437.6" font-size="9.2" fill="#222" text-anchor="middle" font-style="italic">KMT2A::AFF1</text>
<text x="188.0" y="437.5" font-size="9.1" fill="#222" text-anchor="middle" font-style="italic">KMT2A::AFF1</text>
<text x="37.60" y="451.00" font-size="8.9" fill="#222">Fetal core</text>
<text x="148.40" y="451.40" font-size="8.9" fill="#222">random</text>
<text x="78.20" y="595.20" font-size="9.4" fill="#222" stroke="#222" stroke-width="0.25" text-anchor="middle" textLength="53.60" lengthAdjust="spacingAndGlyphs">PC1: 18% variance</text>
<text x="189.50" y="595.00" font-size="9.4" fill="#222" stroke="#222" stroke-width="0.25" text-anchor="middle" textLength="53.60" lengthAdjust="spacingAndGlyphs">PC1: 17% variance</text>
<text x="15.20" y="510.60" font-size="9.2" fill="#222" stroke="#222" stroke-width="0.25" text-anchor="middle" textLength="10.50" lengthAdjust="spacingAndGlyphs" transform="rotate(-90 15.20 510.60)">Age</text>
<text x="233.10" y="457.60" font-size="6.8" fill="#333">age group</text>
<circle cx="236.0" cy="467.2" r="1.75" fill="#dc6c58"/>
<text x="241.70" y="469.50" font-size="6.5" fill="#333">0-2</text>
<circle cx="236.0" cy="477.6" r="1.75" fill="#72a62c"/>
<text x="241.70" y="479.95" font-size="6.5" fill="#333">2-16</text>
<circle cx="236.0" cy="488.1" r="1.75" fill="#12909a"/>
<text x="241.70" y="490.40" font-size="6.5" fill="#333">16-40</text>
<circle cx="236.0" cy="498.6" r="1.75" fill="#a474b2"/>
<text x="241.70" y="500.85" font-size="6.5" fill="#333">&gt;40</text>
<text x="274.20" y="429.60" font-size="11.8" fill="#111" stroke="#111" stroke-width="0.45" font-weight="bold">E</text>
<line x1="310.00" y1="444.00" x2="310.00" y2="568.80" stroke="#222" stroke-width="0.9"/>
<line x1="310.00" y1="568.80" x2="371.60" y2="568.80" stroke="#222" stroke-width="0.9"/>
<line x1="307.00" y1="472.16" x2="310.00" y2="472.16" stroke="#222" stroke-width="0.8"/>
<text x="302.40" y="474.36" font-size="6.4" fill="#333" text-anchor="end">0.3</text>
<line x1="307.00" y1="503.30" x2="310.00" y2="503.30" stroke="#222" stroke-width="0.8"/>
<text x="302.40" y="505.50" font-size="6.4" fill="#333" text-anchor="end">0.0</text>
<line x1="307.00" y1="534.44" x2="310.00" y2="534.44" stroke="#222" stroke-width="0.8"/>
<text x="302.40" y="536.64" font-size="6.4" fill="#333" text-anchor="end">−0.3</text>
<line x1="307.00" y1="565.58" x2="310.00" y2="565.58" stroke="#222" stroke-width="0.8"/>
<text x="302.40" y="567.78" font-size="6.4" fill="#333" text-anchor="end">−0.6</text>
<line x1="319.05" y1="467.60" x2="319.05" y2="474.30" stroke="#3a3a3a" stroke-width="0.9"/>
<line x1="319.05" y1="487.10" x2="319.05" y2="502.60" stroke="#3a3a3a" stroke-width="0.9"/>
<rect x="313.30" y="474.30" width="11.50" height="12.80" fill="#fdf2f0" stroke="#ef9a8c" stroke-width="0.9"/>
<line x1="313.60" y1="483.30" x2="324.50" y2="483.30" stroke="#222" stroke-width="1.3"/>
<line x1="333.95" y1="515.10" x2="333.95" y2="515.10" stroke="#3a3a3a" stroke-width="0.9"/>
<line x1="333.95" y1="521.40" x2="333.95" y2="532.30" stroke="#3a3a3a" stroke-width="0.9"/>
<rect x="328.60" y="515.10" width="10.70" height="6.30" fill="#f8fbe8" stroke="#b8d66a" stroke-width="0.9"/>
<line x1="328.90" y1="520.50" x2="339.00" y2="520.50" stroke="#222" stroke-width="1.3"/>
<line x1="348.75" y1="455.90" x2="348.75" y2="485.10" stroke="#3a3a3a" stroke-width="0.9"/>
<line x1="348.75" y1="510.00" x2="348.75" y2="531.60" stroke="#3a3a3a" stroke-width="0.9"/>
<rect x="343.40" y="485.10" width="10.70" height="24.90" fill="#effafa" stroke="#3cc3c6" stroke-width="0.9"/>
<line x1="343.70" y1="494.50" x2="353.80" y2="494.50" stroke="#222" stroke-width="1.3"/>
<line x1="363.65" y1="461.30" x2="363.65" y2="486.40" stroke="#3a3a3a" stroke-width="0.9"/>
<line x1="363.65" y1="522.40" x2="363.65" y2="563.50" stroke="#3a3a3a" stroke-width="0.9"/>
<rect x="358.40" y="486.40" width="10.50" height="36.00" fill="#fbf4fc" stroke="#d8a6e4" stroke-width="0.9"/>
<line x1="358.70" y1="510.90" x2="368.60" y2="510.90" stroke="#222" stroke-width="1.3"/>
<circle cx="318.6" cy="449.6" r="0.5" fill="#444"/>
<circle cx="333.9" cy="494.5" r="0.5" fill="#444"/>
<circle cx="333.9" cy="497.9" r="0.5" fill="#444"/>
<line x1="319.10" y1="446.00" x2="364.20" y2="446.00" stroke="#222" stroke-width="0.8"/>
<line x1="319.10" y1="465.30" x2="334.60" y2="465.30" stroke="#222" stroke-width="0.8"/>
<line x1="334.60" y1="465.30" x2="334.60" y2="467.00" stroke="#222" stroke-width="0.8"/>
<text x="352.8" y="452.4" font-size="6.6" fill="#333"><tspan font-style="italic">P</tspan>: .003</text>
<text x="324.6" y="470.8" font-size="6.6" fill="#333"><tspan font-style="italic">P</tspan>: .001</text>
<text x="311.80" y="567.00" font-size="6.7" fill="#222">Fetal core up</text>
<text x="342.0" y="440.0" font-size="9.1" fill="#222" text-anchor="middle" font-style="italic">KMT2A::AFF1</text>
<line x1="319.10" y1="568.80" x2="319.10" y2="571.80" stroke="#222" stroke-width="0.8"/>
<text x="320.30" y="580.20" font-size="7.0" fill="#333" text-anchor="end" transform="rotate(-45 320.30 580.20)">0-2</text>
<line x1="333.90" y1="568.80" x2="333.90" y2="571.80" stroke="#222" stroke-width="0.8"/>
<text x="335.10" y="580.20" font-size="7.0" fill="#333" text-anchor="end" transform="rotate(-45 335.10 580.20)">2-16</text>
<line x1="348.70" y1="568.80" x2="348.70" y2="571.80" stroke="#222" stroke-width="0.8"/>
<text x="349.90" y="580.20" font-size="7.0" fill="#333" text-anchor="end" transform="rotate(-45 349.90 580.20)">16-40</text>
<line x1="363.50" y1="568.80" x2="363.50" y2="571.80" stroke="#222" stroke-width="0.8"/>
<text x="364.70" y="580.20" font-size="7.0" fill="#333" text-anchor="end" transform="rotate(-45 364.70 580.20)">&gt;40</text>
<text x="283.00" y="510.20" font-size="10.6" fill="#222" stroke="#222" stroke-width="0.25" text-anchor="middle" textLength="91.00" lengthAdjust="spacingAndGlyphs" transform="rotate(-90 283.00 510.20)">Z-scored mean expression</text>
<line x1="406.10" y1="444.50" x2="406.10" y2="568.80" stroke="#222" stroke-width="0.9"/>
<line x1="406.10" y1="568.80" x2="468.90" y2="568.80" stroke="#222" stroke-width="0.9"/>
<line x1="403.10" y1="472.54" x2="406.10" y2="472.54" stroke="#222" stroke-width="0.8"/>
<text x="400.40" y="474.74" font-size="6.4" fill="#333" text-anchor="end">0.4</text>
<line x1="403.10" y1="507.90" x2="406.10" y2="507.90" stroke="#222" stroke-width="0.8"/>
<text x="400.40" y="510.10" font-size="6.4" fill="#333" text-anchor="end">0.0</text>
<line x1="403.10" y1="543.26" x2="406.10" y2="543.26" stroke="#222" stroke-width="0.8"/>
<text x="400.40" y="545.46" font-size="6.4" fill="#333" text-anchor="end">−0.4</text>
<line x1="415.45" y1="519.60" x2="415.45" y2="524.90" stroke="#3a3a3a" stroke-width="0.9"/>
<line x1="415.45" y1="553.60" x2="415.45" y2="562.80" stroke="#3a3a3a" stroke-width="0.9"/>
<rect x="410.00" y="524.90" width="10.90" height="28.70" fill="#fdf2f0" stroke="#ef9a8c" stroke-width="0.9"/>
<line x1="410.30" y1="530.70" x2="420.60" y2="530.70" stroke="#222" stroke-width="1.3"/>
<line x1="429.90" y1="474.60" x2="429.90" y2="496.20" stroke="#3a3a3a" stroke-width="0.9"/>
<line x1="429.90" y1="529.60" x2="429.90" y2="554.30" stroke="#3a3a3a" stroke-width="0.9"/>
<rect x="424.50" y="496.20" width="10.80" height="33.40" fill="#f8fbe8" stroke="#b8d66a" stroke-width="0.9"/>
<line x1="424.80" y1="517.00" x2="435.00" y2="517.00" stroke="#222" stroke-width="1.3"/>
<line x1="445.05" y1="461.20" x2="445.05" y2="482.20" stroke="#3a3a3a" stroke-width="0.9"/>
<line x1="445.05" y1="531.90" x2="445.05" y2="555.00" stroke="#3a3a3a" stroke-width="0.9"/>
<rect x="439.70" y="482.20" width="10.70" height="49.70" fill="#effafa" stroke="#3cc3c6" stroke-width="0.9"/>
<line x1="440.00" y1="505.00" x2="450.10" y2="505.00" stroke="#222" stroke-width="1.3"/>
<line x1="459.90" y1="473.30" x2="459.90" y2="491.30" stroke="#3a3a3a" stroke-width="0.9"/>
<line x1="459.90" y1="509.70" x2="459.90" y2="534.60" stroke="#3a3a3a" stroke-width="0.9"/>
<rect x="454.50" y="491.30" width="10.80" height="18.40" fill="#fbf4fc" stroke="#d8a6e4" stroke-width="0.9"/>
<line x1="454.80" y1="498.90" x2="465.00" y2="498.90" stroke="#222" stroke-width="1.3"/>
<line x1="416.30" y1="445.00" x2="460.80" y2="445.00" stroke="#222" stroke-width="0.8"/>
<line x1="416.30" y1="455.00" x2="446.00" y2="455.00" stroke="#222" stroke-width="0.8"/>
<text x="425.8" y="453.6" font-size="6.4" fill="#333"><tspan font-style="italic">P</tspan>: 2X10<tspan font-size="4.2" dy="-2.6">−5</tspan><tspan dy="2.6"> *</tspan></text>
<text x="432.6" y="461.3" font-size="6.4" fill="#333"><tspan font-style="italic">P</tspan>: .003</text>
<text x="421.20" y="567.30" font-size="6.7" fill="#222">Fetal core down</text>
<text x="437.3" y="440.4" font-size="9.1" fill="#222" text-anchor="middle" font-style="italic">KMT2A::AFF1</text>
<line x1="415.10" y1="568.80" x2="415.10" y2="571.80" stroke="#222" stroke-width="0.8"/>
<text x="416.30" y="580.20" font-size="7.0" fill="#333" text-anchor="end" transform="rotate(-45 416.30 580.20)">0-2</text>
<line x1="430.10" y1="568.80" x2="430.10" y2="571.80" stroke="#222" stroke-width="0.8"/>
<text x="431.30" y="580.20" font-size="7.0" fill="#333" text-anchor="end" transform="rotate(-45 431.30 580.20)">2-16</text>
<line x1="445.10" y1="568.80" x2="445.10" y2="571.80" stroke="#222" stroke-width="0.8"/>
<text x="446.30" y="580.20" font-size="7.0" fill="#333" text-anchor="end" transform="rotate(-45 446.30 580.20)">16-40</text>
<line x1="460.10" y1="568.80" x2="460.10" y2="571.80" stroke="#222" stroke-width="0.8"/>
<text x="461.30" y="580.20" font-size="7.0" fill="#333" text-anchor="end" transform="rotate(-45 461.30 580.20)">&gt;40</text>
<text x="481.00" y="441.00" font-size="6.8" fill="#333">age group</text>
<line x1="485.60" y1="446.80" x2="485.60" y2="452.80" stroke="#333" stroke-width="0.6"/>
<rect x="482.40" y="448.00" width="6.40" height="3.60" fill="#ef9a8c" stroke="#ef9a8c" stroke-width="0.6"/>
<line x1="482.40" y1="449.80" x2="488.80" y2="449.80" stroke="#222" stroke-width="0.9"/>
<text x="493.00" y="452.00" font-size="6.5" fill="#333">0-2</text>
<line x1="485.60" y1="456.00" x2="485.60" y2="462.00" stroke="#333" stroke-width="0.6"/>
<rect x="482.40" y="457.20" width="6.40" height="3.60" fill="#b8d66a" stroke="#b8d66a" stroke-width="0.6"/>
<line x1="482.40" y1="459.00" x2="488.80" y2="459.00" stroke="#222" stroke-width="0.9"/>
<text x="493.00" y="461.20" font-size="6.5" fill="#333">2-16</text>
<line x1="485.60" y1="465.20" x2="485.60" y2="471.20" stroke="#333" stroke-width="0.6"/>
<rect x="482.40" y="466.40" width="6.40" height="3.60" fill="#3cc3c6" stroke="#3cc3c6" stroke-width="0.6"/>
<line x1="482.40" y1="468.20" x2="488.80" y2="468.20" stroke="#222" stroke-width="0.9"/>
<text x="493.00" y="470.40" font-size="6.5" fill="#333">16-40</text>
<line x1="485.60" y1="474.40" x2="485.60" y2="480.40" stroke="#333" stroke-width="0.6"/>
<rect x="482.40" y="475.60" width="6.40" height="3.60" fill="#d8a6e4" stroke="#d8a6e4" stroke-width="0.6"/>
<line x1="482.40" y1="477.40" x2="488.80" y2="477.40" stroke="#222" stroke-width="0.9"/>
<text x="493.00" y="479.60" font-size="6.5" fill="#333">&gt;40</text>
<text x="8.00" y="619.40" font-size="11.8" fill="#111" stroke="#111" stroke-width="0.45" font-weight="bold">F</text>
<g stroke="#5a5a5a" stroke-width="0.5">
<rect x="53.5" y="645.9" width="4.34" height="4.39" fill="#c82a26"/>
<rect x="57.8" y="645.9" width="4.34" height="4.39" fill="#ee6743"/>
<rect x="62.2" y="645.9" width="4.34" height="4.39" fill="#d23229"/>
<rect x="66.5" y="645.9" width="4.34" height="4.39" fill="#e14030"/>
<rect x="70.9" y="645.9" width="4.34" height="4.39" fill="#e14030"/>
<rect x="75.2" y="645.9" width="4.34" height="4.39" fill="#e03d2e"/>
<rect x="79.5" y="645.9" width="4.34" height="4.39" fill="#ee6642"/>
<rect x="83.9" y="645.9" width="4.34" height="4.39" fill="#e24130"/>
<rect x="88.2" y="645.9" width="4.34" height="4.39" fill="#e75138"/>
<rect x="92.6" y="645.9" width="4.34" height="4.39" fill="#c82a26"/>
<rect x="96.9" y="645.9" width="4.34" height="4.39" fill="#e03d2f"/>
<rect x="101.2" y="645.9" width="4.34" height="4.39" fill="#e54c36"/>
<rect x="105.6" y="645.9" width="4.34" height="4.39" fill="#e54c36"/>
<rect x="109.9" y="645.9" width="4.34" height="4.39" fill="#e9573b"/>
<rect x="114.3" y="645.9" width="4.34" height="4.39" fill="#ec6140"/>
<rect x="118.6" y="645.9" width="4.34" height="4.39" fill="#e8553a"/>
<rect x="122.9" y="645.9" width="4.34" height="4.39" fill="#e34432"/>
<rect x="127.3" y="645.9" width="4.34" height="4.39" fill="#e9563a"/>
<rect x="131.6" y="645.9" width="4.34" height="4.39" fill="#e13e2f"/>
<rect x="136.0" y="645.9" width="4.34" height="4.39" fill="#ea593c"/>
<rect x="140.3" y="645.9" width="4.34" height="4.39" fill="#e9563b"/>
<rect x="144.6" y="645.9" width="4.34" height="4.39" fill="#dd3a2d"/>
<rect x="149.0" y="645.9" width="4.34" height="4.39" fill="#e64f37"/>
<rect x="153.3" y="645.9" width="4.34" height="4.39" fill="#ef6843"/>
<rect x="157.7" y="645.9" width="4.34" height="4.39" fill="#ed6341"/>
<rect x="162.0" y="645.9" width="4.34" height="4.39" fill="#e8553a"/>
<rect x="166.3" y="645.9" width="4.34" height="4.39" fill="#de3b2d"/>
<rect x="170.7" y="645.9" width="4.34" height="4.39" fill="#f06b45"/>
<rect x="175.0" y="645.9" width="4.34" height="4.39" fill="#f06c45"/>
<rect x="179.4" y="645.9" width="4.34" height="4.39" fill="#f2774c"/>
<rect x="183.7" y="645.9" width="4.34" height="4.39" fill="#f89f63"/>
<rect x="188.0" y="645.9" width="4.34" height="4.39" fill="#f7945c"/>
<rect x="192.4" y="645.9" width="4.34" height="4.39" fill="#f37d4f"/>
<rect x="196.7" y="645.9" width="4.34" height="4.39" fill="#f48453"/>
<rect x="201.1" y="645.9" width="4.34" height="4.39" fill="#f68f59"/>
<rect x="205.4" y="645.9" width="4.34" height="4.39" fill="#f48453"/>
<rect x="209.7" y="645.9" width="4.34" height="4.39" fill="#fcc780"/>
<rect x="214.1" y="645.9" width="4.34" height="4.39" fill="#f37e50"/>
<rect x="218.4" y="645.9" width="4.34" height="4.39" fill="#f9a769"/>
<rect x="222.8" y="645.9" width="4.34" height="4.39" fill="#fbb572"/>
<rect x="227.1" y="645.9" width="4.34" height="4.39" fill="#f6905a"/>
<rect x="231.4" y="645.9" width="4.34" height="4.39" fill="#f58856"/>
<rect x="235.8" y="645.9" width="4.34" height="4.39" fill="#f9a064"/>
<rect x="240.1" y="645.9" width="4.34" height="4.39" fill="#faad6d"/>
<rect x="244.5" y="645.9" width="4.34" height="4.39" fill="#f8995f"/>
<rect x="248.8" y="645.9" width="4.34" height="4.39" fill="#f89b61"/>
<rect x="253.1" y="645.9" width="4.34" height="4.39" fill="#f37e50"/>
<rect x="257.5" y="645.9" width="4.34" height="4.39" fill="#f68d58"/>
<rect x="261.8" y="645.9" width="4.34" height="4.39" fill="#f8995f"/>
<rect x="266.2" y="645.9" width="4.34" height="4.39" fill="#f58755"/>
<rect x="270.5" y="645.9" width="4.34" height="4.39" fill="#f9a265"/>
<rect x="274.8" y="645.9" width="4.34" height="4.39" fill="#fab16f"/>
<rect x="279.2" y="645.9" width="4.34" height="4.39" fill="#f7945d"/>
<rect x="283.5" y="645.9" width="4.34" height="4.39" fill="#f7955d"/>
<rect x="287.9" y="645.9" width="4.34" height="4.39" fill="#f9a668"/>
<rect x="292.2" y="645.9" width="4.34" height="4.39" fill="#fab16f"/>
<rect x="296.5" y="645.9" width="4.34" height="4.39" fill="#96d0e8"/>
<rect x="300.9" y="645.9" width="4.34" height="4.39" fill="#3f8ec9"/>
<rect x="305.2" y="645.9" width="4.34" height="4.39" fill="#aad9eb"/>
<rect x="309.6" y="645.9" width="4.34" height="4.39" fill="#a2d5ea"/>
<rect x="313.9" y="645.9" width="4.34" height="4.39" fill="#4d9bd0"/>
<rect x="318.2" y="645.9" width="4.34" height="4.39" fill="#8fcce6"/>
<rect x="322.6" y="645.9" width="4.34" height="4.39" fill="#67afd9"/>
<rect x="326.9" y="645.9" width="4.34" height="4.39" fill="#addbeb"/>
<rect x="331.3" y="645.9" width="4.34" height="4.39" fill="#4694cd"/>
<rect x="335.6" y="645.9" width="4.34" height="4.39" fill="#69b0da"/>
<rect x="339.9" y="645.9" width="4.34" height="4.39" fill="#fbb673"/>
<rect x="344.3" y="645.9" width="4.34" height="4.39" fill="#faab6b"/>
<rect x="348.6" y="645.9" width="4.34" height="4.39" fill="#fbeaad"/>
<rect x="353.0" y="645.9" width="4.34" height="4.39" fill="#fcd18a"/>
<rect x="357.3" y="645.9" width="4.34" height="4.39" fill="#fcc079"/>
<rect x="361.6" y="645.9" width="4.34" height="4.39" fill="#fcd38d"/>
<rect x="366.0" y="645.9" width="4.34" height="4.39" fill="#f9a064"/>
<rect x="370.3" y="645.9" width="4.34" height="4.39" fill="#fdde99"/>
<rect x="374.7" y="645.9" width="4.34" height="4.39" fill="#fcbf79"/>
<rect x="379.0" y="645.9" width="4.34" height="4.39" fill="#fddb96"/>
<rect x="383.3" y="645.9" width="4.34" height="4.39" fill="#f9a567"/>
<rect x="387.7" y="645.9" width="4.34" height="4.39" fill="#fcc880"/>
<rect x="53.5" y="650.3" width="4.34" height="4.39" fill="#f16f47"/>
<rect x="57.8" y="650.3" width="4.34" height="4.39" fill="#f68c58"/>
<rect x="62.2" y="650.3" width="4.34" height="4.39" fill="#e34633"/>
<rect x="66.5" y="650.3" width="4.34" height="4.39" fill="#eb5c3d"/>
<rect x="70.9" y="650.3" width="4.34" height="4.39" fill="#eb5d3e"/>
<rect x="75.2" y="650.3" width="4.34" height="4.39" fill="#e9563b"/>
<rect x="79.5" y="650.3" width="4.34" height="4.39" fill="#ef6944"/>
<rect x="83.9" y="650.3" width="4.34" height="4.39" fill="#f37f50"/>
<rect x="88.2" y="650.3" width="4.34" height="4.39" fill="#f48453"/>
<rect x="92.6" y="650.3" width="4.34" height="4.39" fill="#f48554"/>
<rect x="96.9" y="650.3" width="4.34" height="4.39" fill="#ea593c"/>
<rect x="101.2" y="650.3" width="4.34" height="4.39" fill="#f7965e"/>
<rect x="105.6" y="650.3" width="4.34" height="4.39" fill="#f48554"/>
<rect x="109.9" y="650.3" width="4.34" height="4.39" fill="#f48151"/>
<rect x="114.3" y="650.3" width="4.34" height="4.39" fill="#f2774c"/>
<rect x="118.6" y="650.3" width="4.34" height="4.39" fill="#f17248"/>
<rect x="122.9" y="650.3" width="4.34" height="4.39" fill="#f8995f"/>
<rect x="127.3" y="650.3" width="4.34" height="4.39" fill="#f9a366"/>
<rect x="131.6" y="650.3" width="4.34" height="4.39" fill="#f48252"/>
<rect x="136.0" y="650.3" width="4.34" height="4.39" fill="#ef6a44"/>
<rect x="140.3" y="650.3" width="4.34" height="4.39" fill="#f2754a"/>
<rect x="144.6" y="650.3" width="4.34" height="4.39" fill="#f48252"/>
<rect x="149.0" y="650.3" width="4.34" height="4.39" fill="#f68e59"/>
<rect x="153.3" y="650.3" width="4.34" height="4.39" fill="#f48353"/>
<rect x="157.7" y="650.3" width="4.34" height="4.39" fill="#f6905a"/>
<rect x="162.0" y="650.3" width="4.34" height="4.39" fill="#f37b4e"/>
<rect x="166.3" y="650.3" width="4.34" height="4.39" fill="#f89e63"/>
<rect x="170.7" y="650.3" width="4.34" height="4.39" fill="#f68d58"/>
<rect x="175.0" y="650.3" width="4.34" height="4.39" fill="#f7935c"/>
<rect x="179.4" y="650.3" width="4.34" height="4.39" fill="#f9a567"/>
<rect x="183.7" y="650.3" width="4.34" height="4.39" fill="#faac6c"/>
<rect x="188.0" y="650.3" width="4.34" height="4.39" fill="#f37e50"/>
<rect x="192.4" y="650.3" width="4.34" height="4.39" fill="#f7955d"/>
<rect x="196.7" y="650.3" width="4.34" height="4.39" fill="#f7965d"/>
<rect x="201.1" y="650.3" width="4.34" height="4.39" fill="#fdd48f"/>
<rect x="205.4" y="650.3" width="4.34" height="4.39" fill="#fbba76"/>
<rect x="209.7" y="650.3" width="4.34" height="4.39" fill="#fcc079"/>
<rect x="214.1" y="650.3" width="4.34" height="4.39" fill="#faab6c"/>
<rect x="218.4" y="650.3" width="4.34" height="4.39" fill="#fdda95"/>
<rect x="222.8" y="650.3" width="4.34" height="4.39" fill="#f9a165"/>
<rect x="227.1" y="650.3" width="4.34" height="4.39" fill="#f9a466"/>
<rect x="231.4" y="650.3" width="4.34" height="4.39" fill="#fcce87"/>
<rect x="235.8" y="650.3" width="4.34" height="4.39" fill="#fcca83"/>
<rect x="240.1" y="650.3" width="4.34" height="4.39" fill="#fcc881"/>
<rect x="244.5" y="650.3" width="4.34" height="4.39" fill="#fbba76"/>
<rect x="248.8" y="650.3" width="4.34" height="4.39" fill="#fab06f"/>
<rect x="253.1" y="650.3" width="4.34" height="4.39" fill="#f7965d"/>
<rect x="257.5" y="650.3" width="4.34" height="4.39" fill="#fcc17a"/>
<rect x="261.8" y="650.3" width="4.34" height="4.39" fill="#fab06f"/>
<rect x="266.2" y="650.3" width="4.34" height="4.39" fill="#fbbc77"/>
<rect x="270.5" y="650.3" width="4.34" height="4.39" fill="#f89f63"/>
<rect x="274.8" y="650.3" width="4.34" height="4.39" fill="#fab370"/>
<rect x="279.2" y="650.3" width="4.34" height="4.39" fill="#f9a869"/>
<rect x="283.5" y="650.3" width="4.34" height="4.39" fill="#fcd28c"/>
<rect x="287.9" y="650.3" width="4.34" height="4.39" fill="#fcc67e"/>
<rect x="292.2" y="650.3" width="4.34" height="4.39" fill="#fcd089"/>
<rect x="296.5" y="650.3" width="4.34" height="4.39" fill="#d5eef2"/>
<rect x="300.9" y="650.3" width="4.34" height="4.39" fill="#b0dcec"/>
<rect x="305.2" y="650.3" width="4.34" height="4.39" fill="#87c7e4"/>
<rect x="309.6" y="650.3" width="4.34" height="4.39" fill="#81c3e2"/>
<rect x="313.9" y="650.3" width="4.34" height="4.39" fill="#a9d9eb"/>
<rect x="318.2" y="650.3" width="4.34" height="4.39" fill="#77bbdf"/>
<rect x="322.6" y="650.3" width="4.34" height="4.39" fill="#6fb5dc"/>
<rect x="326.9" y="650.3" width="4.34" height="4.39" fill="#a8d9eb"/>
<rect x="331.3" y="650.3" width="4.34" height="4.39" fill="#e9f1d5"/>
<rect x="335.6" y="650.3" width="4.34" height="4.39" fill="#89c9e5"/>
<rect x="339.9" y="650.3" width="4.34" height="4.39" fill="#fddb96"/>
<rect x="344.3" y="650.3" width="4.34" height="4.39" fill="#fce6a3"/>
<rect x="348.6" y="650.3" width="4.34" height="4.39" fill="#fce7a6"/>
<rect x="353.0" y="650.3" width="4.34" height="4.39" fill="#fcc77f"/>
<rect x="357.3" y="650.3" width="4.34" height="4.39" fill="#fcbf79"/>
<rect x="361.6" y="650.3" width="4.34" height="4.39" fill="#fcd18a"/>
<rect x="366.0" y="650.3" width="4.34" height="4.39" fill="#fcca83"/>
<rect x="370.3" y="650.3" width="4.34" height="4.39" fill="#fccf88"/>
<rect x="374.7" y="650.3" width="4.34" height="4.39" fill="#fcce87"/>
<rect x="379.0" y="650.3" width="4.34" height="4.39" fill="#fbe9aa"/>
<rect x="383.3" y="650.3" width="4.34" height="4.39" fill="#fdda94"/>
<rect x="387.7" y="650.3" width="4.34" height="4.39" fill="#fccf88"/>
<rect x="53.5" y="654.7" width="4.34" height="4.39" fill="#f89c61"/>
<rect x="57.8" y="654.7" width="4.34" height="4.39" fill="#f8985f"/>
<rect x="62.2" y="654.7" width="4.34" height="4.39" fill="#f9a064"/>
<rect x="66.5" y="654.7" width="4.34" height="4.39" fill="#f8985f"/>
<rect x="70.9" y="654.7" width="4.34" height="4.39" fill="#f48051"/>
<rect x="75.2" y="654.7" width="4.34" height="4.39" fill="#f89c61"/>
<rect x="79.5" y="654.7" width="4.34" height="4.39" fill="#f8985f"/>
<rect x="83.9" y="654.7" width="4.34" height="4.39" fill="#f48654"/>
<rect x="88.2" y="654.7" width="4.34" height="4.39" fill="#f58b57"/>
<rect x="92.6" y="654.7" width="4.34" height="4.39" fill="#f2764b"/>
<rect x="96.9" y="654.7" width="4.34" height="4.39" fill="#fcc27b"/>
<rect x="101.2" y="654.7" width="4.34" height="4.39" fill="#f58b57"/>
<rect x="105.6" y="654.7" width="4.34" height="4.39" fill="#f9a768"/>
<rect x="109.9" y="654.7" width="4.34" height="4.39" fill="#f89c62"/>
<rect x="114.3" y="654.7" width="4.34" height="4.39" fill="#f6905a"/>
<rect x="118.6" y="654.7" width="4.34" height="4.39" fill="#f68c58"/>
<rect x="122.9" y="654.7" width="4.34" height="4.39" fill="#f68e59"/>
<rect x="127.3" y="654.7" width="4.34" height="4.39" fill="#f9a165"/>
<rect x="131.6" y="654.7" width="4.34" height="4.39" fill="#f48554"/>
<rect x="136.0" y="654.7" width="4.34" height="4.39" fill="#faac6c"/>
<rect x="140.3" y="654.7" width="4.34" height="4.39" fill="#faab6b"/>
<rect x="144.6" y="654.7" width="4.34" height="4.39" fill="#f89b60"/>
<rect x="149.0" y="654.7" width="4.34" height="4.39" fill="#fbb672"/>
<rect x="153.3" y="654.7" width="4.34" height="4.39" fill="#f48152"/>
<rect x="157.7" y="654.7" width="4.34" height="4.39" fill="#f89b60"/>
<rect x="162.0" y="654.7" width="4.34" height="4.39" fill="#f48453"/>
<rect x="166.3" y="654.7" width="4.34" height="4.39" fill="#fab16f"/>
<rect x="170.7" y="654.7" width="4.34" height="4.39" fill="#fbb975"/>
<rect x="175.0" y="654.7" width="4.34" height="4.39" fill="#fab06f"/>
<rect x="179.4" y="654.7" width="4.34" height="4.39" fill="#fcd38d"/>
<rect x="183.7" y="654.7" width="4.34" height="4.39" fill="#fde5a2"/>
<rect x="188.0" y="654.7" width="4.34" height="4.39" fill="#fdd993"/>
<rect x="192.4" y="654.7" width="4.34" height="4.39" fill="#fddf9a"/>
<rect x="196.7" y="654.7" width="4.34" height="4.39" fill="#fcc880"/>
<rect x="201.1" y="654.7" width="4.34" height="4.39" fill="#fce6a5"/>
<rect x="205.4" y="654.7" width="4.34" height="4.39" fill="#fcd18a"/>
<rect x="209.7" y="654.7" width="4.34" height="4.39" fill="#fce7a5"/>
<rect x="214.1" y="654.7" width="4.34" height="4.39" fill="#fbe9aa"/>
<rect x="218.4" y="654.7" width="4.34" height="4.39" fill="#fce8a7"/>
<rect x="222.8" y="654.7" width="4.34" height="4.39" fill="#fbebae"/>
<rect x="227.1" y="654.7" width="4.34" height="4.39" fill="#fde09b"/>
<rect x="231.4" y="654.7" width="4.34" height="4.39" fill="#fcd38d"/>
<rect x="235.8" y="654.7" width="4.34" height="4.39" fill="#fde09c"/>
<rect x="240.1" y="654.7" width="4.34" height="4.39" fill="#fdda95"/>
<rect x="244.5" y="654.7" width="4.34" height="4.39" fill="#fccc85"/>
<rect x="248.8" y="654.7" width="4.34" height="4.39" fill="#fde09b"/>
<rect x="253.1" y="654.7" width="4.34" height="4.39" fill="#fde19d"/>
<rect x="257.5" y="654.7" width="4.34" height="4.39" fill="#fce6a4"/>
<rect x="261.8" y="654.7" width="4.34" height="4.39" fill="#f9f0b8"/>
<rect x="266.2" y="654.7" width="4.34" height="4.39" fill="#fdda95"/>
<rect x="270.5" y="654.7" width="4.34" height="4.39" fill="#f9f1bb"/>
<rect x="274.8" y="654.7" width="4.34" height="4.39" fill="#fddc97"/>
<rect x="279.2" y="654.7" width="4.34" height="4.39" fill="#fde5a2"/>
<rect x="283.5" y="654.7" width="4.34" height="4.39" fill="#fdd691"/>
<rect x="287.9" y="654.7" width="4.34" height="4.39" fill="#fce6a4"/>
<rect x="292.2" y="654.7" width="4.34" height="4.39" fill="#fbecaf"/>
<rect x="296.5" y="654.7" width="4.34" height="4.39" fill="#3f8eca"/>
<rect x="300.9" y="654.7" width="4.34" height="4.39" fill="#3080c2"/>
<rect x="305.2" y="654.7" width="4.34" height="4.39" fill="#3686c5"/>
<rect x="309.6" y="654.7" width="4.34" height="4.39" fill="#3a89c7"/>
<rect x="313.9" y="654.7" width="4.34" height="4.39" fill="#3786c6"/>
<rect x="318.2" y="654.7" width="4.34" height="4.39" fill="#3686c5"/>
<rect x="322.6" y="654.7" width="4.34" height="4.39" fill="#2c7cc0"/>
<rect x="326.9" y="654.7" width="4.34" height="4.39" fill="#3686c5"/>
<rect x="331.3" y="654.7" width="4.34" height="4.39" fill="#2470b0"/>
<rect x="335.6" y="654.7" width="4.34" height="4.39" fill="#3786c5"/>
<rect x="339.9" y="654.7" width="4.34" height="4.39" fill="#cceaf1"/>
<rect x="344.3" y="654.7" width="4.34" height="4.39" fill="#70b5dc"/>
<rect x="348.6" y="654.7" width="4.34" height="4.39" fill="#f6f4c2"/>
<rect x="353.0" y="654.7" width="4.34" height="4.39" fill="#3787c6"/>
<rect x="357.3" y="654.7" width="4.34" height="4.39" fill="#6bb2db"/>
<rect x="361.6" y="654.7" width="4.34" height="4.39" fill="#61aad7"/>
<rect x="366.0" y="654.7" width="4.34" height="4.39" fill="#4694cd"/>
<rect x="370.3" y="654.7" width="4.34" height="4.39" fill="#7abde0"/>
<rect x="374.7" y="654.7" width="4.34" height="4.39" fill="#54a0d3"/>
<rect x="379.0" y="654.7" width="4.34" height="4.39" fill="#3a89c7"/>
<rect x="383.3" y="654.7" width="4.34" height="4.39" fill="#5ba6d5"/>
<rect x="387.7" y="654.7" width="4.34" height="4.39" fill="#60a9d7"/>
<rect x="53.5" y="659.1" width="4.34" height="4.39" fill="#f9a567"/>
<rect x="57.8" y="659.1" width="4.34" height="4.39" fill="#fcbf79"/>
<rect x="62.2" y="659.1" width="4.34" height="4.39" fill="#f89e62"/>
<rect x="66.5" y="659.1" width="4.34" height="4.39" fill="#f89d62"/>
<rect x="70.9" y="659.1" width="4.34" height="4.39" fill="#fcc27a"/>
<rect x="75.2" y="659.1" width="4.34" height="4.39" fill="#fbba75"/>
<rect x="79.5" y="659.1" width="4.34" height="4.39" fill="#fab06f"/>
<rect x="83.9" y="659.1" width="4.34" height="4.39" fill="#fbbb76"/>
<rect x="88.2" y="659.1" width="4.34" height="4.39" fill="#f6905a"/>
<rect x="92.6" y="659.1" width="4.34" height="4.39" fill="#faaf6e"/>
<rect x="96.9" y="659.1" width="4.34" height="4.39" fill="#fcc67f"/>
<rect x="101.2" y="659.1" width="4.34" height="4.39" fill="#fcc47c"/>
<rect x="105.6" y="659.1" width="4.34" height="4.39" fill="#fbb874"/>
<rect x="109.9" y="659.1" width="4.34" height="4.39" fill="#f58b57"/>
<rect x="114.3" y="659.1" width="4.34" height="4.39" fill="#fbbd77"/>
<rect x="118.6" y="659.1" width="4.34" height="4.39" fill="#fbb874"/>
<rect x="122.9" y="659.1" width="4.34" height="4.39" fill="#fab270"/>
<rect x="127.3" y="659.1" width="4.34" height="4.39" fill="#fbbe78"/>
<rect x="131.6" y="659.1" width="4.34" height="4.39" fill="#f7935c"/>
<rect x="136.0" y="659.1" width="4.34" height="4.39" fill="#fcc981"/>
<rect x="140.3" y="659.1" width="4.34" height="4.39" fill="#fab471"/>
<rect x="144.6" y="659.1" width="4.34" height="4.39" fill="#fcc079"/>
<rect x="149.0" y="659.1" width="4.34" height="4.39" fill="#fbb974"/>
<rect x="153.3" y="659.1" width="4.34" height="4.39" fill="#fdd690"/>
<rect x="157.7" y="659.1" width="4.34" height="4.39" fill="#f9a668"/>
<rect x="162.0" y="659.1" width="4.34" height="4.39" fill="#fcc982"/>
<rect x="166.3" y="659.1" width="4.34" height="4.39" fill="#fcc880"/>
<rect x="170.7" y="659.1" width="4.34" height="4.39" fill="#fdd791"/>
<rect x="175.0" y="659.1" width="4.34" height="4.39" fill="#fce6a4"/>
<rect x="179.4" y="659.1" width="4.34" height="4.39" fill="#fde29e"/>
<rect x="183.7" y="659.1" width="4.34" height="4.39" fill="#fddc97"/>
<rect x="188.0" y="659.1" width="4.34" height="4.39" fill="#fde09c"/>
<rect x="192.4" y="659.1" width="4.34" height="4.39" fill="#fdda94"/>
<rect x="196.7" y="659.1" width="4.34" height="4.39" fill="#fde19d"/>
<rect x="201.1" y="659.1" width="4.34" height="4.39" fill="#fce8a7"/>
<rect x="205.4" y="659.1" width="4.34" height="4.39" fill="#fde09b"/>
<rect x="209.7" y="659.1" width="4.34" height="4.39" fill="#fde4a0"/>
<rect x="214.1" y="659.1" width="4.34" height="4.39" fill="#fbe9aa"/>
<rect x="218.4" y="659.1" width="4.34" height="4.39" fill="#fde29e"/>
<rect x="222.8" y="659.1" width="4.34" height="4.39" fill="#fdda95"/>
<rect x="227.1" y="659.1" width="4.34" height="4.39" fill="#fce7a6"/>
<rect x="231.4" y="659.1" width="4.34" height="4.39" fill="#fbebae"/>
<rect x="235.8" y="659.1" width="4.34" height="4.39" fill="#fde39f"/>
<rect x="240.1" y="659.1" width="4.34" height="4.39" fill="#fcd28c"/>
<rect x="244.5" y="659.1" width="4.34" height="4.39" fill="#fbebad"/>
<rect x="248.8" y="659.1" width="4.34" height="4.39" fill="#fbeaac"/>
<rect x="253.1" y="659.1" width="4.34" height="4.39" fill="#fbeaad"/>
<rect x="257.5" y="659.1" width="4.34" height="4.39" fill="#fddd98"/>
<rect x="261.8" y="659.1" width="4.34" height="4.39" fill="#f2f3c9"/>
<rect x="266.2" y="659.1" width="4.34" height="4.39" fill="#fce7a6"/>
<rect x="270.5" y="659.1" width="4.34" height="4.39" fill="#fdde9a"/>
<rect x="274.8" y="659.1" width="4.34" height="4.39" fill="#f9f0b8"/>
<rect x="279.2" y="659.1" width="4.34" height="4.39" fill="#fddb95"/>
<rect x="283.5" y="659.1" width="4.34" height="4.39" fill="#fce6a5"/>
<rect x="287.9" y="659.1" width="4.34" height="4.39" fill="#faeeb4"/>
<rect x="292.2" y="659.1" width="4.34" height="4.39" fill="#fbe9aa"/>
<rect x="296.5" y="659.1" width="4.34" height="4.39" fill="#2774b6"/>
<rect x="300.9" y="659.1" width="4.34" height="4.39" fill="#2e7ec1"/>
<rect x="305.2" y="659.1" width="4.34" height="4.39" fill="#5fa9d7"/>
<rect x="309.6" y="659.1" width="4.34" height="4.39" fill="#2b7abd"/>
<rect x="313.9" y="659.1" width="4.34" height="4.39" fill="#60a9d7"/>
<rect x="318.2" y="659.1" width="4.34" height="4.39" fill="#3585c5"/>
<rect x="322.6" y="659.1" width="4.34" height="4.39" fill="#4795cd"/>
<rect x="326.9" y="659.1" width="4.34" height="4.39" fill="#3787c6"/>
<rect x="331.3" y="659.1" width="4.34" height="4.39" fill="#236dad"/>
<rect x="335.6" y="659.1" width="4.34" height="4.39" fill="#2e7dc1"/>
<rect x="339.9" y="659.1" width="4.34" height="4.39" fill="#c9e8f0"/>
<rect x="344.3" y="659.1" width="4.34" height="4.39" fill="#a5d7ea"/>
<rect x="348.6" y="659.1" width="4.34" height="4.39" fill="#bae1ed"/>
<rect x="353.0" y="659.1" width="4.34" height="4.39" fill="#67afd9"/>
<rect x="357.3" y="659.1" width="4.34" height="4.39" fill="#4795cd"/>
<rect x="361.6" y="659.1" width="4.34" height="4.39" fill="#3686c5"/>
<rect x="366.0" y="659.1" width="4.34" height="4.39" fill="#4695cd"/>
<rect x="370.3" y="659.1" width="4.34" height="4.39" fill="#7abde0"/>
<rect x="374.7" y="659.1" width="4.34" height="4.39" fill="#4a98cf"/>
<rect x="379.0" y="659.1" width="4.34" height="4.39" fill="#7dbfe1"/>
<rect x="383.3" y="659.1" width="4.34" height="4.39" fill="#94cfe7"/>
<rect x="387.7" y="659.1" width="4.34" height="4.39" fill="#5aa5d5"/>
<rect x="53.5" y="663.5" width="4.34" height="4.39" fill="#fdd48e"/>
<rect x="57.8" y="663.5" width="4.34" height="4.39" fill="#fdd892"/>
<rect x="62.2" y="663.5" width="4.34" height="4.39" fill="#fcc67e"/>
<rect x="66.5" y="663.5" width="4.34" height="4.39" fill="#fbb673"/>
<rect x="70.9" y="663.5" width="4.34" height="4.39" fill="#fcc37b"/>
<rect x="75.2" y="663.5" width="4.34" height="4.39" fill="#fcbf79"/>
<rect x="79.5" y="663.5" width="4.34" height="4.39" fill="#fccf89"/>
<rect x="83.9" y="663.5" width="4.34" height="4.39" fill="#fcc57d"/>
<rect x="88.2" y="663.5" width="4.34" height="4.39" fill="#fcd18b"/>
<rect x="92.6" y="663.5" width="4.34" height="4.39" fill="#fcd089"/>
<rect x="96.9" y="663.5" width="4.34" height="4.39" fill="#fddf9a"/>
<rect x="101.2" y="663.5" width="4.34" height="4.39" fill="#fde39f"/>
<rect x="105.6" y="663.5" width="4.34" height="4.39" fill="#fdd58f"/>
<rect x="109.9" y="663.5" width="4.34" height="4.39" fill="#fdde9a"/>
<rect x="114.3" y="663.5" width="4.34" height="4.39" fill="#fddd98"/>
<rect x="118.6" y="663.5" width="4.34" height="4.39" fill="#fcc67f"/>
<rect x="122.9" y="663.5" width="4.34" height="4.39" fill="#fcd28c"/>
<rect x="127.3" y="663.5" width="4.34" height="4.39" fill="#f89f63"/>
<rect x="131.6" y="663.5" width="4.34" height="4.39" fill="#fcc57d"/>
<rect x="136.0" y="663.5" width="4.34" height="4.39" fill="#fddc97"/>
<rect x="140.3" y="663.5" width="4.34" height="4.39" fill="#fcc981"/>
<rect x="144.6" y="663.5" width="4.34" height="4.39" fill="#fcd089"/>
<rect x="149.0" y="663.5" width="4.34" height="4.39" fill="#fddf9b"/>
<rect x="153.3" y="663.5" width="4.34" height="4.39" fill="#fcc77f"/>
<rect x="157.7" y="663.5" width="4.34" height="4.39" fill="#fde29e"/>
<rect x="162.0" y="663.5" width="4.34" height="4.39" fill="#f8f4c0"/>
<rect x="166.3" y="663.5" width="4.34" height="4.39" fill="#fccd87"/>
<rect x="170.7" y="663.5" width="4.34" height="4.39" fill="#fde29e"/>
<rect x="175.0" y="663.5" width="4.34" height="4.39" fill="#fdd893"/>
<rect x="179.4" y="663.5" width="4.34" height="4.39" fill="#f9f1b9"/>
<rect x="183.7" y="663.5" width="4.34" height="4.39" fill="#f7f4c2"/>
<rect x="188.0" y="663.5" width="4.34" height="4.39" fill="#fdde99"/>
<rect x="192.4" y="663.5" width="4.34" height="4.39" fill="#f8f4c0"/>
<rect x="196.7" y="663.5" width="4.34" height="4.39" fill="#fbebae"/>
<rect x="201.1" y="663.5" width="4.34" height="4.39" fill="#fde09b"/>
<rect x="205.4" y="663.5" width="4.34" height="4.39" fill="#fbecaf"/>
<rect x="209.7" y="663.5" width="4.34" height="4.39" fill="#faedb2"/>
<rect x="214.1" y="663.5" width="4.34" height="4.39" fill="#fbecb0"/>
<rect x="218.4" y="663.5" width="4.34" height="4.39" fill="#fce7a5"/>
<rect x="222.8" y="663.5" width="4.34" height="4.39" fill="#f8f2bd"/>
<rect x="227.1" y="663.5" width="4.34" height="4.39" fill="#fce8a9"/>
<rect x="231.4" y="663.5" width="4.34" height="4.39" fill="#fce9a9"/>
<rect x="235.8" y="663.5" width="4.34" height="4.39" fill="#fdd48e"/>
<rect x="240.1" y="663.5" width="4.34" height="4.39" fill="#f9efb7"/>
<rect x="244.5" y="663.5" width="4.34" height="4.39" fill="#f8f4bf"/>
<rect x="248.8" y="663.5" width="4.34" height="4.39" fill="#fce8a7"/>
<rect x="253.1" y="663.5" width="4.34" height="4.39" fill="#f9f0b8"/>
<rect x="257.5" y="663.5" width="4.34" height="4.39" fill="#fbebae"/>
<rect x="261.8" y="663.5" width="4.34" height="4.39" fill="#faecb0"/>
<rect x="266.2" y="663.5" width="4.34" height="4.39" fill="#fde5a2"/>
<rect x="270.5" y="663.5" width="4.34" height="4.39" fill="#f9f2bc"/>
<rect x="274.8" y="663.5" width="4.34" height="4.39" fill="#faeeb4"/>
<rect x="279.2" y="663.5" width="4.34" height="4.39" fill="#def0e5"/>
<rect x="283.5" y="663.5" width="4.34" height="4.39" fill="#f8f4c0"/>
<rect x="287.9" y="663.5" width="4.34" height="4.39" fill="#fde19d"/>
<rect x="292.2" y="663.5" width="4.34" height="4.39" fill="#f8f3bd"/>
<rect x="296.5" y="663.5" width="4.34" height="4.39" fill="#2c7cc0"/>
<rect x="300.9" y="663.5" width="4.34" height="4.39" fill="#2977b9"/>
<rect x="305.2" y="663.5" width="4.34" height="4.39" fill="#408fca"/>
<rect x="309.6" y="663.5" width="4.34" height="4.39" fill="#3a89c7"/>
<rect x="313.9" y="663.5" width="4.34" height="4.39" fill="#2977ba"/>
<rect x="318.2" y="663.5" width="4.34" height="4.39" fill="#4190cb"/>
<rect x="322.6" y="663.5" width="4.34" height="4.39" fill="#3b8ac7"/>
<rect x="326.9" y="663.5" width="4.34" height="4.39" fill="#4391cb"/>
<rect x="331.3" y="663.5" width="4.34" height="4.39" fill="#2c7cc0"/>
<rect x="335.6" y="663.5" width="4.34" height="4.39" fill="#5ca6d5"/>
<rect x="339.9" y="663.5" width="4.34" height="4.39" fill="#dcefe9"/>
<rect x="344.3" y="663.5" width="4.34" height="4.39" fill="#a9d9eb"/>
<rect x="348.6" y="663.5" width="4.34" height="4.39" fill="#c3e5ef"/>
<rect x="353.0" y="663.5" width="4.34" height="4.39" fill="#56a2d3"/>
<rect x="357.3" y="663.5" width="4.34" height="4.39" fill="#80c2e2"/>
<rect x="361.6" y="663.5" width="4.34" height="4.39" fill="#55a1d3"/>
<rect x="366.0" y="663.5" width="4.34" height="4.39" fill="#89c8e5"/>
<rect x="370.3" y="663.5" width="4.34" height="4.39" fill="#75bade"/>
<rect x="374.7" y="663.5" width="4.34" height="4.39" fill="#94cfe7"/>
<rect x="379.0" y="663.5" width="4.34" height="4.39" fill="#7ec1e1"/>
<rect x="383.3" y="663.5" width="4.34" height="4.39" fill="#5da7d6"/>
<rect x="387.7" y="663.5" width="4.34" height="4.39" fill="#3585c5"/>
<rect x="53.5" y="667.9" width="4.34" height="4.39" fill="#fcc67e"/>
<rect x="57.8" y="667.9" width="4.34" height="4.39" fill="#fbbf78"/>
<rect x="62.2" y="667.9" width="4.34" height="4.39" fill="#fcca83"/>
<rect x="66.5" y="667.9" width="4.34" height="4.39" fill="#fcc57d"/>
<rect x="70.9" y="667.9" width="4.34" height="4.39" fill="#fdd58f"/>
<rect x="75.2" y="667.9" width="4.34" height="4.39" fill="#fdd48f"/>
<rect x="79.5" y="667.9" width="4.34" height="4.39" fill="#fddd99"/>
<rect x="83.9" y="667.9" width="4.34" height="4.39" fill="#fbbb76"/>
<rect x="88.2" y="667.9" width="4.34" height="4.39" fill="#fccf89"/>
<rect x="92.6" y="667.9" width="4.34" height="4.39" fill="#fdda94"/>
<rect x="96.9" y="667.9" width="4.34" height="4.39" fill="#fde5a3"/>
<rect x="101.2" y="667.9" width="4.34" height="4.39" fill="#fdd791"/>
<rect x="105.6" y="667.9" width="4.34" height="4.39" fill="#fcc079"/>
<rect x="109.9" y="667.9" width="4.34" height="4.39" fill="#fcd089"/>
<rect x="114.3" y="667.9" width="4.34" height="4.39" fill="#fde29d"/>
<rect x="118.6" y="667.9" width="4.34" height="4.39" fill="#fcc37c"/>
<rect x="122.9" y="667.9" width="4.34" height="4.39" fill="#fcc47d"/>
<rect x="127.3" y="667.9" width="4.34" height="4.39" fill="#fccc85"/>
<rect x="131.6" y="667.9" width="4.34" height="4.39" fill="#fccf89"/>
<rect x="136.0" y="667.9" width="4.34" height="4.39" fill="#fccb84"/>
<rect x="140.3" y="667.9" width="4.34" height="4.39" fill="#fdd58f"/>
<rect x="144.6" y="667.9" width="4.34" height="4.39" fill="#fcd28c"/>
<rect x="149.0" y="667.9" width="4.34" height="4.39" fill="#fce7a6"/>
<rect x="153.3" y="667.9" width="4.34" height="4.39" fill="#fcca83"/>
<rect x="157.7" y="667.9" width="4.34" height="4.39" fill="#fddd98"/>
<rect x="162.0" y="667.9" width="4.34" height="4.39" fill="#fcc47c"/>
<rect x="166.3" y="667.9" width="4.34" height="4.39" fill="#f9f2bc"/>
<rect x="170.7" y="667.9" width="4.34" height="4.39" fill="#fdd994"/>
<rect x="175.0" y="667.9" width="4.34" height="4.39" fill="#fce7a5"/>
<rect x="179.4" y="667.9" width="4.34" height="4.39" fill="#f9f2bb"/>
<rect x="183.7" y="667.9" width="4.34" height="4.39" fill="#fbecb0"/>
<rect x="188.0" y="667.9" width="4.34" height="4.39" fill="#fbeaac"/>
<rect x="192.4" y="667.9" width="4.34" height="4.39" fill="#fbebae"/>
<rect x="196.7" y="667.9" width="4.34" height="4.39" fill="#f8f3be"/>
<rect x="201.1" y="667.9" width="4.34" height="4.39" fill="#f9f0b8"/>
<rect x="205.4" y="667.9" width="4.34" height="4.39" fill="#fce8a8"/>
<rect x="209.7" y="667.9" width="4.34" height="4.39" fill="#fce6a4"/>
<rect x="214.1" y="667.9" width="4.34" height="4.39" fill="#faeeb5"/>
<rect x="218.4" y="667.9" width="4.34" height="4.39" fill="#faefb5"/>
<rect x="222.8" y="667.9" width="4.34" height="4.39" fill="#faeeb4"/>
<rect x="227.1" y="667.9" width="4.34" height="4.39" fill="#fce8a7"/>
<rect x="231.4" y="667.9" width="4.34" height="4.39" fill="#f2f3c9"/>
<rect x="235.8" y="667.9" width="4.34" height="4.39" fill="#eef2cf"/>
<rect x="240.1" y="667.9" width="4.34" height="4.39" fill="#faeeb5"/>
<rect x="244.5" y="667.9" width="4.34" height="4.39" fill="#f1f3ca"/>
<rect x="248.8" y="667.9" width="4.34" height="4.39" fill="#f8f3bf"/>
<rect x="253.1" y="667.9" width="4.34" height="4.39" fill="#faefb5"/>
<rect x="257.5" y="667.9" width="4.34" height="4.39" fill="#fbecaf"/>
<rect x="261.8" y="667.9" width="4.34" height="4.39" fill="#f2f3c9"/>
<rect x="266.2" y="667.9" width="4.34" height="4.39" fill="#fbe9ab"/>
<rect x="270.5" y="667.9" width="4.34" height="4.39" fill="#e7f1d9"/>
<rect x="274.8" y="667.9" width="4.34" height="4.39" fill="#fbebaf"/>
<rect x="279.2" y="667.9" width="4.34" height="4.39" fill="#eaf2d4"/>
<rect x="283.5" y="667.9" width="4.34" height="4.39" fill="#eef2ce"/>
<rect x="287.9" y="667.9" width="4.34" height="4.39" fill="#fbebad"/>
<rect x="292.2" y="667.9" width="4.34" height="4.39" fill="#f9f2bc"/>
<rect x="296.5" y="667.9" width="4.34" height="4.39" fill="#2d7dc0"/>
<rect x="300.9" y="667.9" width="4.34" height="4.39" fill="#3282c3"/>
<rect x="305.2" y="667.9" width="4.34" height="4.39" fill="#418fca"/>
<rect x="309.6" y="667.9" width="4.34" height="4.39" fill="#3888c6"/>
<rect x="313.9" y="667.9" width="4.34" height="4.39" fill="#3988c6"/>
<rect x="318.2" y="667.9" width="4.34" height="4.39" fill="#4a98cf"/>
<rect x="322.6" y="667.9" width="4.34" height="4.39" fill="#2e7ec1"/>
<rect x="326.9" y="667.9" width="4.34" height="4.39" fill="#3281c3"/>
<rect x="331.3" y="667.9" width="4.34" height="4.39" fill="#3181c2"/>
<rect x="335.6" y="667.9" width="4.34" height="4.39" fill="#4c9ad0"/>
<rect x="339.9" y="667.9" width="4.34" height="4.39" fill="#c0e4ef"/>
<rect x="344.3" y="667.9" width="4.34" height="4.39" fill="#e0f0e2"/>
<rect x="348.6" y="667.9" width="4.34" height="4.39" fill="#b4deed"/>
<rect x="353.0" y="667.9" width="4.34" height="4.39" fill="#60a9d7"/>
<rect x="357.3" y="667.9" width="4.34" height="4.39" fill="#86c7e4"/>
<rect x="361.6" y="667.9" width="4.34" height="4.39" fill="#56a2d4"/>
<rect x="366.0" y="667.9" width="4.34" height="4.39" fill="#85c6e4"/>
<rect x="370.3" y="667.9" width="4.34" height="4.39" fill="#81c3e2"/>
<rect x="374.7" y="667.9" width="4.34" height="4.39" fill="#4b9ad0"/>
<rect x="379.0" y="667.9" width="4.34" height="4.39" fill="#62abd8"/>
<rect x="383.3" y="667.9" width="4.34" height="4.39" fill="#61aad7"/>
<rect x="387.7" y="667.9" width="4.34" height="4.39" fill="#acdaeb"/>
<rect x="53.5" y="672.2" width="4.34" height="4.39" fill="#fbb975"/>
<rect x="57.8" y="672.2" width="4.34" height="4.39" fill="#fde39f"/>
<rect x="62.2" y="672.2" width="4.34" height="4.39" fill="#fde29e"/>
<rect x="66.5" y="672.2" width="4.34" height="4.39" fill="#f8f4c0"/>
<rect x="70.9" y="672.2" width="4.34" height="4.39" fill="#fde09c"/>
<rect x="75.2" y="672.2" width="4.34" height="4.39" fill="#fde4a0"/>
<rect x="79.5" y="672.2" width="4.34" height="4.39" fill="#faecb0"/>
<rect x="83.9" y="672.2" width="4.34" height="4.39" fill="#fdda95"/>
<rect x="88.2" y="672.2" width="4.34" height="4.39" fill="#f9f0b9"/>
<rect x="92.6" y="672.2" width="4.34" height="4.39" fill="#fce7a6"/>
<rect x="96.9" y="672.2" width="4.34" height="4.39" fill="#fde5a2"/>
<rect x="101.2" y="672.2" width="4.34" height="4.39" fill="#faefb6"/>
<rect x="105.6" y="672.2" width="4.34" height="4.39" fill="#fddd98"/>
<rect x="109.9" y="672.2" width="4.34" height="4.39" fill="#fddb95"/>
<rect x="114.3" y="672.2" width="4.34" height="4.39" fill="#f9f1ba"/>
<rect x="118.6" y="672.2" width="4.34" height="4.39" fill="#f9f2bb"/>
<rect x="122.9" y="672.2" width="4.34" height="4.39" fill="#fde39f"/>
<rect x="127.3" y="672.2" width="4.34" height="4.39" fill="#fce8a9"/>
<rect x="131.6" y="672.2" width="4.34" height="4.39" fill="#f9f1bb"/>
<rect x="136.0" y="672.2" width="4.34" height="4.39" fill="#fbebae"/>
<rect x="140.3" y="672.2" width="4.34" height="4.39" fill="#fbeaac"/>
<rect x="144.6" y="672.2" width="4.34" height="4.39" fill="#fbebad"/>
<rect x="149.0" y="672.2" width="4.34" height="4.39" fill="#fde4a0"/>
<rect x="153.3" y="672.2" width="4.34" height="4.39" fill="#fce8a7"/>
<rect x="157.7" y="672.2" width="4.34" height="4.39" fill="#fdd892"/>
<rect x="162.0" y="672.2" width="4.34" height="4.39" fill="#fdde99"/>
<rect x="166.3" y="672.2" width="4.34" height="4.39" fill="#fce6a5"/>
<rect x="170.7" y="672.2" width="4.34" height="4.39" fill="#fde4a0"/>
<rect x="175.0" y="672.2" width="4.34" height="4.39" fill="#faecb0"/>
<rect x="179.4" y="672.2" width="4.34" height="4.39" fill="#faedb3"/>
<rect x="183.7" y="672.2" width="4.34" height="4.39" fill="#e8f1d7"/>
<rect x="188.0" y="672.2" width="4.34" height="4.39" fill="#faecb0"/>
<rect x="192.4" y="672.2" width="4.34" height="4.39" fill="#f9f2bc"/>
<rect x="196.7" y="672.2" width="4.34" height="4.39" fill="#fce7a5"/>
<rect x="201.1" y="672.2" width="4.34" height="4.39" fill="#f9f2bb"/>
<rect x="205.4" y="672.2" width="4.34" height="4.39" fill="#faefb5"/>
<rect x="209.7" y="672.2" width="4.34" height="4.39" fill="#f9f0b8"/>
<rect x="214.1" y="672.2" width="4.34" height="4.39" fill="#fce6a5"/>
<rect x="218.4" y="672.2" width="4.34" height="4.39" fill="#f9f1ba"/>
<rect x="222.8" y="672.2" width="4.34" height="4.39" fill="#f7f4c1"/>
<rect x="227.1" y="672.2" width="4.34" height="4.39" fill="#f9f0b8"/>
<rect x="231.4" y="672.2" width="4.34" height="4.39" fill="#f5f3c5"/>
<rect x="235.8" y="672.2" width="4.34" height="4.39" fill="#f9f1ba"/>
<rect x="240.1" y="672.2" width="4.34" height="4.39" fill="#f8f2bd"/>
<rect x="244.5" y="672.2" width="4.34" height="4.39" fill="#f9f0b9"/>
<rect x="248.8" y="672.2" width="4.34" height="4.39" fill="#fde5a1"/>
<rect x="253.1" y="672.2" width="4.34" height="4.39" fill="#f5f4c4"/>
<rect x="257.5" y="672.2" width="4.34" height="4.39" fill="#f9f2bc"/>
<rect x="261.8" y="672.2" width="4.34" height="4.39" fill="#f8f4c0"/>
<rect x="266.2" y="672.2" width="4.34" height="4.39" fill="#faeeb3"/>
<rect x="270.5" y="672.2" width="4.34" height="4.39" fill="#e9f1d6"/>
<rect x="274.8" y="672.2" width="4.34" height="4.39" fill="#f1f3cb"/>
<rect x="279.2" y="672.2" width="4.34" height="4.39" fill="#f8f3bd"/>
<rect x="283.5" y="672.2" width="4.34" height="4.39" fill="#faeeb5"/>
<rect x="287.9" y="672.2" width="4.34" height="4.39" fill="#f8f3bd"/>
<rect x="292.2" y="672.2" width="4.34" height="4.39" fill="#f4f3c6"/>
<rect x="296.5" y="672.2" width="4.34" height="4.39" fill="#3180c2"/>
<rect x="300.9" y="672.2" width="4.34" height="4.39" fill="#4795cd"/>
<rect x="305.2" y="672.2" width="4.34" height="4.39" fill="#63acd8"/>
<rect x="309.6" y="672.2" width="4.34" height="4.39" fill="#4492cc"/>
<rect x="313.9" y="672.2" width="4.34" height="4.39" fill="#4290cb"/>
<rect x="318.2" y="672.2" width="4.34" height="4.39" fill="#4694cd"/>
<rect x="322.6" y="672.2" width="4.34" height="4.39" fill="#307fc2"/>
<rect x="326.9" y="672.2" width="4.34" height="4.39" fill="#3a89c7"/>
<rect x="331.3" y="672.2" width="4.34" height="4.39" fill="#3a89c7"/>
<rect x="335.6" y="672.2" width="4.34" height="4.39" fill="#4392cc"/>
<rect x="339.9" y="672.2" width="4.34" height="4.39" fill="#dff0e4"/>
<rect x="344.3" y="672.2" width="4.34" height="4.39" fill="#dcefe8"/>
<rect x="348.6" y="672.2" width="4.34" height="4.39" fill="#ceebf1"/>
<rect x="353.0" y="672.2" width="4.34" height="4.39" fill="#9cd3e9"/>
<rect x="357.3" y="672.2" width="4.34" height="4.39" fill="#4f9cd1"/>
<rect x="361.6" y="672.2" width="4.34" height="4.39" fill="#68b0da"/>
<rect x="366.0" y="672.2" width="4.34" height="4.39" fill="#63acd8"/>
<rect x="370.3" y="672.2" width="4.34" height="4.39" fill="#77bbdf"/>
<rect x="374.7" y="672.2" width="4.34" height="4.39" fill="#3a89c7"/>
<rect x="379.0" y="672.2" width="4.34" height="4.39" fill="#98d1e8"/>
<rect x="383.3" y="672.2" width="4.34" height="4.39" fill="#4a98cf"/>
<rect x="387.7" y="672.2" width="4.34" height="4.39" fill="#89c9e5"/>
<rect x="53.5" y="676.6" width="4.34" height="4.39" fill="#8fcde7"/>
<rect x="57.8" y="676.6" width="4.34" height="4.39" fill="#7fc1e2"/>
<rect x="62.2" y="676.6" width="4.34" height="4.39" fill="#89c9e5"/>
<rect x="66.5" y="676.6" width="4.34" height="4.39" fill="#b4deed"/>
<rect x="70.9" y="676.6" width="4.34" height="4.39" fill="#72b7dd"/>
<rect x="75.2" y="676.6" width="4.34" height="4.39" fill="#85c5e3"/>
<rect x="79.5" y="676.6" width="4.34" height="4.39" fill="#82c3e3"/>
<rect x="83.9" y="676.6" width="4.34" height="4.39" fill="#58a3d4"/>
<rect x="88.2" y="676.6" width="4.34" height="4.39" fill="#cbe9f0"/>
<rect x="92.6" y="676.6" width="4.34" height="4.39" fill="#afdcec"/>
<rect x="96.9" y="676.6" width="4.34" height="4.39" fill="#98d1e8"/>
<rect x="101.2" y="676.6" width="4.34" height="4.39" fill="#c9e8f0"/>
<rect x="105.6" y="676.6" width="4.34" height="4.39" fill="#78bcdf"/>
<rect x="109.9" y="676.6" width="4.34" height="4.39" fill="#9ad2e8"/>
<rect x="114.3" y="676.6" width="4.34" height="4.39" fill="#dcefe8"/>
<rect x="118.6" y="676.6" width="4.34" height="4.39" fill="#c7e7f0"/>
<rect x="122.9" y="676.6" width="4.34" height="4.39" fill="#509dd1"/>
<rect x="127.3" y="676.6" width="4.34" height="4.39" fill="#3e8dc9"/>
<rect x="131.6" y="676.6" width="4.34" height="4.39" fill="#7cbfe1"/>
<rect x="136.0" y="676.6" width="4.34" height="4.39" fill="#d0ecf1"/>
<rect x="140.3" y="676.6" width="4.34" height="4.39" fill="#94cfe7"/>
<rect x="144.6" y="676.6" width="4.34" height="4.39" fill="#9fd4e9"/>
<rect x="149.0" y="676.6" width="4.34" height="4.39" fill="#c2e5ef"/>
<rect x="153.3" y="676.6" width="4.34" height="4.39" fill="#88c8e4"/>
<rect x="157.7" y="676.6" width="4.34" height="4.39" fill="#b4deed"/>
<rect x="162.0" y="676.6" width="4.34" height="4.39" fill="#cdeaf1"/>
<rect x="166.3" y="676.6" width="4.34" height="4.39" fill="#c1e5ef"/>
<rect x="170.7" y="676.6" width="4.34" height="4.39" fill="#c0e4ef"/>
<rect x="175.0" y="676.6" width="4.34" height="4.39" fill="#e2f0df"/>
<rect x="179.4" y="676.6" width="4.34" height="4.39" fill="#c7e7f0"/>
<rect x="183.7" y="676.6" width="4.34" height="4.39" fill="#a3d6ea"/>
<rect x="188.0" y="676.6" width="4.34" height="4.39" fill="#dff0e4"/>
<rect x="192.4" y="676.6" width="4.34" height="4.39" fill="#f8f4c0"/>
<rect x="196.7" y="676.6" width="4.34" height="4.39" fill="#9ad2e8"/>
<rect x="201.1" y="676.6" width="4.34" height="4.39" fill="#67afd9"/>
<rect x="205.4" y="676.6" width="4.34" height="4.39" fill="#a9d9eb"/>
<rect x="209.7" y="676.6" width="4.34" height="4.39" fill="#cbe9f0"/>
<rect x="214.1" y="676.6" width="4.34" height="4.39" fill="#def0e5"/>
<rect x="218.4" y="676.6" width="4.34" height="4.39" fill="#dff0e4"/>
<rect x="222.8" y="676.6" width="4.34" height="4.39" fill="#a0d5e9"/>
<rect x="227.1" y="676.6" width="4.34" height="4.39" fill="#a1d5e9"/>
<rect x="231.4" y="676.6" width="4.34" height="4.39" fill="#e4f1dc"/>
<rect x="235.8" y="676.6" width="4.34" height="4.39" fill="#98d1e8"/>
<rect x="240.1" y="676.6" width="4.34" height="4.39" fill="#e2f0df"/>
<rect x="244.5" y="676.6" width="4.34" height="4.39" fill="#bde3ee"/>
<rect x="248.8" y="676.6" width="4.34" height="4.39" fill="#ddefe6"/>
<rect x="253.1" y="676.6" width="4.34" height="4.39" fill="#ddefe7"/>
<rect x="257.5" y="676.6" width="4.34" height="4.39" fill="#dff0e4"/>
<rect x="261.8" y="676.6" width="4.34" height="4.39" fill="#e0f0e2"/>
<rect x="266.2" y="676.6" width="4.34" height="4.39" fill="#a5d7ea"/>
<rect x="270.5" y="676.6" width="4.34" height="4.39" fill="#d8eeee"/>
<rect x="274.8" y="676.6" width="4.34" height="4.39" fill="#d0ecf1"/>
<rect x="279.2" y="676.6" width="4.34" height="4.39" fill="#d9efec"/>
<rect x="283.5" y="676.6" width="4.34" height="4.39" fill="#ebf2d2"/>
<rect x="287.9" y="676.6" width="4.34" height="4.39" fill="#c9e8f0"/>
<rect x="292.2" y="676.6" width="4.34" height="4.39" fill="#b8e0ed"/>
<rect x="296.5" y="676.6" width="4.34" height="4.39" fill="#ecf2d1"/>
<rect x="300.9" y="676.6" width="4.34" height="4.39" fill="#f5f3c4"/>
<rect x="305.2" y="676.6" width="4.34" height="4.39" fill="#fbebae"/>
<rect x="309.6" y="676.6" width="4.34" height="4.39" fill="#eaf2d3"/>
<rect x="313.9" y="676.6" width="4.34" height="4.39" fill="#fce7a7"/>
<rect x="318.2" y="676.6" width="4.34" height="4.39" fill="#f9f0b7"/>
<rect x="322.6" y="676.6" width="4.34" height="4.39" fill="#f7f4c2"/>
<rect x="326.9" y="676.6" width="4.34" height="4.39" fill="#e0f0e3"/>
<rect x="331.3" y="676.6" width="4.34" height="4.39" fill="#f9f0b8"/>
<rect x="335.6" y="676.6" width="4.34" height="4.39" fill="#fbecb0"/>
<rect x="339.9" y="676.6" width="4.34" height="4.39" fill="#2978bb"/>
<rect x="344.3" y="676.6" width="4.34" height="4.39" fill="#60a9d7"/>
<rect x="348.6" y="676.6" width="4.34" height="4.39" fill="#72b7dd"/>
<rect x="353.0" y="676.6" width="4.34" height="4.39" fill="#4795cd"/>
<rect x="357.3" y="676.6" width="4.34" height="4.39" fill="#4997cf"/>
<rect x="361.6" y="676.6" width="4.34" height="4.39" fill="#90cde7"/>
<rect x="366.0" y="676.6" width="4.34" height="4.39" fill="#62abd7"/>
<rect x="370.3" y="676.6" width="4.34" height="4.39" fill="#3383c3"/>
<rect x="374.7" y="676.6" width="4.34" height="4.39" fill="#4190cb"/>
<rect x="379.0" y="676.6" width="4.34" height="4.39" fill="#3f8ec9"/>
<rect x="383.3" y="676.6" width="4.34" height="4.39" fill="#3f8ec9"/>
<rect x="387.7" y="676.6" width="4.34" height="4.39" fill="#2672b4"/>
<rect x="53.5" y="681.0" width="4.34" height="4.39" fill="#4d9bd0"/>
<rect x="57.8" y="681.0" width="4.34" height="4.39" fill="#3888c6"/>
<rect x="62.2" y="681.0" width="4.34" height="4.39" fill="#4493cc"/>
<rect x="66.5" y="681.0" width="4.34" height="4.39" fill="#408fca"/>
<rect x="70.9" y="681.0" width="4.34" height="4.39" fill="#54a0d3"/>
<rect x="75.2" y="681.0" width="4.34" height="4.39" fill="#3e8dc9"/>
<rect x="79.5" y="681.0" width="4.34" height="4.39" fill="#3787c6"/>
<rect x="83.9" y="681.0" width="4.34" height="4.39" fill="#4b99d0"/>
<rect x="88.2" y="681.0" width="4.34" height="4.39" fill="#69b1da"/>
<rect x="92.6" y="681.0" width="4.34" height="4.39" fill="#3f8eca"/>
<rect x="96.9" y="681.0" width="4.34" height="4.39" fill="#6ab1da"/>
<rect x="101.2" y="681.0" width="4.34" height="4.39" fill="#4897ce"/>
<rect x="105.6" y="681.0" width="4.34" height="4.39" fill="#3d8cc9"/>
<rect x="109.9" y="681.0" width="4.34" height="4.39" fill="#71b6dd"/>
<rect x="114.3" y="681.0" width="4.34" height="4.39" fill="#3989c7"/>
<rect x="118.6" y="681.0" width="4.34" height="4.39" fill="#61aad7"/>
<rect x="122.9" y="681.0" width="4.34" height="4.39" fill="#3f8ec9"/>
<rect x="127.3" y="681.0" width="4.34" height="4.39" fill="#4e9cd1"/>
<rect x="131.6" y="681.0" width="4.34" height="4.39" fill="#3484c4"/>
<rect x="136.0" y="681.0" width="4.34" height="4.39" fill="#3b8ac7"/>
<rect x="140.3" y="681.0" width="4.34" height="4.39" fill="#66aed9"/>
<rect x="144.6" y="681.0" width="4.34" height="4.39" fill="#4a98cf"/>
<rect x="149.0" y="681.0" width="4.34" height="4.39" fill="#4897ce"/>
<rect x="153.3" y="681.0" width="4.34" height="4.39" fill="#4290cb"/>
<rect x="157.7" y="681.0" width="4.34" height="4.39" fill="#539fd2"/>
<rect x="162.0" y="681.0" width="4.34" height="4.39" fill="#3484c4"/>
<rect x="166.3" y="681.0" width="4.34" height="4.39" fill="#3888c6"/>
<rect x="170.7" y="681.0" width="4.34" height="4.39" fill="#4795cd"/>
<rect x="175.0" y="681.0" width="4.34" height="4.39" fill="#75bade"/>
<rect x="179.4" y="681.0" width="4.34" height="4.39" fill="#3f8eca"/>
<rect x="183.7" y="681.0" width="4.34" height="4.39" fill="#4997cf"/>
<rect x="188.0" y="681.0" width="4.34" height="4.39" fill="#4897ce"/>
<rect x="192.4" y="681.0" width="4.34" height="4.39" fill="#4796ce"/>
<rect x="196.7" y="681.0" width="4.34" height="4.39" fill="#84c5e3"/>
<rect x="201.1" y="681.0" width="4.34" height="4.39" fill="#6eb4dc"/>
<rect x="205.4" y="681.0" width="4.34" height="4.39" fill="#76bade"/>
<rect x="209.7" y="681.0" width="4.34" height="4.39" fill="#4b99d0"/>
<rect x="214.1" y="681.0" width="4.34" height="4.39" fill="#4593cc"/>
<rect x="218.4" y="681.0" width="4.34" height="4.39" fill="#3786c6"/>
<rect x="222.8" y="681.0" width="4.34" height="4.39" fill="#4896ce"/>
<rect x="227.1" y="681.0" width="4.34" height="4.39" fill="#2e7ec1"/>
<rect x="231.4" y="681.0" width="4.34" height="4.39" fill="#4593cc"/>
<rect x="235.8" y="681.0" width="4.34" height="4.39" fill="#6bb1db"/>
<rect x="240.1" y="681.0" width="4.34" height="4.39" fill="#89c9e5"/>
<rect x="244.5" y="681.0" width="4.34" height="4.39" fill="#73b8dd"/>
<rect x="248.8" y="681.0" width="4.34" height="4.39" fill="#4290cb"/>
<rect x="253.1" y="681.0" width="4.34" height="4.39" fill="#64acd8"/>
<rect x="257.5" y="681.0" width="4.34" height="4.39" fill="#4392cc"/>
<rect x="261.8" y="681.0" width="4.34" height="4.39" fill="#71b6dd"/>
<rect x="266.2" y="681.0" width="4.34" height="4.39" fill="#519ed2"/>
<rect x="270.5" y="681.0" width="4.34" height="4.39" fill="#74b8de"/>
<rect x="274.8" y="681.0" width="4.34" height="4.39" fill="#b6dfed"/>
<rect x="279.2" y="681.0" width="4.34" height="4.39" fill="#77bbdf"/>
<rect x="283.5" y="681.0" width="4.34" height="4.39" fill="#aedbec"/>
<rect x="287.9" y="681.0" width="4.34" height="4.39" fill="#5ea8d6"/>
<rect x="292.2" y="681.0" width="4.34" height="4.39" fill="#4d9bd0"/>
<rect x="296.5" y="681.0" width="4.34" height="4.39" fill="#fce9aa"/>
<rect x="300.9" y="681.0" width="4.34" height="4.39" fill="#fde5a2"/>
<rect x="305.2" y="681.0" width="4.34" height="4.39" fill="#e9f1d6"/>
<rect x="309.6" y="681.0" width="4.34" height="4.39" fill="#f6f4c3"/>
<rect x="313.9" y="681.0" width="4.34" height="4.39" fill="#d6eef0"/>
<rect x="318.2" y="681.0" width="4.34" height="4.39" fill="#f0f3cb"/>
<rect x="322.6" y="681.0" width="4.34" height="4.39" fill="#faedb2"/>
<rect x="326.9" y="681.0" width="4.34" height="4.39" fill="#f3f3c8"/>
<rect x="331.3" y="681.0" width="4.34" height="4.39" fill="#e9f1d6"/>
<rect x="335.6" y="681.0" width="4.34" height="4.39" fill="#d7eeef"/>
<rect x="339.9" y="681.0" width="4.34" height="4.39" fill="#3f8eca"/>
<rect x="344.3" y="681.0" width="4.34" height="4.39" fill="#4694cd"/>
<rect x="348.6" y="681.0" width="4.34" height="4.39" fill="#4391cb"/>
<rect x="353.0" y="681.0" width="4.34" height="4.39" fill="#3d8cc9"/>
<rect x="357.3" y="681.0" width="4.34" height="4.39" fill="#2978bb"/>
<rect x="361.6" y="681.0" width="4.34" height="4.39" fill="#63abd8"/>
<rect x="366.0" y="681.0" width="4.34" height="4.39" fill="#3888c6"/>
<rect x="370.3" y="681.0" width="4.34" height="4.39" fill="#3786c6"/>
<rect x="374.7" y="681.0" width="4.34" height="4.39" fill="#4593cd"/>
<rect x="379.0" y="681.0" width="4.34" height="4.39" fill="#2470b0"/>
<rect x="383.3" y="681.0" width="4.34" height="4.39" fill="#3888c6"/>
<rect x="387.7" y="681.0" width="4.34" height="4.39" fill="#3786c6"/>
<rect x="53.5" y="685.4" width="4.34" height="4.39" fill="#3786c5"/>
<rect x="57.8" y="685.4" width="4.34" height="4.39" fill="#4594cd"/>
<rect x="62.2" y="685.4" width="4.34" height="4.39" fill="#3888c6"/>
<rect x="66.5" y="685.4" width="4.34" height="4.39" fill="#2470b0"/>
<rect x="70.9" y="685.4" width="4.34" height="4.39" fill="#2d7dc0"/>
<rect x="75.2" y="685.4" width="4.34" height="4.39" fill="#3584c4"/>
<rect x="79.5" y="685.4" width="4.34" height="4.39" fill="#3483c4"/>
<rect x="83.9" y="685.4" width="4.34" height="4.39" fill="#2774b6"/>
<rect x="88.2" y="685.4" width="4.34" height="4.39" fill="#2571b2"/>
<rect x="92.6" y="685.4" width="4.34" height="4.39" fill="#3a89c7"/>
<rect x="96.9" y="685.4" width="4.34" height="4.39" fill="#3786c5"/>
<rect x="101.2" y="685.4" width="4.34" height="4.39" fill="#3281c3"/>
<rect x="105.6" y="685.4" width="4.34" height="4.39" fill="#2571b1"/>
<rect x="109.9" y="685.4" width="4.34" height="4.39" fill="#4c9ad0"/>
<rect x="114.3" y="685.4" width="4.34" height="4.39" fill="#1f68a6"/>
<rect x="118.6" y="685.4" width="4.34" height="4.39" fill="#2d7dc0"/>
<rect x="122.9" y="685.4" width="4.34" height="4.39" fill="#57a3d4"/>
<rect x="127.3" y="685.4" width="4.34" height="4.39" fill="#3080c2"/>
<rect x="131.6" y="685.4" width="4.34" height="4.39" fill="#3685c5"/>
<rect x="136.0" y="685.4" width="4.34" height="4.39" fill="#2876b8"/>
<rect x="140.3" y="685.4" width="4.34" height="4.39" fill="#4695cd"/>
<rect x="144.6" y="685.4" width="4.34" height="4.39" fill="#2775b7"/>
<rect x="149.0" y="685.4" width="4.34" height="4.39" fill="#3685c5"/>
<rect x="153.3" y="685.4" width="4.34" height="4.39" fill="#3484c4"/>
<rect x="157.7" y="685.4" width="4.34" height="4.39" fill="#2977b9"/>
<rect x="162.0" y="685.4" width="4.34" height="4.39" fill="#408eca"/>
<rect x="166.3" y="685.4" width="4.34" height="4.39" fill="#2774b5"/>
<rect x="170.7" y="685.4" width="4.34" height="4.39" fill="#2b7abd"/>
<rect x="175.0" y="685.4" width="4.34" height="4.39" fill="#5ba6d5"/>
<rect x="179.4" y="685.4" width="4.34" height="4.39" fill="#2d7dc0"/>
<rect x="183.7" y="685.4" width="4.34" height="4.39" fill="#3a89c7"/>
<rect x="188.0" y="685.4" width="4.34" height="4.39" fill="#408fca"/>
<rect x="192.4" y="685.4" width="4.34" height="4.39" fill="#2f7ec1"/>
<rect x="196.7" y="685.4" width="4.34" height="4.39" fill="#2c7bbf"/>
<rect x="201.1" y="685.4" width="4.34" height="4.39" fill="#2c7cc0"/>
<rect x="205.4" y="685.4" width="4.34" height="4.39" fill="#2e7ec1"/>
<rect x="209.7" y="685.4" width="4.34" height="4.39" fill="#3f8ec9"/>
<rect x="214.1" y="685.4" width="4.34" height="4.39" fill="#3080c2"/>
<rect x="218.4" y="685.4" width="4.34" height="4.39" fill="#3988c7"/>
<rect x="222.8" y="685.4" width="4.34" height="4.39" fill="#3282c3"/>
<rect x="227.1" y="685.4" width="4.34" height="4.39" fill="#2a79bc"/>
<rect x="231.4" y="685.4" width="4.34" height="4.39" fill="#408fca"/>
<rect x="235.8" y="685.4" width="4.34" height="4.39" fill="#2977ba"/>
<rect x="240.1" y="685.4" width="4.34" height="4.39" fill="#3483c4"/>
<rect x="244.5" y="685.4" width="4.34" height="4.39" fill="#4997cf"/>
<rect x="248.8" y="685.4" width="4.34" height="4.39" fill="#2977ba"/>
<rect x="253.1" y="685.4" width="4.34" height="4.39" fill="#3382c3"/>
<rect x="257.5" y="685.4" width="4.34" height="4.39" fill="#2673b4"/>
<rect x="261.8" y="685.4" width="4.34" height="4.39" fill="#2c7cc0"/>
<rect x="266.2" y="685.4" width="4.34" height="4.39" fill="#2774b5"/>
<rect x="270.5" y="685.4" width="4.34" height="4.39" fill="#2e7ec1"/>
<rect x="274.8" y="685.4" width="4.34" height="4.39" fill="#2c7cc0"/>
<rect x="279.2" y="685.4" width="4.34" height="4.39" fill="#3685c5"/>
<rect x="283.5" y="685.4" width="4.34" height="4.39" fill="#4b99d0"/>
<rect x="287.9" y="685.4" width="4.34" height="4.39" fill="#3887c6"/>
<rect x="292.2" y="685.4" width="4.34" height="4.39" fill="#3e8dc9"/>
<rect x="296.5" y="685.4" width="4.34" height="4.39" fill="#3180c2"/>
<rect x="300.9" y="685.4" width="4.34" height="4.39" fill="#2d7dc1"/>
<rect x="305.2" y="685.4" width="4.34" height="4.39" fill="#2977ba"/>
<rect x="309.6" y="685.4" width="4.34" height="4.39" fill="#236eae"/>
<rect x="313.9" y="685.4" width="4.34" height="4.39" fill="#3282c3"/>
<rect x="318.2" y="685.4" width="4.34" height="4.39" fill="#4b99d0"/>
<rect x="322.6" y="685.4" width="4.34" height="4.39" fill="#3988c6"/>
<rect x="326.9" y="685.4" width="4.34" height="4.39" fill="#2b7abe"/>
<rect x="331.3" y="685.4" width="4.34" height="4.39" fill="#4c9ad0"/>
<rect x="335.6" y="685.4" width="4.34" height="4.39" fill="#2b7bbf"/>
<rect x="339.9" y="685.4" width="4.34" height="4.39" fill="#2d7dc0"/>
<rect x="344.3" y="685.4" width="4.34" height="4.39" fill="#2977b9"/>
<rect x="348.6" y="685.4" width="4.34" height="4.39" fill="#2a79bc"/>
<rect x="353.0" y="685.4" width="4.34" height="4.39" fill="#3382c3"/>
<rect x="357.3" y="685.4" width="4.34" height="4.39" fill="#66aed9"/>
<rect x="361.6" y="685.4" width="4.34" height="4.39" fill="#3383c4"/>
<rect x="366.0" y="685.4" width="4.34" height="4.39" fill="#2a79bc"/>
<rect x="370.3" y="685.4" width="4.34" height="4.39" fill="#2d7dc0"/>
<rect x="374.7" y="685.4" width="4.34" height="4.39" fill="#3383c4"/>
<rect x="379.0" y="685.4" width="4.34" height="4.39" fill="#deefe6"/>
<rect x="383.3" y="685.4" width="4.34" height="4.39" fill="#3988c6"/>
<rect x="387.7" y="685.4" width="4.34" height="4.39" fill="#4291cb"/>
<rect x="53.5" y="689.8" width="4.34" height="4.39" fill="#3180c2"/>
<rect x="57.8" y="689.8" width="4.34" height="4.39" fill="#3584c4"/>
<rect x="62.2" y="689.8" width="4.34" height="4.39" fill="#2571b2"/>
<rect x="66.5" y="689.8" width="4.34" height="4.39" fill="#236ead"/>
<rect x="70.9" y="689.8" width="4.34" height="4.39" fill="#3f8ec9"/>
<rect x="75.2" y="689.8" width="4.34" height="4.39" fill="#3c8bc8"/>
<rect x="79.5" y="689.8" width="4.34" height="4.39" fill="#246faf"/>
<rect x="83.9" y="689.8" width="4.34" height="4.39" fill="#2f7fc2"/>
<rect x="88.2" y="689.8" width="4.34" height="4.39" fill="#2c7cc0"/>
<rect x="92.6" y="689.8" width="4.34" height="4.39" fill="#3483c4"/>
<rect x="96.9" y="689.8" width="4.34" height="4.39" fill="#2f7fc2"/>
<rect x="101.2" y="689.8" width="4.34" height="4.39" fill="#2978ba"/>
<rect x="105.6" y="689.8" width="4.34" height="4.39" fill="#2f7fc1"/>
<rect x="109.9" y="689.8" width="4.34" height="4.39" fill="#2e7ec1"/>
<rect x="114.3" y="689.8" width="4.34" height="4.39" fill="#2c7cbf"/>
<rect x="118.6" y="689.8" width="4.34" height="4.39" fill="#226cac"/>
<rect x="122.9" y="689.8" width="4.34" height="4.39" fill="#1f68a6"/>
<rect x="127.3" y="689.8" width="4.34" height="4.39" fill="#2875b7"/>
<rect x="131.6" y="689.8" width="4.34" height="4.39" fill="#236eae"/>
<rect x="136.0" y="689.8" width="4.34" height="4.39" fill="#307fc2"/>
<rect x="140.3" y="689.8" width="4.34" height="4.39" fill="#3786c5"/>
<rect x="144.6" y="689.8" width="4.34" height="4.39" fill="#3080c2"/>
<rect x="149.0" y="689.8" width="4.34" height="4.39" fill="#2a79bc"/>
<rect x="153.3" y="689.8" width="4.34" height="4.39" fill="#2d7dc1"/>
<rect x="157.7" y="689.8" width="4.34" height="4.39" fill="#3d8cc9"/>
<rect x="162.0" y="689.8" width="4.34" height="4.39" fill="#2876b8"/>
<rect x="166.3" y="689.8" width="4.34" height="4.39" fill="#3a89c7"/>
<rect x="170.7" y="689.8" width="4.34" height="4.39" fill="#3686c5"/>
<rect x="175.0" y="689.8" width="4.34" height="4.39" fill="#55a1d3"/>
<rect x="179.4" y="689.8" width="4.34" height="4.39" fill="#4190cb"/>
<rect x="183.7" y="689.8" width="4.34" height="4.39" fill="#2876b8"/>
<rect x="188.0" y="689.8" width="4.34" height="4.39" fill="#3a89c7"/>
<rect x="192.4" y="689.8" width="4.34" height="4.39" fill="#2774b6"/>
<rect x="196.7" y="689.8" width="4.34" height="4.39" fill="#2876b8"/>
<rect x="201.1" y="689.8" width="4.34" height="4.39" fill="#2673b4"/>
<rect x="205.4" y="689.8" width="4.34" height="4.39" fill="#3382c3"/>
<rect x="209.7" y="689.8" width="4.34" height="4.39" fill="#2774b6"/>
<rect x="214.1" y="689.8" width="4.34" height="4.39" fill="#2d7dc0"/>
<rect x="218.4" y="689.8" width="4.34" height="4.39" fill="#2672b3"/>
<rect x="222.8" y="689.8" width="4.34" height="4.39" fill="#3c8bc8"/>
<rect x="227.1" y="689.8" width="4.34" height="4.39" fill="#4795cd"/>
<rect x="231.4" y="689.8" width="4.34" height="4.39" fill="#2f7fc2"/>
<rect x="235.8" y="689.8" width="4.34" height="4.39" fill="#4493cc"/>
<rect x="240.1" y="689.8" width="4.34" height="4.39" fill="#3484c4"/>
<rect x="244.5" y="689.8" width="4.34" height="4.39" fill="#4c9ad0"/>
<rect x="248.8" y="689.8" width="4.34" height="4.39" fill="#2d7dc1"/>
<rect x="253.1" y="689.8" width="4.34" height="4.39" fill="#236faf"/>
<rect x="257.5" y="689.8" width="4.34" height="4.39" fill="#4290cb"/>
<rect x="261.8" y="689.8" width="4.34" height="4.39" fill="#2b7bbf"/>
<rect x="266.2" y="689.8" width="4.34" height="4.39" fill="#2673b5"/>
<rect x="270.5" y="689.8" width="4.34" height="4.39" fill="#2876b9"/>
<rect x="274.8" y="689.8" width="4.34" height="4.39" fill="#236eae"/>
<rect x="279.2" y="689.8" width="4.34" height="4.39" fill="#2b7bbe"/>
<rect x="283.5" y="689.8" width="4.34" height="4.39" fill="#2673b4"/>
<rect x="287.9" y="689.8" width="4.34" height="4.39" fill="#4290cb"/>
<rect x="292.2" y="689.8" width="4.34" height="4.39" fill="#3685c5"/>
<rect x="296.5" y="689.8" width="4.34" height="4.39" fill="#226dac"/>
<rect x="300.9" y="689.8" width="4.34" height="4.39" fill="#236eae"/>
<rect x="305.2" y="689.8" width="4.34" height="4.39" fill="#2977b9"/>
<rect x="309.6" y="689.8" width="4.34" height="4.39" fill="#206aa9"/>
<rect x="313.9" y="689.8" width="4.34" height="4.39" fill="#2b7bbf"/>
<rect x="318.2" y="689.8" width="4.34" height="4.39" fill="#2c7cbf"/>
<rect x="322.6" y="689.8" width="4.34" height="4.39" fill="#2775b7"/>
<rect x="326.9" y="689.8" width="4.34" height="4.39" fill="#2977b9"/>
<rect x="331.3" y="689.8" width="4.34" height="4.39" fill="#3483c4"/>
<rect x="335.6" y="689.8" width="4.34" height="4.39" fill="#4391cb"/>
<rect x="339.9" y="689.8" width="4.34" height="4.39" fill="#4997cf"/>
<rect x="344.3" y="689.8" width="4.34" height="4.39" fill="#3282c3"/>
<rect x="348.6" y="689.8" width="4.34" height="4.39" fill="#3f8eca"/>
<rect x="353.0" y="689.8" width="4.34" height="4.39" fill="#2a78bb"/>
<rect x="357.3" y="689.8" width="4.34" height="4.39" fill="#3887c6"/>
<rect x="361.6" y="689.8" width="4.34" height="4.39" fill="#2876b8"/>
<rect x="366.0" y="689.8" width="4.34" height="4.39" fill="#3d8cc9"/>
<rect x="370.3" y="689.8" width="4.34" height="4.39" fill="#2774b5"/>
<rect x="374.7" y="689.8" width="4.34" height="4.39" fill="#2876b8"/>
<rect x="379.0" y="689.8" width="4.34" height="4.39" fill="#b1ddec"/>
<rect x="383.3" y="689.8" width="4.34" height="4.39" fill="#3a89c7"/>
<rect x="387.7" y="689.8" width="4.34" height="4.39" fill="#2572b3"/>
<rect x="53.5" y="694.2" width="4.34" height="4.39" fill="#2876b8"/>
<rect x="57.8" y="694.2" width="4.34" height="4.39" fill="#2c7cbf"/>
<rect x="62.2" y="694.2" width="4.34" height="4.39" fill="#2d7dc0"/>
<rect x="66.5" y="694.2" width="4.34" height="4.39" fill="#2673b5"/>
<rect x="70.9" y="694.2" width="4.34" height="4.39" fill="#2c7bbf"/>
<rect x="75.2" y="694.2" width="4.34" height="4.39" fill="#2a78bb"/>
<rect x="79.5" y="694.2" width="4.34" height="4.39" fill="#3e8dc9"/>
<rect x="83.9" y="694.2" width="4.34" height="4.39" fill="#3281c3"/>
<rect x="88.2" y="694.2" width="4.34" height="4.39" fill="#246faf"/>
<rect x="92.6" y="694.2" width="4.34" height="4.39" fill="#1f68a6"/>
<rect x="96.9" y="694.2" width="4.34" height="4.39" fill="#2c7bbf"/>
<rect x="101.2" y="694.2" width="4.34" height="4.39" fill="#3b8ac7"/>
<rect x="105.6" y="694.2" width="4.34" height="4.39" fill="#2c7cc0"/>
<rect x="109.9" y="694.2" width="4.34" height="4.39" fill="#3686c5"/>
<rect x="114.3" y="694.2" width="4.34" height="4.39" fill="#2876b9"/>
<rect x="118.6" y="694.2" width="4.34" height="4.39" fill="#236faf"/>
<rect x="122.9" y="694.2" width="4.34" height="4.39" fill="#3484c4"/>
<rect x="127.3" y="694.2" width="4.34" height="4.39" fill="#2c7bbf"/>
<rect x="131.6" y="694.2" width="4.34" height="4.39" fill="#3383c4"/>
<rect x="136.0" y="694.2" width="4.34" height="4.39" fill="#236faf"/>
<rect x="140.3" y="694.2" width="4.34" height="4.39" fill="#2c7cc0"/>
<rect x="144.6" y="694.2" width="4.34" height="4.39" fill="#2875b7"/>
<rect x="149.0" y="694.2" width="4.34" height="4.39" fill="#3585c5"/>
<rect x="153.3" y="694.2" width="4.34" height="4.39" fill="#2876b8"/>
<rect x="157.7" y="694.2" width="4.34" height="4.39" fill="#2875b7"/>
<rect x="162.0" y="694.2" width="4.34" height="4.39" fill="#2876b8"/>
<rect x="166.3" y="694.2" width="4.34" height="4.39" fill="#3c8bc8"/>
<rect x="170.7" y="694.2" width="4.34" height="4.39" fill="#2b7bbe"/>
<rect x="175.0" y="694.2" width="4.34" height="4.39" fill="#2774b6"/>
<rect x="179.4" y="694.2" width="4.34" height="4.39" fill="#2572b3"/>
<rect x="183.7" y="694.2" width="4.34" height="4.39" fill="#2572b3"/>
<rect x="188.0" y="694.2" width="4.34" height="4.39" fill="#3f8ec9"/>
<rect x="192.4" y="694.2" width="4.34" height="4.39" fill="#216baa"/>
<rect x="196.7" y="694.2" width="4.34" height="4.39" fill="#2673b5"/>
<rect x="201.1" y="694.2" width="4.34" height="4.39" fill="#3382c3"/>
<rect x="205.4" y="694.2" width="4.34" height="4.39" fill="#3b8ac7"/>
<rect x="209.7" y="694.2" width="4.34" height="4.39" fill="#2a79bc"/>
<rect x="214.1" y="694.2" width="4.34" height="4.39" fill="#3584c4"/>
<rect x="218.4" y="694.2" width="4.34" height="4.39" fill="#3484c4"/>
<rect x="222.8" y="694.2" width="4.34" height="4.39" fill="#3887c6"/>
<rect x="227.1" y="694.2" width="4.34" height="4.39" fill="#2b7bbf"/>
<rect x="231.4" y="694.2" width="4.34" height="4.39" fill="#4290cb"/>
<rect x="235.8" y="694.2" width="4.34" height="4.39" fill="#2d7cc0"/>
<rect x="240.1" y="694.2" width="4.34" height="4.39" fill="#408fca"/>
<rect x="244.5" y="694.2" width="4.34" height="4.39" fill="#2571b2"/>
<rect x="248.8" y="694.2" width="4.34" height="4.39" fill="#3787c6"/>
<rect x="253.1" y="694.2" width="4.34" height="4.39" fill="#2470b0"/>
<rect x="257.5" y="694.2" width="4.34" height="4.39" fill="#236eae"/>
<rect x="261.8" y="694.2" width="4.34" height="4.39" fill="#3181c3"/>
<rect x="266.2" y="694.2" width="4.34" height="4.39" fill="#2774b5"/>
<rect x="270.5" y="694.2" width="4.34" height="4.39" fill="#3080c2"/>
<rect x="274.8" y="694.2" width="4.34" height="4.39" fill="#2572b3"/>
<rect x="279.2" y="694.2" width="4.34" height="4.39" fill="#4190cb"/>
<rect x="283.5" y="694.2" width="4.34" height="4.39" fill="#2b7bbe"/>
<rect x="287.9" y="694.2" width="4.34" height="4.39" fill="#2571b2"/>
<rect x="292.2" y="694.2" width="4.34" height="4.39" fill="#2c7cc0"/>
<rect x="296.5" y="694.2" width="4.34" height="4.39" fill="#3887c6"/>
<rect x="300.9" y="694.2" width="4.34" height="4.39" fill="#2774b5"/>
<rect x="305.2" y="694.2" width="4.34" height="4.39" fill="#3282c3"/>
<rect x="309.6" y="694.2" width="4.34" height="4.39" fill="#4b99cf"/>
<rect x="313.9" y="694.2" width="4.34" height="4.39" fill="#3887c6"/>
<rect x="318.2" y="694.2" width="4.34" height="4.39" fill="#2b7bbe"/>
<rect x="322.6" y="694.2" width="4.34" height="4.39" fill="#2876b8"/>
<rect x="326.9" y="694.2" width="4.34" height="4.39" fill="#3383c4"/>
<rect x="331.3" y="694.2" width="4.34" height="4.39" fill="#226dac"/>
<rect x="335.6" y="694.2" width="4.34" height="4.39" fill="#1f68a6"/>
<rect x="339.9" y="694.2" width="4.34" height="4.39" fill="#2978bb"/>
<rect x="344.3" y="694.2" width="4.34" height="4.39" fill="#2774b6"/>
<rect x="348.6" y="694.2" width="4.34" height="4.39" fill="#4b99d0"/>
<rect x="353.0" y="694.2" width="4.34" height="4.39" fill="#3281c3"/>
<rect x="357.3" y="694.2" width="4.34" height="4.39" fill="#2775b7"/>
<rect x="361.6" y="694.2" width="4.34" height="4.39" fill="#2673b5"/>
<rect x="366.0" y="694.2" width="4.34" height="4.39" fill="#3887c6"/>
<rect x="370.3" y="694.2" width="4.34" height="4.39" fill="#2876b9"/>
<rect x="374.7" y="694.2" width="4.34" height="4.39" fill="#2a79bc"/>
<rect x="379.0" y="694.2" width="4.34" height="4.39" fill="#7fc1e1"/>
<rect x="383.3" y="694.2" width="4.34" height="4.39" fill="#3181c3"/>
<rect x="387.7" y="694.2" width="4.34" height="4.39" fill="#3181c3"/>
<rect x="53.5" y="698.6" width="4.34" height="4.39" fill="#2c7cc0"/>
<rect x="57.8" y="698.6" width="4.34" height="4.39" fill="#3d8cc9"/>
<rect x="62.2" y="698.6" width="4.34" height="4.39" fill="#4392cc"/>
<rect x="66.5" y="698.6" width="4.34" height="4.39" fill="#226dad"/>
<rect x="70.9" y="698.6" width="4.34" height="4.39" fill="#56a2d4"/>
<rect x="75.2" y="698.6" width="4.34" height="4.39" fill="#2c7cc0"/>
<rect x="79.5" y="698.6" width="4.34" height="4.39" fill="#3d8cc8"/>
<rect x="83.9" y="698.6" width="4.34" height="4.39" fill="#2775b7"/>
<rect x="88.2" y="698.6" width="4.34" height="4.39" fill="#307fc2"/>
<rect x="92.6" y="698.6" width="4.34" height="4.39" fill="#2e7ec1"/>
<rect x="96.9" y="698.6" width="4.34" height="4.39" fill="#2d7dc0"/>
<rect x="101.2" y="698.6" width="4.34" height="4.39" fill="#3787c6"/>
<rect x="105.6" y="698.6" width="4.34" height="4.39" fill="#3484c4"/>
<rect x="109.9" y="698.6" width="4.34" height="4.39" fill="#2673b4"/>
<rect x="114.3" y="698.6" width="4.34" height="4.39" fill="#2b7abe"/>
<rect x="118.6" y="698.6" width="4.34" height="4.39" fill="#3685c5"/>
<rect x="122.9" y="698.6" width="4.34" height="4.39" fill="#3585c5"/>
<rect x="127.3" y="698.6" width="4.34" height="4.39" fill="#2a79bc"/>
<rect x="131.6" y="698.6" width="4.34" height="4.39" fill="#2a79bc"/>
<rect x="136.0" y="698.6" width="4.34" height="4.39" fill="#2b7abe"/>
<rect x="140.3" y="698.6" width="4.34" height="4.39" fill="#2672b3"/>
<rect x="144.6" y="698.6" width="4.34" height="4.39" fill="#2571b1"/>
<rect x="149.0" y="698.6" width="4.34" height="4.39" fill="#4391cb"/>
<rect x="153.3" y="698.6" width="4.34" height="4.39" fill="#2a78bb"/>
<rect x="157.7" y="698.6" width="4.34" height="4.39" fill="#2d7dc1"/>
<rect x="162.0" y="698.6" width="4.34" height="4.39" fill="#2875b8"/>
<rect x="166.3" y="698.6" width="4.34" height="4.39" fill="#3f8ec9"/>
<rect x="170.7" y="698.6" width="4.34" height="4.39" fill="#4594cd"/>
<rect x="175.0" y="698.6" width="4.34" height="4.39" fill="#2b7abd"/>
<rect x="179.4" y="698.6" width="4.34" height="4.39" fill="#3383c4"/>
<rect x="183.7" y="698.6" width="4.34" height="4.39" fill="#2876b8"/>
<rect x="188.0" y="698.6" width="4.34" height="4.39" fill="#4694cd"/>
<rect x="192.4" y="698.6" width="4.34" height="4.39" fill="#3a89c7"/>
<rect x="196.7" y="698.6" width="4.34" height="4.39" fill="#2775b7"/>
<rect x="201.1" y="698.6" width="4.34" height="4.39" fill="#3e8dc9"/>
<rect x="205.4" y="698.6" width="4.34" height="4.39" fill="#3181c3"/>
<rect x="209.7" y="698.6" width="4.34" height="4.39" fill="#3282c3"/>
<rect x="214.1" y="698.6" width="4.34" height="4.39" fill="#3181c3"/>
<rect x="218.4" y="698.6" width="4.34" height="4.39" fill="#2876b9"/>
<rect x="222.8" y="698.6" width="4.34" height="4.39" fill="#2978ba"/>
<rect x="227.1" y="698.6" width="4.34" height="4.39" fill="#3585c5"/>
<rect x="231.4" y="698.6" width="4.34" height="4.39" fill="#2c7cc0"/>
<rect x="235.8" y="698.6" width="4.34" height="4.39" fill="#2774b6"/>
<rect x="240.1" y="698.6" width="4.34" height="4.39" fill="#4a98cf"/>
<rect x="244.5" y="698.6" width="4.34" height="4.39" fill="#2b7bbe"/>
<rect x="248.8" y="698.6" width="4.34" height="4.39" fill="#2978ba"/>
<rect x="253.1" y="698.6" width="4.34" height="4.39" fill="#2876b9"/>
<rect x="257.5" y="698.6" width="4.34" height="4.39" fill="#3786c5"/>
<rect x="261.8" y="698.6" width="4.34" height="4.39" fill="#3b8ac7"/>
<rect x="266.2" y="698.6" width="4.34" height="4.39" fill="#3080c2"/>
<rect x="270.5" y="698.6" width="4.34" height="4.39" fill="#3a89c7"/>
<rect x="274.8" y="698.6" width="4.34" height="4.39" fill="#2470b0"/>
<rect x="279.2" y="698.6" width="4.34" height="4.39" fill="#2a79bd"/>
<rect x="283.5" y="698.6" width="4.34" height="4.39" fill="#2a79bc"/>
<rect x="287.9" y="698.6" width="4.34" height="4.39" fill="#2d7dc1"/>
<rect x="292.2" y="698.6" width="4.34" height="4.39" fill="#3484c4"/>
<rect x="296.5" y="698.6" width="4.34" height="4.39" fill="#1f68a6"/>
<rect x="300.9" y="698.6" width="4.34" height="4.39" fill="#73b8de"/>
<rect x="305.2" y="698.6" width="4.34" height="4.39" fill="#2673b4"/>
<rect x="309.6" y="698.6" width="4.34" height="4.39" fill="#3080c2"/>
<rect x="313.9" y="698.6" width="4.34" height="4.39" fill="#3887c6"/>
<rect x="318.2" y="698.6" width="4.34" height="4.39" fill="#3887c6"/>
<rect x="322.6" y="698.6" width="4.34" height="4.39" fill="#2e7ec1"/>
<rect x="326.9" y="698.6" width="4.34" height="4.39" fill="#1f68a6"/>
<rect x="331.3" y="698.6" width="4.34" height="4.39" fill="#2571b2"/>
<rect x="335.6" y="698.6" width="4.34" height="4.39" fill="#3686c5"/>
<rect x="339.9" y="698.6" width="4.34" height="4.39" fill="#2876b8"/>
<rect x="344.3" y="698.6" width="4.34" height="4.39" fill="#2774b6"/>
<rect x="348.6" y="698.6" width="4.34" height="4.39" fill="#1f68a6"/>
<rect x="353.0" y="698.6" width="4.34" height="4.39" fill="#4391cb"/>
<rect x="357.3" y="698.6" width="4.34" height="4.39" fill="#3887c6"/>
<rect x="361.6" y="698.6" width="4.34" height="4.39" fill="#2876b8"/>
<rect x="366.0" y="698.6" width="4.34" height="4.39" fill="#2d7dc1"/>
<rect x="370.3" y="698.6" width="4.34" height="4.39" fill="#2e7ec1"/>
<rect x="374.7" y="698.6" width="4.34" height="4.39" fill="#2774b5"/>
<rect x="379.0" y="698.6" width="4.34" height="4.39" fill="#bee3ee"/>
<rect x="383.3" y="698.6" width="4.34" height="4.39" fill="#3383c4"/>
<rect x="387.7" y="698.6" width="4.34" height="4.39" fill="#3887c6"/>
<rect x="53.5" y="703.0" width="4.34" height="4.39" fill="#3f8eca"/>
<rect x="57.8" y="703.0" width="4.34" height="4.39" fill="#2d7dc0"/>
<rect x="62.2" y="703.0" width="4.34" height="4.39" fill="#2a78bb"/>
<rect x="66.5" y="703.0" width="4.34" height="4.39" fill="#3282c3"/>
<rect x="70.9" y="703.0" width="4.34" height="4.39" fill="#2977b9"/>
<rect x="75.2" y="703.0" width="4.34" height="4.39" fill="#2572b2"/>
<rect x="79.5" y="703.0" width="4.34" height="4.39" fill="#3d8cc9"/>
<rect x="83.9" y="703.0" width="4.34" height="4.39" fill="#2a79bc"/>
<rect x="88.2" y="703.0" width="4.34" height="4.39" fill="#2e7ec1"/>
<rect x="92.6" y="703.0" width="4.34" height="4.39" fill="#3685c5"/>
<rect x="96.9" y="703.0" width="4.34" height="4.39" fill="#2673b4"/>
<rect x="101.2" y="703.0" width="4.34" height="4.39" fill="#3685c5"/>
<rect x="105.6" y="703.0" width="4.34" height="4.39" fill="#3382c3"/>
<rect x="109.9" y="703.0" width="4.34" height="4.39" fill="#2c7bbf"/>
<rect x="114.3" y="703.0" width="4.34" height="4.39" fill="#3282c3"/>
<rect x="118.6" y="703.0" width="4.34" height="4.39" fill="#2876b8"/>
<rect x="122.9" y="703.0" width="4.34" height="4.39" fill="#2069a8"/>
<rect x="127.3" y="703.0" width="4.34" height="4.39" fill="#2b7abd"/>
<rect x="131.6" y="703.0" width="4.34" height="4.39" fill="#2774b6"/>
<rect x="136.0" y="703.0" width="4.34" height="4.39" fill="#3988c7"/>
<rect x="140.3" y="703.0" width="4.34" height="4.39" fill="#3080c2"/>
<rect x="144.6" y="703.0" width="4.34" height="4.39" fill="#2978ba"/>
<rect x="149.0" y="703.0" width="4.34" height="4.39" fill="#2d7dc0"/>
<rect x="153.3" y="703.0" width="4.34" height="4.39" fill="#408fca"/>
<rect x="157.7" y="703.0" width="4.34" height="4.39" fill="#3d8cc8"/>
<rect x="162.0" y="703.0" width="4.34" height="4.39" fill="#3281c3"/>
<rect x="166.3" y="703.0" width="4.34" height="4.39" fill="#3382c3"/>
<rect x="170.7" y="703.0" width="4.34" height="4.39" fill="#2b7abd"/>
<rect x="175.0" y="703.0" width="4.34" height="4.39" fill="#2b7bbf"/>
<rect x="179.4" y="703.0" width="4.34" height="4.39" fill="#3584c4"/>
<rect x="183.7" y="703.0" width="4.34" height="4.39" fill="#2b7bbf"/>
<rect x="188.0" y="703.0" width="4.34" height="4.39" fill="#3180c2"/>
<rect x="192.4" y="703.0" width="4.34" height="4.39" fill="#2673b4"/>
<rect x="196.7" y="703.0" width="4.34" height="4.39" fill="#236eae"/>
<rect x="201.1" y="703.0" width="4.34" height="4.39" fill="#236ead"/>
<rect x="205.4" y="703.0" width="4.34" height="4.39" fill="#2a78bb"/>
<rect x="209.7" y="703.0" width="4.34" height="4.39" fill="#408eca"/>
<rect x="214.1" y="703.0" width="4.34" height="4.39" fill="#3e8cc9"/>
<rect x="218.4" y="703.0" width="4.34" height="4.39" fill="#2774b5"/>
<rect x="222.8" y="703.0" width="4.34" height="4.39" fill="#246faf"/>
<rect x="227.1" y="703.0" width="4.34" height="4.39" fill="#3887c6"/>
<rect x="231.4" y="703.0" width="4.34" height="4.39" fill="#3383c4"/>
<rect x="235.8" y="703.0" width="4.34" height="4.39" fill="#2571b1"/>
<rect x="240.1" y="703.0" width="4.34" height="4.39" fill="#3c8bc8"/>
<rect x="244.5" y="703.0" width="4.34" height="4.39" fill="#2f7fc1"/>
<rect x="248.8" y="703.0" width="4.34" height="4.39" fill="#408eca"/>
<rect x="253.1" y="703.0" width="4.34" height="4.39" fill="#3181c3"/>
<rect x="257.5" y="703.0" width="4.34" height="4.39" fill="#3988c7"/>
<rect x="261.8" y="703.0" width="4.34" height="4.39" fill="#3181c2"/>
<rect x="266.2" y="703.0" width="4.34" height="4.39" fill="#2774b6"/>
<rect x="270.5" y="703.0" width="4.34" height="4.39" fill="#2b7abe"/>
<rect x="274.8" y="703.0" width="4.34" height="4.39" fill="#2876b9"/>
<rect x="279.2" y="703.0" width="4.34" height="4.39" fill="#3888c6"/>
<rect x="283.5" y="703.0" width="4.34" height="4.39" fill="#2774b5"/>
<rect x="287.9" y="703.0" width="4.34" height="4.39" fill="#246faf"/>
<rect x="292.2" y="703.0" width="4.34" height="4.39" fill="#3686c5"/>
<rect x="296.5" y="703.0" width="4.34" height="4.39" fill="#3f8dc9"/>
<rect x="300.9" y="703.0" width="4.34" height="4.39" fill="#4392cc"/>
<rect x="305.2" y="703.0" width="4.34" height="4.39" fill="#3e8dc9"/>
<rect x="309.6" y="703.0" width="4.34" height="4.39" fill="#236eae"/>
<rect x="313.9" y="703.0" width="4.34" height="4.39" fill="#2876b8"/>
<rect x="318.2" y="703.0" width="4.34" height="4.39" fill="#2977ba"/>
<rect x="322.6" y="703.0" width="4.34" height="4.39" fill="#2c7cc0"/>
<rect x="326.9" y="703.0" width="4.34" height="4.39" fill="#1f68a6"/>
<rect x="331.3" y="703.0" width="4.34" height="4.39" fill="#2c7cc0"/>
<rect x="335.6" y="703.0" width="4.34" height="4.39" fill="#3180c2"/>
<rect x="339.9" y="703.0" width="4.34" height="4.39" fill="#2775b7"/>
<rect x="344.3" y="703.0" width="4.34" height="4.39" fill="#3180c2"/>
<rect x="348.6" y="703.0" width="4.34" height="4.39" fill="#4291cb"/>
<rect x="353.0" y="703.0" width="4.34" height="4.39" fill="#307fc2"/>
<rect x="357.3" y="703.0" width="4.34" height="4.39" fill="#408fca"/>
<rect x="361.6" y="703.0" width="4.34" height="4.39" fill="#3f8eca"/>
<rect x="366.0" y="703.0" width="4.34" height="4.39" fill="#3585c5"/>
<rect x="370.3" y="703.0" width="4.34" height="4.39" fill="#3584c4"/>
<rect x="374.7" y="703.0" width="4.34" height="4.39" fill="#2b7abe"/>
<rect x="379.0" y="703.0" width="4.34" height="4.39" fill="#b6dfed"/>
<rect x="383.3" y="703.0" width="4.34" height="4.39" fill="#2a79bc"/>
<rect x="387.7" y="703.0" width="4.34" height="4.39" fill="#2977ba"/>
<rect x="53.5" y="707.4" width="4.34" height="4.39" fill="#3786c5"/>
<rect x="57.8" y="707.4" width="4.34" height="4.39" fill="#2876b8"/>
<rect x="62.2" y="707.4" width="4.34" height="4.39" fill="#3282c3"/>
<rect x="66.5" y="707.4" width="4.34" height="4.39" fill="#3c8bc8"/>
<rect x="70.9" y="707.4" width="4.34" height="4.39" fill="#2d7dc1"/>
<rect x="75.2" y="707.4" width="4.34" height="4.39" fill="#2e7ec1"/>
<rect x="79.5" y="707.4" width="4.34" height="4.39" fill="#3a89c7"/>
<rect x="83.9" y="707.4" width="4.34" height="4.39" fill="#3787c6"/>
<rect x="88.2" y="707.4" width="4.34" height="4.39" fill="#246faf"/>
<rect x="92.6" y="707.4" width="4.34" height="4.39" fill="#2571b2"/>
<rect x="96.9" y="707.4" width="4.34" height="4.39" fill="#408eca"/>
<rect x="101.2" y="707.4" width="4.34" height="4.39" fill="#3282c3"/>
<rect x="105.6" y="707.4" width="4.34" height="4.39" fill="#216ba9"/>
<rect x="109.9" y="707.4" width="4.34" height="4.39" fill="#2571b1"/>
<rect x="114.3" y="707.4" width="4.34" height="4.39" fill="#2d7dc0"/>
<rect x="118.6" y="707.4" width="4.34" height="4.39" fill="#2774b5"/>
<rect x="122.9" y="707.4" width="4.34" height="4.39" fill="#3383c4"/>
<rect x="127.3" y="707.4" width="4.34" height="4.39" fill="#2d7dc1"/>
<rect x="131.6" y="707.4" width="4.34" height="4.39" fill="#3383c4"/>
<rect x="136.0" y="707.4" width="4.34" height="4.39" fill="#2672b3"/>
<rect x="140.3" y="707.4" width="4.34" height="4.39" fill="#3585c5"/>
<rect x="144.6" y="707.4" width="4.34" height="4.39" fill="#4997cf"/>
<rect x="149.0" y="707.4" width="4.34" height="4.39" fill="#2875b7"/>
<rect x="153.3" y="707.4" width="4.34" height="4.39" fill="#408eca"/>
<rect x="157.7" y="707.4" width="4.34" height="4.39" fill="#3b8ac7"/>
<rect x="162.0" y="707.4" width="4.34" height="4.39" fill="#3685c5"/>
<rect x="166.3" y="707.4" width="4.34" height="4.39" fill="#2c7cc0"/>
<rect x="170.7" y="707.4" width="4.34" height="4.39" fill="#2672b3"/>
<rect x="175.0" y="707.4" width="4.34" height="4.39" fill="#2775b7"/>
<rect x="179.4" y="707.4" width="4.34" height="4.39" fill="#3887c6"/>
<rect x="183.7" y="707.4" width="4.34" height="4.39" fill="#3b8ac7"/>
<rect x="188.0" y="707.4" width="4.34" height="4.39" fill="#3e8dc9"/>
<rect x="192.4" y="707.4" width="4.34" height="4.39" fill="#3a8ac7"/>
<rect x="196.7" y="707.4" width="4.34" height="4.39" fill="#3a89c7"/>
<rect x="201.1" y="707.4" width="4.34" height="4.39" fill="#2a79bb"/>
<rect x="205.4" y="707.4" width="4.34" height="4.39" fill="#2572b3"/>
<rect x="209.7" y="707.4" width="4.34" height="4.39" fill="#2f7fc2"/>
<rect x="214.1" y="707.4" width="4.34" height="4.39" fill="#3483c4"/>
<rect x="218.4" y="707.4" width="4.34" height="4.39" fill="#2e7ec1"/>
<rect x="222.8" y="707.4" width="4.34" height="4.39" fill="#246fb0"/>
<rect x="227.1" y="707.4" width="4.34" height="4.39" fill="#2978bb"/>
<rect x="231.4" y="707.4" width="4.34" height="4.39" fill="#2470b0"/>
<rect x="235.8" y="707.4" width="4.34" height="4.39" fill="#2e7ec1"/>
<rect x="240.1" y="707.4" width="4.34" height="4.39" fill="#2673b5"/>
<rect x="244.5" y="707.4" width="4.34" height="4.39" fill="#2b7bbe"/>
<rect x="248.8" y="707.4" width="4.34" height="4.39" fill="#3181c3"/>
<rect x="253.1" y="707.4" width="4.34" height="4.39" fill="#2e7ec1"/>
<rect x="257.5" y="707.4" width="4.34" height="4.39" fill="#408fca"/>
<rect x="261.8" y="707.4" width="4.34" height="4.39" fill="#2673b4"/>
<rect x="266.2" y="707.4" width="4.34" height="4.39" fill="#206aa8"/>
<rect x="270.5" y="707.4" width="4.34" height="4.39" fill="#3a89c7"/>
<rect x="274.8" y="707.4" width="4.34" height="4.39" fill="#4190ca"/>
<rect x="279.2" y="707.4" width="4.34" height="4.39" fill="#4190cb"/>
<rect x="283.5" y="707.4" width="4.34" height="4.39" fill="#3180c2"/>
<rect x="287.9" y="707.4" width="4.34" height="4.39" fill="#3484c4"/>
<rect x="292.2" y="707.4" width="4.34" height="4.39" fill="#2e7ec1"/>
<rect x="296.5" y="707.4" width="4.34" height="4.39" fill="#2470b1"/>
<rect x="300.9" y="707.4" width="4.34" height="4.39" fill="#2977b9"/>
<rect x="305.2" y="707.4" width="4.34" height="4.39" fill="#3484c4"/>
<rect x="309.6" y="707.4" width="4.34" height="4.39" fill="#2977b9"/>
<rect x="313.9" y="707.4" width="4.34" height="4.39" fill="#4b99cf"/>
<rect x="318.2" y="707.4" width="4.34" height="4.39" fill="#236eae"/>
<rect x="322.6" y="707.4" width="4.34" height="4.39" fill="#2a78bb"/>
<rect x="326.9" y="707.4" width="4.34" height="4.39" fill="#3e8dc9"/>
<rect x="331.3" y="707.4" width="4.34" height="4.39" fill="#2977b9"/>
<rect x="335.6" y="707.4" width="4.34" height="4.39" fill="#2572b3"/>
<rect x="339.9" y="707.4" width="4.34" height="4.39" fill="#2673b4"/>
<rect x="344.3" y="707.4" width="4.34" height="4.39" fill="#2a79bc"/>
<rect x="348.6" y="707.4" width="4.34" height="4.39" fill="#4a98cf"/>
<rect x="353.0" y="707.4" width="4.34" height="4.39" fill="#3888c6"/>
<rect x="357.3" y="707.4" width="4.34" height="4.39" fill="#3a89c7"/>
<rect x="361.6" y="707.4" width="4.34" height="4.39" fill="#2b7bbe"/>
<rect x="366.0" y="707.4" width="4.34" height="4.39" fill="#3f8eca"/>
<rect x="370.3" y="707.4" width="4.34" height="4.39" fill="#3483c4"/>
<rect x="374.7" y="707.4" width="4.34" height="4.39" fill="#2977b9"/>
<rect x="379.0" y="707.4" width="4.34" height="4.39" fill="#afdcec"/>
<rect x="383.3" y="707.4" width="4.34" height="4.39" fill="#3585c5"/>
<rect x="387.7" y="707.4" width="4.34" height="4.39" fill="#4593cc"/>
<rect x="53.5" y="711.8" width="4.34" height="4.39" fill="#2e7ec1"/>
<rect x="57.8" y="711.8" width="4.34" height="4.39" fill="#3786c5"/>
<rect x="62.2" y="711.8" width="4.34" height="4.39" fill="#4e9cd1"/>
<rect x="66.5" y="711.8" width="4.34" height="4.39" fill="#2977ba"/>
<rect x="70.9" y="711.8" width="4.34" height="4.39" fill="#2673b5"/>
<rect x="75.2" y="711.8" width="4.34" height="4.39" fill="#3e8dc9"/>
<rect x="79.5" y="711.8" width="4.34" height="4.39" fill="#3685c5"/>
<rect x="83.9" y="711.8" width="4.34" height="4.39" fill="#2e7ec1"/>
<rect x="88.2" y="711.8" width="4.34" height="4.39" fill="#3383c4"/>
<rect x="92.6" y="711.8" width="4.34" height="4.39" fill="#2c7bbf"/>
<rect x="96.9" y="711.8" width="4.34" height="4.39" fill="#3787c6"/>
<rect x="101.2" y="711.8" width="4.34" height="4.39" fill="#2c7bbf"/>
<rect x="105.6" y="711.8" width="4.34" height="4.39" fill="#3b8bc8"/>
<rect x="109.9" y="711.8" width="4.34" height="4.39" fill="#2774b6"/>
<rect x="114.3" y="711.8" width="4.34" height="4.39" fill="#2977ba"/>
<rect x="118.6" y="711.8" width="4.34" height="4.39" fill="#3281c3"/>
<rect x="122.9" y="711.8" width="4.34" height="4.39" fill="#2b7abe"/>
<rect x="127.3" y="711.8" width="4.34" height="4.39" fill="#3a89c7"/>
<rect x="131.6" y="711.8" width="4.34" height="4.39" fill="#2f7fc2"/>
<rect x="136.0" y="711.8" width="4.34" height="4.39" fill="#2b7abd"/>
<rect x="140.3" y="711.8" width="4.34" height="4.39" fill="#3383c4"/>
<rect x="144.6" y="711.8" width="4.34" height="4.39" fill="#2b7abd"/>
<rect x="149.0" y="711.8" width="4.34" height="4.39" fill="#2571b2"/>
<rect x="153.3" y="711.8" width="4.34" height="4.39" fill="#2775b7"/>
<rect x="157.7" y="711.8" width="4.34" height="4.39" fill="#2978ba"/>
<rect x="162.0" y="711.8" width="4.34" height="4.39" fill="#2b7bbe"/>
<rect x="166.3" y="711.8" width="4.34" height="4.39" fill="#3282c3"/>
<rect x="170.7" y="711.8" width="4.34" height="4.39" fill="#3e8dc9"/>
<rect x="175.0" y="711.8" width="4.34" height="4.39" fill="#3988c6"/>
<rect x="179.4" y="711.8" width="4.34" height="4.39" fill="#4b99cf"/>
<rect x="183.7" y="711.8" width="4.34" height="4.39" fill="#4392cc"/>
<rect x="188.0" y="711.8" width="4.34" height="4.39" fill="#2e7ec1"/>
<rect x="192.4" y="711.8" width="4.34" height="4.39" fill="#4997cf"/>
<rect x="196.7" y="711.8" width="4.34" height="4.39" fill="#4291cb"/>
<rect x="201.1" y="711.8" width="4.34" height="4.39" fill="#2b7bbf"/>
<rect x="205.4" y="711.8" width="4.34" height="4.39" fill="#3685c5"/>
<rect x="209.7" y="711.8" width="4.34" height="4.39" fill="#4190cb"/>
<rect x="214.1" y="711.8" width="4.34" height="4.39" fill="#3584c4"/>
<rect x="218.4" y="711.8" width="4.34" height="4.39" fill="#408fca"/>
<rect x="222.8" y="711.8" width="4.34" height="4.39" fill="#3786c6"/>
<rect x="227.1" y="711.8" width="4.34" height="4.39" fill="#3c8bc8"/>
<rect x="231.4" y="711.8" width="4.34" height="4.39" fill="#2d7dc0"/>
<rect x="235.8" y="711.8" width="4.34" height="4.39" fill="#3786c5"/>
<rect x="240.1" y="711.8" width="4.34" height="4.39" fill="#2c7cc0"/>
<rect x="244.5" y="711.8" width="4.34" height="4.39" fill="#3b8ac8"/>
<rect x="248.8" y="711.8" width="4.34" height="4.39" fill="#2571b2"/>
<rect x="253.1" y="711.8" width="4.34" height="4.39" fill="#3686c5"/>
<rect x="257.5" y="711.8" width="4.34" height="4.39" fill="#4492cc"/>
<rect x="261.8" y="711.8" width="4.34" height="4.39" fill="#3a89c7"/>
<rect x="266.2" y="711.8" width="4.34" height="4.39" fill="#3181c3"/>
<rect x="270.5" y="711.8" width="4.34" height="4.39" fill="#3a89c7"/>
<rect x="274.8" y="711.8" width="4.34" height="4.39" fill="#2a78bb"/>
<rect x="279.2" y="711.8" width="4.34" height="4.39" fill="#2a78bb"/>
<rect x="283.5" y="711.8" width="4.34" height="4.39" fill="#2d7dc0"/>
<rect x="287.9" y="711.8" width="4.34" height="4.39" fill="#3080c2"/>
<rect x="292.2" y="711.8" width="4.34" height="4.39" fill="#408fca"/>
<rect x="296.5" y="711.8" width="4.34" height="4.39" fill="#2876b8"/>
<rect x="300.9" y="711.8" width="4.34" height="4.39" fill="#3f8eca"/>
<rect x="305.2" y="711.8" width="4.34" height="4.39" fill="#246fb0"/>
<rect x="309.6" y="711.8" width="4.34" height="4.39" fill="#2977b9"/>
<rect x="313.9" y="711.8" width="4.34" height="4.39" fill="#2f7fc1"/>
<rect x="318.2" y="711.8" width="4.34" height="4.39" fill="#4291cb"/>
<rect x="322.6" y="711.8" width="4.34" height="4.39" fill="#2a78bb"/>
<rect x="326.9" y="711.8" width="4.34" height="4.39" fill="#206aa9"/>
<rect x="331.3" y="711.8" width="4.34" height="4.39" fill="#3685c5"/>
<rect x="335.6" y="711.8" width="4.34" height="4.39" fill="#2f7fc1"/>
<rect x="339.9" y="711.8" width="4.34" height="4.39" fill="#2977ba"/>
<rect x="344.3" y="711.8" width="4.34" height="4.39" fill="#2977ba"/>
<rect x="348.6" y="711.8" width="4.34" height="4.39" fill="#2b7bbe"/>
<rect x="353.0" y="711.8" width="4.34" height="4.39" fill="#3686c5"/>
<rect x="357.3" y="711.8" width="4.34" height="4.39" fill="#3f8eca"/>
<rect x="361.6" y="711.8" width="4.34" height="4.39" fill="#2673b5"/>
<rect x="366.0" y="711.8" width="4.34" height="4.39" fill="#6cb3db"/>
<rect x="370.3" y="711.8" width="4.34" height="4.39" fill="#3484c4"/>
<rect x="374.7" y="711.8" width="4.34" height="4.39" fill="#2f7fc1"/>
<rect x="379.0" y="711.8" width="4.34" height="4.39" fill="#bbe1ee"/>
<rect x="383.3" y="711.8" width="4.34" height="4.39" fill="#3686c5"/>
<rect x="387.7" y="711.8" width="4.34" height="4.39" fill="#6eb4dc"/>
<rect x="53.5" y="716.1" width="4.34" height="4.39" fill="#d0ebf1"/>
<rect x="57.8" y="716.1" width="4.34" height="4.39" fill="#94cfe7"/>
<rect x="62.2" y="716.1" width="4.34" height="4.39" fill="#92cee7"/>
<rect x="66.5" y="716.1" width="4.34" height="4.39" fill="#8dcbe6"/>
<rect x="70.9" y="716.1" width="4.34" height="4.39" fill="#92cee7"/>
<rect x="75.2" y="716.1" width="4.34" height="4.39" fill="#b9e1ed"/>
<rect x="79.5" y="716.1" width="4.34" height="4.39" fill="#85c5e3"/>
<rect x="83.9" y="716.1" width="4.34" height="4.39" fill="#d9efec"/>
<rect x="88.2" y="716.1" width="4.34" height="4.39" fill="#98d1e8"/>
<rect x="92.6" y="716.1" width="4.34" height="4.39" fill="#94cfe7"/>
<rect x="96.9" y="716.1" width="4.34" height="4.39" fill="#bfe4ee"/>
<rect x="101.2" y="716.1" width="4.34" height="4.39" fill="#519ed2"/>
<rect x="105.6" y="716.1" width="4.34" height="4.39" fill="#75b9de"/>
<rect x="109.9" y="716.1" width="4.34" height="4.39" fill="#aedbec"/>
<rect x="114.3" y="716.1" width="4.34" height="4.39" fill="#95d0e8"/>
<rect x="118.6" y="716.1" width="4.34" height="4.39" fill="#93cfe7"/>
<rect x="122.9" y="716.1" width="4.34" height="4.39" fill="#a3d6ea"/>
<rect x="127.3" y="716.1" width="4.34" height="4.39" fill="#7cbfe1"/>
<rect x="131.6" y="716.1" width="4.34" height="4.39" fill="#8acae5"/>
<rect x="136.0" y="716.1" width="4.34" height="4.39" fill="#5fa9d7"/>
<rect x="140.3" y="716.1" width="4.34" height="4.39" fill="#80c1e2"/>
<rect x="144.6" y="716.1" width="4.34" height="4.39" fill="#e7f1d8"/>
<rect x="149.0" y="716.1" width="4.34" height="4.39" fill="#a2d5ea"/>
<rect x="153.3" y="716.1" width="4.34" height="4.39" fill="#a9d9eb"/>
<rect x="157.7" y="716.1" width="4.34" height="4.39" fill="#e8f1d7"/>
<rect x="162.0" y="716.1" width="4.34" height="4.39" fill="#e1f0e1"/>
<rect x="166.3" y="716.1" width="4.34" height="4.39" fill="#aedbec"/>
<rect x="170.7" y="716.1" width="4.34" height="4.39" fill="#acdbeb"/>
<rect x="175.0" y="716.1" width="4.34" height="4.39" fill="#bde3ee"/>
<rect x="179.4" y="716.1" width="4.34" height="4.39" fill="#a2d5ea"/>
<rect x="183.7" y="716.1" width="4.34" height="4.39" fill="#d9efec"/>
<rect x="188.0" y="716.1" width="4.34" height="4.39" fill="#ceebf1"/>
<rect x="192.4" y="716.1" width="4.34" height="4.39" fill="#ceebf1"/>
<rect x="196.7" y="716.1" width="4.34" height="4.39" fill="#def0e5"/>
<rect x="201.1" y="716.1" width="4.34" height="4.39" fill="#ddefe6"/>
<rect x="205.4" y="716.1" width="4.34" height="4.39" fill="#f3f3c7"/>
<rect x="209.7" y="716.1" width="4.34" height="4.39" fill="#edf2d0"/>
<rect x="214.1" y="716.1" width="4.34" height="4.39" fill="#86c7e4"/>
<rect x="218.4" y="716.1" width="4.34" height="4.39" fill="#e1f0e1"/>
<rect x="222.8" y="716.1" width="4.34" height="4.39" fill="#9ed4e9"/>
<rect x="227.1" y="716.1" width="4.34" height="4.39" fill="#92cee7"/>
<rect x="231.4" y="716.1" width="4.34" height="4.39" fill="#def0e5"/>
<rect x="235.8" y="716.1" width="4.34" height="4.39" fill="#78bcdf"/>
<rect x="240.1" y="716.1" width="4.34" height="4.39" fill="#86c6e4"/>
<rect x="244.5" y="716.1" width="4.34" height="4.39" fill="#bde2ee"/>
<rect x="248.8" y="716.1" width="4.34" height="4.39" fill="#7abde0"/>
<rect x="253.1" y="716.1" width="4.34" height="4.39" fill="#72b7dd"/>
<rect x="257.5" y="716.1" width="4.34" height="4.39" fill="#a0d4e9"/>
<rect x="261.8" y="716.1" width="4.34" height="4.39" fill="#c4e6ef"/>
<rect x="266.2" y="716.1" width="4.34" height="4.39" fill="#a8d9eb"/>
<rect x="270.5" y="716.1" width="4.34" height="4.39" fill="#5ca6d5"/>
<rect x="274.8" y="716.1" width="4.34" height="4.39" fill="#7cbfe0"/>
<rect x="279.2" y="716.1" width="4.34" height="4.39" fill="#8ecce6"/>
<rect x="283.5" y="716.1" width="4.34" height="4.39" fill="#dbefe9"/>
<rect x="287.9" y="716.1" width="4.34" height="4.39" fill="#b8e0ed"/>
<rect x="292.2" y="716.1" width="4.34" height="4.39" fill="#b7e0ed"/>
<rect x="296.5" y="716.1" width="4.34" height="4.39" fill="#55a1d3"/>
<rect x="300.9" y="716.1" width="4.34" height="4.39" fill="#3887c6"/>
<rect x="305.2" y="716.1" width="4.34" height="4.39" fill="#4493cc"/>
<rect x="309.6" y="716.1" width="4.34" height="4.39" fill="#4493cc"/>
<rect x="313.9" y="716.1" width="4.34" height="4.39" fill="#2d7dc0"/>
<rect x="318.2" y="716.1" width="4.34" height="4.39" fill="#3c8bc8"/>
<rect x="322.6" y="716.1" width="4.34" height="4.39" fill="#4694cd"/>
<rect x="326.9" y="716.1" width="4.34" height="4.39" fill="#2c7cc0"/>
<rect x="331.3" y="716.1" width="4.34" height="4.39" fill="#4a98cf"/>
<rect x="335.6" y="716.1" width="4.34" height="4.39" fill="#4997ce"/>
<rect x="339.9" y="716.1" width="4.34" height="4.39" fill="#68b0da"/>
<rect x="344.3" y="716.1" width="4.34" height="4.39" fill="#3b8ac7"/>
<rect x="348.6" y="716.1" width="4.34" height="4.39" fill="#4997ce"/>
<rect x="353.0" y="716.1" width="4.34" height="4.39" fill="#78bcdf"/>
<rect x="357.3" y="716.1" width="4.34" height="4.39" fill="#5fa9d7"/>
<rect x="361.6" y="716.1" width="4.34" height="4.39" fill="#3b8ac7"/>
<rect x="366.0" y="716.1" width="4.34" height="4.39" fill="#4b99cf"/>
<rect x="370.3" y="716.1" width="4.34" height="4.39" fill="#77bbdf"/>
<rect x="374.7" y="716.1" width="4.34" height="4.39" fill="#4694cd"/>
<rect x="379.0" y="716.1" width="4.34" height="4.39" fill="#f5f3c5"/>
<rect x="383.3" y="716.1" width="4.34" height="4.39" fill="#a7d8ea"/>
<rect x="387.7" y="716.1" width="4.34" height="4.39" fill="#4795cd"/>
<rect x="53.5" y="720.5" width="4.34" height="4.39" fill="#c4e6ef"/>
<rect x="57.8" y="720.5" width="4.34" height="4.39" fill="#9ed4e9"/>
<rect x="62.2" y="720.5" width="4.34" height="4.39" fill="#abdaeb"/>
<rect x="66.5" y="720.5" width="4.34" height="4.39" fill="#eaf2d4"/>
<rect x="70.9" y="720.5" width="4.34" height="4.39" fill="#bee3ee"/>
<rect x="75.2" y="720.5" width="4.34" height="4.39" fill="#93cee7"/>
<rect x="79.5" y="720.5" width="4.34" height="4.39" fill="#9cd3e9"/>
<rect x="83.9" y="720.5" width="4.34" height="4.39" fill="#c1e4ef"/>
<rect x="88.2" y="720.5" width="4.34" height="4.39" fill="#d9efec"/>
<rect x="92.6" y="720.5" width="4.34" height="4.39" fill="#a0d5e9"/>
<rect x="96.9" y="720.5" width="4.34" height="4.39" fill="#d7eeef"/>
<rect x="101.2" y="720.5" width="4.34" height="4.39" fill="#a9d9eb"/>
<rect x="105.6" y="720.5" width="4.34" height="4.39" fill="#c9e8f0"/>
<rect x="109.9" y="720.5" width="4.34" height="4.39" fill="#cfebf1"/>
<rect x="114.3" y="720.5" width="4.34" height="4.39" fill="#d1ecf1"/>
<rect x="118.6" y="720.5" width="4.34" height="4.39" fill="#a6d8ea"/>
<rect x="122.9" y="720.5" width="4.34" height="4.39" fill="#b0dcec"/>
<rect x="127.3" y="720.5" width="4.34" height="4.39" fill="#cae9f0"/>
<rect x="131.6" y="720.5" width="4.34" height="4.39" fill="#82c3e3"/>
<rect x="136.0" y="720.5" width="4.34" height="4.39" fill="#bae1ee"/>
<rect x="140.3" y="720.5" width="4.34" height="4.39" fill="#eaf2d4"/>
<rect x="144.6" y="720.5" width="4.34" height="4.39" fill="#f4f3c6"/>
<rect x="149.0" y="720.5" width="4.34" height="4.39" fill="#dff0e4"/>
<rect x="153.3" y="720.5" width="4.34" height="4.39" fill="#dbefe9"/>
<rect x="157.7" y="720.5" width="4.34" height="4.39" fill="#e1f0e1"/>
<rect x="162.0" y="720.5" width="4.34" height="4.39" fill="#cae9f0"/>
<rect x="166.3" y="720.5" width="4.34" height="4.39" fill="#d9efec"/>
<rect x="170.7" y="720.5" width="4.34" height="4.39" fill="#e5f1dc"/>
<rect x="175.0" y="720.5" width="4.34" height="4.39" fill="#e2f0e0"/>
<rect x="179.4" y="720.5" width="4.34" height="4.39" fill="#bae1ee"/>
<rect x="183.7" y="720.5" width="4.34" height="4.39" fill="#d6eef1"/>
<rect x="188.0" y="720.5" width="4.34" height="4.39" fill="#8fcde7"/>
<rect x="192.4" y="720.5" width="4.34" height="4.39" fill="#ecf2d1"/>
<rect x="196.7" y="720.5" width="4.34" height="4.39" fill="#cfebf1"/>
<rect x="201.1" y="720.5" width="4.34" height="4.39" fill="#e1f0e1"/>
<rect x="205.4" y="720.5" width="4.34" height="4.39" fill="#b9e1ed"/>
<rect x="209.7" y="720.5" width="4.34" height="4.39" fill="#dbefe9"/>
<rect x="214.1" y="720.5" width="4.34" height="4.39" fill="#e6f1da"/>
<rect x="218.4" y="720.5" width="4.34" height="4.39" fill="#f0f3cb"/>
<rect x="222.8" y="720.5" width="4.34" height="4.39" fill="#afdcec"/>
<rect x="227.1" y="720.5" width="4.34" height="4.39" fill="#eef2cf"/>
<rect x="231.4" y="720.5" width="4.34" height="4.39" fill="#daefeb"/>
<rect x="235.8" y="720.5" width="4.34" height="4.39" fill="#8dcce6"/>
<rect x="240.1" y="720.5" width="4.34" height="4.39" fill="#c0e4ef"/>
<rect x="244.5" y="720.5" width="4.34" height="4.39" fill="#a1d5e9"/>
<rect x="248.8" y="720.5" width="4.34" height="4.39" fill="#a1d5e9"/>
<rect x="253.1" y="720.5" width="4.34" height="4.39" fill="#91cde7"/>
<rect x="257.5" y="720.5" width="4.34" height="4.39" fill="#b7dfed"/>
<rect x="261.8" y="720.5" width="4.34" height="4.39" fill="#afdcec"/>
<rect x="266.2" y="720.5" width="4.34" height="4.39" fill="#a7d8ea"/>
<rect x="270.5" y="720.5" width="4.34" height="4.39" fill="#89c8e5"/>
<rect x="274.8" y="720.5" width="4.34" height="4.39" fill="#9ad2e8"/>
<rect x="279.2" y="720.5" width="4.34" height="4.39" fill="#bfe3ee"/>
<rect x="283.5" y="720.5" width="4.34" height="4.39" fill="#dbefe9"/>
<rect x="287.9" y="720.5" width="4.34" height="4.39" fill="#aedbec"/>
<rect x="292.2" y="720.5" width="4.34" height="4.39" fill="#def0e5"/>
<rect x="296.5" y="720.5" width="4.34" height="4.39" fill="#3c8bc8"/>
<rect x="300.9" y="720.5" width="4.34" height="4.39" fill="#2b7bbf"/>
<rect x="305.2" y="720.5" width="4.34" height="4.39" fill="#4694cd"/>
<rect x="309.6" y="720.5" width="4.34" height="4.39" fill="#2c7cc0"/>
<rect x="313.9" y="720.5" width="4.34" height="4.39" fill="#4291cb"/>
<rect x="318.2" y="720.5" width="4.34" height="4.39" fill="#4e9bd1"/>
<rect x="322.6" y="720.5" width="4.34" height="4.39" fill="#3786c5"/>
<rect x="326.9" y="720.5" width="4.34" height="4.39" fill="#3a89c7"/>
<rect x="331.3" y="720.5" width="4.34" height="4.39" fill="#84c5e3"/>
<rect x="335.6" y="720.5" width="4.34" height="4.39" fill="#408eca"/>
<rect x="339.9" y="720.5" width="4.34" height="4.39" fill="#4b99cf"/>
<rect x="344.3" y="720.5" width="4.34" height="4.39" fill="#5ca7d6"/>
<rect x="348.6" y="720.5" width="4.34" height="4.39" fill="#4593cc"/>
<rect x="353.0" y="720.5" width="4.34" height="4.39" fill="#4593cc"/>
<rect x="357.3" y="720.5" width="4.34" height="4.39" fill="#4d9bd0"/>
<rect x="361.6" y="720.5" width="4.34" height="4.39" fill="#2875b7"/>
<rect x="366.0" y="720.5" width="4.34" height="4.39" fill="#75b9de"/>
<rect x="370.3" y="720.5" width="4.34" height="4.39" fill="#3585c5"/>
<rect x="374.7" y="720.5" width="4.34" height="4.39" fill="#3585c5"/>
<rect x="379.0" y="720.5" width="4.34" height="4.39" fill="#bbe1ee"/>
<rect x="383.3" y="720.5" width="4.34" height="4.39" fill="#4795cd"/>
<rect x="387.7" y="720.5" width="4.34" height="4.39" fill="#3282c3"/>
<rect x="53.5" y="724.9" width="4.34" height="4.39" fill="#f8f4c0"/>
<rect x="57.8" y="724.9" width="4.34" height="4.39" fill="#ddefe6"/>
<rect x="62.2" y="724.9" width="4.34" height="4.39" fill="#e5f1dc"/>
<rect x="66.5" y="724.9" width="4.34" height="4.39" fill="#d3edf2"/>
<rect x="70.9" y="724.9" width="4.34" height="4.39" fill="#e0f0e3"/>
<rect x="75.2" y="724.9" width="4.34" height="4.39" fill="#f6f4c3"/>
<rect x="79.5" y="724.9" width="4.34" height="4.39" fill="#f0f3cc"/>
<rect x="83.9" y="724.9" width="4.34" height="4.39" fill="#f2f3c8"/>
<rect x="88.2" y="724.9" width="4.34" height="4.39" fill="#f9f2bc"/>
<rect x="92.6" y="724.9" width="4.34" height="4.39" fill="#e9f1d5"/>
<rect x="96.9" y="724.9" width="4.34" height="4.39" fill="#dcefe8"/>
<rect x="101.2" y="724.9" width="4.34" height="4.39" fill="#e2f0df"/>
<rect x="105.6" y="724.9" width="4.34" height="4.39" fill="#faedb3"/>
<rect x="109.9" y="724.9" width="4.34" height="4.39" fill="#e6f1d9"/>
<rect x="114.3" y="724.9" width="4.34" height="4.39" fill="#ebf2d3"/>
<rect x="118.6" y="724.9" width="4.34" height="4.39" fill="#e1f0e0"/>
<rect x="122.9" y="724.9" width="4.34" height="4.39" fill="#e7f1d8"/>
<rect x="127.3" y="724.9" width="4.34" height="4.39" fill="#e9f1d5"/>
<rect x="131.6" y="724.9" width="4.34" height="4.39" fill="#e0f0e3"/>
<rect x="136.0" y="724.9" width="4.34" height="4.39" fill="#dcefe8"/>
<rect x="140.3" y="724.9" width="4.34" height="4.39" fill="#ebf2d3"/>
<rect x="144.6" y="724.9" width="4.34" height="4.39" fill="#e8f1d6"/>
<rect x="149.0" y="724.9" width="4.34" height="4.39" fill="#f9f1b9"/>
<rect x="153.3" y="724.9" width="4.34" height="4.39" fill="#faeeb4"/>
<rect x="157.7" y="724.9" width="4.34" height="4.39" fill="#faedb2"/>
<rect x="162.0" y="724.9" width="4.34" height="4.39" fill="#f5f3c4"/>
<rect x="166.3" y="724.9" width="4.34" height="4.39" fill="#e3f0de"/>
<rect x="170.7" y="724.9" width="4.34" height="4.39" fill="#f9f1bb"/>
<rect x="175.0" y="724.9" width="4.34" height="4.39" fill="#f9f2bc"/>
<rect x="179.4" y="724.9" width="4.34" height="4.39" fill="#bde2ee"/>
<rect x="183.7" y="724.9" width="4.34" height="4.39" fill="#f6f4c3"/>
<rect x="188.0" y="724.9" width="4.34" height="4.39" fill="#f2f3c9"/>
<rect x="192.4" y="724.9" width="4.34" height="4.39" fill="#faedb3"/>
<rect x="196.7" y="724.9" width="4.34" height="4.39" fill="#cdeaf1"/>
<rect x="201.1" y="724.9" width="4.34" height="4.39" fill="#c7e7f0"/>
<rect x="205.4" y="724.9" width="4.34" height="4.39" fill="#f6f4c3"/>
<rect x="209.7" y="724.9" width="4.34" height="4.39" fill="#b3deec"/>
<rect x="214.1" y="724.9" width="4.34" height="4.39" fill="#d9efec"/>
<rect x="218.4" y="724.9" width="4.34" height="4.39" fill="#d0ebf1"/>
<rect x="222.8" y="724.9" width="4.34" height="4.39" fill="#d3edf2"/>
<rect x="227.1" y="724.9" width="4.34" height="4.39" fill="#b0dcec"/>
<rect x="231.4" y="724.9" width="4.34" height="4.39" fill="#e3f0de"/>
<rect x="235.8" y="724.9" width="4.34" height="4.39" fill="#dff0e4"/>
<rect x="240.1" y="724.9" width="4.34" height="4.39" fill="#d4eef2"/>
<rect x="244.5" y="724.9" width="4.34" height="4.39" fill="#d5eef2"/>
<rect x="248.8" y="724.9" width="4.34" height="4.39" fill="#b5dfed"/>
<rect x="253.1" y="724.9" width="4.34" height="4.39" fill="#e8f1d6"/>
<rect x="257.5" y="724.9" width="4.34" height="4.39" fill="#d7eeef"/>
<rect x="261.8" y="724.9" width="4.34" height="4.39" fill="#e1f0e1"/>
<rect x="266.2" y="724.9" width="4.34" height="4.39" fill="#87c7e4"/>
<rect x="270.5" y="724.9" width="4.34" height="4.39" fill="#d2edf2"/>
<rect x="274.8" y="724.9" width="4.34" height="4.39" fill="#97d0e8"/>
<rect x="279.2" y="724.9" width="4.34" height="4.39" fill="#d3edf2"/>
<rect x="283.5" y="724.9" width="4.34" height="4.39" fill="#cdeaf1"/>
<rect x="287.9" y="724.9" width="4.34" height="4.39" fill="#99d1e8"/>
<rect x="292.2" y="724.9" width="4.34" height="4.39" fill="#cdeaf1"/>
<rect x="296.5" y="724.9" width="4.34" height="4.39" fill="#6bb2db"/>
<rect x="300.9" y="724.9" width="4.34" height="4.39" fill="#529fd2"/>
<rect x="305.2" y="724.9" width="4.34" height="4.39" fill="#56a1d3"/>
<rect x="309.6" y="724.9" width="4.34" height="4.39" fill="#3988c6"/>
<rect x="313.9" y="724.9" width="4.34" height="4.39" fill="#3c8bc8"/>
<rect x="318.2" y="724.9" width="4.34" height="4.39" fill="#3584c4"/>
<rect x="322.6" y="724.9" width="4.34" height="4.39" fill="#4997ce"/>
<rect x="326.9" y="724.9" width="4.34" height="4.39" fill="#6db3db"/>
<rect x="331.3" y="724.9" width="4.34" height="4.39" fill="#509dd1"/>
<rect x="335.6" y="724.9" width="4.34" height="4.39" fill="#4795cd"/>
<rect x="339.9" y="724.9" width="4.34" height="4.39" fill="#3a89c7"/>
<rect x="344.3" y="724.9" width="4.34" height="4.39" fill="#5da7d6"/>
<rect x="348.6" y="724.9" width="4.34" height="4.39" fill="#4896ce"/>
<rect x="353.0" y="724.9" width="4.34" height="4.39" fill="#2e7ec1"/>
<rect x="357.3" y="724.9" width="4.34" height="4.39" fill="#3080c2"/>
<rect x="361.6" y="724.9" width="4.34" height="4.39" fill="#4795cd"/>
<rect x="366.0" y="724.9" width="4.34" height="4.39" fill="#3e8dc9"/>
<rect x="370.3" y="724.9" width="4.34" height="4.39" fill="#8bcae6"/>
<rect x="374.7" y="724.9" width="4.34" height="4.39" fill="#4d9bd0"/>
<rect x="379.0" y="724.9" width="4.34" height="4.39" fill="#c5e6ef"/>
<rect x="383.3" y="724.9" width="4.34" height="4.39" fill="#4493cc"/>
<rect x="387.7" y="724.9" width="4.34" height="4.39" fill="#89c9e5"/>
<rect x="53.5" y="729.3" width="4.34" height="4.39" fill="#f4f3c6"/>
<rect x="57.8" y="729.3" width="4.34" height="4.39" fill="#fce7a6"/>
<rect x="62.2" y="729.3" width="4.34" height="4.39" fill="#fbeaad"/>
<rect x="66.5" y="729.3" width="4.34" height="4.39" fill="#fddf9b"/>
<rect x="70.9" y="729.3" width="4.34" height="4.39" fill="#fbeaac"/>
<rect x="75.2" y="729.3" width="4.34" height="4.39" fill="#f8f3bd"/>
<rect x="79.5" y="729.3" width="4.34" height="4.39" fill="#fbebad"/>
<rect x="83.9" y="729.3" width="4.34" height="4.39" fill="#faefb6"/>
<rect x="88.2" y="729.3" width="4.34" height="4.39" fill="#fce7a7"/>
<rect x="92.6" y="729.3" width="4.34" height="4.39" fill="#f9f1b9"/>
<rect x="96.9" y="729.3" width="4.34" height="4.39" fill="#fdda95"/>
<rect x="101.2" y="729.3" width="4.34" height="4.39" fill="#f9f2bb"/>
<rect x="105.6" y="729.3" width="4.34" height="4.39" fill="#faedb2"/>
<rect x="109.9" y="729.3" width="4.34" height="4.39" fill="#f1f3c9"/>
<rect x="114.3" y="729.3" width="4.34" height="4.39" fill="#f9f0b9"/>
<rect x="118.6" y="729.3" width="4.34" height="4.39" fill="#f9f2bb"/>
<rect x="122.9" y="729.3" width="4.34" height="4.39" fill="#f9f1b9"/>
<rect x="127.3" y="729.3" width="4.34" height="4.39" fill="#fbeaad"/>
<rect x="131.6" y="729.3" width="4.34" height="4.39" fill="#f1f3ca"/>
<rect x="136.0" y="729.3" width="4.34" height="4.39" fill="#eaf2d4"/>
<rect x="140.3" y="729.3" width="4.34" height="4.39" fill="#fbeaab"/>
<rect x="144.6" y="729.3" width="4.34" height="4.39" fill="#f4f3c6"/>
<rect x="149.0" y="729.3" width="4.34" height="4.39" fill="#ecf2d2"/>
<rect x="153.3" y="729.3" width="4.34" height="4.39" fill="#fbeaac"/>
<rect x="157.7" y="729.3" width="4.34" height="4.39" fill="#faeeb3"/>
<rect x="162.0" y="729.3" width="4.34" height="4.39" fill="#b1ddec"/>
<rect x="166.3" y="729.3" width="4.34" height="4.39" fill="#eff2cd"/>
<rect x="170.7" y="729.3" width="4.34" height="4.39" fill="#faeeb5"/>
<rect x="175.0" y="729.3" width="4.34" height="4.39" fill="#faeeb4"/>
<rect x="179.4" y="729.3" width="4.34" height="4.39" fill="#d0ebf1"/>
<rect x="183.7" y="729.3" width="4.34" height="4.39" fill="#f8f3be"/>
<rect x="188.0" y="729.3" width="4.34" height="4.39" fill="#c5e6ef"/>
<rect x="192.4" y="729.3" width="4.34" height="4.39" fill="#d8efee"/>
<rect x="196.7" y="729.3" width="4.34" height="4.39" fill="#dff0e4"/>
<rect x="201.1" y="729.3" width="4.34" height="4.39" fill="#dcefe8"/>
<rect x="205.4" y="729.3" width="4.34" height="4.39" fill="#ecf2d1"/>
<rect x="209.7" y="729.3" width="4.34" height="4.39" fill="#f0f3cc"/>
<rect x="214.1" y="729.3" width="4.34" height="4.39" fill="#dcefe9"/>
<rect x="218.4" y="729.3" width="4.34" height="4.39" fill="#f7f4c1"/>
<rect x="222.8" y="729.3" width="4.34" height="4.39" fill="#c9e8f0"/>
<rect x="227.1" y="729.3" width="4.34" height="4.39" fill="#d8efed"/>
<rect x="231.4" y="729.3" width="4.34" height="4.39" fill="#f9f2bb"/>
<rect x="235.8" y="729.3" width="4.34" height="4.39" fill="#def0e5"/>
<rect x="240.1" y="729.3" width="4.34" height="4.39" fill="#f1f3ca"/>
<rect x="244.5" y="729.3" width="4.34" height="4.39" fill="#d3edf2"/>
<rect x="248.8" y="729.3" width="4.34" height="4.39" fill="#d7eeef"/>
<rect x="253.1" y="729.3" width="4.34" height="4.39" fill="#daefea"/>
<rect x="257.5" y="729.3" width="4.34" height="4.39" fill="#e0f0e3"/>
<rect x="261.8" y="729.3" width="4.34" height="4.39" fill="#d6eef0"/>
<rect x="266.2" y="729.3" width="4.34" height="4.39" fill="#ddefe7"/>
<rect x="270.5" y="729.3" width="4.34" height="4.39" fill="#e9f1d5"/>
<rect x="274.8" y="729.3" width="4.34" height="4.39" fill="#f4f3c6"/>
<rect x="279.2" y="729.3" width="4.34" height="4.39" fill="#dff0e4"/>
<rect x="283.5" y="729.3" width="4.34" height="4.39" fill="#e9f1d5"/>
<rect x="287.9" y="729.3" width="4.34" height="4.39" fill="#eef2ce"/>
<rect x="292.2" y="729.3" width="4.34" height="4.39" fill="#bae1ee"/>
<rect x="296.5" y="729.3" width="4.34" height="4.39" fill="#2e7ec1"/>
<rect x="300.9" y="729.3" width="4.34" height="4.39" fill="#7ec0e1"/>
<rect x="305.2" y="729.3" width="4.34" height="4.39" fill="#73b8dd"/>
<rect x="309.6" y="729.3" width="4.34" height="4.39" fill="#4896ce"/>
<rect x="313.9" y="729.3" width="4.34" height="4.39" fill="#4e9bd1"/>
<rect x="318.2" y="729.3" width="4.34" height="4.39" fill="#3887c6"/>
<rect x="322.6" y="729.3" width="4.34" height="4.39" fill="#3181c3"/>
<rect x="326.9" y="729.3" width="4.34" height="4.39" fill="#4d9ad0"/>
<rect x="331.3" y="729.3" width="4.34" height="4.39" fill="#307fc2"/>
<rect x="335.6" y="729.3" width="4.34" height="4.39" fill="#63acd8"/>
<rect x="339.9" y="729.3" width="4.34" height="4.39" fill="#4493cc"/>
<rect x="344.3" y="729.3" width="4.34" height="4.39" fill="#5fa8d6"/>
<rect x="348.6" y="729.3" width="4.34" height="4.39" fill="#a0d5e9"/>
<rect x="353.0" y="729.3" width="4.34" height="4.39" fill="#9ed4e9"/>
<rect x="357.3" y="729.3" width="4.34" height="4.39" fill="#4b99cf"/>
<rect x="361.6" y="729.3" width="4.34" height="4.39" fill="#7cbfe1"/>
<rect x="366.0" y="729.3" width="4.34" height="4.39" fill="#3f8ec9"/>
<rect x="370.3" y="729.3" width="4.34" height="4.39" fill="#4694cd"/>
<rect x="374.7" y="729.3" width="4.34" height="4.39" fill="#62abd7"/>
<rect x="379.0" y="729.3" width="4.34" height="4.39" fill="#a6d7ea"/>
<rect x="383.3" y="729.3" width="4.34" height="4.39" fill="#4694cd"/>
<rect x="387.7" y="729.3" width="4.34" height="4.39" fill="#68b0da"/>
<rect x="53.5" y="733.7" width="4.34" height="4.39" fill="#fbebae"/>
<rect x="57.8" y="733.7" width="4.34" height="4.39" fill="#f1f3c9"/>
<rect x="62.2" y="733.7" width="4.34" height="4.39" fill="#faedb3"/>
<rect x="66.5" y="733.7" width="4.34" height="4.39" fill="#fdda95"/>
<rect x="70.9" y="733.7" width="4.34" height="4.39" fill="#faedb2"/>
<rect x="75.2" y="733.7" width="4.34" height="4.39" fill="#fce8a8"/>
<rect x="79.5" y="733.7" width="4.34" height="4.39" fill="#fde6a3"/>
<rect x="83.9" y="733.7" width="4.34" height="4.39" fill="#f8f3bf"/>
<rect x="88.2" y="733.7" width="4.34" height="4.39" fill="#fde19c"/>
<rect x="92.6" y="733.7" width="4.34" height="4.39" fill="#fddc97"/>
<rect x="96.9" y="733.7" width="4.34" height="4.39" fill="#fddb96"/>
<rect x="101.2" y="733.7" width="4.34" height="4.39" fill="#fde09c"/>
<rect x="105.6" y="733.7" width="4.34" height="4.39" fill="#f9f2bc"/>
<rect x="109.9" y="733.7" width="4.34" height="4.39" fill="#f8f3be"/>
<rect x="114.3" y="733.7" width="4.34" height="4.39" fill="#f6f4c3"/>
<rect x="118.6" y="733.7" width="4.34" height="4.39" fill="#f3f3c7"/>
<rect x="122.9" y="733.7" width="4.34" height="4.39" fill="#f5f3c5"/>
<rect x="127.3" y="733.7" width="4.34" height="4.39" fill="#fce6a4"/>
<rect x="131.6" y="733.7" width="4.34" height="4.39" fill="#fde09c"/>
<rect x="136.0" y="733.7" width="4.34" height="4.39" fill="#f7f4c2"/>
<rect x="140.3" y="733.7" width="4.34" height="4.39" fill="#fce8a8"/>
<rect x="144.6" y="733.7" width="4.34" height="4.39" fill="#eaf2d4"/>
<rect x="149.0" y="733.7" width="4.34" height="4.39" fill="#f8f2bd"/>
<rect x="153.3" y="733.7" width="4.34" height="4.39" fill="#eef2ce"/>
<rect x="157.7" y="733.7" width="4.34" height="4.39" fill="#e2f0e0"/>
<rect x="162.0" y="733.7" width="4.34" height="4.39" fill="#f9f0b7"/>
<rect x="166.3" y="733.7" width="4.34" height="4.39" fill="#f9f0b7"/>
<rect x="170.7" y="733.7" width="4.34" height="4.39" fill="#f8f4c0"/>
<rect x="175.0" y="733.7" width="4.34" height="4.39" fill="#f5f4c4"/>
<rect x="179.4" y="733.7" width="4.34" height="4.39" fill="#d7eeef"/>
<rect x="183.7" y="733.7" width="4.34" height="4.39" fill="#e8f1d7"/>
<rect x="188.0" y="733.7" width="4.34" height="4.39" fill="#def0e4"/>
<rect x="192.4" y="733.7" width="4.34" height="4.39" fill="#eef2ce"/>
<rect x="196.7" y="733.7" width="4.34" height="4.39" fill="#d0ecf1"/>
<rect x="201.1" y="733.7" width="4.34" height="4.39" fill="#eef2ce"/>
<rect x="205.4" y="733.7" width="4.34" height="4.39" fill="#f3f3c7"/>
<rect x="209.7" y="733.7" width="4.34" height="4.39" fill="#f9f0b8"/>
<rect x="214.1" y="733.7" width="4.34" height="4.39" fill="#f9f2bb"/>
<rect x="218.4" y="733.7" width="4.34" height="4.39" fill="#edf2d0"/>
<rect x="222.8" y="733.7" width="4.34" height="4.39" fill="#dcefe8"/>
<rect x="227.1" y="733.7" width="4.34" height="4.39" fill="#b5dfed"/>
<rect x="231.4" y="733.7" width="4.34" height="4.39" fill="#e8f1d6"/>
<rect x="235.8" y="733.7" width="4.34" height="4.39" fill="#faefb5"/>
<rect x="240.1" y="733.7" width="4.34" height="4.39" fill="#faedb1"/>
<rect x="244.5" y="733.7" width="4.34" height="4.39" fill="#97d0e8"/>
<rect x="248.8" y="733.7" width="4.34" height="4.39" fill="#d9efec"/>
<rect x="253.1" y="733.7" width="4.34" height="4.39" fill="#e1f0e1"/>
<rect x="257.5" y="733.7" width="4.34" height="4.39" fill="#d2edf2"/>
<rect x="261.8" y="733.7" width="4.34" height="4.39" fill="#ebf2d2"/>
<rect x="266.2" y="733.7" width="4.34" height="4.39" fill="#e8f1d7"/>
<rect x="270.5" y="733.7" width="4.34" height="4.39" fill="#ddefe6"/>
<rect x="274.8" y="733.7" width="4.34" height="4.39" fill="#e6f1d9"/>
<rect x="279.2" y="733.7" width="4.34" height="4.39" fill="#bbe1ee"/>
<rect x="283.5" y="733.7" width="4.34" height="4.39" fill="#d3edf2"/>
<rect x="287.9" y="733.7" width="4.34" height="4.39" fill="#d6eef1"/>
<rect x="292.2" y="733.7" width="4.34" height="4.39" fill="#f8f4c0"/>
<rect x="296.5" y="733.7" width="4.34" height="4.39" fill="#3282c3"/>
<rect x="300.9" y="733.7" width="4.34" height="4.39" fill="#4997ce"/>
<rect x="305.2" y="733.7" width="4.34" height="4.39" fill="#6ab1da"/>
<rect x="309.6" y="733.7" width="4.34" height="4.39" fill="#4b99d0"/>
<rect x="313.9" y="733.7" width="4.34" height="4.39" fill="#6bb2db"/>
<rect x="318.2" y="733.7" width="4.34" height="4.39" fill="#4290cb"/>
<rect x="322.6" y="733.7" width="4.34" height="4.39" fill="#5da7d6"/>
<rect x="326.9" y="733.7" width="4.34" height="4.39" fill="#6fb5dc"/>
<rect x="331.3" y="733.7" width="4.34" height="4.39" fill="#a5d7ea"/>
<rect x="335.6" y="733.7" width="4.34" height="4.39" fill="#68b0da"/>
<rect x="339.9" y="733.7" width="4.34" height="4.39" fill="#90cde7"/>
<rect x="344.3" y="733.7" width="4.34" height="4.39" fill="#5aa4d5"/>
<rect x="348.6" y="733.7" width="4.34" height="4.39" fill="#5da7d6"/>
<rect x="353.0" y="733.7" width="4.34" height="4.39" fill="#97d0e8"/>
<rect x="357.3" y="733.7" width="4.34" height="4.39" fill="#70b5dc"/>
<rect x="361.6" y="733.7" width="4.34" height="4.39" fill="#90cde7"/>
<rect x="366.0" y="733.7" width="4.34" height="4.39" fill="#74b9de"/>
<rect x="370.3" y="733.7" width="4.34" height="4.39" fill="#afdcec"/>
<rect x="374.7" y="733.7" width="4.34" height="4.39" fill="#bae1ee"/>
<rect x="379.0" y="733.7" width="4.34" height="4.39" fill="#dff0e4"/>
<rect x="383.3" y="733.7" width="4.34" height="4.39" fill="#a4d6ea"/>
<rect x="387.7" y="733.7" width="4.34" height="4.39" fill="#6ab1da"/>
<rect x="53.5" y="738.1" width="4.34" height="4.39" fill="#fce8a7"/>
<rect x="57.8" y="738.1" width="4.34" height="4.39" fill="#faedb2"/>
<rect x="62.2" y="738.1" width="4.34" height="4.39" fill="#fce6a3"/>
<rect x="66.5" y="738.1" width="4.34" height="4.39" fill="#f4f3c6"/>
<rect x="70.9" y="738.1" width="4.34" height="4.39" fill="#f8f3bd"/>
<rect x="75.2" y="738.1" width="4.34" height="4.39" fill="#f8f3be"/>
<rect x="79.5" y="738.1" width="4.34" height="4.39" fill="#fbeaac"/>
<rect x="83.9" y="738.1" width="4.34" height="4.39" fill="#fde4a1"/>
<rect x="88.2" y="738.1" width="4.34" height="4.39" fill="#fce6a4"/>
<rect x="92.6" y="738.1" width="4.34" height="4.39" fill="#fbeaab"/>
<rect x="96.9" y="738.1" width="4.34" height="4.39" fill="#f9f2bc"/>
<rect x="101.2" y="738.1" width="4.34" height="4.39" fill="#e5f1db"/>
<rect x="105.6" y="738.1" width="4.34" height="4.39" fill="#fbeaab"/>
<rect x="109.9" y="738.1" width="4.34" height="4.39" fill="#fbecb0"/>
<rect x="114.3" y="738.1" width="4.34" height="4.39" fill="#fbeaac"/>
<rect x="118.6" y="738.1" width="4.34" height="4.39" fill="#fdde99"/>
<rect x="122.9" y="738.1" width="4.34" height="4.39" fill="#faefb6"/>
<rect x="127.3" y="738.1" width="4.34" height="4.39" fill="#f9efb7"/>
<rect x="131.6" y="738.1" width="4.34" height="4.39" fill="#d9efec"/>
<rect x="136.0" y="738.1" width="4.34" height="4.39" fill="#fbe9aa"/>
<rect x="140.3" y="738.1" width="4.34" height="4.39" fill="#faeeb5"/>
<rect x="144.6" y="738.1" width="4.34" height="4.39" fill="#f7f4c2"/>
<rect x="149.0" y="738.1" width="4.34" height="4.39" fill="#fbebae"/>
<rect x="153.3" y="738.1" width="4.34" height="4.39" fill="#f0f3cb"/>
<rect x="157.7" y="738.1" width="4.34" height="4.39" fill="#f8f3bf"/>
<rect x="162.0" y="738.1" width="4.34" height="4.39" fill="#fdd791"/>
<rect x="166.3" y="738.1" width="4.34" height="4.39" fill="#fce8a8"/>
<rect x="170.7" y="738.1" width="4.34" height="4.39" fill="#fce7a5"/>
<rect x="175.0" y="738.1" width="4.34" height="4.39" fill="#fce8a9"/>
<rect x="179.4" y="738.1" width="4.34" height="4.39" fill="#f9f0b7"/>
<rect x="183.7" y="738.1" width="4.34" height="4.39" fill="#f8f4bf"/>
<rect x="188.0" y="738.1" width="4.34" height="4.39" fill="#fddf9a"/>
<rect x="192.4" y="738.1" width="4.34" height="4.39" fill="#f3f3c7"/>
<rect x="196.7" y="738.1" width="4.34" height="4.39" fill="#faefb6"/>
<rect x="201.1" y="738.1" width="4.34" height="4.39" fill="#f0f3cb"/>
<rect x="205.4" y="738.1" width="4.34" height="4.39" fill="#edf2cf"/>
<rect x="209.7" y="738.1" width="4.34" height="4.39" fill="#b4deed"/>
<rect x="214.1" y="738.1" width="4.34" height="4.39" fill="#c8e8f0"/>
<rect x="218.4" y="738.1" width="4.34" height="4.39" fill="#fce8a9"/>
<rect x="222.8" y="738.1" width="4.34" height="4.39" fill="#fbe9aa"/>
<rect x="227.1" y="738.1" width="4.34" height="4.39" fill="#ebf2d3"/>
<rect x="231.4" y="738.1" width="4.34" height="4.39" fill="#f3f3c8"/>
<rect x="235.8" y="738.1" width="4.34" height="4.39" fill="#f9f1ba"/>
<rect x="240.1" y="738.1" width="4.34" height="4.39" fill="#e0f0e2"/>
<rect x="244.5" y="738.1" width="4.34" height="4.39" fill="#fce7a6"/>
<rect x="248.8" y="738.1" width="4.34" height="4.39" fill="#dff0e4"/>
<rect x="253.1" y="738.1" width="4.34" height="4.39" fill="#e5f1dc"/>
<rect x="257.5" y="738.1" width="4.34" height="4.39" fill="#a3d6ea"/>
<rect x="261.8" y="738.1" width="4.34" height="4.39" fill="#fbe9ab"/>
<rect x="266.2" y="738.1" width="4.34" height="4.39" fill="#f3f3c7"/>
<rect x="270.5" y="738.1" width="4.34" height="4.39" fill="#fce8a9"/>
<rect x="274.8" y="738.1" width="4.34" height="4.39" fill="#dff0e4"/>
<rect x="279.2" y="738.1" width="4.34" height="4.39" fill="#f8f4c0"/>
<rect x="283.5" y="738.1" width="4.34" height="4.39" fill="#f3f3c7"/>
<rect x="287.9" y="738.1" width="4.34" height="4.39" fill="#f5f4c4"/>
<rect x="292.2" y="738.1" width="4.34" height="4.39" fill="#fde5a2"/>
<rect x="296.5" y="738.1" width="4.34" height="4.39" fill="#a7d8ea"/>
<rect x="300.9" y="738.1" width="4.34" height="4.39" fill="#82c3e2"/>
<rect x="305.2" y="738.1" width="4.34" height="4.39" fill="#4694cd"/>
<rect x="309.6" y="738.1" width="4.34" height="4.39" fill="#6fb5dc"/>
<rect x="313.9" y="738.1" width="4.34" height="4.39" fill="#80c2e2"/>
<rect x="318.2" y="738.1" width="4.34" height="4.39" fill="#62abd8"/>
<rect x="322.6" y="738.1" width="4.34" height="4.39" fill="#62abd8"/>
<rect x="326.9" y="738.1" width="4.34" height="4.39" fill="#5fa9d7"/>
<rect x="331.3" y="738.1" width="4.34" height="4.39" fill="#3e8dc9"/>
<rect x="335.6" y="738.1" width="4.34" height="4.39" fill="#56a2d3"/>
<rect x="339.9" y="738.1" width="4.34" height="4.39" fill="#e2f0df"/>
<rect x="344.3" y="738.1" width="4.34" height="4.39" fill="#d8eeee"/>
<rect x="348.6" y="738.1" width="4.34" height="4.39" fill="#ceebf1"/>
<rect x="353.0" y="738.1" width="4.34" height="4.39" fill="#eaf2d3"/>
<rect x="357.3" y="738.1" width="4.34" height="4.39" fill="#edf2cf"/>
<rect x="361.6" y="738.1" width="4.34" height="4.39" fill="#c4e6ef"/>
<rect x="366.0" y="738.1" width="4.34" height="4.39" fill="#d9efec"/>
<rect x="370.3" y="738.1" width="4.34" height="4.39" fill="#ecf2d1"/>
<rect x="374.7" y="738.1" width="4.34" height="4.39" fill="#f1f3c9"/>
<rect x="379.0" y="738.1" width="4.34" height="4.39" fill="#cceaf0"/>
<rect x="383.3" y="738.1" width="4.34" height="4.39" fill="#ddefe6"/>
<rect x="387.7" y="738.1" width="4.34" height="4.39" fill="#eff2cd"/>
</g>
<g stroke="#5a5a5a" stroke-width="0.5">
<rect x="53.5" y="635.4" width="4.34" height="4.6" fill="#e3132e"/>
<rect x="53.5" y="640.5" width="4.34" height="4.6" fill="#b493d6"/>
<rect x="57.8" y="635.4" width="4.34" height="4.6" fill="#e3132e"/>
<rect x="57.8" y="640.5" width="4.34" height="4.6" fill="#b493d6"/>
<rect x="62.2" y="635.4" width="4.34" height="4.6" fill="#e3132e"/>
<rect x="62.2" y="640.5" width="4.34" height="4.6" fill="#5db43a"/>
<rect x="66.5" y="635.4" width="4.34" height="4.6" fill="#25288c"/>
<rect x="66.5" y="640.5" width="4.34" height="4.6" fill="#5db43a"/>
<rect x="70.9" y="635.4" width="4.34" height="4.6" fill="#e3132e"/>
<rect x="70.9" y="640.5" width="4.34" height="4.6" fill="#15a3ad"/>
<rect x="75.2" y="635.4" width="4.34" height="4.6" fill="#e3132e"/>
<rect x="75.2" y="640.5" width="4.34" height="4.6" fill="#b493d6"/>
<rect x="79.5" y="635.4" width="4.34" height="4.6" fill="#25288c"/>
<rect x="79.5" y="640.5" width="4.34" height="4.6" fill="#b493d6"/>
<rect x="83.9" y="635.4" width="4.34" height="4.6" fill="#25288c"/>
<rect x="83.9" y="640.5" width="4.34" height="4.6" fill="#b493d6"/>
<rect x="88.2" y="635.4" width="4.34" height="4.6" fill="#e3132e"/>
<rect x="88.2" y="640.5" width="4.34" height="4.6" fill="#5db43a"/>
<rect x="92.6" y="635.4" width="4.34" height="4.6" fill="#e3132e"/>
<rect x="92.6" y="640.5" width="4.34" height="4.6" fill="#b493d6"/>
<rect x="96.9" y="635.4" width="4.34" height="4.6" fill="#e3132e"/>
<rect x="96.9" y="640.5" width="4.34" height="4.6" fill="#b493d6"/>
<rect x="101.2" y="635.4" width="4.34" height="4.6" fill="#25288c"/>
<rect x="101.2" y="640.5" width="4.34" height="4.6" fill="#b493d6"/>
<rect x="105.6" y="635.4" width="4.34" height="4.6" fill="#e3132e"/>
<rect x="105.6" y="640.5" width="4.34" height="4.6" fill="#b493d6"/>
<rect x="109.9" y="635.4" width="4.34" height="4.6" fill="#e3132e"/>
<rect x="109.9" y="640.5" width="4.34" height="4.6" fill="#b493d6"/>
<rect x="114.3" y="635.4" width="4.34" height="4.6" fill="#e3132e"/>
<rect x="114.3" y="640.5" width="4.34" height="4.6" fill="#5db43a"/>
<rect x="118.6" y="635.4" width="4.34" height="4.6" fill="#25288c"/>
<rect x="118.6" y="640.5" width="4.34" height="4.6" fill="#15a3ad"/>
<rect x="122.9" y="635.4" width="4.34" height="4.6" fill="#25288c"/>
<rect x="122.9" y="640.5" width="4.34" height="4.6" fill="#15a3ad"/>
<rect x="127.3" y="635.4" width="4.34" height="4.6" fill="#e3132e"/>
<rect x="127.3" y="640.5" width="4.34" height="4.6" fill="#b493d6"/>
<rect x="131.6" y="635.4" width="4.34" height="4.6" fill="#e3132e"/>
<rect x="131.6" y="640.5" width="4.34" height="4.6" fill="#b493d6"/>
<rect x="136.0" y="635.4" width="4.34" height="4.6" fill="#e3132e"/>
<rect x="136.0" y="640.5" width="4.34" height="4.6" fill="#b493d6"/>
<rect x="140.3" y="635.4" width="4.34" height="4.6" fill="#e3132e"/>
<rect x="140.3" y="640.5" width="4.34" height="4.6" fill="#b493d6"/>
<rect x="144.6" y="635.4" width="4.34" height="4.6" fill="#e3132e"/>
<rect x="144.6" y="640.5" width="4.34" height="4.6" fill="#b493d6"/>
<rect x="149.0" y="635.4" width="4.34" height="4.6" fill="#25288c"/>
<rect x="149.0" y="640.5" width="4.34" height="4.6" fill="#b493d6"/>
<rect x="153.3" y="635.4" width="4.34" height="4.6" fill="#25288c"/>
<rect x="153.3" y="640.5" width="4.34" height="4.6" fill="#5db43a"/>
<rect x="157.7" y="635.4" width="4.34" height="4.6" fill="#e3132e"/>
<rect x="157.7" y="640.5" width="4.34" height="4.6" fill="#5db43a"/>
<rect x="162.0" y="635.4" width="4.34" height="4.6" fill="#e3132e"/>
<rect x="162.0" y="640.5" width="4.34" height="4.6" fill="#15a3ad"/>
<rect x="166.3" y="635.4" width="4.34" height="4.6" fill="#e3132e"/>
<rect x="166.3" y="640.5" width="4.34" height="4.6" fill="#15a3ad"/>
<rect x="170.7" y="635.4" width="4.34" height="4.6" fill="#e3132e"/>
<rect x="170.7" y="640.5" width="4.34" height="4.6" fill="#15a3ad"/>
<rect x="175.0" y="635.4" width="4.34" height="4.6" fill="#e3132e"/>
<rect x="175.0" y="640.5" width="4.34" height="4.6" fill="#15a3ad"/>
<rect x="179.4" y="635.4" width="4.34" height="4.6" fill="#e3132e"/>
<rect x="179.4" y="640.5" width="4.34" height="4.6" fill="#b493d6"/>
<rect x="183.7" y="635.4" width="4.34" height="4.6" fill="#e3132e"/>
<rect x="183.7" y="640.5" width="4.34" height="4.6" fill="#15a3ad"/>
<rect x="188.0" y="635.4" width="4.34" height="4.6" fill="#25288c"/>
<rect x="188.0" y="640.5" width="4.34" height="4.6" fill="#f08068"/>
<rect x="192.4" y="635.4" width="4.34" height="4.6" fill="#25288c"/>
<rect x="192.4" y="640.5" width="4.34" height="4.6" fill="#15a3ad"/>
<rect x="196.7" y="635.4" width="4.34" height="4.6" fill="#e3132e"/>
<rect x="196.7" y="640.5" width="4.34" height="4.6" fill="#b493d6"/>
<rect x="201.1" y="635.4" width="4.34" height="4.6" fill="#25288c"/>
<rect x="201.1" y="640.5" width="4.34" height="4.6" fill="#15a3ad"/>
<rect x="205.4" y="635.4" width="4.34" height="4.6" fill="#25288c"/>
<rect x="205.4" y="640.5" width="4.34" height="4.6" fill="#b493d6"/>
<rect x="209.7" y="635.4" width="4.34" height="4.6" fill="#e3132e"/>
<rect x="209.7" y="640.5" width="4.34" height="4.6" fill="#b493d6"/>
<rect x="214.1" y="635.4" width="4.34" height="4.6" fill="#e3132e"/>
<rect x="214.1" y="640.5" width="4.34" height="4.6" fill="#b493d6"/>
<rect x="218.4" y="635.4" width="4.34" height="4.6" fill="#25288c"/>
<rect x="218.4" y="640.5" width="4.34" height="4.6" fill="#b493d6"/>
<rect x="222.8" y="635.4" width="4.34" height="4.6" fill="#e3132e"/>
<rect x="222.8" y="640.5" width="4.34" height="4.6" fill="#b493d6"/>
<rect x="227.1" y="635.4" width="4.34" height="4.6" fill="#e3132e"/>
<rect x="227.1" y="640.5" width="4.34" height="4.6" fill="#b493d6"/>
<rect x="231.4" y="635.4" width="4.34" height="4.6" fill="#e3132e"/>
<rect x="231.4" y="640.5" width="4.34" height="4.6" fill="#5db43a"/>
<rect x="235.8" y="635.4" width="4.34" height="4.6" fill="#e3132e"/>
<rect x="235.8" y="640.5" width="4.34" height="4.6" fill="#b493d6"/>
<rect x="240.1" y="635.4" width="4.34" height="4.6" fill="#e3132e"/>
<rect x="240.1" y="640.5" width="4.34" height="4.6" fill="#5db43a"/>
<rect x="244.5" y="635.4" width="4.34" height="4.6" fill="#e3132e"/>
<rect x="244.5" y="640.5" width="4.34" height="4.6" fill="#15a3ad"/>
<rect x="248.8" y="635.4" width="4.34" height="4.6" fill="#e3132e"/>
<rect x="248.8" y="640.5" width="4.34" height="4.6" fill="#b493d6"/>
<rect x="253.1" y="635.4" width="4.34" height="4.6" fill="#25288c"/>
<rect x="253.1" y="640.5" width="4.34" height="4.6" fill="#b493d6"/>
<rect x="257.5" y="635.4" width="4.34" height="4.6" fill="#e3132e"/>
<rect x="257.5" y="640.5" width="4.34" height="4.6" fill="#b493d6"/>
<rect x="261.8" y="635.4" width="4.34" height="4.6" fill="#25288c"/>
<rect x="261.8" y="640.5" width="4.34" height="4.6" fill="#15a3ad"/>
<rect x="266.2" y="635.4" width="4.34" height="4.6" fill="#25288c"/>
<rect x="266.2" y="640.5" width="4.34" height="4.6" fill="#15a3ad"/>
<rect x="270.5" y="635.4" width="4.34" height="4.6" fill="#e3132e"/>
<rect x="270.5" y="640.5" width="4.34" height="4.6" fill="#b493d6"/>
<rect x="274.8" y="635.4" width="4.34" height="4.6" fill="#e3132e"/>
<rect x="274.8" y="640.5" width="4.34" height="4.6" fill="#b493d6"/>
<rect x="279.2" y="635.4" width="4.34" height="4.6" fill="#e3132e"/>
<rect x="279.2" y="640.5" width="4.34" height="4.6" fill="#b493d6"/>
<rect x="283.5" y="635.4" width="4.34" height="4.6" fill="#e3132e"/>
<rect x="283.5" y="640.5" width="4.34" height="4.6" fill="#b493d6"/>
<rect x="287.9" y="635.4" width="4.34" height="4.6" fill="#e3132e"/>
<rect x="287.9" y="640.5" width="4.34" height="4.6" fill="#15a3ad"/>
<rect x="292.2" y="635.4" width="4.34" height="4.6" fill="#e3132e"/>
<rect x="292.2" y="640.5" width="4.34" height="4.6" fill="#b493d6"/>
<rect x="296.5" y="635.4" width="4.34" height="4.6" fill="#e3132e"/>
<rect x="296.5" y="640.5" width="4.34" height="4.6" fill="#f08068"/>
<rect x="300.9" y="635.4" width="4.34" height="4.6" fill="#e3132e"/>
<rect x="300.9" y="640.5" width="4.34" height="4.6" fill="#f08068"/>
<rect x="305.2" y="635.4" width="4.34" height="4.6" fill="#e3132e"/>
<rect x="305.2" y="640.5" width="4.34" height="4.6" fill="#f08068"/>
<rect x="309.6" y="635.4" width="4.34" height="4.6" fill="#25288c"/>
<rect x="309.6" y="640.5" width="4.34" height="4.6" fill="#f08068"/>
<rect x="313.9" y="635.4" width="4.34" height="4.6" fill="#e3132e"/>
<rect x="313.9" y="640.5" width="4.34" height="4.6" fill="#f08068"/>
<rect x="318.2" y="635.4" width="4.34" height="4.6" fill="#e3132e"/>
<rect x="318.2" y="640.5" width="4.34" height="4.6" fill="#f08068"/>
<rect x="322.6" y="635.4" width="4.34" height="4.6" fill="#25288c"/>
<rect x="322.6" y="640.5" width="4.34" height="4.6" fill="#b493d6"/>
<rect x="326.9" y="635.4" width="4.34" height="4.6" fill="#e3132e"/>
<rect x="326.9" y="640.5" width="4.34" height="4.6" fill="#b493d6"/>
<rect x="331.3" y="635.4" width="4.34" height="4.6" fill="#e3132e"/>
<rect x="331.3" y="640.5" width="4.34" height="4.6" fill="#b493d6"/>
<rect x="335.6" y="635.4" width="4.34" height="4.6" fill="#25288c"/>
<rect x="335.6" y="640.5" width="4.34" height="4.6" fill="#5db43a"/>
<rect x="339.9" y="635.4" width="4.34" height="4.6" fill="#25288c"/>
<rect x="339.9" y="640.5" width="4.34" height="4.6" fill="#b493d6"/>
<rect x="344.3" y="635.4" width="4.34" height="4.6" fill="#e3132e"/>
<rect x="344.3" y="640.5" width="4.34" height="4.6" fill="#b493d6"/>
<rect x="348.6" y="635.4" width="4.34" height="4.6" fill="#25288c"/>
<rect x="348.6" y="640.5" width="4.34" height="4.6" fill="#5db43a"/>
<rect x="353.0" y="635.4" width="4.34" height="4.6" fill="#e3132e"/>
<rect x="353.0" y="640.5" width="4.34" height="4.6" fill="#b493d6"/>
<rect x="357.3" y="635.4" width="4.34" height="4.6" fill="#e3132e"/>
<rect x="357.3" y="640.5" width="4.34" height="4.6" fill="#15a3ad"/>
<rect x="361.6" y="635.4" width="4.34" height="4.6" fill="#e3132e"/>
<rect x="361.6" y="640.5" width="4.34" height="4.6" fill="#15a3ad"/>
<rect x="366.0" y="635.4" width="4.34" height="4.6" fill="#25288c"/>
<rect x="366.0" y="640.5" width="4.34" height="4.6" fill="#5db43a"/>
<rect x="370.3" y="635.4" width="4.34" height="4.6" fill="#e3132e"/>
<rect x="370.3" y="640.5" width="4.34" height="4.6" fill="#15a3ad"/>
<rect x="374.7" y="635.4" width="4.34" height="4.6" fill="#e3132e"/>
<rect x="374.7" y="640.5" width="4.34" height="4.6" fill="#b493d6"/>
<rect x="379.0" y="635.4" width="4.34" height="4.6" fill="#e3132e"/>
<rect x="379.0" y="640.5" width="4.34" height="4.6" fill="#b493d6"/>
<rect x="383.3" y="635.4" width="4.34" height="4.6" fill="#25288c"/>
<rect x="383.3" y="640.5" width="4.34" height="4.6" fill="#f08068"/>
<rect x="387.7" y="635.4" width="4.34" height="4.6" fill="#e3132e"/>
<rect x="387.7" y="640.5" width="4.34" height="4.6" fill="#b493d6"/>
</g>
<text x="393.00" y="639.30" font-size="4.7" fill="#333">sex</text>
<text x="393.00" y="644.40" font-size="4.7" fill="#333">age group</text>
<text x="393.00" y="649.80" font-size="4.7" fill="#333" font-style="italic">HOXA9</text>
<text x="393.00" y="654.19" font-size="4.7" fill="#333" font-style="italic">HOXA10</text>
<text x="393.00" y="658.58" font-size="4.7" fill="#333" font-style="italic">HOXA5</text>
<text x="393.00" y="662.97" font-size="4.7" fill="#333" font-style="italic">HOXA-AS3</text>
<text x="393.00" y="667.36" font-size="4.7" fill="#333" font-style="italic">HOXA3</text>
<text x="393.00" y="671.75" font-size="4.7" fill="#333" font-style="italic">HOXA6</text>
<text x="393.00" y="676.13" font-size="4.7" fill="#333" font-style="italic">HOXA7</text>
<text x="393.00" y="680.52" font-size="4.7" fill="#333" font-style="italic">HOXB3</text>
<text x="393.00" y="684.91" font-size="4.7" fill="#333" font-style="italic">HOXB4</text>
<text x="393.00" y="689.31" font-size="4.7" fill="#333" font-style="italic">HOXB7</text>
<text x="393.00" y="693.70" font-size="4.7" fill="#333" font-style="italic">HOXB9</text>
<text x="393.00" y="698.09" font-size="4.7" fill="#333" font-style="italic">HOXB-AS1</text>
<text x="393.00" y="702.48" font-size="4.7" fill="#333" font-style="italic">HOXB6</text>
<text x="393.00" y="706.87" font-size="4.7" fill="#333" font-style="italic">HOXB5</text>
<text x="393.00" y="711.25" font-size="4.7" fill="#333" font-style="italic">HOXB8</text>
<text x="393.00" y="715.64" font-size="4.7" fill="#333" font-style="italic">HOXB-AS3</text>
<text x="393.00" y="720.03" font-size="4.7" fill="#333" font-style="italic">HOXB2</text>
<text x="393.00" y="724.42" font-size="4.7" fill="#333" font-style="italic">HOXA11-AS</text>
<text x="393.00" y="728.82" font-size="4.7" fill="#333" font-style="italic">HOXA1</text>
<text x="393.00" y="733.21" font-size="4.7" fill="#333" font-style="italic">HOXA2</text>
<text x="393.00" y="737.60" font-size="4.7" fill="#333" font-style="italic">HOXA4</text>
<text x="393.00" y="741.99" font-size="4.7" fill="#333" font-style="italic">HOXA10-AS</text>
<line x1="60.01" y1="635.30" x2="60.01" y2="632.47" stroke="#6a6a6a" stroke-width="0.7"/>
<line x1="64.35" y1="635.30" x2="64.35" y2="632.47" stroke="#6a6a6a" stroke-width="0.7"/>
<line x1="60.01" y1="632.47" x2="64.35" y2="632.47" stroke="#6a6a6a" stroke-width="0.7"/>
<line x1="55.67" y1="635.30" x2="55.67" y2="631.87" stroke="#6a6a6a" stroke-width="0.7"/>
<line x1="62.18" y1="632.47" x2="62.18" y2="631.87" stroke="#6a6a6a" stroke-width="0.7"/>
<line x1="55.67" y1="631.87" x2="62.18" y2="631.87" stroke="#6a6a6a" stroke-width="0.7"/>
<line x1="73.03" y1="635.30" x2="73.03" y2="632.49" stroke="#6a6a6a" stroke-width="0.7"/>
<line x1="77.37" y1="635.30" x2="77.37" y2="632.49" stroke="#6a6a6a" stroke-width="0.7"/>
<line x1="73.03" y1="632.49" x2="77.37" y2="632.49" stroke="#6a6a6a" stroke-width="0.7"/>
<line x1="68.69" y1="635.30" x2="68.69" y2="631.89" stroke="#6a6a6a" stroke-width="0.7"/>
<line x1="75.20" y1="632.49" x2="75.20" y2="631.89" stroke="#6a6a6a" stroke-width="0.7"/>
<line x1="68.69" y1="631.89" x2="75.20" y2="631.89" stroke="#6a6a6a" stroke-width="0.7"/>
<line x1="58.92" y1="631.87" x2="58.92" y2="631.27" stroke="#6a6a6a" stroke-width="0.7"/>
<line x1="71.94" y1="631.89" x2="71.94" y2="631.27" stroke="#6a6a6a" stroke-width="0.7"/>
<line x1="58.92" y1="631.27" x2="71.94" y2="631.27" stroke="#6a6a6a" stroke-width="0.7"/>
<line x1="81.71" y1="635.30" x2="81.71" y2="632.47" stroke="#6a6a6a" stroke-width="0.7"/>
<line x1="86.05" y1="635.30" x2="86.05" y2="632.47" stroke="#6a6a6a" stroke-width="0.7"/>
<line x1="81.71" y1="632.47" x2="86.05" y2="632.47" stroke="#6a6a6a" stroke-width="0.7"/>
<line x1="94.73" y1="635.30" x2="94.73" y2="632.56" stroke="#6a6a6a" stroke-width="0.7"/>
<line x1="99.07" y1="635.30" x2="99.07" y2="632.56" stroke="#6a6a6a" stroke-width="0.7"/>
<line x1="94.73" y1="632.56" x2="99.07" y2="632.56" stroke="#6a6a6a" stroke-width="0.7"/>
<line x1="90.39" y1="635.30" x2="90.39" y2="631.96" stroke="#6a6a6a" stroke-width="0.7"/>
<line x1="96.90" y1="632.56" x2="96.90" y2="631.96" stroke="#6a6a6a" stroke-width="0.7"/>
<line x1="90.39" y1="631.96" x2="96.90" y2="631.96" stroke="#6a6a6a" stroke-width="0.7"/>
<line x1="83.88" y1="632.47" x2="83.88" y2="631.36" stroke="#6a6a6a" stroke-width="0.7"/>
<line x1="93.64" y1="631.96" x2="93.64" y2="631.36" stroke="#6a6a6a" stroke-width="0.7"/>
<line x1="83.88" y1="631.36" x2="93.64" y2="631.36" stroke="#6a6a6a" stroke-width="0.7"/>
<line x1="65.44" y1="631.27" x2="65.44" y2="630.33" stroke="#6a6a6a" stroke-width="0.7"/>
<line x1="88.76" y1="631.36" x2="88.76" y2="630.33" stroke="#6a6a6a" stroke-width="0.7"/>
<line x1="65.44" y1="630.33" x2="88.76" y2="630.33" stroke="#6a6a6a" stroke-width="0.7"/>
<line x1="107.75" y1="635.30" x2="107.75" y2="632.70" stroke="#6a6a6a" stroke-width="0.7"/>
<line x1="112.09" y1="635.30" x2="112.09" y2="632.70" stroke="#6a6a6a" stroke-width="0.7"/>
<line x1="107.75" y1="632.70" x2="112.09" y2="632.70" stroke="#6a6a6a" stroke-width="0.7"/>
<line x1="103.41" y1="635.30" x2="103.41" y2="632.10" stroke="#6a6a6a" stroke-width="0.7"/>
<line x1="109.92" y1="632.70" x2="109.92" y2="632.10" stroke="#6a6a6a" stroke-width="0.7"/>
<line x1="103.41" y1="632.10" x2="109.92" y2="632.10" stroke="#6a6a6a" stroke-width="0.7"/>
<line x1="125.11" y1="635.30" x2="125.11" y2="632.83" stroke="#6a6a6a" stroke-width="0.7"/>
<line x1="129.45" y1="635.30" x2="129.45" y2="632.83" stroke="#6a6a6a" stroke-width="0.7"/>
<line x1="125.11" y1="632.83" x2="129.45" y2="632.83" stroke="#6a6a6a" stroke-width="0.7"/>
<line x1="120.77" y1="635.30" x2="120.77" y2="632.07" stroke="#6a6a6a" stroke-width="0.7"/>
<line x1="127.28" y1="632.83" x2="127.28" y2="632.07" stroke="#6a6a6a" stroke-width="0.7"/>
<line x1="120.77" y1="632.07" x2="127.28" y2="632.07" stroke="#6a6a6a" stroke-width="0.7"/>
<line x1="116.43" y1="635.30" x2="116.43" y2="631.47" stroke="#6a6a6a" stroke-width="0.7"/>
<line x1="124.03" y1="632.07" x2="124.03" y2="631.47" stroke="#6a6a6a" stroke-width="0.7"/>
<line x1="116.43" y1="631.47" x2="124.03" y2="631.47" stroke="#6a6a6a" stroke-width="0.7"/>
<line x1="106.66" y1="632.10" x2="106.66" y2="630.87" stroke="#6a6a6a" stroke-width="0.7"/>
<line x1="120.23" y1="631.47" x2="120.23" y2="630.87" stroke="#6a6a6a" stroke-width="0.7"/>
<line x1="106.66" y1="630.87" x2="120.23" y2="630.87" stroke="#6a6a6a" stroke-width="0.7"/>
<line x1="133.79" y1="635.30" x2="133.79" y2="633.03" stroke="#6a6a6a" stroke-width="0.7"/>
<line x1="138.13" y1="635.30" x2="138.13" y2="633.03" stroke="#6a6a6a" stroke-width="0.7"/>
<line x1="133.79" y1="633.03" x2="138.13" y2="633.03" stroke="#6a6a6a" stroke-width="0.7"/>
<line x1="142.47" y1="635.30" x2="142.47" y2="632.65" stroke="#6a6a6a" stroke-width="0.7"/>
<line x1="146.81" y1="635.30" x2="146.81" y2="632.65" stroke="#6a6a6a" stroke-width="0.7"/>
<line x1="142.47" y1="632.65" x2="146.81" y2="632.65" stroke="#6a6a6a" stroke-width="0.7"/>
<line x1="135.96" y1="633.03" x2="135.96" y2="631.82" stroke="#6a6a6a" stroke-width="0.7"/>
<line x1="144.64" y1="632.65" x2="144.64" y2="631.82" stroke="#6a6a6a" stroke-width="0.7"/>
<line x1="135.96" y1="631.82" x2="144.64" y2="631.82" stroke="#6a6a6a" stroke-width="0.7"/>
<line x1="113.45" y1="630.87" x2="113.45" y2="630.07" stroke="#6a6a6a" stroke-width="0.7"/>
<line x1="140.30" y1="631.82" x2="140.30" y2="630.07" stroke="#6a6a6a" stroke-width="0.7"/>
<line x1="113.45" y1="630.07" x2="140.30" y2="630.07" stroke="#6a6a6a" stroke-width="0.7"/>
<line x1="77.10" y1="630.33" x2="77.10" y2="628.60" stroke="#6a6a6a" stroke-width="0.7"/>
<line x1="126.87" y1="630.07" x2="126.87" y2="628.60" stroke="#6a6a6a" stroke-width="0.7"/>
<line x1="77.10" y1="628.60" x2="126.87" y2="628.60" stroke="#6a6a6a" stroke-width="0.7"/>
<line x1="151.15" y1="635.30" x2="151.15" y2="632.97" stroke="#6a6a6a" stroke-width="0.7"/>
<line x1="155.49" y1="635.30" x2="155.49" y2="632.97" stroke="#6a6a6a" stroke-width="0.7"/>
<line x1="151.15" y1="632.97" x2="155.49" y2="632.97" stroke="#6a6a6a" stroke-width="0.7"/>
<line x1="164.17" y1="635.30" x2="164.17" y2="633.03" stroke="#6a6a6a" stroke-width="0.7"/>
<line x1="168.51" y1="635.30" x2="168.51" y2="633.03" stroke="#6a6a6a" stroke-width="0.7"/>
<line x1="164.17" y1="633.03" x2="168.51" y2="633.03" stroke="#6a6a6a" stroke-width="0.7"/>
<line x1="159.83" y1="635.30" x2="159.83" y2="631.96" stroke="#6a6a6a" stroke-width="0.7"/>
<line x1="166.34" y1="633.03" x2="166.34" y2="631.96" stroke="#6a6a6a" stroke-width="0.7"/>
<line x1="159.83" y1="631.96" x2="166.34" y2="631.96" stroke="#6a6a6a" stroke-width="0.7"/>
<line x1="153.32" y1="632.97" x2="153.32" y2="631.31" stroke="#6a6a6a" stroke-width="0.7"/>
<line x1="163.08" y1="631.96" x2="163.08" y2="631.31" stroke="#6a6a6a" stroke-width="0.7"/>
<line x1="153.32" y1="631.31" x2="163.08" y2="631.31" stroke="#6a6a6a" stroke-width="0.7"/>
<line x1="177.19" y1="635.30" x2="177.19" y2="632.98" stroke="#6a6a6a" stroke-width="0.7"/>
<line x1="181.53" y1="635.30" x2="181.53" y2="632.98" stroke="#6a6a6a" stroke-width="0.7"/>
<line x1="177.19" y1="632.98" x2="181.53" y2="632.98" stroke="#6a6a6a" stroke-width="0.7"/>
<line x1="172.85" y1="635.30" x2="172.85" y2="632.16" stroke="#6a6a6a" stroke-width="0.7"/>
<line x1="179.36" y1="632.98" x2="179.36" y2="632.16" stroke="#6a6a6a" stroke-width="0.7"/>
<line x1="172.85" y1="632.16" x2="179.36" y2="632.16" stroke="#6a6a6a" stroke-width="0.7"/>
<line x1="185.87" y1="635.30" x2="185.87" y2="633.15" stroke="#6a6a6a" stroke-width="0.7"/>
<line x1="190.21" y1="635.30" x2="190.21" y2="633.15" stroke="#6a6a6a" stroke-width="0.7"/>
<line x1="185.87" y1="633.15" x2="190.21" y2="633.15" stroke="#6a6a6a" stroke-width="0.7"/>
<line x1="176.11" y1="632.16" x2="176.11" y2="631.36" stroke="#6a6a6a" stroke-width="0.7"/>
<line x1="188.04" y1="633.15" x2="188.04" y2="631.36" stroke="#6a6a6a" stroke-width="0.7"/>
<line x1="176.11" y1="631.36" x2="188.04" y2="631.36" stroke="#6a6a6a" stroke-width="0.7"/>
<line x1="194.55" y1="635.30" x2="194.55" y2="633.11" stroke="#6a6a6a" stroke-width="0.7"/>
<line x1="198.89" y1="635.30" x2="198.89" y2="633.11" stroke="#6a6a6a" stroke-width="0.7"/>
<line x1="194.55" y1="633.11" x2="198.89" y2="633.11" stroke="#6a6a6a" stroke-width="0.7"/>
<line x1="207.57" y1="635.30" x2="207.57" y2="632.75" stroke="#6a6a6a" stroke-width="0.7"/>
<line x1="211.91" y1="635.30" x2="211.91" y2="632.75" stroke="#6a6a6a" stroke-width="0.7"/>
<line x1="207.57" y1="632.75" x2="211.91" y2="632.75" stroke="#6a6a6a" stroke-width="0.7"/>
<line x1="203.23" y1="635.30" x2="203.23" y2="632.15" stroke="#6a6a6a" stroke-width="0.7"/>
<line x1="209.74" y1="632.75" x2="209.74" y2="632.15" stroke="#6a6a6a" stroke-width="0.7"/>
<line x1="203.23" y1="632.15" x2="209.74" y2="632.15" stroke="#6a6a6a" stroke-width="0.7"/>
<line x1="196.72" y1="633.11" x2="196.72" y2="631.17" stroke="#6a6a6a" stroke-width="0.7"/>
<line x1="206.49" y1="632.15" x2="206.49" y2="631.17" stroke="#6a6a6a" stroke-width="0.7"/>
<line x1="196.72" y1="631.17" x2="206.49" y2="631.17" stroke="#6a6a6a" stroke-width="0.7"/>
<line x1="182.07" y1="631.36" x2="182.07" y2="630.57" stroke="#6a6a6a" stroke-width="0.7"/>
<line x1="201.60" y1="631.17" x2="201.60" y2="630.57" stroke="#6a6a6a" stroke-width="0.7"/>
<line x1="182.07" y1="630.57" x2="201.60" y2="630.57" stroke="#6a6a6a" stroke-width="0.7"/>
<line x1="158.20" y1="631.31" x2="158.20" y2="629.89" stroke="#6a6a6a" stroke-width="0.7"/>
<line x1="191.84" y1="630.57" x2="191.84" y2="629.89" stroke="#6a6a6a" stroke-width="0.7"/>
<line x1="158.20" y1="629.89" x2="191.84" y2="629.89" stroke="#6a6a6a" stroke-width="0.7"/>
<line x1="216.25" y1="635.30" x2="216.25" y2="633.13" stroke="#6a6a6a" stroke-width="0.7"/>
<line x1="220.59" y1="635.30" x2="220.59" y2="633.13" stroke="#6a6a6a" stroke-width="0.7"/>
<line x1="216.25" y1="633.13" x2="220.59" y2="633.13" stroke="#6a6a6a" stroke-width="0.7"/>
<line x1="229.27" y1="635.30" x2="229.27" y2="633.04" stroke="#6a6a6a" stroke-width="0.7"/>
<line x1="233.61" y1="635.30" x2="233.61" y2="633.04" stroke="#6a6a6a" stroke-width="0.7"/>
<line x1="229.27" y1="633.04" x2="233.61" y2="633.04" stroke="#6a6a6a" stroke-width="0.7"/>
<line x1="224.93" y1="635.30" x2="224.93" y2="632.33" stroke="#6a6a6a" stroke-width="0.7"/>
<line x1="231.44" y1="633.04" x2="231.44" y2="632.33" stroke="#6a6a6a" stroke-width="0.7"/>
<line x1="224.93" y1="632.33" x2="231.44" y2="632.33" stroke="#6a6a6a" stroke-width="0.7"/>
<line x1="218.42" y1="633.13" x2="218.42" y2="631.37" stroke="#6a6a6a" stroke-width="0.7"/>
<line x1="228.19" y1="632.33" x2="228.19" y2="631.37" stroke="#6a6a6a" stroke-width="0.7"/>
<line x1="218.42" y1="631.37" x2="228.19" y2="631.37" stroke="#6a6a6a" stroke-width="0.7"/>
<line x1="242.29" y1="635.30" x2="242.29" y2="632.76" stroke="#6a6a6a" stroke-width="0.7"/>
<line x1="246.63" y1="635.30" x2="246.63" y2="632.76" stroke="#6a6a6a" stroke-width="0.7"/>
<line x1="242.29" y1="632.76" x2="246.63" y2="632.76" stroke="#6a6a6a" stroke-width="0.7"/>
<line x1="237.95" y1="635.30" x2="237.95" y2="632.16" stroke="#6a6a6a" stroke-width="0.7"/>
<line x1="244.46" y1="632.76" x2="244.46" y2="632.16" stroke="#6a6a6a" stroke-width="0.7"/>
<line x1="237.95" y1="632.16" x2="244.46" y2="632.16" stroke="#6a6a6a" stroke-width="0.7"/>
<line x1="223.30" y1="631.37" x2="223.30" y2="630.77" stroke="#6a6a6a" stroke-width="0.7"/>
<line x1="241.20" y1="632.16" x2="241.20" y2="630.77" stroke="#6a6a6a" stroke-width="0.7"/>
<line x1="223.30" y1="630.77" x2="241.20" y2="630.77" stroke="#6a6a6a" stroke-width="0.7"/>
<line x1="250.97" y1="635.30" x2="250.97" y2="632.54" stroke="#6a6a6a" stroke-width="0.7"/>
<line x1="255.31" y1="635.30" x2="255.31" y2="632.54" stroke="#6a6a6a" stroke-width="0.7"/>
<line x1="250.97" y1="632.54" x2="255.31" y2="632.54" stroke="#6a6a6a" stroke-width="0.7"/>
<line x1="263.99" y1="635.30" x2="263.99" y2="632.60" stroke="#6a6a6a" stroke-width="0.7"/>
<line x1="268.33" y1="635.30" x2="268.33" y2="632.60" stroke="#6a6a6a" stroke-width="0.7"/>
<line x1="263.99" y1="632.60" x2="268.33" y2="632.60" stroke="#6a6a6a" stroke-width="0.7"/>
<line x1="259.65" y1="635.30" x2="259.65" y2="632.00" stroke="#6a6a6a" stroke-width="0.7"/>
<line x1="266.16" y1="632.60" x2="266.16" y2="632.00" stroke="#6a6a6a" stroke-width="0.7"/>
<line x1="259.65" y1="632.00" x2="266.16" y2="632.00" stroke="#6a6a6a" stroke-width="0.7"/>
<line x1="253.14" y1="632.54" x2="253.14" y2="631.26" stroke="#6a6a6a" stroke-width="0.7"/>
<line x1="262.90" y1="632.00" x2="262.90" y2="631.26" stroke="#6a6a6a" stroke-width="0.7"/>
<line x1="253.14" y1="631.26" x2="262.90" y2="631.26" stroke="#6a6a6a" stroke-width="0.7"/>
<line x1="272.67" y1="635.30" x2="272.67" y2="632.67" stroke="#6a6a6a" stroke-width="0.7"/>
<line x1="277.01" y1="635.30" x2="277.01" y2="632.67" stroke="#6a6a6a" stroke-width="0.7"/>
<line x1="272.67" y1="632.67" x2="277.01" y2="632.67" stroke="#6a6a6a" stroke-width="0.7"/>
<line x1="290.03" y1="635.30" x2="290.03" y2="632.68" stroke="#6a6a6a" stroke-width="0.7"/>
<line x1="294.37" y1="635.30" x2="294.37" y2="632.68" stroke="#6a6a6a" stroke-width="0.7"/>
<line x1="290.03" y1="632.68" x2="294.37" y2="632.68" stroke="#6a6a6a" stroke-width="0.7"/>
<line x1="285.69" y1="635.30" x2="285.69" y2="632.08" stroke="#6a6a6a" stroke-width="0.7"/>
<line x1="292.20" y1="632.68" x2="292.20" y2="632.08" stroke="#6a6a6a" stroke-width="0.7"/>
<line x1="285.69" y1="632.08" x2="292.20" y2="632.08" stroke="#6a6a6a" stroke-width="0.7"/>
<line x1="281.35" y1="635.30" x2="281.35" y2="631.48" stroke="#6a6a6a" stroke-width="0.7"/>
<line x1="288.94" y1="632.08" x2="288.94" y2="631.48" stroke="#6a6a6a" stroke-width="0.7"/>
<line x1="281.35" y1="631.48" x2="288.94" y2="631.48" stroke="#6a6a6a" stroke-width="0.7"/>
<line x1="274.84" y1="632.67" x2="274.84" y2="630.87" stroke="#6a6a6a" stroke-width="0.7"/>
<line x1="285.15" y1="631.48" x2="285.15" y2="630.87" stroke="#6a6a6a" stroke-width="0.7"/>
<line x1="274.84" y1="630.87" x2="285.15" y2="630.87" stroke="#6a6a6a" stroke-width="0.7"/>
<line x1="258.02" y1="631.26" x2="258.02" y2="629.88" stroke="#6a6a6a" stroke-width="0.7"/>
<line x1="279.99" y1="630.87" x2="279.99" y2="629.88" stroke="#6a6a6a" stroke-width="0.7"/>
<line x1="258.02" y1="629.88" x2="279.99" y2="629.88" stroke="#6a6a6a" stroke-width="0.7"/>
<line x1="232.25" y1="630.77" x2="232.25" y2="629.28" stroke="#6a6a6a" stroke-width="0.7"/>
<line x1="269.01" y1="629.88" x2="269.01" y2="629.28" stroke="#6a6a6a" stroke-width="0.7"/>
<line x1="232.25" y1="629.28" x2="269.01" y2="629.28" stroke="#6a6a6a" stroke-width="0.7"/>
<line x1="175.02" y1="629.89" x2="175.02" y2="628.20" stroke="#6a6a6a" stroke-width="0.7"/>
<line x1="250.63" y1="629.28" x2="250.63" y2="628.20" stroke="#6a6a6a" stroke-width="0.7"/>
<line x1="175.02" y1="628.20" x2="250.63" y2="628.20" stroke="#6a6a6a" stroke-width="0.7"/>
<line x1="101.99" y1="628.60" x2="101.99" y2="627.50" stroke="#6a6a6a" stroke-width="0.7"/>
<line x1="212.83" y1="628.20" x2="212.83" y2="627.50" stroke="#6a6a6a" stroke-width="0.7"/>
<line x1="101.99" y1="627.50" x2="212.83" y2="627.50" stroke="#6a6a6a" stroke-width="0.7"/>
<line x1="298.71" y1="635.30" x2="298.71" y2="632.55" stroke="#6a6a6a" stroke-width="0.7"/>
<line x1="303.05" y1="635.30" x2="303.05" y2="632.55" stroke="#6a6a6a" stroke-width="0.7"/>
<line x1="298.71" y1="632.55" x2="303.05" y2="632.55" stroke="#6a6a6a" stroke-width="0.7"/>
<line x1="307.39" y1="635.30" x2="307.39" y2="632.62" stroke="#6a6a6a" stroke-width="0.7"/>
<line x1="311.73" y1="635.30" x2="311.73" y2="632.62" stroke="#6a6a6a" stroke-width="0.7"/>
<line x1="307.39" y1="632.62" x2="311.73" y2="632.62" stroke="#6a6a6a" stroke-width="0.7"/>
<line x1="316.07" y1="635.30" x2="316.07" y2="632.66" stroke="#6a6a6a" stroke-width="0.7"/>
<line x1="320.41" y1="635.30" x2="320.41" y2="632.66" stroke="#6a6a6a" stroke-width="0.7"/>
<line x1="316.07" y1="632.66" x2="320.41" y2="632.66" stroke="#6a6a6a" stroke-width="0.7"/>
<line x1="309.56" y1="632.62" x2="309.56" y2="632.02" stroke="#6a6a6a" stroke-width="0.7"/>
<line x1="318.24" y1="632.66" x2="318.24" y2="632.02" stroke="#6a6a6a" stroke-width="0.7"/>
<line x1="309.56" y1="632.02" x2="318.24" y2="632.02" stroke="#6a6a6a" stroke-width="0.7"/>
<line x1="300.88" y1="632.55" x2="300.88" y2="631.32" stroke="#6a6a6a" stroke-width="0.7"/>
<line x1="313.90" y1="632.02" x2="313.90" y2="631.32" stroke="#6a6a6a" stroke-width="0.7"/>
<line x1="300.88" y1="631.32" x2="313.90" y2="631.32" stroke="#6a6a6a" stroke-width="0.7"/>
<line x1="324.75" y1="635.30" x2="324.75" y2="632.96" stroke="#6a6a6a" stroke-width="0.7"/>
<line x1="329.09" y1="635.30" x2="329.09" y2="632.96" stroke="#6a6a6a" stroke-width="0.7"/>
<line x1="324.75" y1="632.96" x2="329.09" y2="632.96" stroke="#6a6a6a" stroke-width="0.7"/>
<line x1="333.43" y1="635.30" x2="333.43" y2="632.63" stroke="#6a6a6a" stroke-width="0.7"/>
<line x1="337.77" y1="635.30" x2="337.77" y2="632.63" stroke="#6a6a6a" stroke-width="0.7"/>
<line x1="333.43" y1="632.63" x2="337.77" y2="632.63" stroke="#6a6a6a" stroke-width="0.7"/>
<line x1="326.92" y1="632.96" x2="326.92" y2="632.03" stroke="#6a6a6a" stroke-width="0.7"/>
<line x1="335.60" y1="632.63" x2="335.60" y2="632.03" stroke="#6a6a6a" stroke-width="0.7"/>
<line x1="326.92" y1="632.03" x2="335.60" y2="632.03" stroke="#6a6a6a" stroke-width="0.7"/>
<line x1="307.39" y1="631.32" x2="307.39" y2="630.72" stroke="#6a6a6a" stroke-width="0.7"/>
<line x1="331.26" y1="632.03" x2="331.26" y2="630.72" stroke="#6a6a6a" stroke-width="0.7"/>
<line x1="307.39" y1="630.72" x2="331.26" y2="630.72" stroke="#6a6a6a" stroke-width="0.7"/>
<line x1="342.11" y1="635.30" x2="342.11" y2="633.04" stroke="#6a6a6a" stroke-width="0.7"/>
<line x1="346.45" y1="635.30" x2="346.45" y2="633.04" stroke="#6a6a6a" stroke-width="0.7"/>
<line x1="342.11" y1="633.04" x2="346.45" y2="633.04" stroke="#6a6a6a" stroke-width="0.7"/>
<line x1="350.79" y1="635.30" x2="350.79" y2="632.83" stroke="#6a6a6a" stroke-width="0.7"/>
<line x1="355.13" y1="635.30" x2="355.13" y2="632.83" stroke="#6a6a6a" stroke-width="0.7"/>
<line x1="350.79" y1="632.83" x2="355.13" y2="632.83" stroke="#6a6a6a" stroke-width="0.7"/>
<line x1="363.81" y1="635.30" x2="363.81" y2="632.92" stroke="#6a6a6a" stroke-width="0.7"/>
<line x1="368.15" y1="635.30" x2="368.15" y2="632.92" stroke="#6a6a6a" stroke-width="0.7"/>
<line x1="363.81" y1="632.92" x2="368.15" y2="632.92" stroke="#6a6a6a" stroke-width="0.7"/>
<line x1="359.47" y1="635.30" x2="359.47" y2="632.18" stroke="#6a6a6a" stroke-width="0.7"/>
<line x1="365.98" y1="632.92" x2="365.98" y2="632.18" stroke="#6a6a6a" stroke-width="0.7"/>
<line x1="359.47" y1="632.18" x2="365.98" y2="632.18" stroke="#6a6a6a" stroke-width="0.7"/>
<line x1="352.96" y1="632.83" x2="352.96" y2="631.55" stroke="#6a6a6a" stroke-width="0.7"/>
<line x1="362.73" y1="632.18" x2="362.73" y2="631.55" stroke="#6a6a6a" stroke-width="0.7"/>
<line x1="352.96" y1="631.55" x2="362.73" y2="631.55" stroke="#6a6a6a" stroke-width="0.7"/>
<line x1="344.28" y1="633.04" x2="344.28" y2="630.71" stroke="#6a6a6a" stroke-width="0.7"/>
<line x1="357.84" y1="631.55" x2="357.84" y2="630.71" stroke="#6a6a6a" stroke-width="0.7"/>
<line x1="344.28" y1="630.71" x2="357.84" y2="630.71" stroke="#6a6a6a" stroke-width="0.7"/>
<line x1="376.83" y1="635.30" x2="376.83" y2="633.12" stroke="#6a6a6a" stroke-width="0.7"/>
<line x1="381.17" y1="635.30" x2="381.17" y2="633.12" stroke="#6a6a6a" stroke-width="0.7"/>
<line x1="376.83" y1="633.12" x2="381.17" y2="633.12" stroke="#6a6a6a" stroke-width="0.7"/>
<line x1="385.51" y1="635.30" x2="385.51" y2="632.63" stroke="#6a6a6a" stroke-width="0.7"/>
<line x1="389.85" y1="635.30" x2="389.85" y2="632.63" stroke="#6a6a6a" stroke-width="0.7"/>
<line x1="385.51" y1="632.63" x2="389.85" y2="632.63" stroke="#6a6a6a" stroke-width="0.7"/>
<line x1="379.00" y1="633.12" x2="379.00" y2="631.72" stroke="#6a6a6a" stroke-width="0.7"/>
<line x1="387.68" y1="632.63" x2="387.68" y2="631.72" stroke="#6a6a6a" stroke-width="0.7"/>
<line x1="379.00" y1="631.72" x2="387.68" y2="631.72" stroke="#6a6a6a" stroke-width="0.7"/>
<line x1="372.49" y1="635.30" x2="372.49" y2="631.12" stroke="#6a6a6a" stroke-width="0.7"/>
<line x1="383.34" y1="631.72" x2="383.34" y2="631.12" stroke="#6a6a6a" stroke-width="0.7"/>
<line x1="372.49" y1="631.12" x2="383.34" y2="631.12" stroke="#6a6a6a" stroke-width="0.7"/>
<line x1="351.06" y1="630.71" x2="351.06" y2="628.40" stroke="#6a6a6a" stroke-width="0.7"/>
<line x1="377.91" y1="631.12" x2="377.91" y2="628.40" stroke="#6a6a6a" stroke-width="0.7"/>
<line x1="351.06" y1="628.40" x2="377.91" y2="628.40" stroke="#6a6a6a" stroke-width="0.7"/>
<line x1="319.32" y1="630.72" x2="319.32" y2="625.30" stroke="#6a6a6a" stroke-width="0.7"/>
<line x1="364.49" y1="628.40" x2="364.49" y2="625.30" stroke="#6a6a6a" stroke-width="0.7"/>
<line x1="319.32" y1="625.30" x2="364.49" y2="625.30" stroke="#6a6a6a" stroke-width="0.7"/>
<line x1="157.41" y1="627.50" x2="157.41" y2="619.30" stroke="#6a6a6a" stroke-width="0.7"/>
<line x1="341.91" y1="625.30" x2="341.91" y2="619.30" stroke="#6a6a6a" stroke-width="0.7"/>
<line x1="157.41" y1="619.30" x2="341.91" y2="619.30" stroke="#6a6a6a" stroke-width="0.7"/>
<line x1="53.20" y1="648.10" x2="49.00" y2="648.10" stroke="#6a6a6a" stroke-width="0.7"/>
<line x1="53.20" y1="652.49" x2="49.00" y2="652.49" stroke="#6a6a6a" stroke-width="0.7"/>
<line x1="49.00" y1="648.10" x2="49.00" y2="652.49" stroke="#6a6a6a" stroke-width="0.7"/>
<line x1="53.20" y1="661.26" x2="50.97" y2="661.26" stroke="#6a6a6a" stroke-width="0.7"/>
<line x1="53.20" y1="665.65" x2="50.97" y2="665.65" stroke="#6a6a6a" stroke-width="0.7"/>
<line x1="50.97" y1="661.26" x2="50.97" y2="665.65" stroke="#6a6a6a" stroke-width="0.7"/>
<line x1="53.20" y1="656.88" x2="50.24" y2="656.88" stroke="#6a6a6a" stroke-width="0.7"/>
<line x1="50.97" y1="663.46" x2="50.24" y2="663.46" stroke="#6a6a6a" stroke-width="0.7"/>
<line x1="50.24" y1="656.88" x2="50.24" y2="663.46" stroke="#6a6a6a" stroke-width="0.7"/>
<line x1="53.20" y1="670.04" x2="50.67" y2="670.04" stroke="#6a6a6a" stroke-width="0.7"/>
<line x1="53.20" y1="674.43" x2="50.67" y2="674.43" stroke="#6a6a6a" stroke-width="0.7"/>
<line x1="50.67" y1="670.04" x2="50.67" y2="674.43" stroke="#6a6a6a" stroke-width="0.7"/>
<line x1="50.24" y1="660.17" x2="48.40" y2="660.17" stroke="#6a6a6a" stroke-width="0.7"/>
<line x1="50.67" y1="672.24" x2="48.40" y2="672.24" stroke="#6a6a6a" stroke-width="0.7"/>
<line x1="48.40" y1="660.17" x2="48.40" y2="672.24" stroke="#6a6a6a" stroke-width="0.7"/>
<line x1="49.00" y1="650.29" x2="47.00" y2="650.29" stroke="#6a6a6a" stroke-width="0.7"/>
<line x1="48.40" y1="666.20" x2="47.00" y2="666.20" stroke="#6a6a6a" stroke-width="0.7"/>
<line x1="47.00" y1="650.29" x2="47.00" y2="666.20" stroke="#6a6a6a" stroke-width="0.7"/>
<line x1="53.20" y1="683.21" x2="50.62" y2="683.21" stroke="#6a6a6a" stroke-width="0.7"/>
<line x1="53.20" y1="687.61" x2="50.62" y2="687.61" stroke="#6a6a6a" stroke-width="0.7"/>
<line x1="50.62" y1="683.21" x2="50.62" y2="687.61" stroke="#6a6a6a" stroke-width="0.7"/>
<line x1="53.20" y1="678.82" x2="50.02" y2="678.82" stroke="#6a6a6a" stroke-width="0.7"/>
<line x1="50.62" y1="685.41" x2="50.02" y2="685.41" stroke="#6a6a6a" stroke-width="0.7"/>
<line x1="50.02" y1="678.82" x2="50.02" y2="685.41" stroke="#6a6a6a" stroke-width="0.7"/>
<line x1="53.20" y1="692.00" x2="51.12" y2="692.00" stroke="#6a6a6a" stroke-width="0.7"/>
<line x1="53.20" y1="696.38" x2="51.12" y2="696.38" stroke="#6a6a6a" stroke-width="0.7"/>
<line x1="51.12" y1="692.00" x2="51.12" y2="696.38" stroke="#6a6a6a" stroke-width="0.7"/>
<line x1="50.02" y1="682.12" x2="49.42" y2="682.12" stroke="#6a6a6a" stroke-width="0.7"/>
<line x1="51.12" y1="694.19" x2="49.42" y2="694.19" stroke="#6a6a6a" stroke-width="0.7"/>
<line x1="49.42" y1="682.12" x2="49.42" y2="694.19" stroke="#6a6a6a" stroke-width="0.7"/>
<line x1="53.20" y1="709.55" x2="51.10" y2="709.55" stroke="#6a6a6a" stroke-width="0.7"/>
<line x1="53.20" y1="713.94" x2="51.10" y2="713.94" stroke="#6a6a6a" stroke-width="0.7"/>
<line x1="51.10" y1="709.55" x2="51.10" y2="713.94" stroke="#6a6a6a" stroke-width="0.7"/>
<line x1="53.20" y1="705.16" x2="50.50" y2="705.16" stroke="#6a6a6a" stroke-width="0.7"/>
<line x1="51.10" y1="711.75" x2="50.50" y2="711.75" stroke="#6a6a6a" stroke-width="0.7"/>
<line x1="50.50" y1="705.16" x2="50.50" y2="711.75" stroke="#6a6a6a" stroke-width="0.7"/>
<line x1="53.20" y1="700.77" x2="49.68" y2="700.77" stroke="#6a6a6a" stroke-width="0.7"/>
<line x1="50.50" y1="708.46" x2="49.68" y2="708.46" stroke="#6a6a6a" stroke-width="0.7"/>
<line x1="49.68" y1="700.77" x2="49.68" y2="708.46" stroke="#6a6a6a" stroke-width="0.7"/>
<line x1="49.42" y1="688.15" x2="47.80" y2="688.15" stroke="#6a6a6a" stroke-width="0.7"/>
<line x1="49.68" y1="704.62" x2="47.80" y2="704.62" stroke="#6a6a6a" stroke-width="0.7"/>
<line x1="47.80" y1="688.15" x2="47.80" y2="704.62" stroke="#6a6a6a" stroke-width="0.7"/>
<line x1="53.20" y1="722.72" x2="50.67" y2="722.72" stroke="#6a6a6a" stroke-width="0.7"/>
<line x1="53.20" y1="727.12" x2="50.67" y2="727.12" stroke="#6a6a6a" stroke-width="0.7"/>
<line x1="50.67" y1="722.72" x2="50.67" y2="727.12" stroke="#6a6a6a" stroke-width="0.7"/>
<line x1="53.20" y1="718.33" x2="50.07" y2="718.33" stroke="#6a6a6a" stroke-width="0.7"/>
<line x1="50.67" y1="724.92" x2="50.07" y2="724.92" stroke="#6a6a6a" stroke-width="0.7"/>
<line x1="50.07" y1="718.33" x2="50.07" y2="724.92" stroke="#6a6a6a" stroke-width="0.7"/>
<line x1="53.20" y1="735.89" x2="50.72" y2="735.89" stroke="#6a6a6a" stroke-width="0.7"/>
<line x1="53.20" y1="740.28" x2="50.72" y2="740.28" stroke="#6a6a6a" stroke-width="0.7"/>
<line x1="50.72" y1="735.89" x2="50.72" y2="740.28" stroke="#6a6a6a" stroke-width="0.7"/>
<line x1="53.20" y1="731.50" x2="50.12" y2="731.50" stroke="#6a6a6a" stroke-width="0.7"/>
<line x1="50.72" y1="738.09" x2="50.12" y2="738.09" stroke="#6a6a6a" stroke-width="0.7"/>
<line x1="50.12" y1="731.50" x2="50.12" y2="738.09" stroke="#6a6a6a" stroke-width="0.7"/>
<line x1="50.07" y1="721.63" x2="48.40" y2="721.63" stroke="#6a6a6a" stroke-width="0.7"/>
<line x1="50.12" y1="734.80" x2="48.40" y2="734.80" stroke="#6a6a6a" stroke-width="0.7"/>
<line x1="48.40" y1="721.63" x2="48.40" y2="734.80" stroke="#6a6a6a" stroke-width="0.7"/>
<line x1="47.80" y1="696.38" x2="44.80" y2="696.38" stroke="#6a6a6a" stroke-width="0.7"/>
<line x1="48.40" y1="728.21" x2="44.80" y2="728.21" stroke="#6a6a6a" stroke-width="0.7"/>
<line x1="44.80" y1="696.38" x2="44.80" y2="728.21" stroke="#6a6a6a" stroke-width="0.7"/>
<line x1="47.00" y1="658.25" x2="37.40" y2="658.25" stroke="#6a6a6a" stroke-width="0.7"/>
<line x1="44.80" y1="712.30" x2="37.40" y2="712.30" stroke="#6a6a6a" stroke-width="0.7"/>
<line x1="37.40" y1="658.25" x2="37.40" y2="712.30" stroke="#6a6a6a" stroke-width="0.7"/>
<rect x="427.10" y="677.30" width="3.90" height="1.40" fill="#cf2f28"/>
<rect x="427.10" y="678.39" width="3.90" height="1.40" fill="#d5342a"/>
<rect x="427.10" y="679.49" width="3.90" height="1.40" fill="#db382c"/>
<rect x="427.10" y="680.58" width="3.90" height="1.40" fill="#e13e2f"/>
<rect x="427.10" y="681.68" width="3.90" height="1.40" fill="#e44733"/>
<rect x="427.10" y="682.77" width="3.90" height="1.40" fill="#e75038"/>
<rect x="427.10" y="683.87" width="3.90" height="1.40" fill="#ea593c"/>
<rect x="427.10" y="684.96" width="3.90" height="1.40" fill="#ed6240"/>
<rect x="427.10" y="686.06" width="3.90" height="1.40" fill="#f06b44"/>
<rect x="427.10" y="687.15" width="3.90" height="1.40" fill="#f17349"/>
<rect x="427.10" y="688.25" width="3.90" height="1.40" fill="#f37c4e"/>
<rect x="427.10" y="689.34" width="3.90" height="1.40" fill="#f48453"/>
<rect x="427.10" y="690.44" width="3.90" height="1.40" fill="#f68d58"/>
<rect x="427.10" y="691.53" width="3.90" height="1.40" fill="#f7955d"/>
<rect x="427.10" y="692.63" width="3.90" height="1.40" fill="#f89d62"/>
<rect x="427.10" y="693.72" width="3.90" height="1.40" fill="#f9a567"/>
<rect x="427.10" y="694.82" width="3.90" height="1.40" fill="#faad6d"/>
<rect x="427.10" y="695.91" width="3.90" height="1.40" fill="#fbb572"/>
<rect x="427.10" y="697.01" width="3.90" height="1.40" fill="#fbbd77"/>
<rect x="427.10" y="698.11" width="3.90" height="1.40" fill="#fcc47c"/>
<rect x="427.10" y="699.20" width="3.90" height="1.40" fill="#fcca83"/>
<rect x="427.10" y="700.29" width="3.90" height="1.40" fill="#fcd08a"/>
<rect x="427.10" y="701.39" width="3.90" height="1.40" fill="#fdd690"/>
<rect x="427.10" y="702.49" width="3.90" height="1.40" fill="#fddc97"/>
<rect x="427.10" y="703.58" width="3.90" height="1.40" fill="#fde29e"/>
<rect x="427.10" y="704.67" width="3.90" height="1.40" fill="#fce6a4"/>
<rect x="427.10" y="705.77" width="3.90" height="1.40" fill="#fbe9aa"/>
<rect x="427.10" y="706.87" width="3.90" height="1.40" fill="#fbecb0"/>
<rect x="427.10" y="707.96" width="3.90" height="1.40" fill="#faefb6"/>
<rect x="427.10" y="709.05" width="3.90" height="1.40" fill="#f9f2bb"/>
<rect x="427.10" y="710.15" width="3.90" height="1.40" fill="#f7f4c2"/>
<rect x="427.10" y="711.25" width="3.90" height="1.40" fill="#f0f3cb"/>
<rect x="427.10" y="712.34" width="3.90" height="1.40" fill="#eaf2d5"/>
<rect x="427.10" y="713.43" width="3.90" height="1.40" fill="#e3f0de"/>
<rect x="427.10" y="714.53" width="3.90" height="1.40" fill="#ddefe7"/>
<rect x="427.10" y="715.62" width="3.90" height="1.40" fill="#d6eef0"/>
<rect x="427.10" y="716.72" width="3.90" height="1.40" fill="#cae9f0"/>
<rect x="427.10" y="717.81" width="3.90" height="1.40" fill="#bce2ee"/>
<rect x="427.10" y="718.91" width="3.90" height="1.40" fill="#afdcec"/>
<rect x="427.10" y="720.00" width="3.90" height="1.40" fill="#a1d5ea"/>
<rect x="427.10" y="721.10" width="3.90" height="1.40" fill="#94cfe7"/>
<rect x="427.10" y="722.19" width="3.90" height="1.40" fill="#87c7e4"/>
<rect x="427.10" y="723.29" width="3.90" height="1.40" fill="#7bbee0"/>
<rect x="427.10" y="724.38" width="3.90" height="1.40" fill="#6fb5dc"/>
<rect x="427.10" y="725.48" width="3.90" height="1.40" fill="#64acd8"/>
<rect x="427.10" y="726.57" width="3.90" height="1.40" fill="#58a3d4"/>
<rect x="427.10" y="727.67" width="3.90" height="1.40" fill="#4c9ad0"/>
<rect x="427.10" y="728.76" width="3.90" height="1.40" fill="#4795ce"/>
<rect x="427.10" y="729.86" width="3.90" height="1.40" fill="#4291cb"/>
<rect x="427.10" y="730.96" width="3.90" height="1.40" fill="#3d8cc9"/>
<rect x="427.10" y="732.05" width="3.90" height="1.40" fill="#3887c6"/>
<rect x="427.10" y="733.14" width="3.90" height="1.40" fill="#3383c4"/>
<rect x="427.10" y="734.24" width="3.90" height="1.40" fill="#2e7ec1"/>
<rect x="427.10" y="735.34" width="3.90" height="1.40" fill="#2b7abe"/>
<rect x="427.10" y="736.43" width="3.90" height="1.40" fill="#2978ba"/>
<rect x="427.10" y="737.52" width="3.90" height="1.40" fill="#2775b7"/>
<rect x="427.10" y="738.62" width="3.90" height="1.40" fill="#2572b3"/>
<rect x="427.10" y="739.72" width="3.90" height="1.40" fill="#246faf"/>
<rect x="427.10" y="740.81" width="3.90" height="1.40" fill="#226cac"/>
<rect x="427.10" y="741.90" width="3.90" height="1.40" fill="#2069a8"/>
<text x="433.40" y="689.10" font-size="6.2" fill="#333">12</text>
<text x="433.40" y="700.90" font-size="6.2" fill="#333">10</text>
<text x="433.40" y="712.70" font-size="6.2" fill="#333">8</text>
<text x="433.40" y="724.50" font-size="6.2" fill="#333">6</text>
<text x="433.40" y="736.30" font-size="6.2" fill="#333">4</text>
<text x="451.40" y="682.30" font-size="5.6" fill="#333">sex</text>
<rect x="451.50" y="686.20" width="7.00" height="6.90" fill="#1f1f7c"/>
<rect x="451.50" y="693.10" width="7.00" height="6.90" fill="#e5102c"/>
<text x="460.00" y="691.60" font-size="6.4" fill="#333">Male</text>
<text x="460.00" y="698.70" font-size="6.4" fill="#333">Female</text>
<text x="451.40" y="710.30" font-size="6.9" fill="#333">age group</text>
<rect x="451.50" y="715.80" width="7.00" height="6.80" fill="#f07f68"/>
<text x="460.00" y="721.20" font-size="6.4" fill="#333">0-2</text>
<rect x="451.50" y="722.60" width="7.00" height="6.80" fill="#5db33a"/>
<text x="460.00" y="728.00" font-size="6.4" fill="#333">2-16</text>
<rect x="451.50" y="729.40" width="7.00" height="6.80" fill="#16a2b0"/>
<text x="460.00" y="734.80" font-size="6.4" fill="#333">16-40</text>
<rect x="451.50" y="736.20" width="7.00" height="6.80" fill="#a67cba"/>
<text x="460.00" y="741.60" font-size="6.4" fill="#333">&gt;40</text>
<rect x="0" y="0" width="520" height="1.05" fill="#4a4a4a"/><rect x="0" y="0" width="1.1" height="751" fill="#404040"/><rect x="518.85" y="0" width="1.15" height="751" fill="#3a3a3a"/><rect x="0" y="749.85" width="520" height="1.15" fill="#3a3a3a"/>
</svg>
</body></html>
